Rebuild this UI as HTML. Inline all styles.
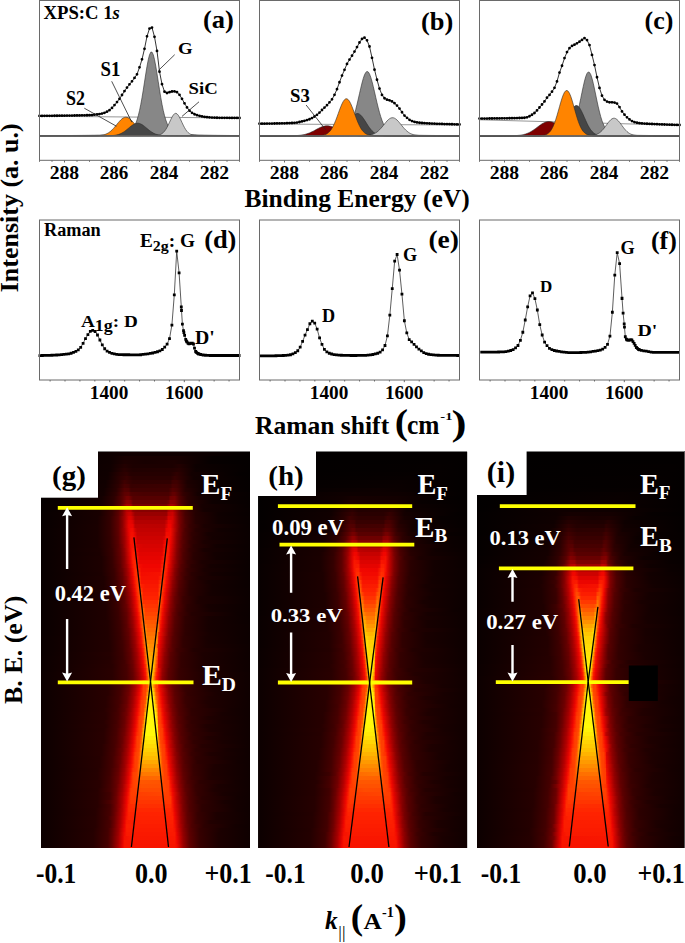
<!DOCTYPE html><html><head><meta charset="utf-8"><style>html,body{margin:0;padding:0;background:#fff;overflow:hidden}svg{display:block}text{font-family:"Liberation Serif",serif}</style></head><body><svg width="685" height="943" viewBox="0 0 685 943"><defs><linearGradient id="r0" gradientUnits="userSpaceOnUse" x1="41" x2="250" y1="0" y2="0"><stop offset="0" stop-color="#030000"/><stop offset="0.35" stop-color="#0e0000"/><stop offset="0.44" stop-color="#110000"/><stop offset="0.69" stop-color="#0f0000"/><stop offset="1" stop-color="#030000"/></linearGradient><linearGradient id="r1" gradientUnits="userSpaceOnUse" x1="41" x2="250" y1="0" y2="0"><stop offset="0" stop-color="#030000"/><stop offset="0.34" stop-color="#0e0000"/><stop offset="0.4" stop-color="#180000"/><stop offset="0.67" stop-color="#160000"/><stop offset="0.82" stop-color="#060000"/><stop offset="1" stop-color="#030000"/></linearGradient><linearGradient id="r2" gradientUnits="userSpaceOnUse" x1="41" x2="250" y1="0" y2="0"><stop offset="0" stop-color="#030000"/><stop offset="0.33" stop-color="#0f0000"/><stop offset="0.4" stop-color="#1d0000"/><stop offset="0.5" stop-color="#180000"/><stop offset="0.64" stop-color="#1c0000"/><stop offset="0.81" stop-color="#070000"/><stop offset="1" stop-color="#040000"/></linearGradient><linearGradient id="r3" gradientUnits="userSpaceOnUse" x1="41" x2="250" y1="0" y2="0"><stop offset="0" stop-color="#030000"/><stop offset="0.33" stop-color="#100000"/><stop offset="0.4" stop-color="#230000"/><stop offset="0.44" stop-color="#1c0000"/><stop offset="0.63" stop-color="#1c0000"/><stop offset="0.66" stop-color="#220000"/><stop offset="0.74" stop-color="#0d0000"/><stop offset="1" stop-color="#040000"/></linearGradient><linearGradient id="r4" gradientUnits="userSpaceOnUse" x1="41" x2="250" y1="0" y2="0"><stop offset="0" stop-color="#030000"/><stop offset="0.33" stop-color="#100000"/><stop offset="0.4" stop-color="#290000"/><stop offset="0.44" stop-color="#200000"/><stop offset="0.63" stop-color="#230000"/><stop offset="0.66" stop-color="#270000"/><stop offset="0.74" stop-color="#0e0000"/><stop offset="1" stop-color="#040000"/></linearGradient><linearGradient id="r5" gradientUnits="userSpaceOnUse" x1="41" x2="250" y1="0" y2="0"><stop offset="0" stop-color="#030000"/><stop offset="0.32" stop-color="#100000"/><stop offset="0.38" stop-color="#280000"/><stop offset="0.41" stop-color="#2f0000"/><stop offset="0.43" stop-color="#250000"/><stop offset="0.62" stop-color="#250000"/><stop offset="0.65" stop-color="#300000"/><stop offset="0.72" stop-color="#130000"/><stop offset="0.95" stop-color="#050000"/><stop offset="1" stop-color="#040000"/></linearGradient><linearGradient id="r6" gradientUnits="userSpaceOnUse" x1="41" x2="250" y1="0" y2="0"><stop offset="0" stop-color="#030000"/><stop offset="0.32" stop-color="#110000"/><stop offset="0.38" stop-color="#2c0000"/><stop offset="0.41" stop-color="#370000"/><stop offset="0.44" stop-color="#2a0000"/><stop offset="0.62" stop-color="#2a0000"/><stop offset="0.64" stop-color="#370000"/><stop offset="0.73" stop-color="#120000"/><stop offset="1" stop-color="#040000"/></linearGradient><linearGradient id="r7" gradientUnits="userSpaceOnUse" x1="41" x2="250" y1="0" y2="0"><stop offset="0" stop-color="#040000"/><stop offset="0.31" stop-color="#110000"/><stop offset="0.37" stop-color="#290000"/><stop offset="0.4" stop-color="#3f0000"/><stop offset="0.44" stop-color="#300000"/><stop offset="0.62" stop-color="#310000"/><stop offset="0.63" stop-color="#3e0000"/><stop offset="0.65" stop-color="#3f0000"/><stop offset="0.7" stop-color="#1c0000"/><stop offset="0.82" stop-color="#090000"/><stop offset="1" stop-color="#050000"/></linearGradient><linearGradient id="r8" gradientUnits="userSpaceOnUse" x1="41" x2="250" y1="0" y2="0"><stop offset="0" stop-color="#040000"/><stop offset="0.31" stop-color="#120000"/><stop offset="0.37" stop-color="#2d0000"/><stop offset="0.4" stop-color="#480000"/><stop offset="0.42" stop-color="#440000"/><stop offset="0.43" stop-color="#370000"/><stop offset="0.62" stop-color="#3c0000"/><stop offset="0.63" stop-color="#480000"/><stop offset="0.65" stop-color="#450000"/><stop offset="0.7" stop-color="#1f0000"/><stop offset="0.8" stop-color="#0b0000"/><stop offset="1" stop-color="#050000"/></linearGradient><linearGradient id="r9" gradientUnits="userSpaceOnUse" x1="41" x2="250" y1="0" y2="0"><stop offset="0" stop-color="#040000"/><stop offset="0.3" stop-color="#120000"/><stop offset="0.36" stop-color="#2a0000"/><stop offset="0.4" stop-color="#530000"/><stop offset="0.42" stop-color="#510000"/><stop offset="0.43" stop-color="#3f0000"/><stop offset="0.61" stop-color="#3f0000"/><stop offset="0.63" stop-color="#540000"/><stop offset="0.65" stop-color="#4c0000"/><stop offset="0.69" stop-color="#270000"/><stop offset="0.78" stop-color="#0e0000"/><stop offset="1" stop-color="#050000"/></linearGradient><linearGradient id="r10" gradientUnits="userSpaceOnUse" x1="41" x2="250" y1="0" y2="0"><stop offset="0" stop-color="#040000"/><stop offset="0.3" stop-color="#130000"/><stop offset="0.36" stop-color="#2f0000"/><stop offset="0.4" stop-color="#5d0000"/><stop offset="0.42" stop-color="#610000"/><stop offset="0.43" stop-color="#4f0000"/><stop offset="0.49" stop-color="#490000"/><stop offset="0.61" stop-color="#490000"/><stop offset="0.63" stop-color="#620000"/><stop offset="0.64" stop-color="#620000"/><stop offset="0.68" stop-color="#330000"/><stop offset="0.75" stop-color="#140000"/><stop offset="1" stop-color="#060000"/></linearGradient><linearGradient id="r11" gradientUnits="userSpaceOnUse" x1="41" x2="250" y1="0" y2="0"><stop offset="0" stop-color="#050000"/><stop offset="0.29" stop-color="#140000"/><stop offset="0.35" stop-color="#2d0000"/><stop offset="0.39" stop-color="#570000"/><stop offset="0.41" stop-color="#750000"/><stop offset="0.42" stop-color="#750000"/><stop offset="0.44" stop-color="#550000"/><stop offset="0.61" stop-color="#550000"/><stop offset="0.62" stop-color="#700000"/><stop offset="0.64" stop-color="#750000"/><stop offset="0.66" stop-color="#500000"/><stop offset="0.7" stop-color="#2a0000"/><stop offset="0.78" stop-color="#110000"/><stop offset="1" stop-color="#060000"/></linearGradient><linearGradient id="r12" gradientUnits="userSpaceOnUse" x1="41" x2="250" y1="0" y2="0"><stop offset="0" stop-color="#050000"/><stop offset="0.28" stop-color="#140000"/><stop offset="0.34" stop-color="#2c0000"/><stop offset="0.38" stop-color="#520000"/><stop offset="0.41" stop-color="#8b0000"/><stop offset="0.42" stop-color="#8b0000"/><stop offset="0.43" stop-color="#7f0000"/><stop offset="0.44" stop-color="#640000"/><stop offset="0.6" stop-color="#640000"/><stop offset="0.61" stop-color="#6d0000"/><stop offset="0.62" stop-color="#890000"/><stop offset="0.64" stop-color="#850000"/><stop offset="0.67" stop-color="#4c0000"/><stop offset="0.72" stop-color="#240000"/><stop offset="0.82" stop-color="#0e0000"/><stop offset="1" stop-color="#070000"/></linearGradient><linearGradient id="r13" gradientUnits="userSpaceOnUse" x1="41" x2="250" y1="0" y2="0"><stop offset="0" stop-color="#060000"/><stop offset="0.28" stop-color="#160000"/><stop offset="0.34" stop-color="#300000"/><stop offset="0.38" stop-color="#5b0000"/><stop offset="0.41" stop-color="#a30000"/><stop offset="0.43" stop-color="#9c0000"/><stop offset="0.44" stop-color="#750000"/><stop offset="0.6" stop-color="#750000"/><stop offset="0.62" stop-color="#a30000"/><stop offset="0.63" stop-color="#a30000"/><stop offset="0.64" stop-color="#950000"/><stop offset="0.66" stop-color="#640000"/><stop offset="0.7" stop-color="#340000"/><stop offset="0.77" stop-color="#170000"/><stop offset="1" stop-color="#070000"/></linearGradient><linearGradient id="r14" gradientUnits="userSpaceOnUse" x1="41" x2="250" y1="0" y2="0"><stop offset="0" stop-color="#060000"/><stop offset="0.28" stop-color="#180000"/><stop offset="0.34" stop-color="#350000"/><stop offset="0.37" stop-color="#540000"/><stop offset="0.39" stop-color="#7a0000"/><stop offset="0.41" stop-color="#b40000"/><stop offset="0.43" stop-color="#b70100"/><stop offset="0.44" stop-color="#910000"/><stop offset="0.46" stop-color="#870000"/><stop offset="0.6" stop-color="#870000"/><stop offset="0.61" stop-color="#aa0000"/><stop offset="0.62" stop-color="#b90100"/><stop offset="0.63" stop-color="#b90100"/><stop offset="0.67" stop-color="#5b0000"/><stop offset="0.71" stop-color="#310000"/><stop offset="0.78" stop-color="#150000"/><stop offset="1" stop-color="#080000"/></linearGradient><linearGradient id="r15" gradientUnits="userSpaceOnUse" x1="41" x2="250" y1="0" y2="0"><stop offset="0" stop-color="#070000"/><stop offset="0.28" stop-color="#190000"/><stop offset="0.34" stop-color="#380000"/><stop offset="0.37" stop-color="#5a0000"/><stop offset="0.39" stop-color="#820000"/><stop offset="0.41" stop-color="#be0100"/><stop offset="0.42" stop-color="#cc0200"/><stop offset="0.43" stop-color="#cc0200"/><stop offset="0.45" stop-color="#980000"/><stop offset="0.6" stop-color="#980000"/><stop offset="0.61" stop-color="#c30200"/><stop offset="0.63" stop-color="#cc0200"/><stop offset="0.66" stop-color="#760000"/><stop offset="0.69" stop-color="#460000"/><stop offset="0.74" stop-color="#240000"/><stop offset="0.85" stop-color="#0f0000"/><stop offset="1" stop-color="#080000"/></linearGradient><linearGradient id="r16" gradientUnits="userSpaceOnUse" x1="41" x2="250" y1="0" y2="0"><stop offset="0" stop-color="#070000"/><stop offset="0.27" stop-color="#180000"/><stop offset="0.33" stop-color="#330000"/><stop offset="0.37" stop-color="#5d0000"/><stop offset="0.4" stop-color="#a50000"/><stop offset="0.42" stop-color="#db0300"/><stop offset="0.43" stop-color="#db0300"/><stop offset="0.44" stop-color="#c80200"/><stop offset="0.45" stop-color="#a70000"/><stop offset="0.59" stop-color="#a70000"/><stop offset="0.6" stop-color="#af0000"/><stop offset="0.61" stop-color="#d80300"/><stop offset="0.63" stop-color="#d50300"/><stop offset="0.66" stop-color="#7b0000"/><stop offset="0.69" stop-color="#490000"/><stop offset="0.74" stop-color="#250000"/><stop offset="0.85" stop-color="#100000"/><stop offset="1" stop-color="#090000"/></linearGradient><linearGradient id="r17" gradientUnits="userSpaceOnUse" x1="41" x2="250" y1="0" y2="0"><stop offset="0" stop-color="#070000"/><stop offset="0.27" stop-color="#190000"/><stop offset="0.33" stop-color="#340000"/><stop offset="0.37" stop-color="#5f0000"/><stop offset="0.39" stop-color="#8a0000"/><stop offset="0.42" stop-color="#e70400"/><stop offset="0.43" stop-color="#e70400"/><stop offset="0.44" stop-color="#dc0300"/><stop offset="0.45" stop-color="#b30000"/><stop offset="0.59" stop-color="#b30000"/><stop offset="0.6" stop-color="#c60200"/><stop offset="0.61" stop-color="#e70400"/><stop offset="0.62" stop-color="#e70400"/><stop offset="0.63" stop-color="#d80300"/><stop offset="0.66" stop-color="#7e0000"/><stop offset="0.69" stop-color="#4b0000"/><stop offset="0.74" stop-color="#260000"/><stop offset="0.85" stop-color="#100000"/><stop offset="1" stop-color="#090000"/></linearGradient><linearGradient id="r18" gradientUnits="userSpaceOnUse" x1="41" x2="250" y1="0" y2="0"><stop offset="0" stop-color="#070000"/><stop offset="0.27" stop-color="#1a0000"/><stop offset="0.33" stop-color="#340000"/><stop offset="0.37" stop-color="#5f0000"/><stop offset="0.39" stop-color="#8a0000"/><stop offset="0.42" stop-color="#eb0500"/><stop offset="0.44" stop-color="#ec0500"/><stop offset="0.45" stop-color="#bd0100"/><stop offset="0.59" stop-color="#bb0100"/><stop offset="0.61" stop-color="#f00500"/><stop offset="0.62" stop-color="#f00500"/><stop offset="0.64" stop-color="#b70100"/><stop offset="0.67" stop-color="#680000"/><stop offset="0.71" stop-color="#380000"/><stop offset="0.78" stop-color="#1b0000"/><stop offset="1" stop-color="#090000"/></linearGradient><linearGradient id="r19" gradientUnits="userSpaceOnUse" x1="41" x2="250" y1="0" y2="0"><stop offset="0" stop-color="#080000"/><stop offset="0.27" stop-color="#1a0000"/><stop offset="0.33" stop-color="#340000"/><stop offset="0.37" stop-color="#5e0000"/><stop offset="0.4" stop-color="#a60000"/><stop offset="0.42" stop-color="#e90400"/><stop offset="0.43" stop-color="#f30a00"/><stop offset="0.44" stop-color="#f20a00"/><stop offset="0.45" stop-color="#d20300"/><stop offset="0.46" stop-color="#c20100"/><stop offset="0.59" stop-color="#c20100"/><stop offset="0.6" stop-color="#eb0500"/><stop offset="0.62" stop-color="#f30a00"/><stop offset="0.66" stop-color="#7d0000"/><stop offset="0.69" stop-color="#4a0000"/><stop offset="0.74" stop-color="#270000"/><stop offset="0.85" stop-color="#110000"/><stop offset="1" stop-color="#0a0000"/></linearGradient><linearGradient id="r20" gradientUnits="userSpaceOnUse" x1="41" x2="250" y1="0" y2="0"><stop offset="0" stop-color="#080000"/><stop offset="0.27" stop-color="#1a0000"/><stop offset="0.33" stop-color="#340000"/><stop offset="0.37" stop-color="#5d0000"/><stop offset="0.4" stop-color="#a30000"/><stop offset="0.42" stop-color="#e50400"/><stop offset="0.43" stop-color="#f50e00"/><stop offset="0.44" stop-color="#f50e00"/><stop offset="0.45" stop-color="#e40400"/><stop offset="0.46" stop-color="#c70200"/><stop offset="0.59" stop-color="#c70200"/><stop offset="0.6" stop-color="#f30b00"/><stop offset="0.62" stop-color="#f30b00"/><stop offset="0.65" stop-color="#940000"/><stop offset="0.68" stop-color="#560000"/><stop offset="0.72" stop-color="#310000"/><stop offset="0.8" stop-color="#160000"/><stop offset="1" stop-color="#0a0000"/></linearGradient><linearGradient id="r21" gradientUnits="userSpaceOnUse" x1="41" x2="250" y1="0" y2="0"><stop offset="0" stop-color="#080000"/><stop offset="0.27" stop-color="#1a0000"/><stop offset="0.33" stop-color="#330000"/><stop offset="0.37" stop-color="#5b0000"/><stop offset="0.4" stop-color="#9f0000"/><stop offset="0.42" stop-color="#e00400"/><stop offset="0.43" stop-color="#f61200"/><stop offset="0.44" stop-color="#f61200"/><stop offset="0.45" stop-color="#f10700"/><stop offset="0.46" stop-color="#cd0200"/><stop offset="0.58" stop-color="#cd0200"/><stop offset="0.59" stop-color="#d90300"/><stop offset="0.6" stop-color="#f61100"/><stop offset="0.61" stop-color="#f61200"/><stop offset="0.62" stop-color="#f10800"/><stop offset="0.65" stop-color="#910000"/><stop offset="0.68" stop-color="#540000"/><stop offset="0.73" stop-color="#2b0000"/><stop offset="0.82" stop-color="#140000"/><stop offset="1" stop-color="#0a0000"/></linearGradient><linearGradient id="r22" gradientUnits="userSpaceOnUse" x1="41" x2="250" y1="0" y2="0"><stop offset="0" stop-color="#080000"/><stop offset="0.27" stop-color="#1a0000"/><stop offset="0.33" stop-color="#330000"/><stop offset="0.37" stop-color="#5a0000"/><stop offset="0.4" stop-color="#9c0000"/><stop offset="0.42" stop-color="#db0300"/><stop offset="0.43" stop-color="#f71300"/><stop offset="0.45" stop-color="#f61000"/><stop offset="0.46" stop-color="#d20300"/><stop offset="0.58" stop-color="#d20300"/><stop offset="0.59" stop-color="#eb0500"/><stop offset="0.6" stop-color="#f81500"/><stop offset="0.61" stop-color="#f81500"/><stop offset="0.62" stop-color="#ef0500"/><stop offset="0.65" stop-color="#8d0000"/><stop offset="0.67" stop-color="#610000"/><stop offset="0.71" stop-color="#360000"/><stop offset="0.78" stop-color="#1b0000"/><stop offset="1" stop-color="#0a0000"/></linearGradient><linearGradient id="r23" gradientUnits="userSpaceOnUse" x1="41" x2="250" y1="0" y2="0"><stop offset="0" stop-color="#080000"/><stop offset="0.27" stop-color="#1a0000"/><stop offset="0.33" stop-color="#320000"/><stop offset="0.37" stop-color="#580000"/><stop offset="0.39" stop-color="#7e0000"/><stop offset="0.42" stop-color="#d70300"/><stop offset="0.43" stop-color="#f50f00"/><stop offset="0.45" stop-color="#f91700"/><stop offset="0.46" stop-color="#de0400"/><stop offset="0.49" stop-color="#d70300"/><stop offset="0.58" stop-color="#d70300"/><stop offset="0.59" stop-color="#f40d00"/><stop offset="0.6" stop-color="#fa1800"/><stop offset="0.61" stop-color="#fa1800"/><stop offset="0.62" stop-color="#e90400"/><stop offset="0.65" stop-color="#8a0000"/><stop offset="0.68" stop-color="#510000"/><stop offset="0.73" stop-color="#2a0000"/><stop offset="0.84" stop-color="#120000"/><stop offset="1" stop-color="#0a0000"/></linearGradient><linearGradient id="r24" gradientUnits="userSpaceOnUse" x1="41" x2="250" y1="0" y2="0"><stop offset="0" stop-color="#080000"/><stop offset="0.28" stop-color="#1c0000"/><stop offset="0.34" stop-color="#380000"/><stop offset="0.38" stop-color="#660000"/><stop offset="0.4" stop-color="#940000"/><stop offset="0.43" stop-color="#f30b00"/><stop offset="0.44" stop-color="#fb1b00"/><stop offset="0.45" stop-color="#fb1c00"/><stop offset="0.46" stop-color="#f00600"/><stop offset="0.47" stop-color="#dc0300"/><stop offset="0.58" stop-color="#dc0300"/><stop offset="0.59" stop-color="#f91600"/><stop offset="0.61" stop-color="#fb1a00"/><stop offset="0.62" stop-color="#e40400"/><stop offset="0.65" stop-color="#870000"/><stop offset="0.67" stop-color="#5d0000"/><stop offset="0.71" stop-color="#340000"/><stop offset="0.78" stop-color="#190000"/><stop offset="1" stop-color="#0a0000"/></linearGradient><linearGradient id="r25" gradientUnits="userSpaceOnUse" x1="41" x2="250" y1="0" y2="0"><stop offset="0" stop-color="#080000"/><stop offset="0.28" stop-color="#1b0000"/><stop offset="0.34" stop-color="#370000"/><stop offset="0.38" stop-color="#640000"/><stop offset="0.4" stop-color="#900000"/><stop offset="0.43" stop-color="#f10700"/><stop offset="0.44" stop-color="#fd1f00"/><stop offset="0.45" stop-color="#fd1f00"/><stop offset="0.46" stop-color="#f61100"/><stop offset="0.47" stop-color="#e10400"/><stop offset="0.58" stop-color="#e30400"/><stop offset="0.59" stop-color="#fc1d00"/><stop offset="0.6" stop-color="#fd1f00"/><stop offset="0.61" stop-color="#f81600"/><stop offset="0.62" stop-color="#df0400"/><stop offset="0.65" stop-color="#830000"/><stop offset="0.68" stop-color="#4e0000"/><stop offset="0.73" stop-color="#290000"/><stop offset="0.83" stop-color="#130000"/><stop offset="1" stop-color="#0a0000"/></linearGradient><linearGradient id="r26" gradientUnits="userSpaceOnUse" x1="41" x2="250" y1="0" y2="0"><stop offset="0" stop-color="#080000"/><stop offset="0.29" stop-color="#1d0000"/><stop offset="0.34" stop-color="#360000"/><stop offset="0.38" stop-color="#610000"/><stop offset="0.4" stop-color="#8c0000"/><stop offset="0.43" stop-color="#ed0500"/><stop offset="0.44" stop-color="#fe2100"/><stop offset="0.46" stop-color="#fb1b00"/><stop offset="0.47" stop-color="#e60400"/><stop offset="0.57" stop-color="#e60400"/><stop offset="0.58" stop-color="#f20a00"/><stop offset="0.59" stop-color="#fe2200"/><stop offset="0.6" stop-color="#fe2200"/><stop offset="0.61" stop-color="#f61100"/><stop offset="0.62" stop-color="#da0300"/><stop offset="0.65" stop-color="#800000"/><stop offset="0.68" stop-color="#4d0000"/><stop offset="0.73" stop-color="#280000"/><stop offset="0.84" stop-color="#120000"/><stop offset="1" stop-color="#0a0000"/></linearGradient><linearGradient id="r27" gradientUnits="userSpaceOnUse" x1="41" x2="250" y1="0" y2="0"><stop offset="0" stop-color="#080000"/><stop offset="0.29" stop-color="#1d0000"/><stop offset="0.34" stop-color="#350000"/><stop offset="0.38" stop-color="#5f0000"/><stop offset="0.4" stop-color="#880000"/><stop offset="0.43" stop-color="#e60400"/><stop offset="0.44" stop-color="#fc1c00"/><stop offset="0.45" stop-color="#ff2600"/><stop offset="0.46" stop-color="#ff2300"/><stop offset="0.47" stop-color="#eb0500"/><stop offset="0.57" stop-color="#eb0500"/><stop offset="0.59" stop-color="#ff2600"/><stop offset="0.6" stop-color="#ff2600"/><stop offset="0.61" stop-color="#f40d00"/><stop offset="0.63" stop-color="#b40000"/><stop offset="0.66" stop-color="#670000"/><stop offset="0.7" stop-color="#390000"/><stop offset="0.77" stop-color="#1c0000"/><stop offset="1" stop-color="#0a0000"/></linearGradient><linearGradient id="r28" gradientUnits="userSpaceOnUse" x1="41" x2="250" y1="0" y2="0"><stop offset="0" stop-color="#080000"/><stop offset="0.29" stop-color="#1d0000"/><stop offset="0.34" stop-color="#340000"/><stop offset="0.38" stop-color="#5b0000"/><stop offset="0.41" stop-color="#9e0000"/><stop offset="0.43" stop-color="#de0400"/><stop offset="0.44" stop-color="#f81500"/><stop offset="0.45" stop-color="#ff2900"/><stop offset="0.46" stop-color="#ff2c00"/><stop offset="0.47" stop-color="#f40d00"/><stop offset="0.49" stop-color="#f00500"/><stop offset="0.57" stop-color="#f00500"/><stop offset="0.58" stop-color="#fe2000"/><stop offset="0.59" stop-color="#ff2b00"/><stop offset="0.6" stop-color="#ff2700"/><stop offset="0.61" stop-color="#f00600"/><stop offset="0.64" stop-color="#900000"/><stop offset="0.67" stop-color="#540000"/><stop offset="0.72" stop-color="#2c0000"/><stop offset="0.81" stop-color="#150000"/><stop offset="1" stop-color="#0a0000"/></linearGradient><linearGradient id="r29" gradientUnits="userSpaceOnUse" x1="41" x2="250" y1="0" y2="0"><stop offset="0" stop-color="#080000"/><stop offset="0.29" stop-color="#1d0000"/><stop offset="0.35" stop-color="#390000"/><stop offset="0.39" stop-color="#690000"/><stop offset="0.41" stop-color="#970000"/><stop offset="0.43" stop-color="#d50300"/><stop offset="0.44" stop-color="#f40e00"/><stop offset="0.45" stop-color="#ff2a00"/><stop offset="0.46" stop-color="#ff3200"/><stop offset="0.48" stop-color="#f20900"/><stop offset="0.57" stop-color="#f20900"/><stop offset="0.58" stop-color="#ff2e00"/><stop offset="0.59" stop-color="#ff2e00"/><stop offset="0.6" stop-color="#fd1e00"/><stop offset="0.61" stop-color="#e80400"/><stop offset="0.64" stop-color="#8a0000"/><stop offset="0.66" stop-color="#600000"/><stop offset="0.7" stop-color="#360000"/><stop offset="0.78" stop-color="#1a0000"/><stop offset="1" stop-color="#0a0000"/></linearGradient><linearGradient id="r30" gradientUnits="userSpaceOnUse" x1="41" x2="250" y1="0" y2="0"><stop offset="0" stop-color="#080000"/><stop offset="0.29" stop-color="#1c0000"/><stop offset="0.35" stop-color="#380000"/><stop offset="0.39" stop-color="#640000"/><stop offset="0.42" stop-color="#af0000"/><stop offset="0.44" stop-color="#f10700"/><stop offset="0.45" stop-color="#ff2a00"/><stop offset="0.46" stop-color="#ff3600"/><stop offset="0.47" stop-color="#ff2700"/><stop offset="0.48" stop-color="#f40c00"/><stop offset="0.57" stop-color="#f61100"/><stop offset="0.58" stop-color="#ff3900"/><stop offset="0.59" stop-color="#ff2f00"/><stop offset="0.6" stop-color="#f91700"/><stop offset="0.61" stop-color="#df0400"/><stop offset="0.64" stop-color="#840000"/><stop offset="0.67" stop-color="#4f0000"/><stop offset="0.72" stop-color="#2a0000"/><stop offset="0.82" stop-color="#140000"/><stop offset="1" stop-color="#0a0000"/></linearGradient><linearGradient id="r31" gradientUnits="userSpaceOnUse" x1="41" x2="250" y1="0" y2="0"><stop offset="0" stop-color="#080000"/><stop offset="0.3" stop-color="#1e0000"/><stop offset="0.35" stop-color="#370000"/><stop offset="0.39" stop-color="#610000"/><stop offset="0.41" stop-color="#8b0000"/><stop offset="0.44" stop-color="#ea0500"/><stop offset="0.45" stop-color="#fe2000"/><stop offset="0.46" stop-color="#ff3700"/><stop offset="0.47" stop-color="#ff3900"/><stop offset="0.48" stop-color="#f61000"/><stop offset="0.56" stop-color="#f61000"/><stop offset="0.57" stop-color="#fc1e00"/><stop offset="0.58" stop-color="#ff3e00"/><stop offset="0.59" stop-color="#ff2e00"/><stop offset="0.6" stop-color="#f50f00"/><stop offset="0.62" stop-color="#b70100"/><stop offset="0.65" stop-color="#6a0000"/><stop offset="0.69" stop-color="#3a0000"/><stop offset="0.76" stop-color="#1d0000"/><stop offset="1" stop-color="#0a0000"/></linearGradient><linearGradient id="r32" gradientUnits="userSpaceOnUse" x1="41" x2="250" y1="0" y2="0"><stop offset="0" stop-color="#080000"/><stop offset="0.3" stop-color="#1e0000"/><stop offset="0.36" stop-color="#3c0000"/><stop offset="0.39" stop-color="#5d0000"/><stop offset="0.41" stop-color="#850000"/><stop offset="0.44" stop-color="#e10400"/><stop offset="0.45" stop-color="#fa1800"/><stop offset="0.46" stop-color="#ff3600"/><stop offset="0.47" stop-color="#ff4500"/><stop offset="0.48" stop-color="#f71400"/><stop offset="0.56" stop-color="#f71400"/><stop offset="0.57" stop-color="#ff3000"/><stop offset="0.58" stop-color="#ff4100"/><stop offset="0.59" stop-color="#ff2d00"/><stop offset="0.6" stop-color="#f20800"/><stop offset="0.63" stop-color="#920000"/><stop offset="0.66" stop-color="#560000"/><stop offset="0.71" stop-color="#2d0000"/><stop offset="0.8" stop-color="#160000"/><stop offset="1" stop-color="#0a0000"/></linearGradient><linearGradient id="r33" gradientUnits="userSpaceOnUse" x1="41" x2="250" y1="0" y2="0"><stop offset="0" stop-color="#080000"/><stop offset="0.3" stop-color="#1e0000"/><stop offset="0.36" stop-color="#3b0000"/><stop offset="0.4" stop-color="#6b0000"/><stop offset="0.43" stop-color="#b80100"/><stop offset="0.44" stop-color="#d90300"/><stop offset="0.45" stop-color="#f61100"/><stop offset="0.46" stop-color="#ff3400"/><stop offset="0.47" stop-color="#ff4b00"/><stop offset="0.48" stop-color="#fe2200"/><stop offset="0.5" stop-color="#f91800"/><stop offset="0.56" stop-color="#f91800"/><stop offset="0.57" stop-color="#ff4300"/><stop offset="0.58" stop-color="#ff4100"/><stop offset="0.59" stop-color="#ff2200"/><stop offset="0.6" stop-color="#ec0500"/><stop offset="0.63" stop-color="#8d0000"/><stop offset="0.66" stop-color="#540000"/><stop offset="0.71" stop-color="#2c0000"/><stop offset="0.82" stop-color="#140000"/><stop offset="1" stop-color="#0a0000"/></linearGradient><linearGradient id="r34" gradientUnits="userSpaceOnUse" x1="41" x2="250" y1="0" y2="0"><stop offset="0" stop-color="#080000"/><stop offset="0.3" stop-color="#1e0000"/><stop offset="0.36" stop-color="#390000"/><stop offset="0.4" stop-color="#670000"/><stop offset="0.43" stop-color="#b20000"/><stop offset="0.45" stop-color="#f20a00"/><stop offset="0.46" stop-color="#ff3000"/><stop offset="0.47" stop-color="#ff4d00"/><stop offset="0.48" stop-color="#ff3a00"/><stop offset="0.49" stop-color="#fb1b00"/><stop offset="0.56" stop-color="#fb1b00"/><stop offset="0.57" stop-color="#ff5000"/><stop offset="0.58" stop-color="#ff3e00"/><stop offset="0.59" stop-color="#fa1a00"/><stop offset="0.6" stop-color="#e30400"/><stop offset="0.63" stop-color="#870000"/><stop offset="0.66" stop-color="#510000"/><stop offset="0.71" stop-color="#2b0000"/><stop offset="0.82" stop-color="#140000"/><stop offset="1" stop-color="#0b0000"/></linearGradient><linearGradient id="r35" gradientUnits="userSpaceOnUse" x1="41" x2="250" y1="0" y2="0"><stop offset="0" stop-color="#080000"/><stop offset="0.3" stop-color="#1d0000"/><stop offset="0.36" stop-color="#380000"/><stop offset="0.4" stop-color="#630000"/><stop offset="0.43" stop-color="#ab0000"/><stop offset="0.45" stop-color="#ed0500"/><stop offset="0.46" stop-color="#ff2600"/><stop offset="0.47" stop-color="#ff4b00"/><stop offset="0.48" stop-color="#ff4e00"/><stop offset="0.49" stop-color="#fd1f00"/><stop offset="0.56" stop-color="#fd1f00"/><stop offset="0.56" stop-color="#ff2800"/><stop offset="0.57" stop-color="#ff5700"/><stop offset="0.59" stop-color="#f71200"/><stop offset="0.6" stop-color="#da0300"/><stop offset="0.63" stop-color="#810000"/><stop offset="0.66" stop-color="#4e0000"/><stop offset="0.71" stop-color="#2b0000"/><stop offset="0.81" stop-color="#150000"/><stop offset="1" stop-color="#0b0000"/></linearGradient><linearGradient id="r36" gradientUnits="userSpaceOnUse" x1="41" x2="250" y1="0" y2="0"><stop offset="0" stop-color="#090000"/><stop offset="0.3" stop-color="#1d0000"/><stop offset="0.36" stop-color="#370000"/><stop offset="0.4" stop-color="#5f0000"/><stop offset="0.43" stop-color="#a40000"/><stop offset="0.45" stop-color="#e40400"/><stop offset="0.46" stop-color="#fb1c00"/><stop offset="0.47" stop-color="#ff4600"/><stop offset="0.48" stop-color="#ff5c00"/><stop offset="0.49" stop-color="#ff2300"/><stop offset="0.56" stop-color="#ff2300"/><stop offset="0.57" stop-color="#ff5900"/><stop offset="0.58" stop-color="#ff3400"/><stop offset="0.59" stop-color="#f30b00"/><stop offset="0.62" stop-color="#960000"/><stop offset="0.64" stop-color="#680000"/><stop offset="0.68" stop-color="#3a0000"/><stop offset="0.76" stop-color="#1c0000"/><stop offset="1" stop-color="#0b0000"/></linearGradient><linearGradient id="r37" gradientUnits="userSpaceOnUse" x1="41" x2="250" y1="0" y2="0"><stop offset="0" stop-color="#090000"/><stop offset="0.31" stop-color="#1f0000"/><stop offset="0.36" stop-color="#360000"/><stop offset="0.4" stop-color="#5c0000"/><stop offset="0.43" stop-color="#9d0000"/><stop offset="0.45" stop-color="#dc0300"/><stop offset="0.46" stop-color="#f71400"/><stop offset="0.48" stop-color="#ff6400"/><stop offset="0.49" stop-color="#ff3000"/><stop offset="0.56" stop-color="#ff2b00"/><stop offset="0.56" stop-color="#ff5800"/><stop offset="0.57" stop-color="#ff5600"/><stop offset="0.58" stop-color="#ff2b00"/><stop offset="0.59" stop-color="#ef0500"/><stop offset="0.62" stop-color="#900000"/><stop offset="0.64" stop-color="#640000"/><stop offset="0.68" stop-color="#390000"/><stop offset="0.75" stop-color="#1e0000"/><stop offset="1" stop-color="#0b0000"/></linearGradient><linearGradient id="r38" gradientUnits="userSpaceOnUse" x1="41" x2="250" y1="0" y2="0"><stop offset="0" stop-color="#090000"/><stop offset="0.31" stop-color="#1f0000"/><stop offset="0.37" stop-color="#3b0000"/><stop offset="0.41" stop-color="#690000"/><stop offset="0.44" stop-color="#b50000"/><stop offset="0.46" stop-color="#f40d00"/><stop offset="0.47" stop-color="#ff3900"/><stop offset="0.48" stop-color="#ff6500"/><stop offset="0.5" stop-color="#ff3400"/><stop offset="0.56" stop-color="#ff3400"/><stop offset="0.56" stop-color="#ff6800"/><stop offset="0.57" stop-color="#ff4f00"/><stop offset="0.58" stop-color="#fc1e00"/><stop offset="0.59" stop-color="#e60400"/><stop offset="0.62" stop-color="#8a0000"/><stop offset="0.65" stop-color="#530000"/><stop offset="0.7" stop-color="#2d0000"/><stop offset="0.8" stop-color="#160000"/><stop offset="1" stop-color="#0b0000"/></linearGradient><linearGradient id="r39" gradientUnits="userSpaceOnUse" x1="41" x2="250" y1="0" y2="0"><stop offset="0" stop-color="#090000"/><stop offset="0.31" stop-color="#1f0000"/><stop offset="0.37" stop-color="#3a0000"/><stop offset="0.41" stop-color="#660000"/><stop offset="0.43" stop-color="#910000"/><stop offset="0.46" stop-color="#f00600"/><stop offset="0.47" stop-color="#ff3100"/><stop offset="0.48" stop-color="#ff6100"/><stop offset="0.49" stop-color="#ff6300"/><stop offset="0.5" stop-color="#ff3c00"/><stop offset="0.56" stop-color="#ff3c00"/><stop offset="0.56" stop-color="#ff7000"/><stop offset="0.58" stop-color="#f81600"/><stop offset="0.59" stop-color="#de0400"/><stop offset="0.62" stop-color="#840000"/><stop offset="0.65" stop-color="#510000"/><stop offset="0.7" stop-color="#2c0000"/><stop offset="0.81" stop-color="#160000"/><stop offset="1" stop-color="#0b0000"/></linearGradient><linearGradient id="r40" gradientUnits="userSpaceOnUse" x1="41" x2="250" y1="0" y2="0"><stop offset="0" stop-color="#090000"/><stop offset="0.31" stop-color="#1f0000"/><stop offset="0.37" stop-color="#390000"/><stop offset="0.41" stop-color="#620000"/><stop offset="0.43" stop-color="#8b0000"/><stop offset="0.46" stop-color="#e80400"/><stop offset="0.47" stop-color="#fd2000"/><stop offset="0.48" stop-color="#ff5900"/><stop offset="0.49" stop-color="#ff7300"/><stop offset="0.5" stop-color="#ff4400"/><stop offset="0.55" stop-color="#ff4400"/><stop offset="0.56" stop-color="#ff5500"/><stop offset="0.56" stop-color="#ff7200"/><stop offset="0.58" stop-color="#f50e00"/><stop offset="0.6" stop-color="#b60100"/><stop offset="0.63" stop-color="#6b0000"/><stop offset="0.66" stop-color="#440000"/><stop offset="0.72" stop-color="#250000"/><stop offset="0.94" stop-color="#0e0000"/><stop offset="1" stop-color="#0b0000"/></linearGradient><linearGradient id="r41" gradientUnits="userSpaceOnUse" x1="41" x2="250" y1="0" y2="0"><stop offset="0" stop-color="#090000"/><stop offset="0.31" stop-color="#1f0000"/><stop offset="0.37" stop-color="#380000"/><stop offset="0.41" stop-color="#5f0000"/><stop offset="0.44" stop-color="#a10000"/><stop offset="0.46" stop-color="#e00400"/><stop offset="0.47" stop-color="#f91700"/><stop offset="0.49" stop-color="#ff7d00"/><stop offset="0.5" stop-color="#ff4d00"/><stop offset="0.55" stop-color="#ff4d00"/><stop offset="0.56" stop-color="#ff6d00"/><stop offset="0.56" stop-color="#ff6d00"/><stop offset="0.57" stop-color="#ff3700"/><stop offset="0.58" stop-color="#f10700"/><stop offset="0.61" stop-color="#930000"/><stop offset="0.64" stop-color="#580000"/><stop offset="0.69" stop-color="#2f0000"/><stop offset="0.8" stop-color="#170000"/><stop offset="1" stop-color="#0b0000"/></linearGradient><linearGradient id="r42" gradientUnits="userSpaceOnUse" x1="41" x2="250" y1="0" y2="0"><stop offset="0" stop-color="#090000"/><stop offset="0.32" stop-color="#210000"/><stop offset="0.38" stop-color="#3d0000"/><stop offset="0.41" stop-color="#5c0000"/><stop offset="0.44" stop-color="#9b0000"/><stop offset="0.46" stop-color="#d80300"/><stop offset="0.47" stop-color="#f51000"/><stop offset="0.49" stop-color="#ff7f00"/><stop offset="0.5" stop-color="#ff5d00"/><stop offset="0.53" stop-color="#ff5600"/><stop offset="0.55" stop-color="#ff5600"/><stop offset="0.56" stop-color="#ff7e00"/><stop offset="0.56" stop-color="#ff6300"/><stop offset="0.57" stop-color="#ff2200"/><stop offset="0.58" stop-color="#ea0500"/><stop offset="0.61" stop-color="#8d0000"/><stop offset="0.64" stop-color="#550000"/><stop offset="0.69" stop-color="#2f0000"/><stop offset="0.8" stop-color="#170000"/><stop offset="1" stop-color="#0b0000"/></linearGradient><linearGradient id="r43" gradientUnits="userSpaceOnUse" x1="41" x2="250" y1="0" y2="0"><stop offset="0" stop-color="#090000"/><stop offset="0.32" stop-color="#210000"/><stop offset="0.38" stop-color="#3c0000"/><stop offset="0.41" stop-color="#590000"/><stop offset="0.44" stop-color="#950000"/><stop offset="0.47" stop-color="#f20900"/><stop offset="0.48" stop-color="#ff3b00"/><stop offset="0.49" stop-color="#ff7900"/><stop offset="0.5" stop-color="#ff7700"/><stop offset="0.51" stop-color="#ff5e00"/><stop offset="0.55" stop-color="#ff5e00"/><stop offset="0.56" stop-color="#ff8900"/><stop offset="0.57" stop-color="#fa1900"/><stop offset="0.58" stop-color="#e20400"/><stop offset="0.61" stop-color="#880000"/><stop offset="0.64" stop-color="#530000"/><stop offset="0.69" stop-color="#2e0000"/><stop offset="0.8" stop-color="#170000"/><stop offset="1" stop-color="#0c0000"/></linearGradient><linearGradient id="r44" gradientUnits="userSpaceOnUse" x1="41" x2="250" y1="0" y2="0"><stop offset="0" stop-color="#090000"/><stop offset="0.32" stop-color="#210000"/><stop offset="0.38" stop-color="#3b0000"/><stop offset="0.42" stop-color="#650000"/><stop offset="0.44" stop-color="#8f0000"/><stop offset="0.47" stop-color="#ec0500"/><stop offset="0.48" stop-color="#ff2600"/><stop offset="0.49" stop-color="#ff6e00"/><stop offset="0.5" stop-color="#ff8a00"/><stop offset="0.51" stop-color="#ff6700"/><stop offset="0.55" stop-color="#ff6700"/><stop offset="0.56" stop-color="#ff8c00"/><stop offset="0.57" stop-color="#f61100"/><stop offset="0.58" stop-color="#da0300"/><stop offset="0.61" stop-color="#830000"/><stop offset="0.64" stop-color="#510000"/><stop offset="0.69" stop-color="#2e0000"/><stop offset="0.8" stop-color="#170000"/><stop offset="1" stop-color="#0c0000"/></linearGradient><linearGradient id="r45" gradientUnits="userSpaceOnUse" x1="41" x2="250" y1="0" y2="0"><stop offset="0" stop-color="#090000"/><stop offset="0.32" stop-color="#210000"/><stop offset="0.38" stop-color="#3a0000"/><stop offset="0.42" stop-color="#620000"/><stop offset="0.45" stop-color="#a50000"/><stop offset="0.47" stop-color="#e40400"/><stop offset="0.48" stop-color="#fb1b00"/><stop offset="0.49" stop-color="#ff6000"/><stop offset="0.5" stop-color="#ff9500"/><stop offset="0.51" stop-color="#ff7000"/><stop offset="0.54" stop-color="#ff7000"/><stop offset="0.56" stop-color="#ff8600"/><stop offset="0.56" stop-color="#ff4000"/><stop offset="0.57" stop-color="#f30a00"/><stop offset="0.61" stop-color="#7e0000"/><stop offset="0.64" stop-color="#4f0000"/><stop offset="0.69" stop-color="#2d0000"/><stop offset="0.81" stop-color="#170000"/><stop offset="1" stop-color="#0c0000"/></linearGradient><linearGradient id="r46" gradientUnits="userSpaceOnUse" x1="41" x2="250" y1="0" y2="0"><stop offset="0" stop-color="#0a0000"/><stop offset="0.32" stop-color="#210000"/><stop offset="0.38" stop-color="#390000"/><stop offset="0.42" stop-color="#5f0000"/><stop offset="0.45" stop-color="#9f0000"/><stop offset="0.47" stop-color="#dc0300"/><stop offset="0.48" stop-color="#f71300"/><stop offset="0.5" stop-color="#ff9900"/><stop offset="0.51" stop-color="#ff7900"/><stop offset="0.54" stop-color="#ff7900"/><stop offset="0.55" stop-color="#ff9500"/><stop offset="0.56" stop-color="#ff7a00"/><stop offset="0.56" stop-color="#ff2c00"/><stop offset="0.57" stop-color="#ee0500"/><stop offset="0.6" stop-color="#910000"/><stop offset="0.63" stop-color="#580000"/><stop offset="0.68" stop-color="#310000"/><stop offset="0.79" stop-color="#190000"/><stop offset="1" stop-color="#0c0000"/></linearGradient><linearGradient id="r47" gradientUnits="userSpaceOnUse" x1="41" x2="250" y1="0" y2="0"><stop offset="0" stop-color="#0a0000"/><stop offset="0.33" stop-color="#230000"/><stop offset="0.39" stop-color="#3f0000"/><stop offset="0.42" stop-color="#5c0000"/><stop offset="0.45" stop-color="#990000"/><stop offset="0.48" stop-color="#f40c00"/><stop offset="0.49" stop-color="#ff4500"/><stop offset="0.5" stop-color="#ff9300"/><stop offset="0.52" stop-color="#ff8300"/><stop offset="0.54" stop-color="#ff8300"/><stop offset="0.55" stop-color="#ffa200"/><stop offset="0.56" stop-color="#ff6900"/><stop offset="0.56" stop-color="#fc1d00"/><stop offset="0.57" stop-color="#e60400"/><stop offset="0.6" stop-color="#8c0000"/><stop offset="0.63" stop-color="#560000"/><stop offset="0.68" stop-color="#300000"/><stop offset="0.8" stop-color="#180000"/><stop offset="1" stop-color="#0c0000"/></linearGradient><linearGradient id="r48" gradientUnits="userSpaceOnUse" x1="41" x2="250" y1="0" y2="0"><stop offset="0" stop-color="#0a0000"/><stop offset="0.33" stop-color="#230000"/><stop offset="0.39" stop-color="#3e0000"/><stop offset="0.42" stop-color="#5a0000"/><stop offset="0.45" stop-color="#930000"/><stop offset="0.48" stop-color="#f00600"/><stop offset="0.49" stop-color="#ff3200"/><stop offset="0.5" stop-color="#ff8600"/><stop offset="0.51" stop-color="#ffa000"/><stop offset="0.52" stop-color="#ff8c00"/><stop offset="0.54" stop-color="#ff8c00"/><stop offset="0.55" stop-color="#ffa700"/><stop offset="0.56" stop-color="#f81500"/><stop offset="0.57" stop-color="#de0400"/><stop offset="0.6" stop-color="#870000"/><stop offset="0.63" stop-color="#540000"/><stop offset="0.68" stop-color="#300000"/><stop offset="0.79" stop-color="#1a0000"/><stop offset="1" stop-color="#0d0000"/></linearGradient><linearGradient id="r49" gradientUnits="userSpaceOnUse" x1="41" x2="250" y1="0" y2="0"><stop offset="0" stop-color="#0a0000"/><stop offset="0.33" stop-color="#230000"/><stop offset="0.39" stop-color="#3d0000"/><stop offset="0.43" stop-color="#650000"/><stop offset="0.46" stop-color="#aa0000"/><stop offset="0.48" stop-color="#e80400"/><stop offset="0.49" stop-color="#fd2000"/><stop offset="0.5" stop-color="#ff7400"/><stop offset="0.51" stop-color="#ffae00"/><stop offset="0.52" stop-color="#ff9500"/><stop offset="0.54" stop-color="#ff9500"/><stop offset="0.55" stop-color="#ffa100"/><stop offset="0.56" stop-color="#ff4b00"/><stop offset="0.56" stop-color="#f40e00"/><stop offset="0.58" stop-color="#b80100"/><stop offset="0.61" stop-color="#6e0000"/><stop offset="0.65" stop-color="#400000"/><stop offset="0.73" stop-color="#220000"/><stop offset="1" stop-color="#0d0000"/></linearGradient><linearGradient id="r50" gradientUnits="userSpaceOnUse" x1="41" x2="250" y1="0" y2="0"><stop offset="0" stop-color="#0a0000"/><stop offset="0.33" stop-color="#250000"/><stop offset="0.39" stop-color="#3c0000"/><stop offset="0.43" stop-color="#620000"/><stop offset="0.46" stop-color="#a30000"/><stop offset="0.48" stop-color="#e00400"/><stop offset="0.49" stop-color="#f91700"/><stop offset="0.51" stop-color="#ffb500"/><stop offset="0.52" stop-color="#ff9f00"/><stop offset="0.53" stop-color="#ff9f00"/><stop offset="0.54" stop-color="#ffab00"/><stop offset="0.55" stop-color="#ff9300"/><stop offset="0.56" stop-color="#ff3800"/><stop offset="0.56" stop-color="#f10700"/><stop offset="0.59" stop-color="#960000"/><stop offset="0.62" stop-color="#5b0000"/><stop offset="0.67" stop-color="#340000"/><stop offset="0.77" stop-color="#1d0000"/><stop offset="1" stop-color="#0d0000"/></linearGradient><linearGradient id="r51" gradientUnits="userSpaceOnUse" x1="41" x2="250" y1="0" y2="0"><stop offset="0" stop-color="#0b0000"/><stop offset="0.33" stop-color="#240000"/><stop offset="0.39" stop-color="#3b0000"/><stop offset="0.43" stop-color="#600000"/><stop offset="0.46" stop-color="#9e0000"/><stop offset="0.48" stop-color="#d90300"/><stop offset="0.49" stop-color="#f51000"/><stop offset="0.5" stop-color="#ff5100"/><stop offset="0.51" stop-color="#ffb100"/><stop offset="0.53" stop-color="#ffaa00"/><stop offset="0.54" stop-color="#ffbc00"/><stop offset="0.55" stop-color="#ff8000"/><stop offset="0.56" stop-color="#ff2300"/><stop offset="0.56" stop-color="#eb0500"/><stop offset="0.59" stop-color="#900000"/><stop offset="0.62" stop-color="#590000"/><stop offset="0.67" stop-color="#330000"/><stop offset="0.78" stop-color="#1c0000"/><stop offset="1" stop-color="#0d0000"/></linearGradient><linearGradient id="r52" gradientUnits="userSpaceOnUse" x1="41" x2="250" y1="0" y2="0"><stop offset="0" stop-color="#0b0000"/><stop offset="0.33" stop-color="#260000"/><stop offset="0.4" stop-color="#410000"/><stop offset="0.44" stop-color="#6d0000"/><stop offset="0.47" stop-color="#b40000"/><stop offset="0.49" stop-color="#f20900"/><stop offset="0.5" stop-color="#ff4000"/><stop offset="0.51" stop-color="#ffa200"/><stop offset="0.52" stop-color="#ffb800"/><stop offset="0.53" stop-color="#ffb400"/><stop offset="0.54" stop-color="#ffc201"/><stop offset="0.56" stop-color="#fa1a00"/><stop offset="0.56" stop-color="#e30400"/><stop offset="0.59" stop-color="#8c0000"/><stop offset="0.62" stop-color="#570000"/><stop offset="0.67" stop-color="#330000"/><stop offset="0.79" stop-color="#1b0000"/><stop offset="1" stop-color="#0e0000"/></linearGradient><linearGradient id="r53" gradientUnits="userSpaceOnUse" x1="41" x2="250" y1="0" y2="0"><stop offset="0" stop-color="#0b0000"/><stop offset="0.34" stop-color="#280000"/><stop offset="0.41" stop-color="#470000"/><stop offset="0.44" stop-color="#6a0000"/><stop offset="0.47" stop-color="#af0000"/><stop offset="0.49" stop-color="#ed0500"/><stop offset="0.5" stop-color="#ff2800"/><stop offset="0.51" stop-color="#ff8d00"/><stop offset="0.52" stop-color="#ffc601"/><stop offset="0.54" stop-color="#ffc000"/><stop offset="0.55" stop-color="#ff5900"/><stop offset="0.56" stop-color="#f61200"/><stop offset="0.56" stop-color="#db0300"/><stop offset="0.59" stop-color="#870000"/><stop offset="0.62" stop-color="#560000"/><stop offset="0.67" stop-color="#330000"/><stop offset="0.78" stop-color="#1d0000"/><stop offset="1" stop-color="#0e0000"/></linearGradient><linearGradient id="r54" gradientUnits="userSpaceOnUse" x1="41" x2="250" y1="0" y2="0"><stop offset="0" stop-color="#0b0000"/><stop offset="0.34" stop-color="#290000"/><stop offset="0.41" stop-color="#460000"/><stop offset="0.44" stop-color="#670000"/><stop offset="0.47" stop-color="#a90000"/><stop offset="0.49" stop-color="#e50400"/><stop offset="0.5" stop-color="#fc1c00"/><stop offset="0.52" stop-color="#ffcd02"/><stop offset="0.53" stop-color="#ffc601"/><stop offset="0.54" stop-color="#ffb200"/><stop offset="0.55" stop-color="#ff4800"/><stop offset="0.56" stop-color="#f30b00"/><stop offset="0.58" stop-color="#9b0000"/><stop offset="0.61" stop-color="#5f0000"/><stop offset="0.66" stop-color="#370000"/><stop offset="0.78" stop-color="#1d0000"/><stop offset="1" stop-color="#0e0000"/></linearGradient><linearGradient id="r55" gradientUnits="userSpaceOnUse" x1="41" x2="250" y1="0" y2="0"><stop offset="0" stop-color="#0c0000"/><stop offset="0.34" stop-color="#290000"/><stop offset="0.41" stop-color="#460000"/><stop offset="0.44" stop-color="#640000"/><stop offset="0.47" stop-color="#a30000"/><stop offset="0.49" stop-color="#de0400"/><stop offset="0.5" stop-color="#f81400"/><stop offset="0.51" stop-color="#ff6100"/><stop offset="0.52" stop-color="#ffcb02"/><stop offset="0.53" stop-color="#ffcf03"/><stop offset="0.54" stop-color="#ff9b00"/><stop offset="0.55" stop-color="#ff2e00"/><stop offset="0.56" stop-color="#f00500"/><stop offset="0.58" stop-color="#960000"/><stop offset="0.61" stop-color="#5d0000"/><stop offset="0.66" stop-color="#370000"/><stop offset="0.78" stop-color="#1f0000"/><stop offset="1" stop-color="#0f0000"/></linearGradient><linearGradient id="r56" gradientUnits="userSpaceOnUse" x1="41" x2="250" y1="0" y2="0"><stop offset="0" stop-color="#0c0000"/><stop offset="0.34" stop-color="#290000"/><stop offset="0.41" stop-color="#450000"/><stop offset="0.44" stop-color="#620000"/><stop offset="0.47" stop-color="#9e0000"/><stop offset="0.49" stop-color="#d70300"/><stop offset="0.5" stop-color="#f40d00"/><stop offset="0.51" stop-color="#ff5000"/><stop offset="0.52" stop-color="#ffc100"/><stop offset="0.53" stop-color="#ffd704"/><stop offset="0.54" stop-color="#ff8200"/><stop offset="0.55" stop-color="#fd1f00"/><stop offset="0.56" stop-color="#e80400"/><stop offset="0.58" stop-color="#910000"/><stop offset="0.61" stop-color="#5c0000"/><stop offset="0.66" stop-color="#370000"/><stop offset="0.78" stop-color="#1f0000"/><stop offset="1" stop-color="#0f0000"/></linearGradient><linearGradient id="r57" gradientUnits="userSpaceOnUse" x1="41" x2="250" y1="0" y2="0"><stop offset="0" stop-color="#0c0000"/><stop offset="0.33" stop-color="#2a0000"/><stop offset="0.39" stop-color="#480000"/><stop offset="0.42" stop-color="#660000"/><stop offset="0.45" stop-color="#a00000"/><stop offset="0.48" stop-color="#f30b00"/><stop offset="0.49" stop-color="#ff2e00"/><stop offset="0.51" stop-color="#ff4d00"/><stop offset="0.52" stop-color="#ffac00"/><stop offset="0.53" stop-color="#ffd604"/><stop offset="0.54" stop-color="#ff6f00"/><stop offset="0.55" stop-color="#ff4200"/><stop offset="0.56" stop-color="#ff3f00"/><stop offset="0.56" stop-color="#fa1900"/><stop offset="0.57" stop-color="#e70400"/><stop offset="0.61" stop-color="#7f0000"/><stop offset="0.64" stop-color="#540000"/><stop offset="0.7" stop-color="#310000"/><stop offset="0.87" stop-color="#180000"/><stop offset="1" stop-color="#0f0000"/></linearGradient><linearGradient id="r58" gradientUnits="userSpaceOnUse" x1="41" x2="250" y1="0" y2="0"><stop offset="0" stop-color="#0c0000"/><stop offset="0.32" stop-color="#290000"/><stop offset="0.39" stop-color="#490000"/><stop offset="0.42" stop-color="#690000"/><stop offset="0.45" stop-color="#a60000"/><stop offset="0.47" stop-color="#de0400"/><stop offset="0.48" stop-color="#f61100"/><stop offset="0.49" stop-color="#ff3d00"/><stop offset="0.5" stop-color="#ff4000"/><stop offset="0.51" stop-color="#ff5b00"/><stop offset="0.52" stop-color="#ffcb02"/><stop offset="0.53" stop-color="#ffe306"/><stop offset="0.54" stop-color="#ff8d00"/><stop offset="0.55" stop-color="#ff4500"/><stop offset="0.56" stop-color="#ff3f00"/><stop offset="0.56" stop-color="#fd2000"/><stop offset="0.57" stop-color="#ef0500"/><stop offset="0.6" stop-color="#990000"/><stop offset="0.63" stop-color="#620000"/><stop offset="0.68" stop-color="#3a0000"/><stop offset="0.79" stop-color="#1f0000"/><stop offset="1" stop-color="#0f0000"/></linearGradient><linearGradient id="r59" gradientUnits="userSpaceOnUse" x1="41" x2="250" y1="0" y2="0"><stop offset="0" stop-color="#0c0000"/><stop offset="0.32" stop-color="#290000"/><stop offset="0.38" stop-color="#440000"/><stop offset="0.42" stop-color="#6c0000"/><stop offset="0.45" stop-color="#ad0000"/><stop offset="0.47" stop-color="#e50400"/><stop offset="0.48" stop-color="#f91800"/><stop offset="0.49" stop-color="#ff3f00"/><stop offset="0.5" stop-color="#ff4200"/><stop offset="0.51" stop-color="#ff7100"/><stop offset="0.52" stop-color="#ffe206"/><stop offset="0.53" stop-color="#ffea07"/><stop offset="0.54" stop-color="#ffb400"/><stop offset="0.55" stop-color="#ff4d00"/><stop offset="0.56" stop-color="#ff2b00"/><stop offset="0.57" stop-color="#f30a00"/><stop offset="0.61" stop-color="#880000"/><stop offset="0.64" stop-color="#590000"/><stop offset="0.69" stop-color="#360000"/><stop offset="0.82" stop-color="#1c0000"/><stop offset="1" stop-color="#0f0000"/></linearGradient><linearGradient id="r60" gradientUnits="userSpaceOnUse" x1="41" x2="250" y1="0" y2="0"><stop offset="0" stop-color="#0c0000"/><stop offset="0.32" stop-color="#290000"/><stop offset="0.38" stop-color="#450000"/><stop offset="0.42" stop-color="#700000"/><stop offset="0.45" stop-color="#b20000"/><stop offset="0.47" stop-color="#ed0500"/><stop offset="0.48" stop-color="#fd1e00"/><stop offset="0.49" stop-color="#ff3f00"/><stop offset="0.5" stop-color="#ff4500"/><stop offset="0.51" stop-color="#ff9100"/><stop offset="0.52" stop-color="#fff109"/><stop offset="0.53" stop-color="#fff209"/><stop offset="0.54" stop-color="#ffd304"/><stop offset="0.55" stop-color="#ff5b00"/><stop offset="0.56" stop-color="#ff4000"/><stop offset="0.56" stop-color="#ff3b00"/><stop offset="0.57" stop-color="#f61000"/><stop offset="0.58" stop-color="#dc0300"/><stop offset="0.61" stop-color="#8d0000"/><stop offset="0.64" stop-color="#5b0000"/><stop offset="0.7" stop-color="#330000"/><stop offset="0.84" stop-color="#1b0000"/><stop offset="1" stop-color="#0f0000"/></linearGradient><linearGradient id="r61" gradientUnits="userSpaceOnUse" x1="41" x2="250" y1="0" y2="0"><stop offset="0" stop-color="#0c0000"/><stop offset="0.31" stop-color="#280000"/><stop offset="0.37" stop-color="#400000"/><stop offset="0.41" stop-color="#640000"/><stop offset="0.44" stop-color="#9e0000"/><stop offset="0.47" stop-color="#f20900"/><stop offset="0.48" stop-color="#ff2800"/><stop offset="0.5" stop-color="#ff4d00"/><stop offset="0.51" stop-color="#ffba00"/><stop offset="0.52" stop-color="#fff90a"/><stop offset="0.53" stop-color="#fff90a"/><stop offset="0.54" stop-color="#ffed08"/><stop offset="0.55" stop-color="#ff7200"/><stop offset="0.56" stop-color="#ff4100"/><stop offset="0.56" stop-color="#ff3f00"/><stop offset="0.57" stop-color="#f91700"/><stop offset="0.58" stop-color="#e40400"/><stop offset="0.61" stop-color="#920000"/><stop offset="0.64" stop-color="#5e0000"/><stop offset="0.69" stop-color="#380000"/><stop offset="0.81" stop-color="#1e0000"/><stop offset="1" stop-color="#0f0000"/></linearGradient><linearGradient id="r62" gradientUnits="userSpaceOnUse" x1="41" x2="250" y1="0" y2="0"><stop offset="0" stop-color="#0c0000"/><stop offset="0.31" stop-color="#280000"/><stop offset="0.38" stop-color="#480000"/><stop offset="0.41" stop-color="#670000"/><stop offset="0.44" stop-color="#a40000"/><stop offset="0.46" stop-color="#db0300"/><stop offset="0.47" stop-color="#f50f00"/><stop offset="0.48" stop-color="#ff3800"/><stop offset="0.49" stop-color="#ff4000"/><stop offset="0.5" stop-color="#ff5b00"/><stop offset="0.51" stop-color="#ffda05"/><stop offset="0.52" stop-color="#fffa0a"/><stop offset="0.54" stop-color="#fffa0a"/><stop offset="0.55" stop-color="#ff9400"/><stop offset="0.56" stop-color="#ff4500"/><stop offset="0.56" stop-color="#ff3f00"/><stop offset="0.57" stop-color="#fc1d00"/><stop offset="0.58" stop-color="#ec0500"/><stop offset="0.61" stop-color="#970000"/><stop offset="0.64" stop-color="#600000"/><stop offset="0.69" stop-color="#390000"/><stop offset="0.79" stop-color="#200000"/><stop offset="1" stop-color="#0f0000"/></linearGradient><linearGradient id="r63" gradientUnits="userSpaceOnUse" x1="41" x2="250" y1="0" y2="0"><stop offset="0" stop-color="#0c0000"/><stop offset="0.31" stop-color="#280000"/><stop offset="0.37" stop-color="#430000"/><stop offset="0.41" stop-color="#6b0000"/><stop offset="0.44" stop-color="#aa0000"/><stop offset="0.46" stop-color="#e20400"/><stop offset="0.47" stop-color="#f81500"/><stop offset="0.48" stop-color="#ff3f00"/><stop offset="0.49" stop-color="#ff4100"/><stop offset="0.5" stop-color="#ff7100"/><stop offset="0.51" stop-color="#fff209"/><stop offset="0.53" stop-color="#fffa0a"/><stop offset="0.54" stop-color="#fffa0a"/><stop offset="0.55" stop-color="#ffbb00"/><stop offset="0.56" stop-color="#ff4c00"/><stop offset="0.56" stop-color="#ff3f00"/><stop offset="0.57" stop-color="#ff2600"/><stop offset="0.58" stop-color="#f10800"/><stop offset="0.62" stop-color="#860000"/><stop offset="0.65" stop-color="#580000"/><stop offset="0.7" stop-color="#360000"/><stop offset="0.81" stop-color="#1e0000"/><stop offset="1" stop-color="#0f0000"/></linearGradient><linearGradient id="r64" gradientUnits="userSpaceOnUse" x1="41" x2="250" y1="0" y2="0"><stop offset="0" stop-color="#0c0000"/><stop offset="0.3" stop-color="#270000"/><stop offset="0.36" stop-color="#3e0000"/><stop offset="0.4" stop-color="#600000"/><stop offset="0.43" stop-color="#960000"/><stop offset="0.46" stop-color="#ea0500"/><stop offset="0.47" stop-color="#fb1c00"/><stop offset="0.48" stop-color="#ff3f00"/><stop offset="0.49" stop-color="#ff4400"/><stop offset="0.5" stop-color="#ff8f00"/><stop offset="0.51" stop-color="#fffa0a"/><stop offset="0.54" stop-color="#fffa0a"/><stop offset="0.55" stop-color="#ffd804"/><stop offset="0.56" stop-color="#ff5900"/><stop offset="0.56" stop-color="#ff3f00"/><stop offset="0.57" stop-color="#ff3500"/><stop offset="0.58" stop-color="#f40e00"/><stop offset="0.6" stop-color="#bd0100"/><stop offset="0.63" stop-color="#770000"/><stop offset="0.66" stop-color="#500000"/><stop offset="0.72" stop-color="#2f0000"/><stop offset="0.91" stop-color="#150000"/><stop offset="1" stop-color="#0f0000"/></linearGradient><linearGradient id="r65" gradientUnits="userSpaceOnUse" x1="41" x2="250" y1="0" y2="0"><stop offset="0" stop-color="#0c0000"/><stop offset="0.31" stop-color="#290000"/><stop offset="0.37" stop-color="#460000"/><stop offset="0.41" stop-color="#720000"/><stop offset="0.44" stop-color="#b60100"/><stop offset="0.46" stop-color="#f10700"/><stop offset="0.47" stop-color="#ff2300"/><stop offset="0.48" stop-color="#ff3f00"/><stop offset="0.49" stop-color="#ff4b00"/><stop offset="0.5" stop-color="#ffb700"/><stop offset="0.51" stop-color="#fffa0a"/><stop offset="0.54" stop-color="#fffa0a"/><stop offset="0.55" stop-color="#fff209"/><stop offset="0.56" stop-color="#ff6d00"/><stop offset="0.56" stop-color="#ff4100"/><stop offset="0.57" stop-color="#ff3f00"/><stop offset="0.58" stop-color="#f81400"/><stop offset="0.59" stop-color="#e10400"/><stop offset="0.63" stop-color="#7b0000"/><stop offset="0.66" stop-color="#520000"/><stop offset="0.72" stop-color="#300000"/><stop offset="0.87" stop-color="#180000"/><stop offset="1" stop-color="#0f0000"/></linearGradient><linearGradient id="r66" gradientUnits="userSpaceOnUse" x1="41" x2="250" y1="0" y2="0"><stop offset="0" stop-color="#0c0000"/><stop offset="0.31" stop-color="#290000"/><stop offset="0.37" stop-color="#470000"/><stop offset="0.4" stop-color="#660000"/><stop offset="0.43" stop-color="#a10000"/><stop offset="0.45" stop-color="#d80300"/><stop offset="0.46" stop-color="#f40d00"/><stop offset="0.47" stop-color="#ff3200"/><stop offset="0.49" stop-color="#ff5600"/><stop offset="0.5" stop-color="#ffd604"/><stop offset="0.51" stop-color="#fffa0a"/><stop offset="0.55" stop-color="#fffa0a"/><stop offset="0.56" stop-color="#ff8b00"/><stop offset="0.56" stop-color="#ff4400"/><stop offset="0.57" stop-color="#ff3f00"/><stop offset="0.58" stop-color="#fb1b00"/><stop offset="0.59" stop-color="#e90400"/><stop offset="0.62" stop-color="#950000"/><stop offset="0.65" stop-color="#5f0000"/><stop offset="0.7" stop-color="#380000"/><stop offset="0.8" stop-color="#1f0000"/><stop offset="1" stop-color="#0f0000"/></linearGradient><linearGradient id="r67" gradientUnits="userSpaceOnUse" x1="41" x2="250" y1="0" y2="0"><stop offset="0" stop-color="#0c0000"/><stop offset="0.3" stop-color="#280000"/><stop offset="0.36" stop-color="#420000"/><stop offset="0.4" stop-color="#690000"/><stop offset="0.43" stop-color="#a80000"/><stop offset="0.45" stop-color="#e00400"/><stop offset="0.46" stop-color="#f71300"/><stop offset="0.47" stop-color="#ff3e00"/><stop offset="0.48" stop-color="#ff4000"/><stop offset="0.49" stop-color="#ff6a00"/><stop offset="0.5" stop-color="#fff109"/><stop offset="0.52" stop-color="#fffa0a"/><stop offset="0.55" stop-color="#fffa0a"/><stop offset="0.56" stop-color="#ffb300"/><stop offset="0.56" stop-color="#ff4900"/><stop offset="0.57" stop-color="#ff3f00"/><stop offset="0.58" stop-color="#fe2200"/><stop offset="0.59" stop-color="#f00600"/><stop offset="0.63" stop-color="#840000"/><stop offset="0.66" stop-color="#560000"/><stop offset="0.72" stop-color="#310000"/><stop offset="0.87" stop-color="#180000"/><stop offset="1" stop-color="#0f0000"/></linearGradient><linearGradient id="r68" gradientUnits="userSpaceOnUse" x1="41" x2="250" y1="0" y2="0"><stop offset="0" stop-color="#0c0000"/><stop offset="0.31" stop-color="#2a0000"/><stop offset="0.37" stop-color="#4b0000"/><stop offset="0.4" stop-color="#6d0000"/><stop offset="0.43" stop-color="#ae0000"/><stop offset="0.45" stop-color="#e70400"/><stop offset="0.46" stop-color="#fa1a00"/><stop offset="0.47" stop-color="#ff3e00"/><stop offset="0.48" stop-color="#ff4300"/><stop offset="0.49" stop-color="#ff8700"/><stop offset="0.5" stop-color="#fffa0a"/><stop offset="0.55" stop-color="#fffa0a"/><stop offset="0.56" stop-color="#ffd404"/><stop offset="0.56" stop-color="#ff5400"/><stop offset="0.58" stop-color="#ff2f00"/><stop offset="0.59" stop-color="#f30c00"/><stop offset="0.62" stop-color="#a00000"/><stop offset="0.65" stop-color="#650000"/><stop offset="0.7" stop-color="#3a0000"/><stop offset="0.79" stop-color="#200000"/><stop offset="1" stop-color="#0f0000"/></linearGradient><linearGradient id="r69" gradientUnits="userSpaceOnUse" x1="41" x2="250" y1="0" y2="0"><stop offset="0" stop-color="#0c0000"/><stop offset="0.3" stop-color="#280000"/><stop offset="0.36" stop-color="#450000"/><stop offset="0.4" stop-color="#700000"/><stop offset="0.43" stop-color="#b40000"/><stop offset="0.45" stop-color="#ef0500"/><stop offset="0.46" stop-color="#fe2000"/><stop offset="0.47" stop-color="#ff3f00"/><stop offset="0.48" stop-color="#ff4800"/><stop offset="0.49" stop-color="#ffa800"/><stop offset="0.5" stop-color="#fffa0a"/><stop offset="0.55" stop-color="#fffa0a"/><stop offset="0.56" stop-color="#ffe907"/><stop offset="0.56" stop-color="#ff6500"/><stop offset="0.57" stop-color="#ff4000"/><stop offset="0.58" stop-color="#ff3e00"/><stop offset="0.59" stop-color="#f61200"/><stop offset="0.6" stop-color="#de0400"/><stop offset="0.63" stop-color="#8e0000"/><stop offset="0.66" stop-color="#5b0000"/><stop offset="0.71" stop-color="#370000"/><stop offset="0.81" stop-color="#1e0000"/><stop offset="1" stop-color="#0f0000"/></linearGradient><linearGradient id="r70" gradientUnits="userSpaceOnUse" x1="41" x2="250" y1="0" y2="0"><stop offset="0" stop-color="#0c0000"/><stop offset="0.3" stop-color="#290000"/><stop offset="0.36" stop-color="#460000"/><stop offset="0.4" stop-color="#740000"/><stop offset="0.43" stop-color="#b90100"/><stop offset="0.45" stop-color="#f30a00"/><stop offset="0.46" stop-color="#ff2c00"/><stop offset="0.48" stop-color="#ff5000"/><stop offset="0.49" stop-color="#ffc401"/><stop offset="0.5" stop-color="#fffa0a"/><stop offset="0.55" stop-color="#fffa0a"/><stop offset="0.56" stop-color="#fff209"/><stop offset="0.56" stop-color="#ff7a00"/><stop offset="0.57" stop-color="#ff4200"/><stop offset="0.58" stop-color="#ff3e00"/><stop offset="0.59" stop-color="#fa1800"/><stop offset="0.6" stop-color="#e60400"/><stop offset="0.64" stop-color="#7d0000"/><stop offset="0.67" stop-color="#530000"/><stop offset="0.73" stop-color="#300000"/><stop offset="0.88" stop-color="#180000"/><stop offset="1" stop-color="#0f0000"/></linearGradient><linearGradient id="r71" gradientUnits="userSpaceOnUse" x1="41" x2="250" y1="0" y2="0"><stop offset="0" stop-color="#0c0000"/><stop offset="0.3" stop-color="#290000"/><stop offset="0.36" stop-color="#480000"/><stop offset="0.39" stop-color="#680000"/><stop offset="0.42" stop-color="#a50000"/><stop offset="0.44" stop-color="#dd0400"/><stop offset="0.45" stop-color="#f61100"/><stop offset="0.46" stop-color="#ff3c00"/><stop offset="0.47" stop-color="#ff3f00"/><stop offset="0.48" stop-color="#ff5c00"/><stop offset="0.49" stop-color="#ffd404"/><stop offset="0.5" stop-color="#fff008"/><stop offset="0.56" stop-color="#fff008"/><stop offset="0.56" stop-color="#ff9400"/><stop offset="0.57" stop-color="#ff4500"/><stop offset="0.58" stop-color="#ff3e00"/><stop offset="0.59" stop-color="#fd1f00"/><stop offset="0.6" stop-color="#ee0500"/><stop offset="0.63" stop-color="#980000"/><stop offset="0.66" stop-color="#600000"/><stop offset="0.71" stop-color="#390000"/><stop offset="0.8" stop-color="#200000"/><stop offset="1" stop-color="#0f0000"/></linearGradient><linearGradient id="r72" gradientUnits="userSpaceOnUse" x1="41" x2="250" y1="0" y2="0"><stop offset="0" stop-color="#0c0000"/><stop offset="0.3" stop-color="#290000"/><stop offset="0.36" stop-color="#4a0000"/><stop offset="0.39" stop-color="#6b0000"/><stop offset="0.42" stop-color="#ab0000"/><stop offset="0.44" stop-color="#e40400"/><stop offset="0.45" stop-color="#f91700"/><stop offset="0.46" stop-color="#ff3e00"/><stop offset="0.47" stop-color="#ff4100"/><stop offset="0.48" stop-color="#ff6e00"/><stop offset="0.49" stop-color="#ffdd05"/><stop offset="0.52" stop-color="#ffe607"/><stop offset="0.56" stop-color="#ffe507"/><stop offset="0.56" stop-color="#ffae00"/><stop offset="0.57" stop-color="#ff4c00"/><stop offset="0.59" stop-color="#ff2a00"/><stop offset="0.6" stop-color="#f20900"/><stop offset="0.64" stop-color="#870000"/><stop offset="0.67" stop-color="#570000"/><stop offset="0.73" stop-color="#310000"/><stop offset="0.87" stop-color="#190000"/><stop offset="1" stop-color="#0f0000"/></linearGradient><linearGradient id="r73" gradientUnits="userSpaceOnUse" x1="41" x2="250" y1="0" y2="0"><stop offset="0" stop-color="#0c0000"/><stop offset="0.29" stop-color="#280000"/><stop offset="0.35" stop-color="#440000"/><stop offset="0.38" stop-color="#600000"/><stop offset="0.41" stop-color="#970000"/><stop offset="0.44" stop-color="#ec0500"/><stop offset="0.45" stop-color="#fc1e00"/><stop offset="0.46" stop-color="#ff3e00"/><stop offset="0.47" stop-color="#ff4300"/><stop offset="0.48" stop-color="#ff8200"/><stop offset="0.49" stop-color="#ffdb05"/><stop offset="0.56" stop-color="#ffdb05"/><stop offset="0.56" stop-color="#ffc100"/><stop offset="0.57" stop-color="#ff5500"/><stop offset="0.58" stop-color="#ff3f00"/><stop offset="0.59" stop-color="#ff3900"/><stop offset="0.6" stop-color="#f50f00"/><stop offset="0.62" stop-color="#be0100"/><stop offset="0.65" stop-color="#770000"/><stop offset="0.69" stop-color="#470000"/><stop offset="0.77" stop-color="#260000"/><stop offset="1" stop-color="#0f0000"/></linearGradient><linearGradient id="r74" gradientUnits="userSpaceOnUse" x1="41" x2="250" y1="0" y2="0"><stop offset="0" stop-color="#0c0000"/><stop offset="0.29" stop-color="#280000"/><stop offset="0.35" stop-color="#450000"/><stop offset="0.39" stop-color="#720000"/><stop offset="0.42" stop-color="#b70100"/><stop offset="0.44" stop-color="#f20800"/><stop offset="0.45" stop-color="#ff2700"/><stop offset="0.46" stop-color="#ff3e00"/><stop offset="0.47" stop-color="#ff4800"/><stop offset="0.48" stop-color="#ff9600"/><stop offset="0.49" stop-color="#ffd103"/><stop offset="0.56" stop-color="#ffd103"/><stop offset="0.56" stop-color="#ffc802"/><stop offset="0.57" stop-color="#ff6200"/><stop offset="0.58" stop-color="#ff4000"/><stop offset="0.59" stop-color="#ff3e00"/><stop offset="0.6" stop-color="#f81600"/><stop offset="0.61" stop-color="#e30400"/><stop offset="0.65" stop-color="#7b0000"/><stop offset="0.68" stop-color="#520000"/><stop offset="0.74" stop-color="#2f0000"/><stop offset="0.89" stop-color="#170000"/><stop offset="1" stop-color="#0f0000"/></linearGradient><linearGradient id="r75" gradientUnits="userSpaceOnUse" x1="41" x2="250" y1="0" y2="0"><stop offset="0" stop-color="#0c0000"/><stop offset="0.29" stop-color="#280000"/><stop offset="0.35" stop-color="#470000"/><stop offset="0.38" stop-color="#660000"/><stop offset="0.41" stop-color="#a30000"/><stop offset="0.43" stop-color="#da0300"/><stop offset="0.44" stop-color="#f50e00"/><stop offset="0.45" stop-color="#ff3600"/><stop offset="0.47" stop-color="#ff4f00"/><stop offset="0.48" stop-color="#ffa600"/><stop offset="0.49" stop-color="#ffc601"/><stop offset="0.56" stop-color="#ffc601"/><stop offset="0.57" stop-color="#ff7200"/><stop offset="0.58" stop-color="#ff4200"/><stop offset="0.59" stop-color="#ff3e00"/><stop offset="0.6" stop-color="#fc1d00"/><stop offset="0.61" stop-color="#eb0500"/><stop offset="0.64" stop-color="#960000"/><stop offset="0.67" stop-color="#5f0000"/><stop offset="0.72" stop-color="#380000"/><stop offset="0.81" stop-color="#1f0000"/><stop offset="1" stop-color="#0f0000"/></linearGradient><linearGradient id="r76" gradientUnits="userSpaceOnUse" x1="41" x2="250" y1="0" y2="0"><stop offset="0" stop-color="#0c0000"/><stop offset="0.28" stop-color="#260000"/><stop offset="0.34" stop-color="#410000"/><stop offset="0.38" stop-color="#690000"/><stop offset="0.41" stop-color="#a90000"/><stop offset="0.43" stop-color="#e10400"/><stop offset="0.44" stop-color="#f81500"/><stop offset="0.45" stop-color="#ff3e00"/><stop offset="0.46" stop-color="#ff3f00"/><stop offset="0.47" stop-color="#ff5800"/><stop offset="0.48" stop-color="#ffad00"/><stop offset="0.49" stop-color="#ffbb00"/><stop offset="0.56" stop-color="#ffbb00"/><stop offset="0.58" stop-color="#ff4500"/><stop offset="0.59" stop-color="#ff3e00"/><stop offset="0.6" stop-color="#ff2400"/><stop offset="0.61" stop-color="#f10700"/><stop offset="0.65" stop-color="#840000"/><stop offset="0.68" stop-color="#560000"/><stop offset="0.74" stop-color="#300000"/><stop offset="0.88" stop-color="#180000"/><stop offset="1" stop-color="#0f0000"/></linearGradient><linearGradient id="r77" gradientUnits="userSpaceOnUse" x1="41" x2="250" y1="0" y2="0"><stop offset="0" stop-color="#0c0000"/><stop offset="0.28" stop-color="#270000"/><stop offset="0.34" stop-color="#430000"/><stop offset="0.38" stop-color="#6d0000"/><stop offset="0.41" stop-color="#af0000"/><stop offset="0.43" stop-color="#e90400"/><stop offset="0.44" stop-color="#fb1b00"/><stop offset="0.45" stop-color="#ff3e00"/><stop offset="0.46" stop-color="#ff4100"/><stop offset="0.47" stop-color="#ff6300"/><stop offset="0.48" stop-color="#ffa800"/><stop offset="0.56" stop-color="#ffaa00"/><stop offset="0.57" stop-color="#ff8b00"/><stop offset="0.58" stop-color="#ff4a00"/><stop offset="0.6" stop-color="#ff3300"/><stop offset="0.61" stop-color="#f40d00"/><stop offset="0.63" stop-color="#bc0100"/><stop offset="0.66" stop-color="#750000"/><stop offset="0.69" stop-color="#4f0000"/><stop offset="0.75" stop-color="#2d0000"/><stop offset="0.94" stop-color="#130000"/><stop offset="1" stop-color="#0f0000"/></linearGradient><linearGradient id="r78" gradientUnits="userSpaceOnUse" x1="41" x2="250" y1="0" y2="0"><stop offset="0" stop-color="#0c0000"/><stop offset="0.28" stop-color="#270000"/><stop offset="0.34" stop-color="#440000"/><stop offset="0.37" stop-color="#610000"/><stop offset="0.4" stop-color="#9a0000"/><stop offset="0.43" stop-color="#f10600"/><stop offset="0.44" stop-color="#ff2200"/><stop offset="0.45" stop-color="#ff3e00"/><stop offset="0.46" stop-color="#ff4300"/><stop offset="0.48" stop-color="#ff9a00"/><stop offset="0.56" stop-color="#ff9a00"/><stop offset="0.57" stop-color="#ff8d00"/><stop offset="0.58" stop-color="#ff5000"/><stop offset="0.59" stop-color="#ff3f00"/><stop offset="0.6" stop-color="#ff3e00"/><stop offset="0.61" stop-color="#f71300"/><stop offset="0.62" stop-color="#e00400"/><stop offset="0.65" stop-color="#8e0000"/><stop offset="0.68" stop-color="#5b0000"/><stop offset="0.73" stop-color="#360000"/><stop offset="0.83" stop-color="#1d0000"/><stop offset="1" stop-color="#0f0000"/></linearGradient><linearGradient id="r79" gradientUnits="userSpaceOnUse" x1="41" x2="250" y1="0" y2="0"><stop offset="0" stop-color="#0c0000"/><stop offset="0.27" stop-color="#250000"/><stop offset="0.33" stop-color="#3f0000"/><stop offset="0.37" stop-color="#640000"/><stop offset="0.4" stop-color="#a00000"/><stop offset="0.43" stop-color="#f30c00"/><stop offset="0.44" stop-color="#ff3000"/><stop offset="0.46" stop-color="#ff4500"/><stop offset="0.47" stop-color="#ff7100"/><stop offset="0.48" stop-color="#ff8900"/><stop offset="0.57" stop-color="#ff8700"/><stop offset="0.58" stop-color="#ff5600"/><stop offset="0.59" stop-color="#ff3f00"/><stop offset="0.6" stop-color="#ff3e00"/><stop offset="0.61" stop-color="#fa1a00"/><stop offset="0.62" stop-color="#e80400"/><stop offset="0.65" stop-color="#930000"/><stop offset="0.68" stop-color="#5d0000"/><stop offset="0.73" stop-color="#370000"/><stop offset="0.82" stop-color="#1e0000"/><stop offset="1" stop-color="#0f0000"/></linearGradient><linearGradient id="r80" gradientUnits="userSpaceOnUse" x1="41" x2="250" y1="0" y2="0"><stop offset="0" stop-color="#0c0000"/><stop offset="0.27" stop-color="#260000"/><stop offset="0.33" stop-color="#400000"/><stop offset="0.37" stop-color="#680000"/><stop offset="0.4" stop-color="#a60000"/><stop offset="0.42" stop-color="#de0400"/><stop offset="0.43" stop-color="#f71200"/><stop offset="0.44" stop-color="#ff3e00"/><stop offset="0.46" stop-color="#ff4800"/><stop offset="0.47" stop-color="#ff6f00"/><stop offset="0.49" stop-color="#ff7900"/><stop offset="0.57" stop-color="#ff7900"/><stop offset="0.59" stop-color="#ff4000"/><stop offset="0.6" stop-color="#ff3e00"/><stop offset="0.61" stop-color="#fe2100"/><stop offset="0.62" stop-color="#f00500"/><stop offset="0.65" stop-color="#990000"/><stop offset="0.68" stop-color="#600000"/><stop offset="0.73" stop-color="#380000"/><stop offset="0.82" stop-color="#1e0000"/><stop offset="1" stop-color="#0f0000"/></linearGradient><linearGradient id="r81" gradientUnits="userSpaceOnUse" x1="41" x2="250" y1="0" y2="0"><stop offset="0" stop-color="#0c0000"/><stop offset="0.27" stop-color="#260000"/><stop offset="0.33" stop-color="#420000"/><stop offset="0.37" stop-color="#6b0000"/><stop offset="0.4" stop-color="#ac0000"/><stop offset="0.42" stop-color="#e60400"/><stop offset="0.43" stop-color="#fa1900"/><stop offset="0.44" stop-color="#ff3e00"/><stop offset="0.46" stop-color="#ff4a00"/><stop offset="0.47" stop-color="#ff6600"/><stop offset="0.57" stop-color="#ff6800"/><stop offset="0.59" stop-color="#ff4200"/><stop offset="0.6" stop-color="#ff3e00"/><stop offset="0.61" stop-color="#ff2e00"/><stop offset="0.62" stop-color="#f30b00"/><stop offset="0.65" stop-color="#9f0000"/><stop offset="0.68" stop-color="#630000"/><stop offset="0.72" stop-color="#3e0000"/><stop offset="0.81" stop-color="#200000"/><stop offset="1" stop-color="#0f0000"/></linearGradient><linearGradient id="r82" gradientUnits="userSpaceOnUse" x1="41" x2="250" y1="0" y2="0"><stop offset="0" stop-color="#0c0000"/><stop offset="0.28" stop-color="#290000"/><stop offset="0.33" stop-color="#430000"/><stop offset="0.37" stop-color="#6f0000"/><stop offset="0.4" stop-color="#b20000"/><stop offset="0.42" stop-color="#ee0500"/><stop offset="0.43" stop-color="#fd2000"/><stop offset="0.44" stop-color="#ff3e00"/><stop offset="0.46" stop-color="#ff4900"/><stop offset="0.47" stop-color="#ff5700"/><stop offset="0.58" stop-color="#ff5300"/><stop offset="0.59" stop-color="#ff4200"/><stop offset="0.61" stop-color="#ff3d00"/><stop offset="0.62" stop-color="#f61100"/><stop offset="0.64" stop-color="#bf0100"/><stop offset="0.67" stop-color="#780000"/><stop offset="0.7" stop-color="#4f0000"/><stop offset="0.76" stop-color="#2d0000"/><stop offset="0.93" stop-color="#140000"/><stop offset="1" stop-color="#0f0000"/></linearGradient><linearGradient id="r83" gradientUnits="userSpaceOnUse" x1="41" x2="250" y1="0" y2="0"><stop offset="0" stop-color="#0c0000"/><stop offset="0.28" stop-color="#290000"/><stop offset="0.33" stop-color="#450000"/><stop offset="0.36" stop-color="#630000"/><stop offset="0.39" stop-color="#9e0000"/><stop offset="0.42" stop-color="#f20a00"/><stop offset="0.43" stop-color="#ff2b00"/><stop offset="0.44" stop-color="#ff3e00"/><stop offset="0.46" stop-color="#ff4900"/><stop offset="0.48" stop-color="#ff5100"/><stop offset="0.58" stop-color="#ff5000"/><stop offset="0.6" stop-color="#ff3e00"/><stop offset="0.61" stop-color="#ff3d00"/><stop offset="0.62" stop-color="#f91700"/><stop offset="0.63" stop-color="#e50400"/><stop offset="0.66" stop-color="#910000"/><stop offset="0.69" stop-color="#5c0000"/><stop offset="0.74" stop-color="#360000"/><stop offset="0.85" stop-color="#1b0000"/><stop offset="1" stop-color="#0f0000"/></linearGradient><linearGradient id="r84" gradientUnits="userSpaceOnUse" x1="41" x2="250" y1="0" y2="0"><stop offset="0" stop-color="#0c0000"/><stop offset="0.27" stop-color="#270000"/><stop offset="0.33" stop-color="#460000"/><stop offset="0.36" stop-color="#660000"/><stop offset="0.39" stop-color="#a30000"/><stop offset="0.41" stop-color="#dc0300"/><stop offset="0.42" stop-color="#f51000"/><stop offset="0.43" stop-color="#ff3a00"/><stop offset="0.48" stop-color="#ff4a00"/><stop offset="0.58" stop-color="#ff4a00"/><stop offset="0.61" stop-color="#ff3d00"/><stop offset="0.62" stop-color="#fd1e00"/><stop offset="0.63" stop-color="#ed0500"/><stop offset="0.66" stop-color="#970000"/><stop offset="0.69" stop-color="#5f0000"/><stop offset="0.74" stop-color="#370000"/><stop offset="0.83" stop-color="#1e0000"/><stop offset="1" stop-color="#0f0000"/></linearGradient><linearGradient id="r85" gradientUnits="userSpaceOnUse" x1="41" x2="250" y1="0" y2="0"><stop offset="0" stop-color="#0c0000"/><stop offset="0.27" stop-color="#280000"/><stop offset="0.33" stop-color="#410000"/><stop offset="0.36" stop-color="#690000"/><stop offset="0.39" stop-color="#aa0000"/><stop offset="0.41" stop-color="#e30400"/><stop offset="0.42" stop-color="#f91600"/><stop offset="0.43" stop-color="#ff3d00"/><stop offset="0.57" stop-color="#ff4400"/><stop offset="0.61" stop-color="#ff3d00"/><stop offset="0.62" stop-color="#ff2800"/><stop offset="0.63" stop-color="#f20900"/><stop offset="0.67" stop-color="#850000"/><stop offset="0.7" stop-color="#560000"/><stop offset="0.75" stop-color="#330000"/><stop offset="0.87" stop-color="#190000"/><stop offset="1" stop-color="#0f0000"/></linearGradient><linearGradient id="r86" gradientUnits="userSpaceOnUse" x1="41" x2="250" y1="0" y2="0"><stop offset="0" stop-color="#0c0000"/><stop offset="0.27" stop-color="#280000"/><stop offset="0.33" stop-color="#420000"/><stop offset="0.36" stop-color="#6d0000"/><stop offset="0.39" stop-color="#b00000"/><stop offset="0.41" stop-color="#ea0500"/><stop offset="0.42" stop-color="#fc1c00"/><stop offset="0.43" stop-color="#ff3b00"/><stop offset="0.61" stop-color="#ff3c00"/><stop offset="0.62" stop-color="#ff3600"/><stop offset="0.63" stop-color="#f40e00"/><stop offset="0.65" stop-color="#bc0100"/><stop offset="0.68" stop-color="#750000"/><stop offset="0.71" stop-color="#4e0000"/><stop offset="0.77" stop-color="#2c0000"/><stop offset="0.94" stop-color="#130000"/><stop offset="1" stop-color="#0f0000"/></linearGradient><linearGradient id="r87" gradientUnits="userSpaceOnUse" x1="41" x2="250" y1="0" y2="0"><stop offset="0" stop-color="#0c0000"/><stop offset="0.27" stop-color="#280000"/><stop offset="0.33" stop-color="#4b0000"/><stop offset="0.36" stop-color="#6f0000"/><stop offset="0.39" stop-color="#b30000"/><stop offset="0.41" stop-color="#ef0500"/><stop offset="0.42" stop-color="#fe2000"/><stop offset="0.43" stop-color="#ff3500"/><stop offset="0.62" stop-color="#ff3500"/><stop offset="0.63" stop-color="#f61200"/><stop offset="0.64" stop-color="#de0400"/><stop offset="0.67" stop-color="#8c0000"/><stop offset="0.7" stop-color="#590000"/><stop offset="0.75" stop-color="#340000"/><stop offset="0.88" stop-color="#180000"/><stop offset="1" stop-color="#0f0000"/></linearGradient><linearGradient id="r88" gradientUnits="userSpaceOnUse" x1="41" x2="250" y1="0" y2="0"><stop offset="0" stop-color="#0c0000"/><stop offset="0.27" stop-color="#280000"/><stop offset="0.33" stop-color="#440000"/><stop offset="0.35" stop-color="#610000"/><stop offset="0.38" stop-color="#9b0000"/><stop offset="0.41" stop-color="#f10800"/><stop offset="0.42" stop-color="#ff2600"/><stop offset="0.45" stop-color="#ff2f00"/><stop offset="0.62" stop-color="#ff2e00"/><stop offset="0.63" stop-color="#f81500"/><stop offset="0.64" stop-color="#e20400"/><stop offset="0.68" stop-color="#7a0000"/><stop offset="0.71" stop-color="#500000"/><stop offset="0.77" stop-color="#2d0000"/><stop offset="0.92" stop-color="#150000"/><stop offset="1" stop-color="#0f0000"/></linearGradient><linearGradient id="r89" gradientUnits="userSpaceOnUse" x1="41" x2="250" y1="0" y2="0"><stop offset="0" stop-color="#0c0000"/><stop offset="0.26" stop-color="#260000"/><stop offset="0.33" stop-color="#450000"/><stop offset="0.36" stop-color="#730000"/><stop offset="0.39" stop-color="#b90100"/><stop offset="0.41" stop-color="#f30b00"/><stop offset="0.42" stop-color="#ff2700"/><stop offset="0.62" stop-color="#ff2700"/><stop offset="0.63" stop-color="#fa1900"/><stop offset="0.64" stop-color="#e60400"/><stop offset="0.68" stop-color="#7c0000"/><stop offset="0.71" stop-color="#510000"/><stop offset="0.77" stop-color="#2d0000"/><stop offset="0.94" stop-color="#130000"/><stop offset="1" stop-color="#0f0000"/></linearGradient><linearGradient id="r90" gradientUnits="userSpaceOnUse" x1="41" x2="250" y1="0" y2="0"><stop offset="0" stop-color="#0c0000"/><stop offset="0.26" stop-color="#260000"/><stop offset="0.33" stop-color="#460000"/><stop offset="0.35" stop-color="#650000"/><stop offset="0.38" stop-color="#a30000"/><stop offset="0.4" stop-color="#db0300"/><stop offset="0.41" stop-color="#f50f00"/><stop offset="0.42" stop-color="#ff2200"/><stop offset="0.62" stop-color="#ff2300"/><stop offset="0.63" stop-color="#fc1d00"/><stop offset="0.64" stop-color="#ec0500"/><stop offset="0.67" stop-color="#960000"/><stop offset="0.7" stop-color="#5e0000"/><stop offset="0.75" stop-color="#360000"/><stop offset="0.84" stop-color="#1d0000"/><stop offset="1" stop-color="#0f0000"/></linearGradient><linearGradient id="r91" gradientUnits="userSpaceOnUse" x1="41" x2="250" y1="0" y2="0"><stop offset="0" stop-color="#0c0000"/><stop offset="0.26" stop-color="#270000"/><stop offset="0.32" stop-color="#400000"/><stop offset="0.35" stop-color="#680000"/><stop offset="0.38" stop-color="#a70000"/><stop offset="0.4" stop-color="#e00400"/><stop offset="0.41" stop-color="#f71400"/><stop offset="0.42" stop-color="#fe2100"/><stop offset="0.63" stop-color="#fe2100"/><stop offset="0.64" stop-color="#f10600"/><stop offset="0.67" stop-color="#9a0000"/><stop offset="0.7" stop-color="#600000"/><stop offset="0.75" stop-color="#370000"/><stop offset="0.84" stop-color="#1d0000"/><stop offset="1" stop-color="#0f0000"/></linearGradient><linearGradient id="r92" gradientUnits="userSpaceOnUse" x1="41" x2="250" y1="0" y2="0"><stop offset="0" stop-color="#0c0000"/><stop offset="0.26" stop-color="#270000"/><stop offset="0.33" stop-color="#480000"/><stop offset="0.35" stop-color="#6a0000"/><stop offset="0.38" stop-color="#ac0000"/><stop offset="0.4" stop-color="#e60400"/><stop offset="0.41" stop-color="#fa1900"/><stop offset="0.48" stop-color="#fd2000"/><stop offset="0.63" stop-color="#fd1f00"/><stop offset="0.64" stop-color="#f30b00"/><stop offset="0.67" stop-color="#9e0000"/><stop offset="0.7" stop-color="#630000"/><stop offset="0.74" stop-color="#3d0000"/><stop offset="0.81" stop-color="#220000"/><stop offset="1" stop-color="#0f0000"/></linearGradient><linearGradient id="r93" gradientUnits="userSpaceOnUse" x1="41" x2="250" y1="0" y2="0"><stop offset="0" stop-color="#0c0000"/><stop offset="0.26" stop-color="#270000"/><stop offset="0.33" stop-color="#490000"/><stop offset="0.35" stop-color="#6d0000"/><stop offset="0.38" stop-color="#b00000"/><stop offset="0.4" stop-color="#ec0500"/><stop offset="0.41" stop-color="#fc1d00"/><stop offset="0.63" stop-color="#fc1d00"/><stop offset="0.64" stop-color="#f50f00"/><stop offset="0.66" stop-color="#bd0100"/><stop offset="0.69" stop-color="#760000"/><stop offset="0.72" stop-color="#4e0000"/><stop offset="0.78" stop-color="#2c0000"/><stop offset="0.93" stop-color="#140000"/><stop offset="1" stop-color="#0f0000"/></linearGradient><linearGradient id="r94" gradientUnits="userSpaceOnUse" x1="41" x2="250" y1="0" y2="0"><stop offset="0" stop-color="#0c0000"/><stop offset="0.25" stop-color="#250000"/><stop offset="0.32" stop-color="#430000"/><stop offset="0.34" stop-color="#600000"/><stop offset="0.37" stop-color="#9a0000"/><stop offset="0.4" stop-color="#f10600"/><stop offset="0.41" stop-color="#fb1b00"/><stop offset="0.63" stop-color="#fb1b00"/><stop offset="0.64" stop-color="#f71400"/><stop offset="0.65" stop-color="#e00400"/><stop offset="0.68" stop-color="#8e0000"/><stop offset="0.71" stop-color="#5a0000"/><stop offset="0.76" stop-color="#340000"/><stop offset="0.86" stop-color="#1b0000"/><stop offset="1" stop-color="#0f0000"/></linearGradient><linearGradient id="r95" gradientUnits="userSpaceOnUse" x1="41" x2="250" y1="0" y2="0"><stop offset="0" stop-color="#0c0000"/><stop offset="0.25" stop-color="#260000"/><stop offset="0.32" stop-color="#440000"/><stop offset="0.34" stop-color="#620000"/><stop offset="0.37" stop-color="#9e0000"/><stop offset="0.4" stop-color="#f30b00"/><stop offset="0.41" stop-color="#fa1900"/><stop offset="0.64" stop-color="#fa1900"/><stop offset="0.65" stop-color="#e60400"/><stop offset="0.68" stop-color="#920000"/><stop offset="0.71" stop-color="#5c0000"/><stop offset="0.76" stop-color="#350000"/><stop offset="0.85" stop-color="#1c0000"/><stop offset="1" stop-color="#0f0000"/></linearGradient><linearGradient id="r96" gradientUnits="userSpaceOnUse" x1="41" x2="250" y1="0" y2="0"><stop offset="0" stop-color="#0c0000"/><stop offset="0.25" stop-color="#260000"/><stop offset="0.32" stop-color="#450000"/><stop offset="0.34" stop-color="#650000"/><stop offset="0.37" stop-color="#a30000"/><stop offset="0.39" stop-color="#db0300"/><stop offset="0.4" stop-color="#f50f00"/><stop offset="0.43" stop-color="#f91800"/><stop offset="0.64" stop-color="#f91700"/><stop offset="0.65" stop-color="#ec0500"/><stop offset="0.68" stop-color="#960000"/><stop offset="0.71" stop-color="#5e0000"/><stop offset="0.76" stop-color="#360000"/><stop offset="0.85" stop-color="#1c0000"/><stop offset="1" stop-color="#0f0000"/></linearGradient><linearGradient id="r97" gradientUnits="userSpaceOnUse" x1="41" x2="250" y1="0" y2="0"><stop offset="0" stop-color="#0c0000"/><stop offset="0.25" stop-color="#260000"/><stop offset="0.32" stop-color="#460000"/><stop offset="0.34" stop-color="#670000"/><stop offset="0.37" stop-color="#a70000"/><stop offset="0.39" stop-color="#e00400"/><stop offset="0.4" stop-color="#f71400"/><stop offset="0.64" stop-color="#f81600"/><stop offset="0.65" stop-color="#f10600"/><stop offset="0.68" stop-color="#9a0000"/><stop offset="0.71" stop-color="#600000"/><stop offset="0.76" stop-color="#360000"/><stop offset="0.85" stop-color="#1c0000"/><stop offset="1" stop-color="#0f0000"/></linearGradient><linearGradient id="r98" gradientUnits="userSpaceOnUse" x1="41" x2="250" y1="0" y2="0"><stop offset="0" stop-color="#0c0000"/><stop offset="0.25" stop-color="#260000"/><stop offset="0.32" stop-color="#480000"/><stop offset="0.34" stop-color="#6a0000"/><stop offset="0.37" stop-color="#ac0000"/><stop offset="0.39" stop-color="#e60400"/><stop offset="0.4" stop-color="#f71400"/><stop offset="0.64" stop-color="#f71400"/><stop offset="0.65" stop-color="#f30b00"/><stop offset="0.68" stop-color="#9e0000"/><stop offset="0.71" stop-color="#620000"/><stop offset="0.76" stop-color="#370000"/><stop offset="0.85" stop-color="#1c0000"/><stop offset="1" stop-color="#0f0000"/></linearGradient><linearGradient id="r99" gradientUnits="userSpaceOnUse" x1="258.2" x2="467.1" y1="0" y2="0"><stop offset="0" stop-color="#020000"/><stop offset="0.95" stop-color="#040000"/><stop offset="1" stop-color="#030000"/></linearGradient><linearGradient id="r100" gradientUnits="userSpaceOnUse" x1="258.2" x2="467.1" y1="0" y2="0"><stop offset="0" stop-color="#020000"/><stop offset="0.95" stop-color="#040000"/><stop offset="1" stop-color="#030000"/></linearGradient><linearGradient id="r101" gradientUnits="userSpaceOnUse" x1="258.2" x2="467.1" y1="0" y2="0"><stop offset="0" stop-color="#020000"/><stop offset="0.9" stop-color="#040000"/><stop offset="1" stop-color="#030000"/></linearGradient><linearGradient id="r102" gradientUnits="userSpaceOnUse" x1="258.2" x2="467.1" y1="0" y2="0"><stop offset="0" stop-color="#020000"/><stop offset="0.87" stop-color="#050000"/><stop offset="1" stop-color="#030000"/></linearGradient><linearGradient id="r103" gradientUnits="userSpaceOnUse" x1="258.2" x2="467.1" y1="0" y2="0"><stop offset="0" stop-color="#020000"/><stop offset="0.87" stop-color="#050000"/><stop offset="1" stop-color="#030000"/></linearGradient><linearGradient id="r104" gradientUnits="userSpaceOnUse" x1="258.2" x2="467.1" y1="0" y2="0"><stop offset="0" stop-color="#020000"/><stop offset="0.8" stop-color="#060000"/><stop offset="1" stop-color="#030000"/></linearGradient><linearGradient id="r105" gradientUnits="userSpaceOnUse" x1="258.2" x2="467.1" y1="0" y2="0"><stop offset="0" stop-color="#020000"/><stop offset="0.72" stop-color="#070000"/><stop offset="1" stop-color="#030000"/></linearGradient><linearGradient id="r106" gradientUnits="userSpaceOnUse" x1="258.2" x2="467.1" y1="0" y2="0"><stop offset="0" stop-color="#020000"/><stop offset="0.68" stop-color="#090000"/><stop offset="1" stop-color="#030000"/></linearGradient><linearGradient id="r107" gradientUnits="userSpaceOnUse" x1="258.2" x2="467.1" y1="0" y2="0"><stop offset="0" stop-color="#020000"/><stop offset="0.67" stop-color="#0a0000"/><stop offset="1" stop-color="#030000"/></linearGradient><linearGradient id="r108" gradientUnits="userSpaceOnUse" x1="258.2" x2="467.1" y1="0" y2="0"><stop offset="0" stop-color="#020000"/><stop offset="0.57" stop-color="#0d0000"/><stop offset="1" stop-color="#030000"/></linearGradient><linearGradient id="r109" gradientUnits="userSpaceOnUse" x1="258.2" x2="467.1" y1="0" y2="0"><stop offset="0" stop-color="#020000"/><stop offset="0.4" stop-color="#0e0000"/><stop offset="0.67" stop-color="#0e0000"/><stop offset="1" stop-color="#030000"/></linearGradient><linearGradient id="r110" gradientUnits="userSpaceOnUse" x1="258.2" x2="467.1" y1="0" y2="0"><stop offset="0" stop-color="#020000"/><stop offset="0.4" stop-color="#100000"/><stop offset="0.45" stop-color="#150000"/><stop offset="0.66" stop-color="#120000"/><stop offset="0.91" stop-color="#050000"/><stop offset="1" stop-color="#030000"/></linearGradient><linearGradient id="r111" gradientUnits="userSpaceOnUse" x1="258.2" x2="467.1" y1="0" y2="0"><stop offset="0" stop-color="#030000"/><stop offset="0.37" stop-color="#0e0000"/><stop offset="0.44" stop-color="#1d0000"/><stop offset="0.56" stop-color="#170000"/><stop offset="0.65" stop-color="#190000"/><stop offset="0.78" stop-color="#080000"/><stop offset="1" stop-color="#040000"/></linearGradient><linearGradient id="r112" gradientUnits="userSpaceOnUse" x1="258.2" x2="467.1" y1="0" y2="0"><stop offset="0" stop-color="#030000"/><stop offset="0.37" stop-color="#100000"/><stop offset="0.44" stop-color="#240000"/><stop offset="0.49" stop-color="#1c0000"/><stop offset="0.61" stop-color="#1d0000"/><stop offset="0.64" stop-color="#230000"/><stop offset="0.72" stop-color="#0d0000"/><stop offset="1" stop-color="#040000"/></linearGradient><linearGradient id="r113" gradientUnits="userSpaceOnUse" x1="258.2" x2="467.1" y1="0" y2="0"><stop offset="0" stop-color="#030000"/><stop offset="0.35" stop-color="#0f0000"/><stop offset="0.45" stop-color="#2c0000"/><stop offset="0.48" stop-color="#220000"/><stop offset="0.61" stop-color="#260000"/><stop offset="0.64" stop-color="#290000"/><stop offset="0.71" stop-color="#100000"/><stop offset="1" stop-color="#040000"/></linearGradient><linearGradient id="r114" gradientUnits="userSpaceOnUse" x1="258.2" x2="467.1" y1="0" y2="0"><stop offset="0" stop-color="#030000"/><stop offset="0.35" stop-color="#110000"/><stop offset="0.42" stop-color="#2a0000"/><stop offset="0.45" stop-color="#350000"/><stop offset="0.48" stop-color="#290000"/><stop offset="0.6" stop-color="#290000"/><stop offset="0.63" stop-color="#350000"/><stop offset="0.7" stop-color="#140000"/><stop offset="0.95" stop-color="#050000"/><stop offset="1" stop-color="#040000"/></linearGradient><linearGradient id="r115" gradientUnits="userSpaceOnUse" x1="258.2" x2="467.1" y1="0" y2="0"><stop offset="0" stop-color="#030000"/><stop offset="0.34" stop-color="#110000"/><stop offset="0.41" stop-color="#280000"/><stop offset="0.44" stop-color="#3e0000"/><stop offset="0.48" stop-color="#300000"/><stop offset="0.6" stop-color="#300000"/><stop offset="0.62" stop-color="#3e0000"/><stop offset="0.64" stop-color="#360000"/><stop offset="0.7" stop-color="#170000"/><stop offset="0.87" stop-color="#070000"/><stop offset="1" stop-color="#050000"/></linearGradient><linearGradient id="r116" gradientUnits="userSpaceOnUse" x1="258.2" x2="467.1" y1="0" y2="0"><stop offset="0" stop-color="#040000"/><stop offset="0.34" stop-color="#120000"/><stop offset="0.41" stop-color="#2d0000"/><stop offset="0.44" stop-color="#480000"/><stop offset="0.46" stop-color="#440000"/><stop offset="0.47" stop-color="#370000"/><stop offset="0.6" stop-color="#370000"/><stop offset="0.61" stop-color="#460000"/><stop offset="0.63" stop-color="#480000"/><stop offset="0.68" stop-color="#200000"/><stop offset="0.78" stop-color="#0c0000"/><stop offset="1" stop-color="#050000"/></linearGradient><linearGradient id="r117" gradientUnits="userSpaceOnUse" x1="258.2" x2="467.1" y1="0" y2="0"><stop offset="0" stop-color="#040000"/><stop offset="0.34" stop-color="#120000"/><stop offset="0.4" stop-color="#2a0000"/><stop offset="0.44" stop-color="#520000"/><stop offset="0.46" stop-color="#510000"/><stop offset="0.47" stop-color="#400000"/><stop offset="0.6" stop-color="#440000"/><stop offset="0.61" stop-color="#530000"/><stop offset="0.63" stop-color="#4f0000"/><stop offset="0.67" stop-color="#290000"/><stop offset="0.75" stop-color="#100000"/><stop offset="1" stop-color="#050000"/></linearGradient><linearGradient id="r118" gradientUnits="userSpaceOnUse" x1="258.2" x2="467.1" y1="0" y2="0"><stop offset="0" stop-color="#040000"/><stop offset="0.34" stop-color="#140000"/><stop offset="0.4" stop-color="#2f0000"/><stop offset="0.45" stop-color="#610000"/><stop offset="0.46" stop-color="#600000"/><stop offset="0.47" stop-color="#4f0000"/><stop offset="0.59" stop-color="#4b0000"/><stop offset="0.61" stop-color="#610000"/><stop offset="0.63" stop-color="#590000"/><stop offset="0.67" stop-color="#2e0000"/><stop offset="0.74" stop-color="#130000"/><stop offset="1" stop-color="#060000"/></linearGradient><linearGradient id="r119" gradientUnits="userSpaceOnUse" x1="258.2" x2="467.1" y1="0" y2="0"><stop offset="0" stop-color="#050000"/><stop offset="0.33" stop-color="#140000"/><stop offset="0.39" stop-color="#2e0000"/><stop offset="0.43" stop-color="#580000"/><stop offset="0.45" stop-color="#750000"/><stop offset="0.46" stop-color="#750000"/><stop offset="0.48" stop-color="#590000"/><stop offset="0.59" stop-color="#590000"/><stop offset="0.61" stop-color="#750000"/><stop offset="0.62" stop-color="#750000"/><stop offset="0.66" stop-color="#3c0000"/><stop offset="0.72" stop-color="#1b0000"/><stop offset="0.89" stop-color="#090000"/><stop offset="1" stop-color="#060000"/></linearGradient><linearGradient id="r120" gradientUnits="userSpaceOnUse" x1="258.2" x2="467.1" y1="0" y2="0"><stop offset="0" stop-color="#050000"/><stop offset="0.32" stop-color="#150000"/><stop offset="0.38" stop-color="#2d0000"/><stop offset="0.42" stop-color="#550000"/><stop offset="0.45" stop-color="#8f0000"/><stop offset="0.46" stop-color="#900000"/><stop offset="0.48" stop-color="#6d0000"/><stop offset="0.59" stop-color="#6d0000"/><stop offset="0.6" stop-color="#880000"/><stop offset="0.62" stop-color="#8f0000"/><stop offset="0.65" stop-color="#520000"/><stop offset="0.69" stop-color="#2c0000"/><stop offset="0.77" stop-color="#130000"/><stop offset="1" stop-color="#070000"/></linearGradient><linearGradient id="r121" gradientUnits="userSpaceOnUse" x1="258.2" x2="467.1" y1="0" y2="0"><stop offset="0" stop-color="#060000"/><stop offset="0.31" stop-color="#160000"/><stop offset="0.37" stop-color="#2d0000"/><stop offset="0.41" stop-color="#530000"/><stop offset="0.44" stop-color="#920000"/><stop offset="0.45" stop-color="#af0000"/><stop offset="0.47" stop-color="#a60000"/><stop offset="0.48" stop-color="#860000"/><stop offset="0.59" stop-color="#860000"/><stop offset="0.6" stop-color="#ab0000"/><stop offset="0.62" stop-color="#ab0000"/><stop offset="0.64" stop-color="#730000"/><stop offset="0.67" stop-color="#440000"/><stop offset="0.72" stop-color="#220000"/><stop offset="0.84" stop-color="#0e0000"/><stop offset="1" stop-color="#080000"/></linearGradient><linearGradient id="r122" gradientUnits="userSpaceOnUse" x1="258.2" x2="467.1" y1="0" y2="0"><stop offset="0" stop-color="#060000"/><stop offset="0.31" stop-color="#180000"/><stop offset="0.37" stop-color="#330000"/><stop offset="0.41" stop-color="#5e0000"/><stop offset="0.44" stop-color="#a60000"/><stop offset="0.45" stop-color="#c60200"/><stop offset="0.47" stop-color="#c60200"/><stop offset="0.48" stop-color="#a10000"/><stop offset="0.58" stop-color="#a10000"/><stop offset="0.59" stop-color="#a90000"/><stop offset="0.6" stop-color="#c90200"/><stop offset="0.61" stop-color="#ca0200"/><stop offset="0.62" stop-color="#bf0100"/><stop offset="0.65" stop-color="#6d0000"/><stop offset="0.68" stop-color="#420000"/><stop offset="0.74" stop-color="#1f0000"/><stop offset="0.93" stop-color="#0b0000"/><stop offset="1" stop-color="#090000"/></linearGradient><linearGradient id="r123" gradientUnits="userSpaceOnUse" x1="258.2" x2="467.1" y1="0" y2="0"><stop offset="0" stop-color="#070000"/><stop offset="0.31" stop-color="#1a0000"/><stop offset="0.37" stop-color="#370000"/><stop offset="0.4" stop-color="#560000"/><stop offset="0.43" stop-color="#950000"/><stop offset="0.45" stop-color="#d40300"/><stop offset="0.46" stop-color="#e10400"/><stop offset="0.47" stop-color="#e00400"/><stop offset="0.48" stop-color="#be0100"/><stop offset="0.51" stop-color="#b70100"/><stop offset="0.58" stop-color="#b70100"/><stop offset="0.6" stop-color="#e10400"/><stop offset="0.61" stop-color="#e10400"/><stop offset="0.62" stop-color="#cd0200"/><stop offset="0.65" stop-color="#770000"/><stop offset="0.68" stop-color="#470000"/><stop offset="0.73" stop-color="#250000"/><stop offset="0.85" stop-color="#100000"/><stop offset="1" stop-color="#090000"/></linearGradient><linearGradient id="r124" gradientUnits="userSpaceOnUse" x1="258.2" x2="467.1" y1="0" y2="0"><stop offset="0" stop-color="#070000"/><stop offset="0.3" stop-color="#1a0000"/><stop offset="0.36" stop-color="#320000"/><stop offset="0.4" stop-color="#5a0000"/><stop offset="0.43" stop-color="#9c0000"/><stop offset="0.45" stop-color="#dc0300"/><stop offset="0.46" stop-color="#f10600"/><stop offset="0.47" stop-color="#f10600"/><stop offset="0.49" stop-color="#c60200"/><stop offset="0.58" stop-color="#c60200"/><stop offset="0.59" stop-color="#e10400"/><stop offset="0.6" stop-color="#f10600"/><stop offset="0.61" stop-color="#f10600"/><stop offset="0.65" stop-color="#7c0000"/><stop offset="0.68" stop-color="#4a0000"/><stop offset="0.73" stop-color="#270000"/><stop offset="0.83" stop-color="#130000"/><stop offset="1" stop-color="#0a0000"/></linearGradient><linearGradient id="r125" gradientUnits="userSpaceOnUse" x1="258.2" x2="467.1" y1="0" y2="0"><stop offset="0" stop-color="#070000"/><stop offset="0.3" stop-color="#1b0000"/><stop offset="0.36" stop-color="#340000"/><stop offset="0.4" stop-color="#5b0000"/><stop offset="0.42" stop-color="#830000"/><stop offset="0.45" stop-color="#df0400"/><stop offset="0.46" stop-color="#f50f00"/><stop offset="0.48" stop-color="#ed0500"/><stop offset="0.49" stop-color="#d10300"/><stop offset="0.58" stop-color="#d10300"/><stop offset="0.59" stop-color="#f20900"/><stop offset="0.61" stop-color="#f50f00"/><stop offset="0.63" stop-color="#b70100"/><stop offset="0.66" stop-color="#690000"/><stop offset="0.7" stop-color="#390000"/><stop offset="0.77" stop-color="#1c0000"/><stop offset="1" stop-color="#0a0000"/></linearGradient><linearGradient id="r126" gradientUnits="userSpaceOnUse" x1="258.2" x2="467.1" y1="0" y2="0"><stop offset="0" stop-color="#070000"/><stop offset="0.3" stop-color="#1b0000"/><stop offset="0.36" stop-color="#340000"/><stop offset="0.4" stop-color="#5c0000"/><stop offset="0.43" stop-color="#a10000"/><stop offset="0.45" stop-color="#e10400"/><stop offset="0.46" stop-color="#f91700"/><stop offset="0.48" stop-color="#f61100"/><stop offset="0.49" stop-color="#dc0300"/><stop offset="0.58" stop-color="#dc0300"/><stop offset="0.59" stop-color="#f81500"/><stop offset="0.61" stop-color="#f61100"/><stop offset="0.62" stop-color="#da0300"/><stop offset="0.65" stop-color="#800000"/><stop offset="0.68" stop-color="#4d0000"/><stop offset="0.73" stop-color="#290000"/><stop offset="0.84" stop-color="#130000"/><stop offset="1" stop-color="#0a0000"/></linearGradient><linearGradient id="r127" gradientUnits="userSpaceOnUse" x1="258.2" x2="467.1" y1="0" y2="0"><stop offset="0" stop-color="#080000"/><stop offset="0.3" stop-color="#1b0000"/><stop offset="0.36" stop-color="#350000"/><stop offset="0.4" stop-color="#5d0000"/><stop offset="0.42" stop-color="#850000"/><stop offset="0.45" stop-color="#e10400"/><stop offset="0.46" stop-color="#f91800"/><stop offset="0.48" stop-color="#fb1c00"/><stop offset="0.49" stop-color="#e50400"/><stop offset="0.57" stop-color="#e50400"/><stop offset="0.58" stop-color="#ec0500"/><stop offset="0.59" stop-color="#fc1e00"/><stop offset="0.6" stop-color="#fc1e00"/><stop offset="0.61" stop-color="#f61100"/><stop offset="0.62" stop-color="#d90300"/><stop offset="0.65" stop-color="#800000"/><stop offset="0.68" stop-color="#4d0000"/><stop offset="0.73" stop-color="#290000"/><stop offset="0.84" stop-color="#130000"/><stop offset="1" stop-color="#0a0000"/></linearGradient><linearGradient id="r128" gradientUnits="userSpaceOnUse" x1="258.2" x2="467.1" y1="0" y2="0"><stop offset="0" stop-color="#080000"/><stop offset="0.3" stop-color="#1b0000"/><stop offset="0.36" stop-color="#340000"/><stop offset="0.4" stop-color="#5c0000"/><stop offset="0.43" stop-color="#9f0000"/><stop offset="0.45" stop-color="#df0400"/><stop offset="0.46" stop-color="#f81600"/><stop offset="0.47" stop-color="#ff2400"/><stop offset="0.48" stop-color="#ff2500"/><stop offset="0.49" stop-color="#f10700"/><stop offset="0.57" stop-color="#ee0500"/><stop offset="0.59" stop-color="#ff2500"/><stop offset="0.6" stop-color="#ff2400"/><stop offset="0.61" stop-color="#f51000"/><stop offset="0.62" stop-color="#d70300"/><stop offset="0.65" stop-color="#7f0000"/><stop offset="0.68" stop-color="#4d0000"/><stop offset="0.73" stop-color="#290000"/><stop offset="0.84" stop-color="#130000"/><stop offset="1" stop-color="#0b0000"/></linearGradient><linearGradient id="r129" gradientUnits="userSpaceOnUse" x1="258.2" x2="467.1" y1="0" y2="0"><stop offset="0" stop-color="#080000"/><stop offset="0.31" stop-color="#1d0000"/><stop offset="0.37" stop-color="#3a0000"/><stop offset="0.41" stop-color="#6a0000"/><stop offset="0.44" stop-color="#b80100"/><stop offset="0.45" stop-color="#d80300"/><stop offset="0.46" stop-color="#f51000"/><stop offset="0.47" stop-color="#ff2900"/><stop offset="0.48" stop-color="#ff3000"/><stop offset="0.49" stop-color="#f81600"/><stop offset="0.5" stop-color="#f20900"/><stop offset="0.57" stop-color="#f20900"/><stop offset="0.59" stop-color="#ff2f00"/><stop offset="0.6" stop-color="#ff2800"/><stop offset="0.61" stop-color="#f20a00"/><stop offset="0.65" stop-color="#7b0000"/><stop offset="0.68" stop-color="#4b0000"/><stop offset="0.73" stop-color="#280000"/><stop offset="0.85" stop-color="#120000"/><stop offset="1" stop-color="#0b0000"/></linearGradient><linearGradient id="r130" gradientUnits="userSpaceOnUse" x1="258.2" x2="467.1" y1="0" y2="0"><stop offset="0" stop-color="#080000"/><stop offset="0.31" stop-color="#1d0000"/><stop offset="0.37" stop-color="#390000"/><stop offset="0.41" stop-color="#660000"/><stop offset="0.44" stop-color="#b20000"/><stop offset="0.46" stop-color="#f20a00"/><stop offset="0.47" stop-color="#ff2b00"/><stop offset="0.48" stop-color="#ff3900"/><stop offset="0.5" stop-color="#f50f00"/><stop offset="0.57" stop-color="#f50f00"/><stop offset="0.58" stop-color="#ff2f00"/><stop offset="0.59" stop-color="#ff3700"/><stop offset="0.6" stop-color="#ff2600"/><stop offset="0.61" stop-color="#ef0500"/><stop offset="0.64" stop-color="#8e0000"/><stop offset="0.67" stop-color="#540000"/><stop offset="0.72" stop-color="#2c0000"/><stop offset="0.83" stop-color="#140000"/><stop offset="1" stop-color="#0b0000"/></linearGradient><linearGradient id="r131" gradientUnits="userSpaceOnUse" x1="258.2" x2="467.1" y1="0" y2="0"><stop offset="0" stop-color="#080000"/><stop offset="0.31" stop-color="#1d0000"/><stop offset="0.37" stop-color="#380000"/><stop offset="0.41" stop-color="#630000"/><stop offset="0.43" stop-color="#8e0000"/><stop offset="0.46" stop-color="#ef0500"/><stop offset="0.47" stop-color="#ff2700"/><stop offset="0.48" stop-color="#ff3f00"/><stop offset="0.49" stop-color="#ff3a00"/><stop offset="0.5" stop-color="#f81400"/><stop offset="0.57" stop-color="#f81400"/><stop offset="0.58" stop-color="#ff4200"/><stop offset="0.59" stop-color="#ff3a00"/><stop offset="0.6" stop-color="#fc1d00"/><stop offset="0.61" stop-color="#e70400"/><stop offset="0.64" stop-color="#890000"/><stop offset="0.67" stop-color="#520000"/><stop offset="0.72" stop-color="#2b0000"/><stop offset="0.83" stop-color="#140000"/><stop offset="1" stop-color="#0b0000"/></linearGradient><linearGradient id="r132" gradientUnits="userSpaceOnUse" x1="258.2" x2="467.1" y1="0" y2="0"><stop offset="0" stop-color="#080000"/><stop offset="0.31" stop-color="#1d0000"/><stop offset="0.37" stop-color="#370000"/><stop offset="0.41" stop-color="#600000"/><stop offset="0.44" stop-color="#a50000"/><stop offset="0.46" stop-color="#e60400"/><stop offset="0.47" stop-color="#fc1e00"/><stop offset="0.48" stop-color="#ff4100"/><stop offset="0.49" stop-color="#ff4d00"/><stop offset="0.5" stop-color="#fa1a00"/><stop offset="0.57" stop-color="#fb1c00"/><stop offset="0.58" stop-color="#ff5000"/><stop offset="0.59" stop-color="#ff3a00"/><stop offset="0.6" stop-color="#f91600"/><stop offset="0.61" stop-color="#df0400"/><stop offset="0.64" stop-color="#840000"/><stop offset="0.67" stop-color="#500000"/><stop offset="0.71" stop-color="#2f0000"/><stop offset="0.8" stop-color="#170000"/><stop offset="1" stop-color="#0b0000"/></linearGradient><linearGradient id="r133" gradientUnits="userSpaceOnUse" x1="258.2" x2="467.1" y1="0" y2="0"><stop offset="0" stop-color="#080000"/><stop offset="0.31" stop-color="#1d0000"/><stop offset="0.37" stop-color="#350000"/><stop offset="0.41" stop-color="#5d0000"/><stop offset="0.44" stop-color="#9f0000"/><stop offset="0.46" stop-color="#df0400"/><stop offset="0.47" stop-color="#f91600"/><stop offset="0.48" stop-color="#ff3f00"/><stop offset="0.49" stop-color="#ff5b00"/><stop offset="0.5" stop-color="#fe2100"/><stop offset="0.56" stop-color="#fd1f00"/><stop offset="0.57" stop-color="#ff3300"/><stop offset="0.58" stop-color="#ff5a00"/><stop offset="0.6" stop-color="#f51000"/><stop offset="0.61" stop-color="#d70300"/><stop offset="0.64" stop-color="#7f0000"/><stop offset="0.67" stop-color="#4d0000"/><stop offset="0.72" stop-color="#2a0000"/><stop offset="0.83" stop-color="#140000"/><stop offset="1" stop-color="#0b0000"/></linearGradient><linearGradient id="r134" gradientUnits="userSpaceOnUse" x1="258.2" x2="467.1" y1="0" y2="0"><stop offset="0" stop-color="#080000"/><stop offset="0.32" stop-color="#1e0000"/><stop offset="0.38" stop-color="#3b0000"/><stop offset="0.42" stop-color="#6a0000"/><stop offset="0.45" stop-color="#b70100"/><stop offset="0.47" stop-color="#f50f00"/><stop offset="0.49" stop-color="#ff6300"/><stop offset="0.5" stop-color="#ff3d00"/><stop offset="0.51" stop-color="#ff2700"/><stop offset="0.56" stop-color="#ff2700"/><stop offset="0.57" stop-color="#ff4e00"/><stop offset="0.58" stop-color="#ff5e00"/><stop offset="0.59" stop-color="#ff3400"/><stop offset="0.6" stop-color="#f20900"/><stop offset="0.64" stop-color="#7b0000"/><stop offset="0.67" stop-color="#4b0000"/><stop offset="0.72" stop-color="#290000"/><stop offset="0.84" stop-color="#140000"/><stop offset="1" stop-color="#0b0000"/></linearGradient><linearGradient id="r135" gradientUnits="userSpaceOnUse" x1="258.2" x2="467.1" y1="0" y2="0"><stop offset="0" stop-color="#080000"/><stop offset="0.32" stop-color="#1e0000"/><stop offset="0.38" stop-color="#3a0000"/><stop offset="0.42" stop-color="#670000"/><stop offset="0.45" stop-color="#b20000"/><stop offset="0.47" stop-color="#f20900"/><stop offset="0.48" stop-color="#ff3600"/><stop offset="0.49" stop-color="#ff6700"/><stop offset="0.5" stop-color="#ff5900"/><stop offset="0.51" stop-color="#ff3200"/><stop offset="0.56" stop-color="#ff3200"/><stop offset="0.57" stop-color="#ff6600"/><stop offset="0.58" stop-color="#ff5d00"/><stop offset="0.59" stop-color="#ff2900"/><stop offset="0.6" stop-color="#ee0500"/><stop offset="0.63" stop-color="#8e0000"/><stop offset="0.66" stop-color="#550000"/><stop offset="0.71" stop-color="#2d0000"/><stop offset="0.82" stop-color="#150000"/><stop offset="1" stop-color="#0b0000"/></linearGradient><linearGradient id="r136" gradientUnits="userSpaceOnUse" x1="258.2" x2="467.1" y1="0" y2="0"><stop offset="0" stop-color="#080000"/><stop offset="0.32" stop-color="#1e0000"/><stop offset="0.38" stop-color="#390000"/><stop offset="0.42" stop-color="#630000"/><stop offset="0.45" stop-color="#ab0000"/><stop offset="0.47" stop-color="#ed0500"/><stop offset="0.48" stop-color="#ff2900"/><stop offset="0.49" stop-color="#ff6400"/><stop offset="0.5" stop-color="#ff7000"/><stop offset="0.51" stop-color="#ff3e00"/><stop offset="0.56" stop-color="#ff3e00"/><stop offset="0.57" stop-color="#ff7800"/><stop offset="0.58" stop-color="#ff5700"/><stop offset="0.59" stop-color="#fc1d00"/><stop offset="0.6" stop-color="#e50400"/><stop offset="0.63" stop-color="#890000"/><stop offset="0.66" stop-color="#530000"/><stop offset="0.7" stop-color="#310000"/><stop offset="0.79" stop-color="#180000"/><stop offset="1" stop-color="#0b0000"/></linearGradient><linearGradient id="r137" gradientUnits="userSpaceOnUse" x1="258.2" x2="467.1" y1="0" y2="0"><stop offset="0" stop-color="#080000"/><stop offset="0.32" stop-color="#1e0000"/><stop offset="0.38" stop-color="#380000"/><stop offset="0.42" stop-color="#600000"/><stop offset="0.45" stop-color="#a50000"/><stop offset="0.47" stop-color="#e50400"/><stop offset="0.48" stop-color="#fc1e00"/><stop offset="0.49" stop-color="#ff5e00"/><stop offset="0.5" stop-color="#ff8500"/><stop offset="0.51" stop-color="#ff4d00"/><stop offset="0.56" stop-color="#ff4d00"/><stop offset="0.57" stop-color="#ff8700"/><stop offset="0.59" stop-color="#f81600"/><stop offset="0.6" stop-color="#de0400"/><stop offset="0.63" stop-color="#840000"/><stop offset="0.66" stop-color="#500000"/><stop offset="0.71" stop-color="#2c0000"/><stop offset="0.82" stop-color="#160000"/><stop offset="1" stop-color="#0b0000"/></linearGradient><linearGradient id="r138" gradientUnits="userSpaceOnUse" x1="258.2" x2="467.1" y1="0" y2="0"><stop offset="0" stop-color="#080000"/><stop offset="0.33" stop-color="#200000"/><stop offset="0.38" stop-color="#370000"/><stop offset="0.42" stop-color="#5d0000"/><stop offset="0.45" stop-color="#9f0000"/><stop offset="0.47" stop-color="#dd0400"/><stop offset="0.48" stop-color="#f81600"/><stop offset="0.5" stop-color="#ff9300"/><stop offset="0.51" stop-color="#ff5b00"/><stop offset="0.56" stop-color="#ff5b00"/><stop offset="0.56" stop-color="#ff6d00"/><stop offset="0.57" stop-color="#ff8e00"/><stop offset="0.58" stop-color="#ff4700"/><stop offset="0.59" stop-color="#f50f00"/><stop offset="0.61" stop-color="#b70100"/><stop offset="0.64" stop-color="#6b0000"/><stop offset="0.67" stop-color="#440000"/><stop offset="0.73" stop-color="#240000"/><stop offset="0.94" stop-color="#0e0000"/><stop offset="1" stop-color="#0c0000"/></linearGradient><linearGradient id="r139" gradientUnits="userSpaceOnUse" x1="258.2" x2="467.1" y1="0" y2="0"><stop offset="0" stop-color="#080000"/><stop offset="0.33" stop-color="#200000"/><stop offset="0.39" stop-color="#3c0000"/><stop offset="0.43" stop-color="#6b0000"/><stop offset="0.46" stop-color="#b70100"/><stop offset="0.48" stop-color="#f50f00"/><stop offset="0.49" stop-color="#ff4a00"/><stop offset="0.5" stop-color="#ff9a00"/><stop offset="0.51" stop-color="#ff7a00"/><stop offset="0.52" stop-color="#ff6a00"/><stop offset="0.56" stop-color="#ff6a00"/><stop offset="0.56" stop-color="#ff8c00"/><stop offset="0.57" stop-color="#ff8d00"/><stop offset="0.58" stop-color="#ff3e00"/><stop offset="0.59" stop-color="#f20800"/><stop offset="0.62" stop-color="#940000"/><stop offset="0.65" stop-color="#580000"/><stop offset="0.7" stop-color="#2f0000"/><stop offset="0.81" stop-color="#170000"/><stop offset="1" stop-color="#0c0000"/></linearGradient><linearGradient id="r140" gradientUnits="userSpaceOnUse" x1="258.2" x2="467.1" y1="0" y2="0"><stop offset="0" stop-color="#090000"/><stop offset="0.33" stop-color="#200000"/><stop offset="0.39" stop-color="#3b0000"/><stop offset="0.43" stop-color="#680000"/><stop offset="0.45" stop-color="#940000"/><stop offset="0.48" stop-color="#f20800"/><stop offset="0.49" stop-color="#ff4000"/><stop offset="0.5" stop-color="#ff9700"/><stop offset="0.51" stop-color="#ff9900"/><stop offset="0.52" stop-color="#ff7800"/><stop offset="0.56" stop-color="#ff7800"/><stop offset="0.56" stop-color="#ffa500"/><stop offset="0.57" stop-color="#ff8400"/><stop offset="0.58" stop-color="#ff2b00"/><stop offset="0.59" stop-color="#ec0500"/><stop offset="0.62" stop-color="#8e0000"/><stop offset="0.65" stop-color="#560000"/><stop offset="0.69" stop-color="#340000"/><stop offset="0.78" stop-color="#1b0000"/><stop offset="1" stop-color="#0c0000"/></linearGradient><linearGradient id="r141" gradientUnits="userSpaceOnUse" x1="258.2" x2="467.1" y1="0" y2="0"><stop offset="0" stop-color="#090000"/><stop offset="0.33" stop-color="#200000"/><stop offset="0.39" stop-color="#3a0000"/><stop offset="0.43" stop-color="#640000"/><stop offset="0.46" stop-color="#ab0000"/><stop offset="0.48" stop-color="#ec0500"/><stop offset="0.49" stop-color="#ff2b00"/><stop offset="0.5" stop-color="#ff8c00"/><stop offset="0.51" stop-color="#ffb300"/><stop offset="0.52" stop-color="#ff8700"/><stop offset="0.56" stop-color="#ff8700"/><stop offset="0.56" stop-color="#ffb900"/><stop offset="0.57" stop-color="#ff7600"/><stop offset="0.58" stop-color="#fc1d00"/><stop offset="0.59" stop-color="#e40400"/><stop offset="0.62" stop-color="#8a0000"/><stop offset="0.65" stop-color="#540000"/><stop offset="0.7" stop-color="#2e0000"/><stop offset="0.81" stop-color="#170000"/><stop offset="1" stop-color="#0c0000"/></linearGradient><linearGradient id="r142" gradientUnits="userSpaceOnUse" x1="258.2" x2="467.1" y1="0" y2="0"><stop offset="0" stop-color="#090000"/><stop offset="0.33" stop-color="#200000"/><stop offset="0.39" stop-color="#390000"/><stop offset="0.43" stop-color="#610000"/><stop offset="0.46" stop-color="#a50000"/><stop offset="0.48" stop-color="#e40400"/><stop offset="0.49" stop-color="#fc1d00"/><stop offset="0.5" stop-color="#ff7b00"/><stop offset="0.51" stop-color="#ffc301"/><stop offset="0.52" stop-color="#ff9600"/><stop offset="0.56" stop-color="#ff9600"/><stop offset="0.56" stop-color="#ffc301"/><stop offset="0.57" stop-color="#ff6500"/><stop offset="0.58" stop-color="#f81500"/><stop offset="0.59" stop-color="#dd0400"/><stop offset="0.62" stop-color="#850000"/><stop offset="0.65" stop-color="#520000"/><stop offset="0.7" stop-color="#2e0000"/><stop offset="0.81" stop-color="#170000"/><stop offset="1" stop-color="#0c0000"/></linearGradient><linearGradient id="r143" gradientUnits="userSpaceOnUse" x1="258.2" x2="467.1" y1="0" y2="0"><stop offset="0" stop-color="#090000"/><stop offset="0.33" stop-color="#200000"/><stop offset="0.39" stop-color="#380000"/><stop offset="0.43" stop-color="#5e0000"/><stop offset="0.46" stop-color="#9f0000"/><stop offset="0.48" stop-color="#dd0400"/><stop offset="0.49" stop-color="#f81500"/><stop offset="0.5" stop-color="#ff6800"/><stop offset="0.51" stop-color="#ffcb02"/><stop offset="0.52" stop-color="#ffa500"/><stop offset="0.55" stop-color="#ffa500"/><stop offset="0.56" stop-color="#ffc301"/><stop offset="0.57" stop-color="#ff5400"/><stop offset="0.58" stop-color="#f50e00"/><stop offset="0.6" stop-color="#b70100"/><stop offset="0.63" stop-color="#6c0000"/><stop offset="0.67" stop-color="#3e0000"/><stop offset="0.74" stop-color="#220000"/><stop offset="1" stop-color="#0c0000"/></linearGradient><linearGradient id="r144" gradientUnits="userSpaceOnUse" x1="258.2" x2="467.1" y1="0" y2="0"><stop offset="0" stop-color="#090000"/><stop offset="0.34" stop-color="#220000"/><stop offset="0.4" stop-color="#3e0000"/><stop offset="0.44" stop-color="#6c0000"/><stop offset="0.47" stop-color="#b70100"/><stop offset="0.49" stop-color="#f50e00"/><stop offset="0.5" stop-color="#ff5700"/><stop offset="0.51" stop-color="#ffca02"/><stop offset="0.53" stop-color="#ffb500"/><stop offset="0.55" stop-color="#ffb500"/><stop offset="0.56" stop-color="#ffc902"/><stop offset="0.56" stop-color="#ffbb00"/><stop offset="0.57" stop-color="#ff4500"/><stop offset="0.58" stop-color="#f10800"/><stop offset="0.61" stop-color="#940000"/><stop offset="0.64" stop-color="#590000"/><stop offset="0.69" stop-color="#310000"/><stop offset="0.8" stop-color="#190000"/><stop offset="1" stop-color="#0d0000"/></linearGradient><linearGradient id="r145" gradientUnits="userSpaceOnUse" x1="258.2" x2="467.1" y1="0" y2="0"><stop offset="0" stop-color="#090000"/><stop offset="0.34" stop-color="#220000"/><stop offset="0.4" stop-color="#3d0000"/><stop offset="0.44" stop-color="#690000"/><stop offset="0.47" stop-color="#b10000"/><stop offset="0.49" stop-color="#f10800"/><stop offset="0.5" stop-color="#ff4500"/><stop offset="0.51" stop-color="#ffc201"/><stop offset="0.52" stop-color="#ffd203"/><stop offset="0.53" stop-color="#ffc201"/><stop offset="0.55" stop-color="#ffc201"/><stop offset="0.56" stop-color="#ffd905"/><stop offset="0.56" stop-color="#ffa700"/><stop offset="0.57" stop-color="#ff2c00"/><stop offset="0.58" stop-color="#ec0500"/><stop offset="0.61" stop-color="#8f0000"/><stop offset="0.64" stop-color="#570000"/><stop offset="0.69" stop-color="#310000"/><stop offset="0.8" stop-color="#190000"/><stop offset="1" stop-color="#0d0000"/></linearGradient><linearGradient id="r146" gradientUnits="userSpaceOnUse" x1="258.2" x2="467.1" y1="0" y2="0"><stop offset="0" stop-color="#090000"/><stop offset="0.34" stop-color="#240000"/><stop offset="0.4" stop-color="#3c0000"/><stop offset="0.44" stop-color="#660000"/><stop offset="0.47" stop-color="#ac0000"/><stop offset="0.49" stop-color="#ec0500"/><stop offset="0.5" stop-color="#ff2c00"/><stop offset="0.51" stop-color="#ffad00"/><stop offset="0.52" stop-color="#ffe206"/><stop offset="0.53" stop-color="#ffcd02"/><stop offset="0.55" stop-color="#ffcd02"/><stop offset="0.56" stop-color="#ffe507"/><stop offset="0.56" stop-color="#ff8e00"/><stop offset="0.57" stop-color="#fc1d00"/><stop offset="0.58" stop-color="#e40400"/><stop offset="0.61" stop-color="#8b0000"/><stop offset="0.64" stop-color="#550000"/><stop offset="0.69" stop-color="#300000"/><stop offset="0.81" stop-color="#180000"/><stop offset="1" stop-color="#0d0000"/></linearGradient><linearGradient id="r147" gradientUnits="userSpaceOnUse" x1="258.2" x2="467.1" y1="0" y2="0"><stop offset="0" stop-color="#090000"/><stop offset="0.34" stop-color="#240000"/><stop offset="0.41" stop-color="#430000"/><stop offset="0.44" stop-color="#630000"/><stop offset="0.47" stop-color="#a60000"/><stop offset="0.49" stop-color="#e40400"/><stop offset="0.5" stop-color="#fc1d00"/><stop offset="0.51" stop-color="#ff8e00"/><stop offset="0.52" stop-color="#ffe707"/><stop offset="0.53" stop-color="#ffd103"/><stop offset="0.55" stop-color="#ffd103"/><stop offset="0.56" stop-color="#ffe406"/><stop offset="0.56" stop-color="#ff7200"/><stop offset="0.57" stop-color="#f81500"/><stop offset="0.58" stop-color="#dd0400"/><stop offset="0.61" stop-color="#860000"/><stop offset="0.64" stop-color="#530000"/><stop offset="0.69" stop-color="#300000"/><stop offset="0.8" stop-color="#1a0000"/><stop offset="1" stop-color="#0d0000"/></linearGradient><linearGradient id="r148" gradientUnits="userSpaceOnUse" x1="258.2" x2="467.1" y1="0" y2="0"><stop offset="0" stop-color="#0a0000"/><stop offset="0.34" stop-color="#230000"/><stop offset="0.4" stop-color="#3b0000"/><stop offset="0.44" stop-color="#600000"/><stop offset="0.47" stop-color="#a00000"/><stop offset="0.49" stop-color="#dd0400"/><stop offset="0.5" stop-color="#f81500"/><stop offset="0.51" stop-color="#ff7200"/><stop offset="0.52" stop-color="#ffe607"/><stop offset="0.53" stop-color="#ffd604"/><stop offset="0.56" stop-color="#ffda05"/><stop offset="0.56" stop-color="#ff5b00"/><stop offset="0.57" stop-color="#f40e00"/><stop offset="0.59" stop-color="#b70100"/><stop offset="0.62" stop-color="#6e0000"/><stop offset="0.66" stop-color="#400000"/><stop offset="0.74" stop-color="#220000"/><stop offset="1" stop-color="#0d0000"/></linearGradient><linearGradient id="r149" gradientUnits="userSpaceOnUse" x1="258.2" x2="467.1" y1="0" y2="0"><stop offset="0" stop-color="#0a0000"/><stop offset="0.34" stop-color="#250000"/><stop offset="0.41" stop-color="#410000"/><stop offset="0.44" stop-color="#5e0000"/><stop offset="0.47" stop-color="#9b0000"/><stop offset="0.49" stop-color="#d60300"/><stop offset="0.5" stop-color="#f40e00"/><stop offset="0.51" stop-color="#ff5b00"/><stop offset="0.52" stop-color="#ffdb05"/><stop offset="0.54" stop-color="#ffda05"/><stop offset="0.55" stop-color="#ffe306"/><stop offset="0.56" stop-color="#ffc802"/><stop offset="0.56" stop-color="#ff4300"/><stop offset="0.57" stop-color="#f10800"/><stop offset="0.6" stop-color="#960000"/><stop offset="0.63" stop-color="#5c0000"/><stop offset="0.68" stop-color="#340000"/><stop offset="0.78" stop-color="#1d0000"/><stop offset="1" stop-color="#0e0000"/></linearGradient><linearGradient id="r150" gradientUnits="userSpaceOnUse" x1="258.2" x2="467.1" y1="0" y2="0"><stop offset="0" stop-color="#0a0000"/><stop offset="0.34" stop-color="#250000"/><stop offset="0.41" stop-color="#400000"/><stop offset="0.45" stop-color="#6b0000"/><stop offset="0.48" stop-color="#b30000"/><stop offset="0.5" stop-color="#f10800"/><stop offset="0.51" stop-color="#ff4200"/><stop offset="0.52" stop-color="#ffc902"/><stop offset="0.53" stop-color="#ffe607"/><stop offset="0.54" stop-color="#ffdf05"/><stop offset="0.55" stop-color="#ffec08"/><stop offset="0.56" stop-color="#ffae00"/><stop offset="0.56" stop-color="#ff2a00"/><stop offset="0.57" stop-color="#ec0500"/><stop offset="0.6" stop-color="#910000"/><stop offset="0.63" stop-color="#5a0000"/><stop offset="0.68" stop-color="#340000"/><stop offset="0.79" stop-color="#1c0000"/><stop offset="1" stop-color="#0e0000"/></linearGradient><linearGradient id="r151" gradientUnits="userSpaceOnUse" x1="258.2" x2="467.1" y1="0" y2="0"><stop offset="0" stop-color="#0a0000"/><stop offset="0.35" stop-color="#270000"/><stop offset="0.42" stop-color="#460000"/><stop offset="0.45" stop-color="#690000"/><stop offset="0.48" stop-color="#ad0000"/><stop offset="0.5" stop-color="#ec0500"/><stop offset="0.51" stop-color="#ff2900"/><stop offset="0.52" stop-color="#ffae00"/><stop offset="0.53" stop-color="#ffee08"/><stop offset="0.54" stop-color="#ffe306"/><stop offset="0.55" stop-color="#fff008"/><stop offset="0.56" stop-color="#ff8d00"/><stop offset="0.56" stop-color="#fc1d00"/><stop offset="0.57" stop-color="#e50400"/><stop offset="0.6" stop-color="#8d0000"/><stop offset="0.63" stop-color="#580000"/><stop offset="0.68" stop-color="#330000"/><stop offset="0.8" stop-color="#1b0000"/><stop offset="1" stop-color="#0e0000"/></linearGradient><linearGradient id="r152" gradientUnits="userSpaceOnUse" x1="258.2" x2="467.1" y1="0" y2="0"><stop offset="0" stop-color="#0a0000"/><stop offset="0.34" stop-color="#260000"/><stop offset="0.41" stop-color="#3f0000"/><stop offset="0.45" stop-color="#660000"/><stop offset="0.48" stop-color="#a80000"/><stop offset="0.5" stop-color="#e50400"/><stop offset="0.51" stop-color="#fc1d00"/><stop offset="0.52" stop-color="#ff8d00"/><stop offset="0.53" stop-color="#fff209"/><stop offset="0.54" stop-color="#ffe807"/><stop offset="0.55" stop-color="#ffec08"/><stop offset="0.56" stop-color="#ff7100"/><stop offset="0.56" stop-color="#f81500"/><stop offset="0.57" stop-color="#de0400"/><stop offset="0.6" stop-color="#890000"/><stop offset="0.63" stop-color="#560000"/><stop offset="0.68" stop-color="#330000"/><stop offset="0.79" stop-color="#1d0000"/><stop offset="1" stop-color="#0f0000"/></linearGradient><linearGradient id="r153" gradientUnits="userSpaceOnUse" x1="258.2" x2="467.1" y1="0" y2="0"><stop offset="0" stop-color="#0b0000"/><stop offset="0.35" stop-color="#280000"/><stop offset="0.42" stop-color="#450000"/><stop offset="0.45" stop-color="#640000"/><stop offset="0.48" stop-color="#a30000"/><stop offset="0.5" stop-color="#de0400"/><stop offset="0.51" stop-color="#f81500"/><stop offset="0.52" stop-color="#ff7100"/><stop offset="0.53" stop-color="#ffed08"/><stop offset="0.54" stop-color="#ffed08"/><stop offset="0.55" stop-color="#ffde05"/><stop offset="0.56" stop-color="#ff5c00"/><stop offset="0.56" stop-color="#f50e00"/><stop offset="0.58" stop-color="#b90100"/><stop offset="0.61" stop-color="#710000"/><stop offset="0.65" stop-color="#430000"/><stop offset="0.72" stop-color="#280000"/><stop offset="1" stop-color="#0f0000"/></linearGradient><linearGradient id="r154" gradientUnits="userSpaceOnUse" x1="258.2" x2="467.1" y1="0" y2="0"><stop offset="0" stop-color="#0b0000"/><stop offset="0.35" stop-color="#290000"/><stop offset="0.42" stop-color="#440000"/><stop offset="0.46" stop-color="#720000"/><stop offset="0.49" stop-color="#b90100"/><stop offset="0.51" stop-color="#f50e00"/><stop offset="0.52" stop-color="#ff5c00"/><stop offset="0.53" stop-color="#ffdf05"/><stop offset="0.54" stop-color="#fff209"/><stop offset="0.55" stop-color="#ffca02"/><stop offset="0.56" stop-color="#ff4000"/><stop offset="0.56" stop-color="#f20800"/><stop offset="0.59" stop-color="#990000"/><stop offset="0.62" stop-color="#5f0000"/><stop offset="0.66" stop-color="#3d0000"/><stop offset="0.75" stop-color="#230000"/><stop offset="1" stop-color="#0f0000"/></linearGradient><linearGradient id="r155" gradientUnits="userSpaceOnUse" x1="258.2" x2="467.1" y1="0" y2="0"><stop offset="0" stop-color="#0b0000"/><stop offset="0.35" stop-color="#290000"/><stop offset="0.42" stop-color="#440000"/><stop offset="0.45" stop-color="#600000"/><stop offset="0.48" stop-color="#990000"/><stop offset="0.51" stop-color="#f20900"/><stop offset="0.52" stop-color="#ff4000"/><stop offset="0.53" stop-color="#ffca02"/><stop offset="0.54" stop-color="#fff90a"/><stop offset="0.55" stop-color="#ffae00"/><stop offset="0.56" stop-color="#ff2900"/><stop offset="0.56" stop-color="#ed0500"/><stop offset="0.59" stop-color="#940000"/><stop offset="0.62" stop-color="#5d0000"/><stop offset="0.67" stop-color="#380000"/><stop offset="0.79" stop-color="#1f0000"/><stop offset="1" stop-color="#100000"/></linearGradient><linearGradient id="r156" gradientUnits="userSpaceOnUse" x1="258.2" x2="467.1" y1="0" y2="0"><stop offset="0" stop-color="#0c0000"/><stop offset="0.34" stop-color="#2a0000"/><stop offset="0.4" stop-color="#470000"/><stop offset="0.44" stop-color="#730000"/><stop offset="0.47" stop-color="#b60100"/><stop offset="0.49" stop-color="#f10700"/><stop offset="0.5" stop-color="#ff2400"/><stop offset="0.51" stop-color="#ff3f00"/><stop offset="0.52" stop-color="#ff4a00"/><stop offset="0.53" stop-color="#ffab00"/><stop offset="0.54" stop-color="#fff309"/><stop offset="0.55" stop-color="#ff8d00"/><stop offset="0.56" stop-color="#ff4500"/><stop offset="0.56" stop-color="#ff3f00"/><stop offset="0.57" stop-color="#fc1d00"/><stop offset="0.58" stop-color="#ec0500"/><stop offset="0.61" stop-color="#980000"/><stop offset="0.64" stop-color="#610000"/><stop offset="0.69" stop-color="#3a0000"/><stop offset="0.8" stop-color="#1f0000"/><stop offset="1" stop-color="#100000"/></linearGradient><linearGradient id="r157" gradientUnits="userSpaceOnUse" x1="258.2" x2="467.1" y1="0" y2="0"><stop offset="0" stop-color="#0c0000"/><stop offset="0.33" stop-color="#280000"/><stop offset="0.4" stop-color="#480000"/><stop offset="0.43" stop-color="#670000"/><stop offset="0.46" stop-color="#a30000"/><stop offset="0.48" stop-color="#d90300"/><stop offset="0.49" stop-color="#f40d00"/><stop offset="0.5" stop-color="#ff3400"/><stop offset="0.52" stop-color="#ff5600"/><stop offset="0.53" stop-color="#ffce03"/><stop offset="0.54" stop-color="#fff90a"/><stop offset="0.55" stop-color="#ffb500"/><stop offset="0.56" stop-color="#ff4c00"/><stop offset="0.56" stop-color="#ff3f00"/><stop offset="0.57" stop-color="#ff2600"/><stop offset="0.58" stop-color="#f20800"/><stop offset="0.62" stop-color="#860000"/><stop offset="0.65" stop-color="#580000"/><stop offset="0.71" stop-color="#320000"/><stop offset="0.88" stop-color="#180000"/><stop offset="1" stop-color="#100000"/></linearGradient><linearGradient id="r158" gradientUnits="userSpaceOnUse" x1="258.2" x2="467.1" y1="0" y2="0"><stop offset="0" stop-color="#0c0000"/><stop offset="0.33" stop-color="#290000"/><stop offset="0.39" stop-color="#430000"/><stop offset="0.43" stop-color="#6a0000"/><stop offset="0.46" stop-color="#a90000"/><stop offset="0.48" stop-color="#e10400"/><stop offset="0.49" stop-color="#f81400"/><stop offset="0.5" stop-color="#ff3f00"/><stop offset="0.51" stop-color="#ff4100"/><stop offset="0.52" stop-color="#ff6a00"/><stop offset="0.53" stop-color="#ffea07"/><stop offset="0.54" stop-color="#fffa0a"/><stop offset="0.55" stop-color="#ffd604"/><stop offset="0.56" stop-color="#ff5900"/><stop offset="0.56" stop-color="#ff4000"/><stop offset="0.57" stop-color="#ff3600"/><stop offset="0.58" stop-color="#f50f00"/><stop offset="0.6" stop-color="#bd0100"/><stop offset="0.63" stop-color="#780000"/><stop offset="0.67" stop-color="#480000"/><stop offset="0.75" stop-color="#280000"/><stop offset="1" stop-color="#100000"/></linearGradient><linearGradient id="r159" gradientUnits="userSpaceOnUse" x1="258.2" x2="467.1" y1="0" y2="0"><stop offset="0" stop-color="#0c0000"/><stop offset="0.33" stop-color="#290000"/><stop offset="0.39" stop-color="#440000"/><stop offset="0.43" stop-color="#6e0000"/><stop offset="0.46" stop-color="#b00000"/><stop offset="0.48" stop-color="#e90400"/><stop offset="0.49" stop-color="#fb1b00"/><stop offset="0.5" stop-color="#ff3f00"/><stop offset="0.51" stop-color="#ff4400"/><stop offset="0.52" stop-color="#ff8900"/><stop offset="0.53" stop-color="#fffa0a"/><stop offset="0.55" stop-color="#fff109"/><stop offset="0.56" stop-color="#ff7000"/><stop offset="0.56" stop-color="#ff4100"/><stop offset="0.57" stop-color="#ff3f00"/><stop offset="0.58" stop-color="#f81500"/><stop offset="0.59" stop-color="#e20400"/><stop offset="0.63" stop-color="#7c0000"/><stop offset="0.66" stop-color="#530000"/><stop offset="0.72" stop-color="#300000"/><stop offset="0.89" stop-color="#180000"/><stop offset="1" stop-color="#100000"/></linearGradient><linearGradient id="r160" gradientUnits="userSpaceOnUse" x1="258.2" x2="467.1" y1="0" y2="0"><stop offset="0" stop-color="#0c0000"/><stop offset="0.33" stop-color="#290000"/><stop offset="0.39" stop-color="#460000"/><stop offset="0.43" stop-color="#720000"/><stop offset="0.46" stop-color="#b50000"/><stop offset="0.48" stop-color="#f10600"/><stop offset="0.49" stop-color="#ff2200"/><stop offset="0.5" stop-color="#ff3f00"/><stop offset="0.51" stop-color="#ff4a00"/><stop offset="0.52" stop-color="#ffb300"/><stop offset="0.53" stop-color="#fffa0a"/><stop offset="0.55" stop-color="#fffa0a"/><stop offset="0.56" stop-color="#ff9100"/><stop offset="0.56" stop-color="#ff4400"/><stop offset="0.57" stop-color="#ff3f00"/><stop offset="0.58" stop-color="#fc1c00"/><stop offset="0.59" stop-color="#ea0500"/><stop offset="0.62" stop-color="#960000"/><stop offset="0.65" stop-color="#600000"/><stop offset="0.7" stop-color="#390000"/><stop offset="0.8" stop-color="#200000"/><stop offset="1" stop-color="#100000"/></linearGradient><linearGradient id="r161" gradientUnits="userSpaceOnUse" x1="258.2" x2="467.1" y1="0" y2="0"><stop offset="0" stop-color="#0c0000"/><stop offset="0.32" stop-color="#280000"/><stop offset="0.39" stop-color="#480000"/><stop offset="0.42" stop-color="#660000"/><stop offset="0.45" stop-color="#a10000"/><stop offset="0.48" stop-color="#f40c00"/><stop offset="0.49" stop-color="#ff3100"/><stop offset="0.51" stop-color="#ff5600"/><stop offset="0.52" stop-color="#ffd704"/><stop offset="0.53" stop-color="#fffa0a"/><stop offset="0.55" stop-color="#fffa0a"/><stop offset="0.56" stop-color="#ffbe00"/><stop offset="0.56" stop-color="#ff4c00"/><stop offset="0.57" stop-color="#ff3f00"/><stop offset="0.58" stop-color="#ff2400"/><stop offset="0.59" stop-color="#f10700"/><stop offset="0.63" stop-color="#850000"/><stop offset="0.66" stop-color="#570000"/><stop offset="0.72" stop-color="#320000"/><stop offset="0.86" stop-color="#1a0000"/><stop offset="1" stop-color="#100000"/></linearGradient><linearGradient id="r162" gradientUnits="userSpaceOnUse" x1="258.2" x2="467.1" y1="0" y2="0"><stop offset="0" stop-color="#0c0000"/><stop offset="0.32" stop-color="#280000"/><stop offset="0.38" stop-color="#420000"/><stop offset="0.42" stop-color="#690000"/><stop offset="0.45" stop-color="#a80000"/><stop offset="0.47" stop-color="#df0400"/><stop offset="0.48" stop-color="#f71300"/><stop offset="0.49" stop-color="#ff3f00"/><stop offset="0.5" stop-color="#ff4000"/><stop offset="0.51" stop-color="#ff6900"/><stop offset="0.52" stop-color="#fff008"/><stop offset="0.54" stop-color="#fffa0a"/><stop offset="0.55" stop-color="#fffa0a"/><stop offset="0.56" stop-color="#ffda05"/><stop offset="0.56" stop-color="#ff5800"/><stop offset="0.57" stop-color="#ff3f00"/><stop offset="0.58" stop-color="#ff3400"/><stop offset="0.59" stop-color="#f40d00"/><stop offset="0.61" stop-color="#bc0100"/><stop offset="0.64" stop-color="#770000"/><stop offset="0.67" stop-color="#500000"/><stop offset="0.73" stop-color="#2f0000"/><stop offset="0.92" stop-color="#150000"/><stop offset="1" stop-color="#100000"/></linearGradient><linearGradient id="r163" gradientUnits="userSpaceOnUse" x1="258.2" x2="467.1" y1="0" y2="0"><stop offset="0" stop-color="#0c0000"/><stop offset="0.32" stop-color="#280000"/><stop offset="0.38" stop-color="#440000"/><stop offset="0.42" stop-color="#6d0000"/><stop offset="0.45" stop-color="#ae0000"/><stop offset="0.47" stop-color="#e80400"/><stop offset="0.48" stop-color="#fa1a00"/><stop offset="0.49" stop-color="#ff3f00"/><stop offset="0.5" stop-color="#ff4300"/><stop offset="0.51" stop-color="#ff8500"/><stop offset="0.52" stop-color="#fffa0a"/><stop offset="0.55" stop-color="#fffa0a"/><stop offset="0.56" stop-color="#fff209"/><stop offset="0.56" stop-color="#ff6d00"/><stop offset="0.57" stop-color="#ff4100"/><stop offset="0.58" stop-color="#ff3f00"/><stop offset="0.59" stop-color="#f71400"/><stop offset="0.6" stop-color="#e10400"/><stop offset="0.63" stop-color="#8f0000"/><stop offset="0.66" stop-color="#5c0000"/><stop offset="0.71" stop-color="#370000"/><stop offset="0.83" stop-color="#1d0000"/><stop offset="1" stop-color="#100000"/></linearGradient><linearGradient id="r164" gradientUnits="userSpaceOnUse" x1="258.2" x2="467.1" y1="0" y2="0"><stop offset="0" stop-color="#0c0000"/><stop offset="0.31" stop-color="#270000"/><stop offset="0.38" stop-color="#450000"/><stop offset="0.42" stop-color="#710000"/><stop offset="0.45" stop-color="#b40000"/><stop offset="0.47" stop-color="#f00500"/><stop offset="0.48" stop-color="#fe2100"/><stop offset="0.49" stop-color="#ff3f00"/><stop offset="0.5" stop-color="#ff4800"/><stop offset="0.51" stop-color="#ffaa00"/><stop offset="0.52" stop-color="#fffa0a"/><stop offset="0.56" stop-color="#fffa0a"/><stop offset="0.56" stop-color="#ff8a00"/><stop offset="0.57" stop-color="#ff4300"/><stop offset="0.58" stop-color="#ff3f00"/><stop offset="0.59" stop-color="#fb1b00"/><stop offset="0.6" stop-color="#e90400"/><stop offset="0.63" stop-color="#950000"/><stop offset="0.66" stop-color="#5f0000"/><stop offset="0.71" stop-color="#380000"/><stop offset="0.81" stop-color="#1f0000"/><stop offset="1" stop-color="#100000"/></linearGradient><linearGradient id="r165" gradientUnits="userSpaceOnUse" x1="258.2" x2="467.1" y1="0" y2="0"><stop offset="0" stop-color="#0c0000"/><stop offset="0.31" stop-color="#270000"/><stop offset="0.38" stop-color="#470000"/><stop offset="0.42" stop-color="#750000"/><stop offset="0.45" stop-color="#ba0100"/><stop offset="0.47" stop-color="#f30b00"/><stop offset="0.48" stop-color="#ff2e00"/><stop offset="0.5" stop-color="#ff5200"/><stop offset="0.51" stop-color="#ffcb02"/><stop offset="0.52" stop-color="#fffa0a"/><stop offset="0.56" stop-color="#fffa0a"/><stop offset="0.56" stop-color="#ffaf00"/><stop offset="0.57" stop-color="#ff4900"/><stop offset="0.58" stop-color="#ff3f00"/><stop offset="0.59" stop-color="#fe2200"/><stop offset="0.6" stop-color="#f00600"/><stop offset="0.64" stop-color="#840000"/><stop offset="0.67" stop-color="#560000"/><stop offset="0.73" stop-color="#310000"/><stop offset="0.88" stop-color="#190000"/><stop offset="1" stop-color="#100000"/></linearGradient><linearGradient id="r166" gradientUnits="userSpaceOnUse" x1="258.2" x2="467.1" y1="0" y2="0"><stop offset="0" stop-color="#0c0000"/><stop offset="0.31" stop-color="#270000"/><stop offset="0.38" stop-color="#480000"/><stop offset="0.41" stop-color="#680000"/><stop offset="0.44" stop-color="#a60000"/><stop offset="0.46" stop-color="#de0400"/><stop offset="0.47" stop-color="#f61200"/><stop offset="0.48" stop-color="#ff3e00"/><stop offset="0.49" stop-color="#ff4000"/><stop offset="0.5" stop-color="#ff6300"/><stop offset="0.51" stop-color="#ffe406"/><stop offset="0.52" stop-color="#fffa0a"/><stop offset="0.56" stop-color="#fffa0a"/><stop offset="0.56" stop-color="#ffce03"/><stop offset="0.57" stop-color="#ff5400"/><stop offset="0.59" stop-color="#ff3100"/><stop offset="0.6" stop-color="#f40c00"/><stop offset="0.63" stop-color="#a10000"/><stop offset="0.66" stop-color="#650000"/><stop offset="0.7" stop-color="#400000"/><stop offset="0.79" stop-color="#220000"/><stop offset="1" stop-color="#100000"/></linearGradient><linearGradient id="r167" gradientUnits="userSpaceOnUse" x1="258.2" x2="467.1" y1="0" y2="0"><stop offset="0" stop-color="#0c0000"/><stop offset="0.3" stop-color="#260000"/><stop offset="0.36" stop-color="#3d0000"/><stop offset="0.4" stop-color="#5e0000"/><stop offset="0.43" stop-color="#930000"/><stop offset="0.46" stop-color="#e60400"/><stop offset="0.47" stop-color="#fa1800"/><stop offset="0.48" stop-color="#ff3e00"/><stop offset="0.49" stop-color="#ff4200"/><stop offset="0.5" stop-color="#ff7b00"/><stop offset="0.51" stop-color="#fff509"/><stop offset="0.56" stop-color="#fffa0a"/><stop offset="0.56" stop-color="#ffe507"/><stop offset="0.57" stop-color="#ff6600"/><stop offset="0.58" stop-color="#ff4000"/><stop offset="0.59" stop-color="#ff3e00"/><stop offset="0.6" stop-color="#f71300"/><stop offset="0.61" stop-color="#df0400"/><stop offset="0.64" stop-color="#8e0000"/><stop offset="0.67" stop-color="#5b0000"/><stop offset="0.73" stop-color="#330000"/><stop offset="0.85" stop-color="#1b0000"/><stop offset="1" stop-color="#100000"/></linearGradient><linearGradient id="r168" gradientUnits="userSpaceOnUse" x1="258.2" x2="467.1" y1="0" y2="0"><stop offset="0" stop-color="#0c0000"/><stop offset="0.31" stop-color="#280000"/><stop offset="0.37" stop-color="#440000"/><stop offset="0.41" stop-color="#700000"/><stop offset="0.44" stop-color="#b30000"/><stop offset="0.46" stop-color="#ee0500"/><stop offset="0.47" stop-color="#fd1f00"/><stop offset="0.48" stop-color="#ff3f00"/><stop offset="0.49" stop-color="#ff4600"/><stop offset="0.51" stop-color="#fff409"/><stop offset="0.56" stop-color="#ffef08"/><stop offset="0.57" stop-color="#ff7d00"/><stop offset="0.58" stop-color="#ff4200"/><stop offset="0.59" stop-color="#ff3e00"/><stop offset="0.6" stop-color="#fa1900"/><stop offset="0.61" stop-color="#e70400"/><stop offset="0.65" stop-color="#7e0000"/><stop offset="0.68" stop-color="#530000"/><stop offset="0.74" stop-color="#300000"/><stop offset="0.89" stop-color="#180000"/><stop offset="1" stop-color="#100000"/></linearGradient><linearGradient id="r169" gradientUnits="userSpaceOnUse" x1="258.2" x2="467.1" y1="0" y2="0"><stop offset="0" stop-color="#0c0000"/><stop offset="0.3" stop-color="#260000"/><stop offset="0.37" stop-color="#460000"/><stop offset="0.41" stop-color="#740000"/><stop offset="0.44" stop-color="#b90100"/><stop offset="0.46" stop-color="#f20a00"/><stop offset="0.47" stop-color="#ff2b00"/><stop offset="0.49" stop-color="#ff4d00"/><stop offset="0.5" stop-color="#ffb500"/><stop offset="0.51" stop-color="#ffea07"/><stop offset="0.56" stop-color="#ffea07"/><stop offset="0.58" stop-color="#ff4600"/><stop offset="0.59" stop-color="#ff3e00"/><stop offset="0.6" stop-color="#fe2100"/><stop offset="0.61" stop-color="#f00500"/><stop offset="0.64" stop-color="#990000"/><stop offset="0.67" stop-color="#610000"/><stop offset="0.72" stop-color="#390000"/><stop offset="0.81" stop-color="#200000"/><stop offset="1" stop-color="#100000"/></linearGradient><linearGradient id="r170" gradientUnits="userSpaceOnUse" x1="258.2" x2="467.1" y1="0" y2="0"><stop offset="0" stop-color="#0c0000"/><stop offset="0.3" stop-color="#270000"/><stop offset="0.36" stop-color="#410000"/><stop offset="0.4" stop-color="#670000"/><stop offset="0.43" stop-color="#a50000"/><stop offset="0.45" stop-color="#dc0300"/><stop offset="0.46" stop-color="#f61000"/><stop offset="0.47" stop-color="#ff3b00"/><stop offset="0.48" stop-color="#ff3f00"/><stop offset="0.49" stop-color="#ff5800"/><stop offset="0.5" stop-color="#ffc701"/><stop offset="0.51" stop-color="#ffe006"/><stop offset="0.56" stop-color="#ffe006"/><stop offset="0.57" stop-color="#ffb100"/><stop offset="0.58" stop-color="#ff4d00"/><stop offset="0.6" stop-color="#ff2e00"/><stop offset="0.61" stop-color="#f30b00"/><stop offset="0.64" stop-color="#9f0000"/><stop offset="0.67" stop-color="#640000"/><stop offset="0.71" stop-color="#400000"/><stop offset="0.79" stop-color="#240000"/><stop offset="1" stop-color="#100000"/></linearGradient><linearGradient id="r171" gradientUnits="userSpaceOnUse" x1="258.2" x2="467.1" y1="0" y2="0"><stop offset="0" stop-color="#0c0000"/><stop offset="0.3" stop-color="#270000"/><stop offset="0.36" stop-color="#420000"/><stop offset="0.4" stop-color="#6b0000"/><stop offset="0.43" stop-color="#ab0000"/><stop offset="0.45" stop-color="#e40400"/><stop offset="0.46" stop-color="#f91700"/><stop offset="0.47" stop-color="#ff3e00"/><stop offset="0.48" stop-color="#ff4000"/><stop offset="0.49" stop-color="#ff6700"/><stop offset="0.5" stop-color="#ffce03"/><stop offset="0.54" stop-color="#ffd604"/><stop offset="0.56" stop-color="#ffd504"/><stop offset="0.57" stop-color="#ffc201"/><stop offset="0.58" stop-color="#ff5800"/><stop offset="0.59" stop-color="#ff3f00"/><stop offset="0.6" stop-color="#ff3e00"/><stop offset="0.61" stop-color="#f61100"/><stop offset="0.63" stop-color="#c00100"/><stop offset="0.66" stop-color="#790000"/><stop offset="0.69" stop-color="#500000"/><stop offset="0.75" stop-color="#2e0000"/><stop offset="0.92" stop-color="#160000"/><stop offset="1" stop-color="#100000"/></linearGradient><linearGradient id="r172" gradientUnits="userSpaceOnUse" x1="258.2" x2="467.1" y1="0" y2="0"><stop offset="0" stop-color="#0c0000"/><stop offset="0.3" stop-color="#270000"/><stop offset="0.36" stop-color="#440000"/><stop offset="0.4" stop-color="#6f0000"/><stop offset="0.43" stop-color="#b20000"/><stop offset="0.45" stop-color="#ed0500"/><stop offset="0.46" stop-color="#fd1e00"/><stop offset="0.47" stop-color="#ff3e00"/><stop offset="0.48" stop-color="#ff4300"/><stop offset="0.49" stop-color="#ff7900"/><stop offset="0.5" stop-color="#ffcb02"/><stop offset="0.57" stop-color="#ffc601"/><stop offset="0.58" stop-color="#ff6700"/><stop offset="0.59" stop-color="#ff4100"/><stop offset="0.6" stop-color="#ff3e00"/><stop offset="0.61" stop-color="#fa1800"/><stop offset="0.62" stop-color="#e60400"/><stop offset="0.65" stop-color="#920000"/><stop offset="0.68" stop-color="#5d0000"/><stop offset="0.73" stop-color="#370000"/><stop offset="0.83" stop-color="#1e0000"/><stop offset="1" stop-color="#100000"/></linearGradient><linearGradient id="r173" gradientUnits="userSpaceOnUse" x1="258.2" x2="467.1" y1="0" y2="0"><stop offset="0" stop-color="#0c0000"/><stop offset="0.29" stop-color="#260000"/><stop offset="0.35" stop-color="#3f0000"/><stop offset="0.39" stop-color="#630000"/><stop offset="0.42" stop-color="#9d0000"/><stop offset="0.45" stop-color="#f20900"/><stop offset="0.46" stop-color="#ff2800"/><stop offset="0.47" stop-color="#ff3e00"/><stop offset="0.48" stop-color="#ff4700"/><stop offset="0.49" stop-color="#ff8a00"/><stop offset="0.5" stop-color="#ffc100"/><stop offset="0.57" stop-color="#ffc100"/><stop offset="0.58" stop-color="#ff7700"/><stop offset="0.59" stop-color="#ff4300"/><stop offset="0.6" stop-color="#ff3e00"/><stop offset="0.61" stop-color="#fd1f00"/><stop offset="0.62" stop-color="#ee0500"/><stop offset="0.65" stop-color="#980000"/><stop offset="0.68" stop-color="#600000"/><stop offset="0.73" stop-color="#380000"/><stop offset="0.82" stop-color="#1f0000"/><stop offset="1" stop-color="#100000"/></linearGradient><linearGradient id="r174" gradientUnits="userSpaceOnUse" x1="258.2" x2="467.1" y1="0" y2="0"><stop offset="0" stop-color="#0c0000"/><stop offset="0.29" stop-color="#260000"/><stop offset="0.35" stop-color="#400000"/><stop offset="0.39" stop-color="#660000"/><stop offset="0.42" stop-color="#a30000"/><stop offset="0.44" stop-color="#db0300"/><stop offset="0.45" stop-color="#f50f00"/><stop offset="0.46" stop-color="#ff3800"/><stop offset="0.48" stop-color="#ff4d00"/><stop offset="0.49" stop-color="#ff9800"/><stop offset="0.5" stop-color="#ffb400"/><stop offset="0.57" stop-color="#ffb400"/><stop offset="0.58" stop-color="#ff8600"/><stop offset="0.59" stop-color="#ff4700"/><stop offset="0.61" stop-color="#ff2b00"/><stop offset="0.62" stop-color="#f20a00"/><stop offset="0.66" stop-color="#870000"/><stop offset="0.69" stop-color="#570000"/><stop offset="0.74" stop-color="#340000"/><stop offset="0.87" stop-color="#1a0000"/><stop offset="1" stop-color="#100000"/></linearGradient><linearGradient id="r175" gradientUnits="userSpaceOnUse" x1="258.2" x2="467.1" y1="0" y2="0"><stop offset="0" stop-color="#0c0000"/><stop offset="0.29" stop-color="#260000"/><stop offset="0.35" stop-color="#410000"/><stop offset="0.39" stop-color="#6a0000"/><stop offset="0.42" stop-color="#aa0000"/><stop offset="0.44" stop-color="#e30400"/><stop offset="0.45" stop-color="#f81600"/><stop offset="0.46" stop-color="#ff3e00"/><stop offset="0.47" stop-color="#ff3f00"/><stop offset="0.48" stop-color="#ff5600"/><stop offset="0.49" stop-color="#ff9d00"/><stop offset="0.51" stop-color="#ffa700"/><stop offset="0.57" stop-color="#ffa700"/><stop offset="0.58" stop-color="#ff9100"/><stop offset="0.59" stop-color="#ff4d00"/><stop offset="0.61" stop-color="#ff3b00"/><stop offset="0.62" stop-color="#f61000"/><stop offset="0.63" stop-color="#dc0300"/><stop offset="0.66" stop-color="#8c0000"/><stop offset="0.69" stop-color="#5a0000"/><stop offset="0.74" stop-color="#350000"/><stop offset="0.86" stop-color="#1b0000"/><stop offset="1" stop-color="#100000"/></linearGradient><linearGradient id="r176" gradientUnits="userSpaceOnUse" x1="258.2" x2="467.1" y1="0" y2="0"><stop offset="0" stop-color="#0c0000"/><stop offset="0.28" stop-color="#250000"/><stop offset="0.35" stop-color="#430000"/><stop offset="0.39" stop-color="#6e0000"/><stop offset="0.42" stop-color="#b00000"/><stop offset="0.44" stop-color="#eb0500"/><stop offset="0.45" stop-color="#fc1d00"/><stop offset="0.46" stop-color="#ff3e00"/><stop offset="0.47" stop-color="#ff4100"/><stop offset="0.48" stop-color="#ff6000"/><stop offset="0.49" stop-color="#ff9900"/><stop offset="0.57" stop-color="#ff9a00"/><stop offset="0.58" stop-color="#ff9300"/><stop offset="0.59" stop-color="#ff5500"/><stop offset="0.6" stop-color="#ff3f00"/><stop offset="0.61" stop-color="#ff3e00"/><stop offset="0.62" stop-color="#f91700"/><stop offset="0.63" stop-color="#e40400"/><stop offset="0.67" stop-color="#7c0000"/><stop offset="0.7" stop-color="#520000"/><stop offset="0.76" stop-color="#2e0000"/><stop offset="0.93" stop-color="#150000"/><stop offset="1" stop-color="#100000"/></linearGradient><linearGradient id="r177" gradientUnits="userSpaceOnUse" x1="258.2" x2="467.1" y1="0" y2="0"><stop offset="0" stop-color="#0c0000"/><stop offset="0.28" stop-color="#250000"/><stop offset="0.35" stop-color="#440000"/><stop offset="0.39" stop-color="#720000"/><stop offset="0.42" stop-color="#b60100"/><stop offset="0.44" stop-color="#f10800"/><stop offset="0.45" stop-color="#ff2500"/><stop offset="0.46" stop-color="#ff3e00"/><stop offset="0.47" stop-color="#ff4300"/><stop offset="0.49" stop-color="#ff8c00"/><stop offset="0.58" stop-color="#ff8c00"/><stop offset="0.59" stop-color="#ff5d00"/><stop offset="0.6" stop-color="#ff4000"/><stop offset="0.61" stop-color="#ff3e00"/><stop offset="0.62" stop-color="#fc1e00"/><stop offset="0.63" stop-color="#ec0500"/><stop offset="0.67" stop-color="#800000"/><stop offset="0.7" stop-color="#540000"/><stop offset="0.76" stop-color="#2f0000"/><stop offset="0.91" stop-color="#160000"/><stop offset="1" stop-color="#100000"/></linearGradient><linearGradient id="r178" gradientUnits="userSpaceOnUse" x1="258.2" x2="467.1" y1="0" y2="0"><stop offset="0" stop-color="#0c0000"/><stop offset="0.28" stop-color="#250000"/><stop offset="0.35" stop-color="#460000"/><stop offset="0.38" stop-color="#650000"/><stop offset="0.41" stop-color="#a20000"/><stop offset="0.43" stop-color="#d90300"/><stop offset="0.44" stop-color="#f40e00"/><stop offset="0.45" stop-color="#ff3500"/><stop offset="0.47" stop-color="#ff4600"/><stop offset="0.48" stop-color="#ff6e00"/><stop offset="0.49" stop-color="#ff7f00"/><stop offset="0.58" stop-color="#ff7f00"/><stop offset="0.6" stop-color="#ff4200"/><stop offset="0.61" stop-color="#ff3e00"/><stop offset="0.62" stop-color="#ff2800"/><stop offset="0.63" stop-color="#f20800"/><stop offset="0.67" stop-color="#850000"/><stop offset="0.7" stop-color="#560000"/><stop offset="0.76" stop-color="#300000"/><stop offset="0.9" stop-color="#170000"/><stop offset="1" stop-color="#100000"/></linearGradient><linearGradient id="r179" gradientUnits="userSpaceOnUse" x1="258.2" x2="467.1" y1="0" y2="0"><stop offset="0" stop-color="#0c0000"/><stop offset="0.27" stop-color="#240000"/><stop offset="0.34" stop-color="#3b0000"/><stop offset="0.37" stop-color="#5b0000"/><stop offset="0.4" stop-color="#8f0000"/><stop offset="0.43" stop-color="#e10400"/><stop offset="0.44" stop-color="#f81400"/><stop offset="0.45" stop-color="#ff3d00"/><stop offset="0.47" stop-color="#ff4900"/><stop offset="0.48" stop-color="#ff6c00"/><stop offset="0.55" stop-color="#ff7300"/><stop offset="0.58" stop-color="#ff7200"/><stop offset="0.59" stop-color="#ff6500"/><stop offset="0.6" stop-color="#ff4500"/><stop offset="0.62" stop-color="#ff3800"/><stop offset="0.63" stop-color="#f50f00"/><stop offset="0.65" stop-color="#bd0100"/><stop offset="0.68" stop-color="#760000"/><stop offset="0.72" stop-color="#460000"/><stop offset="0.79" stop-color="#250000"/><stop offset="1" stop-color="#100000"/></linearGradient><linearGradient id="r180" gradientUnits="userSpaceOnUse" x1="258.2" x2="467.1" y1="0" y2="0"><stop offset="0" stop-color="#0c0000"/><stop offset="0.27" stop-color="#240000"/><stop offset="0.34" stop-color="#420000"/><stop offset="0.38" stop-color="#6c0000"/><stop offset="0.41" stop-color="#af0000"/><stop offset="0.43" stop-color="#e90400"/><stop offset="0.44" stop-color="#fb1b00"/><stop offset="0.45" stop-color="#ff3d00"/><stop offset="0.47" stop-color="#ff4b00"/><stop offset="0.48" stop-color="#ff6400"/><stop offset="0.59" stop-color="#ff6100"/><stop offset="0.6" stop-color="#ff4700"/><stop offset="0.62" stop-color="#ff3d00"/><stop offset="0.63" stop-color="#f81500"/><stop offset="0.64" stop-color="#e20400"/><stop offset="0.67" stop-color="#900000"/><stop offset="0.7" stop-color="#5b0000"/><stop offset="0.76" stop-color="#310000"/><stop offset="0.9" stop-color="#170000"/><stop offset="1" stop-color="#100000"/></linearGradient><linearGradient id="r181" gradientUnits="userSpaceOnUse" x1="258.2" x2="467.1" y1="0" y2="0"><stop offset="0" stop-color="#0c0000"/><stop offset="0.28" stop-color="#260000"/><stop offset="0.34" stop-color="#440000"/><stop offset="0.38" stop-color="#700000"/><stop offset="0.41" stop-color="#b50000"/><stop offset="0.43" stop-color="#f10600"/><stop offset="0.44" stop-color="#ff2300"/><stop offset="0.45" stop-color="#ff3d00"/><stop offset="0.47" stop-color="#ff4b00"/><stop offset="0.48" stop-color="#ff5700"/><stop offset="0.59" stop-color="#ff5700"/><stop offset="0.61" stop-color="#ff3e00"/><stop offset="0.62" stop-color="#ff3d00"/><stop offset="0.63" stop-color="#fc1c00"/><stop offset="0.64" stop-color="#eb0500"/><stop offset="0.67" stop-color="#950000"/><stop offset="0.7" stop-color="#5e0000"/><stop offset="0.75" stop-color="#370000"/><stop offset="0.84" stop-color="#1e0000"/><stop offset="1" stop-color="#100000"/></linearGradient><linearGradient id="r182" gradientUnits="userSpaceOnUse" x1="258.2" x2="467.1" y1="0" y2="0"><stop offset="0" stop-color="#0c0000"/><stop offset="0.27" stop-color="#250000"/><stop offset="0.34" stop-color="#450000"/><stop offset="0.38" stop-color="#740000"/><stop offset="0.41" stop-color="#bb0100"/><stop offset="0.43" stop-color="#f40d00"/><stop offset="0.44" stop-color="#ff3200"/><stop offset="0.48" stop-color="#ff5100"/><stop offset="0.59" stop-color="#ff5100"/><stop offset="0.62" stop-color="#ff3d00"/><stop offset="0.63" stop-color="#ff2500"/><stop offset="0.64" stop-color="#f10700"/><stop offset="0.68" stop-color="#840000"/><stop offset="0.71" stop-color="#550000"/><stop offset="0.77" stop-color="#2f0000"/><stop offset="0.91" stop-color="#170000"/><stop offset="1" stop-color="#100000"/></linearGradient><linearGradient id="r183" gradientUnits="userSpaceOnUse" x1="258.2" x2="467.1" y1="0" y2="0"><stop offset="0" stop-color="#0c0000"/><stop offset="0.27" stop-color="#250000"/><stop offset="0.34" stop-color="#400000"/><stop offset="0.37" stop-color="#680000"/><stop offset="0.4" stop-color="#a70000"/><stop offset="0.42" stop-color="#df0400"/><stop offset="0.43" stop-color="#f71300"/><stop offset="0.44" stop-color="#ff3d00"/><stop offset="0.51" stop-color="#ff4b00"/><stop offset="0.6" stop-color="#ff4700"/><stop offset="0.63" stop-color="#ff3500"/><stop offset="0.64" stop-color="#f40e00"/><stop offset="0.66" stop-color="#bc0100"/><stop offset="0.69" stop-color="#750000"/><stop offset="0.73" stop-color="#450000"/><stop offset="0.8" stop-color="#250000"/><stop offset="1" stop-color="#100000"/></linearGradient><linearGradient id="r184" gradientUnits="userSpaceOnUse" x1="258.2" x2="467.1" y1="0" y2="0"><stop offset="0" stop-color="#0c0000"/><stop offset="0.27" stop-color="#250000"/><stop offset="0.34" stop-color="#410000"/><stop offset="0.37" stop-color="#6b0000"/><stop offset="0.4" stop-color="#ad0000"/><stop offset="0.42" stop-color="#e80400"/><stop offset="0.43" stop-color="#fa1a00"/><stop offset="0.44" stop-color="#ff3d00"/><stop offset="0.58" stop-color="#ff4400"/><stop offset="0.63" stop-color="#ff3d00"/><stop offset="0.64" stop-color="#f81400"/><stop offset="0.65" stop-color="#e10400"/><stop offset="0.69" stop-color="#790000"/><stop offset="0.72" stop-color="#500000"/><stop offset="0.78" stop-color="#2d0000"/><stop offset="0.94" stop-color="#140000"/><stop offset="1" stop-color="#100000"/></linearGradient><linearGradient id="r185" gradientUnits="userSpaceOnUse" x1="258.2" x2="467.1" y1="0" y2="0"><stop offset="0" stop-color="#0c0000"/><stop offset="0.27" stop-color="#260000"/><stop offset="0.34" stop-color="#430000"/><stop offset="0.37" stop-color="#6f0000"/><stop offset="0.4" stop-color="#b30000"/><stop offset="0.42" stop-color="#ef0500"/><stop offset="0.43" stop-color="#fe2000"/><stop offset="0.44" stop-color="#ff3b00"/><stop offset="0.63" stop-color="#ff3b00"/><stop offset="0.64" stop-color="#fb1a00"/><stop offset="0.65" stop-color="#e80400"/><stop offset="0.68" stop-color="#930000"/><stop offset="0.71" stop-color="#5d0000"/><stop offset="0.76" stop-color="#360000"/><stop offset="0.85" stop-color="#1d0000"/><stop offset="1" stop-color="#100000"/></linearGradient><linearGradient id="r186" gradientUnits="userSpaceOnUse" x1="258.2" x2="467.1" y1="0" y2="0"><stop offset="0" stop-color="#0c0000"/><stop offset="0.27" stop-color="#260000"/><stop offset="0.34" stop-color="#440000"/><stop offset="0.36" stop-color="#610000"/><stop offset="0.39" stop-color="#9c0000"/><stop offset="0.42" stop-color="#f20800"/><stop offset="0.43" stop-color="#ff2700"/><stop offset="0.44" stop-color="#ff3500"/><stop offset="0.63" stop-color="#ff3500"/><stop offset="0.64" stop-color="#fd1f00"/><stop offset="0.65" stop-color="#ed0500"/><stop offset="0.68" stop-color="#970000"/><stop offset="0.71" stop-color="#5f0000"/><stop offset="0.76" stop-color="#360000"/><stop offset="0.85" stop-color="#1d0000"/><stop offset="1" stop-color="#100000"/></linearGradient><linearGradient id="r187" gradientUnits="userSpaceOnUse" x1="258.2" x2="467.1" y1="0" y2="0"><stop offset="0" stop-color="#0c0000"/><stop offset="0.27" stop-color="#260000"/><stop offset="0.34" stop-color="#450000"/><stop offset="0.36" stop-color="#630000"/><stop offset="0.39" stop-color="#9f0000"/><stop offset="0.42" stop-color="#f30c00"/><stop offset="0.43" stop-color="#ff2e00"/><stop offset="0.63" stop-color="#ff2e00"/><stop offset="0.64" stop-color="#ff2300"/><stop offset="0.65" stop-color="#f10700"/><stop offset="0.69" stop-color="#830000"/><stop offset="0.72" stop-color="#550000"/><stop offset="0.78" stop-color="#2e0000"/><stop offset="0.92" stop-color="#160000"/><stop offset="1" stop-color="#100000"/></linearGradient><linearGradient id="r188" gradientUnits="userSpaceOnUse" x1="258.2" x2="467.1" y1="0" y2="0"><stop offset="0" stop-color="#0c0000"/><stop offset="0.27" stop-color="#260000"/><stop offset="0.34" stop-color="#460000"/><stop offset="0.36" stop-color="#650000"/><stop offset="0.39" stop-color="#a30000"/><stop offset="0.41" stop-color="#db0300"/><stop offset="0.42" stop-color="#f51000"/><stop offset="0.43" stop-color="#ff2700"/><stop offset="0.64" stop-color="#ff2700"/><stop offset="0.65" stop-color="#f30a00"/><stop offset="0.69" stop-color="#860000"/><stop offset="0.72" stop-color="#560000"/><stop offset="0.77" stop-color="#330000"/><stop offset="0.89" stop-color="#190000"/><stop offset="1" stop-color="#100000"/></linearGradient><linearGradient id="r189" gradientUnits="userSpaceOnUse" x1="258.2" x2="467.1" y1="0" y2="0"><stop offset="0" stop-color="#0c0000"/><stop offset="0.26" stop-color="#240000"/><stop offset="0.33" stop-color="#400000"/><stop offset="0.36" stop-color="#680000"/><stop offset="0.39" stop-color="#a70000"/><stop offset="0.41" stop-color="#e00400"/><stop offset="0.42" stop-color="#f71400"/><stop offset="0.43" stop-color="#ff2200"/><stop offset="0.64" stop-color="#ff2200"/><stop offset="0.65" stop-color="#f50e00"/><stop offset="0.67" stop-color="#bc0100"/><stop offset="0.7" stop-color="#750000"/><stop offset="0.74" stop-color="#450000"/><stop offset="0.8" stop-color="#260000"/><stop offset="1" stop-color="#100000"/></linearGradient><linearGradient id="r190" gradientUnits="userSpaceOnUse" x1="258.2" x2="467.1" y1="0" y2="0"><stop offset="0" stop-color="#0c0000"/><stop offset="0.26" stop-color="#250000"/><stop offset="0.33" stop-color="#410000"/><stop offset="0.36" stop-color="#6a0000"/><stop offset="0.39" stop-color="#ac0000"/><stop offset="0.41" stop-color="#e70400"/><stop offset="0.42" stop-color="#fa1900"/><stop offset="0.44" stop-color="#fe2100"/><stop offset="0.64" stop-color="#fe2100"/><stop offset="0.65" stop-color="#f71300"/><stop offset="0.66" stop-color="#e00400"/><stop offset="0.7" stop-color="#780000"/><stop offset="0.73" stop-color="#4f0000"/><stop offset="0.79" stop-color="#2c0000"/><stop offset="0.94" stop-color="#140000"/><stop offset="1" stop-color="#100000"/></linearGradient><linearGradient id="r191" gradientUnits="userSpaceOnUse" x1="258.2" x2="467.1" y1="0" y2="0"><stop offset="0" stop-color="#0c0000"/><stop offset="0.26" stop-color="#250000"/><stop offset="0.33" stop-color="#420000"/><stop offset="0.36" stop-color="#6d0000"/><stop offset="0.39" stop-color="#b10000"/><stop offset="0.41" stop-color="#ed0500"/><stop offset="0.42" stop-color="#fd1f00"/><stop offset="0.64" stop-color="#fd1f00"/><stop offset="0.65" stop-color="#fa1900"/><stop offset="0.66" stop-color="#e60400"/><stop offset="0.69" stop-color="#910000"/><stop offset="0.72" stop-color="#5c0000"/><stop offset="0.77" stop-color="#350000"/><stop offset="0.86" stop-color="#1c0000"/><stop offset="1" stop-color="#100000"/></linearGradient><linearGradient id="r192" gradientUnits="userSpaceOnUse" x1="258.2" x2="467.1" y1="0" y2="0"><stop offset="0" stop-color="#0c0000"/><stop offset="0.26" stop-color="#250000"/><stop offset="0.33" stop-color="#430000"/><stop offset="0.36" stop-color="#700000"/><stop offset="0.39" stop-color="#b60100"/><stop offset="0.41" stop-color="#f10700"/><stop offset="0.42" stop-color="#fc1d00"/><stop offset="0.65" stop-color="#fc1d00"/><stop offset="0.66" stop-color="#ec0500"/><stop offset="0.69" stop-color="#960000"/><stop offset="0.72" stop-color="#5e0000"/><stop offset="0.77" stop-color="#360000"/><stop offset="0.86" stop-color="#1c0000"/><stop offset="1" stop-color="#100000"/></linearGradient><linearGradient id="r193" gradientUnits="userSpaceOnUse" x1="258.2" x2="467.1" y1="0" y2="0"><stop offset="0" stop-color="#0c0000"/><stop offset="0.25" stop-color="#230000"/><stop offset="0.33" stop-color="#440000"/><stop offset="0.36" stop-color="#730000"/><stop offset="0.39" stop-color="#ba0100"/><stop offset="0.41" stop-color="#f40c00"/><stop offset="0.42" stop-color="#fb1b00"/><stop offset="0.65" stop-color="#fb1b00"/><stop offset="0.66" stop-color="#f10700"/><stop offset="0.7" stop-color="#830000"/><stop offset="0.73" stop-color="#540000"/><stop offset="0.79" stop-color="#2e0000"/><stop offset="0.93" stop-color="#150000"/><stop offset="1" stop-color="#100000"/></linearGradient><linearGradient id="r194" gradientUnits="userSpaceOnUse" x1="258.2" x2="467.1" y1="0" y2="0"><stop offset="0" stop-color="#0c0000"/><stop offset="0.25" stop-color="#240000"/><stop offset="0.32" stop-color="#3e0000"/><stop offset="0.35" stop-color="#660000"/><stop offset="0.38" stop-color="#a40000"/><stop offset="0.4" stop-color="#dd0400"/><stop offset="0.41" stop-color="#f61100"/><stop offset="0.44" stop-color="#fa1a00"/><stop offset="0.65" stop-color="#fa1900"/><stop offset="0.66" stop-color="#f30c00"/><stop offset="0.69" stop-color="#9f0000"/><stop offset="0.72" stop-color="#630000"/><stop offset="0.76" stop-color="#3d0000"/><stop offset="0.84" stop-color="#1f0000"/><stop offset="1" stop-color="#100000"/></linearGradient><linearGradient id="r195" gradientUnits="userSpaceOnUse" x1="258.2" x2="467.1" y1="0" y2="0"><stop offset="0" stop-color="#0c0000"/><stop offset="0.25" stop-color="#240000"/><stop offset="0.32" stop-color="#3f0000"/><stop offset="0.35" stop-color="#680000"/><stop offset="0.38" stop-color="#a90000"/><stop offset="0.4" stop-color="#e30400"/><stop offset="0.41" stop-color="#f91600"/><stop offset="0.65" stop-color="#f91700"/><stop offset="0.66" stop-color="#f61000"/><stop offset="0.67" stop-color="#dc0300"/><stop offset="0.7" stop-color="#8b0000"/><stop offset="0.73" stop-color="#580000"/><stop offset="0.78" stop-color="#330000"/><stop offset="0.88" stop-color="#1a0000"/><stop offset="1" stop-color="#100000"/></linearGradient><linearGradient id="r196" gradientUnits="userSpaceOnUse" x1="258.2" x2="467.1" y1="0" y2="0"><stop offset="0" stop-color="#0c0000"/><stop offset="0.25" stop-color="#240000"/><stop offset="0.32" stop-color="#410000"/><stop offset="0.35" stop-color="#6b0000"/><stop offset="0.38" stop-color="#ae0000"/><stop offset="0.4" stop-color="#e90400"/><stop offset="0.41" stop-color="#f81500"/><stop offset="0.66" stop-color="#f81500"/><stop offset="0.67" stop-color="#e20400"/><stop offset="0.7" stop-color="#8e0000"/><stop offset="0.73" stop-color="#5a0000"/><stop offset="0.78" stop-color="#340000"/><stop offset="0.89" stop-color="#190000"/><stop offset="1" stop-color="#100000"/></linearGradient><linearGradient id="r197" gradientUnits="userSpaceOnUse" x1="258.2" x2="467.1" y1="0" y2="0"><stop offset="0" stop-color="#0c0000"/><stop offset="0.25" stop-color="#240000"/><stop offset="0.32" stop-color="#420000"/><stop offset="0.35" stop-color="#6e0000"/><stop offset="0.38" stop-color="#b20000"/><stop offset="0.4" stop-color="#ef0500"/><stop offset="0.41" stop-color="#f71400"/><stop offset="0.66" stop-color="#f71400"/><stop offset="0.67" stop-color="#e80400"/><stop offset="0.7" stop-color="#930000"/><stop offset="0.73" stop-color="#5c0000"/><stop offset="0.78" stop-color="#350000"/><stop offset="0.87" stop-color="#1c0000"/><stop offset="1" stop-color="#100000"/></linearGradient><linearGradient id="r198" gradientUnits="userSpaceOnUse" x1="477" x2="685" y1="0" y2="0"><stop offset="0" stop-color="#020000"/><stop offset="1" stop-color="#030000"/></linearGradient><linearGradient id="r199" gradientUnits="userSpaceOnUse" x1="477" x2="685" y1="0" y2="0"><stop offset="0" stop-color="#020000"/><stop offset="1" stop-color="#030000"/></linearGradient><linearGradient id="r200" gradientUnits="userSpaceOnUse" x1="477" x2="685" y1="0" y2="0"><stop offset="0" stop-color="#020000"/><stop offset="1" stop-color="#030000"/></linearGradient><linearGradient id="r201" gradientUnits="userSpaceOnUse" x1="477" x2="685" y1="0" y2="0"><stop offset="0" stop-color="#020000"/><stop offset="0.94" stop-color="#040000"/><stop offset="1" stop-color="#030000"/></linearGradient><linearGradient id="r202" gradientUnits="userSpaceOnUse" x1="477" x2="685" y1="0" y2="0"><stop offset="0" stop-color="#020000"/><stop offset="0.94" stop-color="#040000"/><stop offset="1" stop-color="#030000"/></linearGradient><linearGradient id="r203" gradientUnits="userSpaceOnUse" x1="477" x2="685" y1="0" y2="0"><stop offset="0" stop-color="#020000"/><stop offset="0.92" stop-color="#040000"/><stop offset="1" stop-color="#030000"/></linearGradient><linearGradient id="r204" gradientUnits="userSpaceOnUse" x1="477" x2="685" y1="0" y2="0"><stop offset="0" stop-color="#020000"/><stop offset="0.88" stop-color="#050000"/><stop offset="1" stop-color="#030000"/></linearGradient><linearGradient id="r205" gradientUnits="userSpaceOnUse" x1="477" x2="685" y1="0" y2="0"><stop offset="0" stop-color="#020000"/><stop offset="0.88" stop-color="#050000"/><stop offset="1" stop-color="#030000"/></linearGradient><linearGradient id="r206" gradientUnits="userSpaceOnUse" x1="477" x2="685" y1="0" y2="0"><stop offset="0" stop-color="#020000"/><stop offset="0.88" stop-color="#050000"/><stop offset="1" stop-color="#030000"/></linearGradient><linearGradient id="r207" gradientUnits="userSpaceOnUse" x1="477" x2="685" y1="0" y2="0"><stop offset="0" stop-color="#020000"/><stop offset="0.81" stop-color="#060000"/><stop offset="1" stop-color="#030000"/></linearGradient><linearGradient id="r208" gradientUnits="userSpaceOnUse" x1="477" x2="685" y1="0" y2="0"><stop offset="0" stop-color="#020000"/><stop offset="0.7" stop-color="#080000"/><stop offset="1" stop-color="#030000"/></linearGradient><linearGradient id="r209" gradientUnits="userSpaceOnUse" x1="477" x2="685" y1="0" y2="0"><stop offset="0" stop-color="#020000"/><stop offset="0.68" stop-color="#090000"/><stop offset="1" stop-color="#030000"/></linearGradient><linearGradient id="r210" gradientUnits="userSpaceOnUse" x1="477" x2="685" y1="0" y2="0"><stop offset="0" stop-color="#020000"/><stop offset="0.65" stop-color="#0c0000"/><stop offset="1" stop-color="#030000"/></linearGradient><linearGradient id="r211" gradientUnits="userSpaceOnUse" x1="477" x2="685" y1="0" y2="0"><stop offset="0" stop-color="#020000"/><stop offset="0.58" stop-color="#0d0000"/><stop offset="1" stop-color="#030000"/></linearGradient><linearGradient id="r212" gradientUnits="userSpaceOnUse" x1="477" x2="685" y1="0" y2="0"><stop offset="0" stop-color="#020000"/><stop offset="0.4" stop-color="#0f0000"/><stop offset="0.66" stop-color="#0f0000"/><stop offset="1" stop-color="#030000"/></linearGradient><linearGradient id="r213" gradientUnits="userSpaceOnUse" x1="477" x2="685" y1="0" y2="0"><stop offset="0" stop-color="#030000"/><stop offset="0.38" stop-color="#0e0000"/><stop offset="0.45" stop-color="#150000"/><stop offset="0.65" stop-color="#140000"/><stop offset="0.84" stop-color="#060000"/><stop offset="1" stop-color="#030000"/></linearGradient><linearGradient id="r214" gradientUnits="userSpaceOnUse" x1="477" x2="685" y1="0" y2="0"><stop offset="0" stop-color="#030000"/><stop offset="0.38" stop-color="#0f0000"/><stop offset="0.44" stop-color="#1e0000"/><stop offset="0.56" stop-color="#180000"/><stop offset="0.64" stop-color="#1b0000"/><stop offset="0.76" stop-color="#090000"/><stop offset="1" stop-color="#040000"/></linearGradient><linearGradient id="r215" gradientUnits="userSpaceOnUse" x1="477" x2="685" y1="0" y2="0"><stop offset="0" stop-color="#030000"/><stop offset="0.37" stop-color="#0f0000"/><stop offset="0.44" stop-color="#250000"/><stop offset="0.51" stop-color="#1e0000"/><stop offset="0.61" stop-color="#1e0000"/><stop offset="0.63" stop-color="#250000"/><stop offset="0.71" stop-color="#0e0000"/><stop offset="1" stop-color="#040000"/></linearGradient><linearGradient id="r216" gradientUnits="userSpaceOnUse" x1="477" x2="685" y1="0" y2="0"><stop offset="0" stop-color="#030000"/><stop offset="0.37" stop-color="#110000"/><stop offset="0.44" stop-color="#2e0000"/><stop offset="0.48" stop-color="#240000"/><stop offset="0.61" stop-color="#240000"/><stop offset="0.62" stop-color="#2e0000"/><stop offset="0.71" stop-color="#100000"/><stop offset="1" stop-color="#040000"/></linearGradient><linearGradient id="r217" gradientUnits="userSpaceOnUse" x1="477" x2="685" y1="0" y2="0"><stop offset="0" stop-color="#030000"/><stop offset="0.35" stop-color="#100000"/><stop offset="0.41" stop-color="#260000"/><stop offset="0.44" stop-color="#370000"/><stop offset="0.48" stop-color="#2b0000"/><stop offset="0.61" stop-color="#2e0000"/><stop offset="0.62" stop-color="#370000"/><stop offset="0.7" stop-color="#130000"/><stop offset="0.97" stop-color="#050000"/><stop offset="1" stop-color="#040000"/></linearGradient><linearGradient id="r218" gradientUnits="userSpaceOnUse" x1="477" x2="685" y1="0" y2="0"><stop offset="0" stop-color="#030000"/><stop offset="0.35" stop-color="#110000"/><stop offset="0.41" stop-color="#2a0000"/><stop offset="0.44" stop-color="#400000"/><stop offset="0.48" stop-color="#320000"/><stop offset="0.6" stop-color="#320000"/><stop offset="0.62" stop-color="#400000"/><stop offset="0.68" stop-color="#1b0000"/><stop offset="0.8" stop-color="#0a0000"/><stop offset="1" stop-color="#050000"/></linearGradient><linearGradient id="r219" gradientUnits="userSpaceOnUse" x1="477" x2="685" y1="0" y2="0"><stop offset="0" stop-color="#040000"/><stop offset="0.34" stop-color="#110000"/><stop offset="0.4" stop-color="#270000"/><stop offset="0.44" stop-color="#480000"/><stop offset="0.48" stop-color="#390000"/><stop offset="0.6" stop-color="#390000"/><stop offset="0.62" stop-color="#480000"/><stop offset="0.67" stop-color="#210000"/><stop offset="0.77" stop-color="#0c0000"/><stop offset="1" stop-color="#050000"/></linearGradient><linearGradient id="r220" gradientUnits="userSpaceOnUse" x1="477" x2="685" y1="0" y2="0"><stop offset="0" stop-color="#040000"/><stop offset="0.34" stop-color="#120000"/><stop offset="0.4" stop-color="#2a0000"/><stop offset="0.44" stop-color="#500000"/><stop offset="0.46" stop-color="#4c0000"/><stop offset="0.47" stop-color="#400000"/><stop offset="0.6" stop-color="#400000"/><stop offset="0.61" stop-color="#4e0000"/><stop offset="0.62" stop-color="#500000"/><stop offset="0.67" stop-color="#230000"/><stop offset="0.76" stop-color="#0e0000"/><stop offset="1" stop-color="#050000"/></linearGradient><linearGradient id="r221" gradientUnits="userSpaceOnUse" x1="477" x2="685" y1="0" y2="0"><stop offset="0" stop-color="#040000"/><stop offset="0.34" stop-color="#130000"/><stop offset="0.4" stop-color="#2c0000"/><stop offset="0.44" stop-color="#560000"/><stop offset="0.46" stop-color="#570000"/><stop offset="0.47" stop-color="#460000"/><stop offset="0.6" stop-color="#470000"/><stop offset="0.61" stop-color="#570000"/><stop offset="0.62" stop-color="#540000"/><stop offset="0.66" stop-color="#2b0000"/><stop offset="0.74" stop-color="#110000"/><stop offset="1" stop-color="#050000"/></linearGradient><linearGradient id="r222" gradientUnits="userSpaceOnUse" x1="477" x2="685" y1="0" y2="0"><stop offset="0" stop-color="#040000"/><stop offset="0.34" stop-color="#140000"/><stop offset="0.4" stop-color="#2f0000"/><stop offset="0.45" stop-color="#620000"/><stop offset="0.46" stop-color="#610000"/><stop offset="0.47" stop-color="#520000"/><stop offset="0.59" stop-color="#4e0000"/><stop offset="0.61" stop-color="#620000"/><stop offset="0.62" stop-color="#590000"/><stop offset="0.66" stop-color="#2e0000"/><stop offset="0.73" stop-color="#140000"/><stop offset="1" stop-color="#060000"/></linearGradient><linearGradient id="r223" gradientUnits="userSpaceOnUse" x1="477" x2="685" y1="0" y2="0"><stop offset="0" stop-color="#040000"/><stop offset="0.34" stop-color="#150000"/><stop offset="0.4" stop-color="#320000"/><stop offset="0.43" stop-color="#520000"/><stop offset="0.45" stop-color="#6f0000"/><stop offset="0.46" stop-color="#6f0000"/><stop offset="0.48" stop-color="#580000"/><stop offset="0.59" stop-color="#580000"/><stop offset="0.61" stop-color="#6f0000"/><stop offset="0.62" stop-color="#6f0000"/><stop offset="0.65" stop-color="#3a0000"/><stop offset="0.71" stop-color="#1a0000"/><stop offset="0.87" stop-color="#0a0000"/><stop offset="1" stop-color="#060000"/></linearGradient><linearGradient id="r224" gradientUnits="userSpaceOnUse" x1="477" x2="685" y1="0" y2="0"><stop offset="0" stop-color="#050000"/><stop offset="0.33" stop-color="#150000"/><stop offset="0.39" stop-color="#300000"/><stop offset="0.43" stop-color="#5b0000"/><stop offset="0.45" stop-color="#830000"/><stop offset="0.47" stop-color="#7a0000"/><stop offset="0.48" stop-color="#680000"/><stop offset="0.59" stop-color="#680000"/><stop offset="0.6" stop-color="#7c0000"/><stop offset="0.62" stop-color="#830000"/><stop offset="0.64" stop-color="#4c0000"/><stop offset="0.69" stop-color="#240000"/><stop offset="0.8" stop-color="#0e0000"/><stop offset="1" stop-color="#060000"/></linearGradient><linearGradient id="r225" gradientUnits="userSpaceOnUse" x1="477" x2="685" y1="0" y2="0"><stop offset="0" stop-color="#050000"/><stop offset="0.32" stop-color="#160000"/><stop offset="0.38" stop-color="#2f0000"/><stop offset="0.42" stop-color="#570000"/><stop offset="0.45" stop-color="#9c0000"/><stop offset="0.47" stop-color="#990000"/><stop offset="0.48" stop-color="#7e0000"/><stop offset="0.59" stop-color="#7e0000"/><stop offset="0.6" stop-color="#9b0000"/><stop offset="0.62" stop-color="#990000"/><stop offset="0.63" stop-color="#670000"/><stop offset="0.67" stop-color="#350000"/><stop offset="0.73" stop-color="#1a0000"/><stop offset="0.93" stop-color="#090000"/><stop offset="1" stop-color="#070000"/></linearGradient><linearGradient id="r226" gradientUnits="userSpaceOnUse" x1="477" x2="685" y1="0" y2="0"><stop offset="0" stop-color="#060000"/><stop offset="0.31" stop-color="#170000"/><stop offset="0.38" stop-color="#2f0000"/><stop offset="0.41" stop-color="#550000"/><stop offset="0.43" stop-color="#7b0000"/><stop offset="0.45" stop-color="#b40000"/><stop offset="0.47" stop-color="#bc0100"/><stop offset="0.48" stop-color="#9b0000"/><stop offset="0.59" stop-color="#9f0000"/><stop offset="0.6" stop-color="#bd0100"/><stop offset="0.61" stop-color="#bd0100"/><stop offset="0.62" stop-color="#b20000"/><stop offset="0.63" stop-color="#780000"/><stop offset="0.66" stop-color="#470000"/><stop offset="0.71" stop-color="#240000"/><stop offset="0.83" stop-color="#0f0000"/><stop offset="1" stop-color="#080000"/></linearGradient><linearGradient id="r227" gradientUnits="userSpaceOnUse" x1="477" x2="685" y1="0" y2="0"><stop offset="0" stop-color="#070000"/><stop offset="0.31" stop-color="#190000"/><stop offset="0.38" stop-color="#340000"/><stop offset="0.41" stop-color="#5f0000"/><stop offset="0.43" stop-color="#8b0000"/><stop offset="0.45" stop-color="#c80200"/><stop offset="0.46" stop-color="#da0300"/><stop offset="0.47" stop-color="#da0300"/><stop offset="0.48" stop-color="#c10100"/><stop offset="0.5" stop-color="#b80100"/><stop offset="0.58" stop-color="#b80100"/><stop offset="0.6" stop-color="#da0300"/><stop offset="0.61" stop-color="#da0300"/><stop offset="0.62" stop-color="#a60000"/><stop offset="0.64" stop-color="#710000"/><stop offset="0.67" stop-color="#440000"/><stop offset="0.73" stop-color="#200000"/><stop offset="0.93" stop-color="#0b0000"/><stop offset="1" stop-color="#090000"/></linearGradient><linearGradient id="r228" gradientUnits="userSpaceOnUse" x1="477" x2="685" y1="0" y2="0"><stop offset="0" stop-color="#070000"/><stop offset="0.31" stop-color="#1b0000"/><stop offset="0.38" stop-color="#380000"/><stop offset="0.41" stop-color="#680000"/><stop offset="0.44" stop-color="#b60100"/><stop offset="0.46" stop-color="#f10700"/><stop offset="0.47" stop-color="#f10700"/><stop offset="0.49" stop-color="#cd0200"/><stop offset="0.58" stop-color="#cd0200"/><stop offset="0.59" stop-color="#e60400"/><stop offset="0.6" stop-color="#f10700"/><stop offset="0.61" stop-color="#f10700"/><stop offset="0.64" stop-color="#7b0000"/><stop offset="0.67" stop-color="#4a0000"/><stop offset="0.72" stop-color="#270000"/><stop offset="0.83" stop-color="#120000"/><stop offset="1" stop-color="#090000"/></linearGradient><linearGradient id="r229" gradientUnits="userSpaceOnUse" x1="477" x2="685" y1="0" y2="0"><stop offset="0" stop-color="#070000"/><stop offset="0.3" stop-color="#1b0000"/><stop offset="0.37" stop-color="#340000"/><stop offset="0.4" stop-color="#5b0000"/><stop offset="0.42" stop-color="#820000"/><stop offset="0.45" stop-color="#de0400"/><stop offset="0.46" stop-color="#f71400"/><stop offset="0.48" stop-color="#f40d00"/><stop offset="0.49" stop-color="#de0400"/><stop offset="0.58" stop-color="#de0400"/><stop offset="0.59" stop-color="#f51000"/><stop offset="0.61" stop-color="#f61200"/><stop offset="0.62" stop-color="#da0300"/><stop offset="0.64" stop-color="#800000"/><stop offset="0.67" stop-color="#4d0000"/><stop offset="0.72" stop-color="#290000"/><stop offset="0.83" stop-color="#130000"/><stop offset="1" stop-color="#0a0000"/></linearGradient><linearGradient id="r230" gradientUnits="userSpaceOnUse" x1="477" x2="685" y1="0" y2="0"><stop offset="0" stop-color="#080000"/><stop offset="0.31" stop-color="#1d0000"/><stop offset="0.38" stop-color="#3c0000"/><stop offset="0.4" stop-color="#5c0000"/><stop offset="0.42" stop-color="#840000"/><stop offset="0.45" stop-color="#e00400"/><stop offset="0.46" stop-color="#f91700"/><stop offset="0.48" stop-color="#fb1b00"/><stop offset="0.49" stop-color="#eb0500"/><stop offset="0.58" stop-color="#eb0500"/><stop offset="0.59" stop-color="#fc1c00"/><stop offset="0.6" stop-color="#fc1d00"/><stop offset="0.61" stop-color="#f71300"/><stop offset="0.62" stop-color="#dc0300"/><stop offset="0.64" stop-color="#820000"/><stop offset="0.67" stop-color="#4e0000"/><stop offset="0.72" stop-color="#290000"/><stop offset="0.84" stop-color="#130000"/><stop offset="1" stop-color="#0a0000"/></linearGradient><linearGradient id="r231" gradientUnits="userSpaceOnUse" x1="477" x2="685" y1="0" y2="0"><stop offset="0" stop-color="#080000"/><stop offset="0.3" stop-color="#1c0000"/><stop offset="0.37" stop-color="#340000"/><stop offset="0.4" stop-color="#5b0000"/><stop offset="0.43" stop-color="#9d0000"/><stop offset="0.45" stop-color="#dc0300"/><stop offset="0.46" stop-color="#f71300"/><stop offset="0.47" stop-color="#ff2600"/><stop offset="0.48" stop-color="#ff2d00"/><stop offset="0.49" stop-color="#f30c00"/><stop offset="0.58" stop-color="#f61100"/><stop offset="0.59" stop-color="#ff2d00"/><stop offset="0.6" stop-color="#ff2500"/><stop offset="0.61" stop-color="#f61000"/><stop offset="0.62" stop-color="#d80300"/><stop offset="0.64" stop-color="#7f0000"/><stop offset="0.67" stop-color="#4d0000"/><stop offset="0.72" stop-color="#290000"/><stop offset="0.85" stop-color="#130000"/><stop offset="1" stop-color="#0b0000"/></linearGradient><linearGradient id="r232" gradientUnits="userSpaceOnUse" x1="477" x2="685" y1="0" y2="0"><stop offset="0" stop-color="#080000"/><stop offset="0.31" stop-color="#1e0000"/><stop offset="0.38" stop-color="#3a0000"/><stop offset="0.41" stop-color="#690000"/><stop offset="0.44" stop-color="#b60100"/><stop offset="0.46" stop-color="#f50e00"/><stop offset="0.47" stop-color="#ff2d00"/><stop offset="0.48" stop-color="#ff4000"/><stop offset="0.49" stop-color="#fd1e00"/><stop offset="0.51" stop-color="#f81500"/><stop offset="0.57" stop-color="#f81500"/><stop offset="0.58" stop-color="#ff2300"/><stop offset="0.59" stop-color="#ff3f00"/><stop offset="0.6" stop-color="#ff2b00"/><stop offset="0.61" stop-color="#f30b00"/><stop offset="0.63" stop-color="#950000"/><stop offset="0.65" stop-color="#670000"/><stop offset="0.69" stop-color="#3a0000"/><stop offset="0.76" stop-color="#1e0000"/><stop offset="1" stop-color="#0b0000"/></linearGradient><linearGradient id="r233" gradientUnits="userSpaceOnUse" x1="477" x2="685" y1="0" y2="0"><stop offset="0" stop-color="#080000"/><stop offset="0.31" stop-color="#1e0000"/><stop offset="0.38" stop-color="#390000"/><stop offset="0.41" stop-color="#660000"/><stop offset="0.44" stop-color="#b10000"/><stop offset="0.46" stop-color="#f20800"/><stop offset="0.47" stop-color="#ff2f00"/><stop offset="0.48" stop-color="#ff4d00"/><stop offset="0.49" stop-color="#ff3c00"/><stop offset="0.5" stop-color="#fc1d00"/><stop offset="0.57" stop-color="#fc1d00"/><stop offset="0.58" stop-color="#ff4300"/><stop offset="0.59" stop-color="#ff4a00"/><stop offset="0.6" stop-color="#ff2d00"/><stop offset="0.61" stop-color="#f00500"/><stop offset="0.63" stop-color="#900000"/><stop offset="0.66" stop-color="#550000"/><stop offset="0.71" stop-color="#2d0000"/><stop offset="0.83" stop-color="#150000"/><stop offset="1" stop-color="#0b0000"/></linearGradient><linearGradient id="r234" gradientUnits="userSpaceOnUse" x1="477" x2="685" y1="0" y2="0"><stop offset="0" stop-color="#080000"/><stop offset="0.31" stop-color="#1e0000"/><stop offset="0.38" stop-color="#380000"/><stop offset="0.41" stop-color="#630000"/><stop offset="0.43" stop-color="#8d0000"/><stop offset="0.46" stop-color="#ec0500"/><stop offset="0.47" stop-color="#ff2500"/><stop offset="0.48" stop-color="#ff5300"/><stop offset="0.49" stop-color="#ff5a00"/><stop offset="0.5" stop-color="#ff2800"/><stop offset="0.57" stop-color="#ff2800"/><stop offset="0.58" stop-color="#ff5e00"/><stop offset="0.59" stop-color="#ff4e00"/><stop offset="0.6" stop-color="#fd2000"/><stop offset="0.61" stop-color="#e80400"/><stop offset="0.63" stop-color="#8b0000"/><stop offset="0.66" stop-color="#530000"/><stop offset="0.71" stop-color="#2c0000"/><stop offset="0.82" stop-color="#160000"/><stop offset="1" stop-color="#0b0000"/></linearGradient><linearGradient id="r235" gradientUnits="userSpaceOnUse" x1="477" x2="685" y1="0" y2="0"><stop offset="0" stop-color="#080000"/><stop offset="0.31" stop-color="#1e0000"/><stop offset="0.38" stop-color="#370000"/><stop offset="0.41" stop-color="#5f0000"/><stop offset="0.44" stop-color="#a40000"/><stop offset="0.46" stop-color="#e40400"/><stop offset="0.47" stop-color="#fb1c00"/><stop offset="0.48" stop-color="#ff5100"/><stop offset="0.49" stop-color="#ff7200"/><stop offset="0.5" stop-color="#ff3800"/><stop offset="0.57" stop-color="#ff3800"/><stop offset="0.58" stop-color="#ff7300"/><stop offset="0.59" stop-color="#ff4c00"/><stop offset="0.6" stop-color="#fa1800"/><stop offset="0.61" stop-color="#e00400"/><stop offset="0.63" stop-color="#860000"/><stop offset="0.66" stop-color="#510000"/><stop offset="0.7" stop-color="#310000"/><stop offset="0.79" stop-color="#190000"/><stop offset="1" stop-color="#0b0000"/></linearGradient><linearGradient id="r236" gradientUnits="userSpaceOnUse" x1="477" x2="685" y1="0" y2="0"><stop offset="0" stop-color="#080000"/><stop offset="0.32" stop-color="#1f0000"/><stop offset="0.38" stop-color="#3d0000"/><stop offset="0.42" stop-color="#6d0000"/><stop offset="0.45" stop-color="#bb0100"/><stop offset="0.46" stop-color="#dc0300"/><stop offset="0.47" stop-color="#f71400"/><stop offset="0.49" stop-color="#ff8200"/><stop offset="0.5" stop-color="#ff4c00"/><stop offset="0.56" stop-color="#ff4900"/><stop offset="0.57" stop-color="#ff5700"/><stop offset="0.58" stop-color="#ff8000"/><stop offset="0.6" stop-color="#f61100"/><stop offset="0.61" stop-color="#d80300"/><stop offset="0.63" stop-color="#810000"/><stop offset="0.66" stop-color="#4f0000"/><stop offset="0.71" stop-color="#2b0000"/><stop offset="0.83" stop-color="#150000"/><stop offset="1" stop-color="#0b0000"/></linearGradient><linearGradient id="r237" gradientUnits="userSpaceOnUse" x1="477" x2="685" y1="0" y2="0"><stop offset="0" stop-color="#090000"/><stop offset="0.32" stop-color="#1f0000"/><stop offset="0.38" stop-color="#3c0000"/><stop offset="0.41" stop-color="#5a0000"/><stop offset="0.44" stop-color="#970000"/><stop offset="0.46" stop-color="#d40300"/><stop offset="0.47" stop-color="#f40d00"/><stop offset="0.48" stop-color="#ff4300"/><stop offset="0.49" stop-color="#ff8b00"/><stop offset="0.51" stop-color="#ff5b00"/><stop offset="0.56" stop-color="#ff5b00"/><stop offset="0.57" stop-color="#ff7b00"/><stop offset="0.58" stop-color="#ff8600"/><stop offset="0.59" stop-color="#ff3e00"/><stop offset="0.6" stop-color="#f20a00"/><stop offset="0.63" stop-color="#7c0000"/><stop offset="0.66" stop-color="#4c0000"/><stop offset="0.71" stop-color="#2b0000"/><stop offset="0.83" stop-color="#150000"/><stop offset="1" stop-color="#0b0000"/></linearGradient><linearGradient id="r238" gradientUnits="userSpaceOnUse" x1="477" x2="685" y1="0" y2="0"><stop offset="0" stop-color="#090000"/><stop offset="0.32" stop-color="#1f0000"/><stop offset="0.38" stop-color="#3a0000"/><stop offset="0.42" stop-color="#660000"/><stop offset="0.44" stop-color="#910000"/><stop offset="0.47" stop-color="#f10600"/><stop offset="0.48" stop-color="#ff3800"/><stop offset="0.49" stop-color="#ff8a00"/><stop offset="0.5" stop-color="#ff9500"/><stop offset="0.51" stop-color="#ff6d00"/><stop offset="0.56" stop-color="#ff6d00"/><stop offset="0.57" stop-color="#ff9b00"/><stop offset="0.58" stop-color="#ff8100"/><stop offset="0.59" stop-color="#ff2d00"/><stop offset="0.6" stop-color="#ed0500"/><stop offset="0.62" stop-color="#8f0000"/><stop offset="0.65" stop-color="#560000"/><stop offset="0.7" stop-color="#2e0000"/><stop offset="0.82" stop-color="#160000"/><stop offset="1" stop-color="#0b0000"/></linearGradient><linearGradient id="r239" gradientUnits="userSpaceOnUse" x1="477" x2="685" y1="0" y2="0"><stop offset="0" stop-color="#090000"/><stop offset="0.32" stop-color="#1f0000"/><stop offset="0.38" stop-color="#390000"/><stop offset="0.42" stop-color="#620000"/><stop offset="0.45" stop-color="#a80000"/><stop offset="0.47" stop-color="#e90400"/><stop offset="0.48" stop-color="#ff2200"/><stop offset="0.49" stop-color="#ff8000"/><stop offset="0.5" stop-color="#ffb100"/><stop offset="0.51" stop-color="#ff7f00"/><stop offset="0.56" stop-color="#ff7f00"/><stop offset="0.57" stop-color="#ffb400"/><stop offset="0.58" stop-color="#ff7500"/><stop offset="0.59" stop-color="#fc1e00"/><stop offset="0.6" stop-color="#e50400"/><stop offset="0.62" stop-color="#890000"/><stop offset="0.65" stop-color="#530000"/><stop offset="0.7" stop-color="#2e0000"/><stop offset="0.81" stop-color="#170000"/><stop offset="1" stop-color="#0c0000"/></linearGradient><linearGradient id="r240" gradientUnits="userSpaceOnUse" x1="477" x2="685" y1="0" y2="0"><stop offset="0" stop-color="#090000"/><stop offset="0.33" stop-color="#210000"/><stop offset="0.39" stop-color="#3f0000"/><stop offset="0.42" stop-color="#5f0000"/><stop offset="0.45" stop-color="#a20000"/><stop offset="0.47" stop-color="#e00400"/><stop offset="0.48" stop-color="#fa1900"/><stop offset="0.5" stop-color="#ffc301"/><stop offset="0.51" stop-color="#ff9200"/><stop offset="0.56" stop-color="#ff9200"/><stop offset="0.57" stop-color="#ffc201"/><stop offset="0.58" stop-color="#ff6500"/><stop offset="0.59" stop-color="#f81500"/><stop offset="0.6" stop-color="#dd0400"/><stop offset="0.62" stop-color="#840000"/><stop offset="0.65" stop-color="#510000"/><stop offset="0.7" stop-color="#2d0000"/><stop offset="0.82" stop-color="#170000"/><stop offset="1" stop-color="#0c0000"/></linearGradient><linearGradient id="r241" gradientUnits="userSpaceOnUse" x1="477" x2="685" y1="0" y2="0"><stop offset="0" stop-color="#090000"/><stop offset="0.33" stop-color="#210000"/><stop offset="0.39" stop-color="#3e0000"/><stop offset="0.42" stop-color="#5c0000"/><stop offset="0.45" stop-color="#9b0000"/><stop offset="0.47" stop-color="#d80300"/><stop offset="0.48" stop-color="#f61100"/><stop offset="0.49" stop-color="#ff5d00"/><stop offset="0.5" stop-color="#ffca02"/><stop offset="0.51" stop-color="#ffa900"/><stop offset="0.55" stop-color="#ffa500"/><stop offset="0.57" stop-color="#ffc501"/><stop offset="0.58" stop-color="#ff5400"/><stop offset="0.59" stop-color="#f40e00"/><stop offset="0.61" stop-color="#b60100"/><stop offset="0.63" stop-color="#6b0000"/><stop offset="0.67" stop-color="#3d0000"/><stop offset="0.75" stop-color="#1f0000"/><stop offset="1" stop-color="#0c0000"/></linearGradient><linearGradient id="r242" gradientUnits="userSpaceOnUse" x1="477" x2="685" y1="0" y2="0"><stop offset="0" stop-color="#090000"/><stop offset="0.33" stop-color="#210000"/><stop offset="0.39" stop-color="#3d0000"/><stop offset="0.43" stop-color="#690000"/><stop offset="0.46" stop-color="#b30000"/><stop offset="0.48" stop-color="#f20a00"/><stop offset="0.49" stop-color="#ff4d00"/><stop offset="0.5" stop-color="#ffc601"/><stop offset="0.51" stop-color="#ffca02"/><stop offset="0.52" stop-color="#ffb800"/><stop offset="0.55" stop-color="#ffb800"/><stop offset="0.56" stop-color="#ffcf03"/><stop offset="0.57" stop-color="#ffbd00"/><stop offset="0.58" stop-color="#ff4100"/><stop offset="0.59" stop-color="#f10700"/><stop offset="0.62" stop-color="#930000"/><stop offset="0.64" stop-color="#580000"/><stop offset="0.69" stop-color="#300000"/><stop offset="0.81" stop-color="#180000"/><stop offset="1" stop-color="#0c0000"/></linearGradient><linearGradient id="r243" gradientUnits="userSpaceOnUse" x1="477" x2="685" y1="0" y2="0"><stop offset="0" stop-color="#090000"/><stop offset="0.33" stop-color="#210000"/><stop offset="0.39" stop-color="#3c0000"/><stop offset="0.43" stop-color="#660000"/><stop offset="0.45" stop-color="#900000"/><stop offset="0.48" stop-color="#ee0500"/><stop offset="0.49" stop-color="#ff3300"/><stop offset="0.5" stop-color="#ffb700"/><stop offset="0.51" stop-color="#ffdf06"/><stop offset="0.52" stop-color="#ffc701"/><stop offset="0.55" stop-color="#ffc701"/><stop offset="0.56" stop-color="#ffe206"/><stop offset="0.57" stop-color="#ffa700"/><stop offset="0.58" stop-color="#ff2700"/><stop offset="0.59" stop-color="#ea0500"/><stop offset="0.62" stop-color="#8e0000"/><stop offset="0.64" stop-color="#560000"/><stop offset="0.69" stop-color="#300000"/><stop offset="0.81" stop-color="#180000"/><stop offset="1" stop-color="#0c0000"/></linearGradient><linearGradient id="r244" gradientUnits="userSpaceOnUse" x1="477" x2="685" y1="0" y2="0"><stop offset="0" stop-color="#090000"/><stop offset="0.34" stop-color="#230000"/><stop offset="0.4" stop-color="#420000"/><stop offset="0.43" stop-color="#630000"/><stop offset="0.46" stop-color="#a60000"/><stop offset="0.48" stop-color="#e50400"/><stop offset="0.49" stop-color="#fd1f00"/><stop offset="0.5" stop-color="#ff9a00"/><stop offset="0.51" stop-color="#ffed08"/><stop offset="0.52" stop-color="#ffd103"/><stop offset="0.55" stop-color="#ffd103"/><stop offset="0.56" stop-color="#ffed08"/><stop offset="0.57" stop-color="#ff8a00"/><stop offset="0.58" stop-color="#fb1b00"/><stop offset="0.59" stop-color="#e10400"/><stop offset="0.62" stop-color="#880000"/><stop offset="0.64" stop-color="#540000"/><stop offset="0.69" stop-color="#2f0000"/><stop offset="0.81" stop-color="#190000"/><stop offset="1" stop-color="#0c0000"/></linearGradient><linearGradient id="r245" gradientUnits="userSpaceOnUse" x1="477" x2="685" y1="0" y2="0"><stop offset="0" stop-color="#0a0000"/><stop offset="0.34" stop-color="#230000"/><stop offset="0.39" stop-color="#3a0000"/><stop offset="0.43" stop-color="#600000"/><stop offset="0.46" stop-color="#a00000"/><stop offset="0.48" stop-color="#dd0400"/><stop offset="0.49" stop-color="#f81600"/><stop offset="0.5" stop-color="#ff7900"/><stop offset="0.51" stop-color="#ffed08"/><stop offset="0.52" stop-color="#ffd604"/><stop offset="0.55" stop-color="#ffd604"/><stop offset="0.56" stop-color="#ffe807"/><stop offset="0.57" stop-color="#ff6b00"/><stop offset="0.58" stop-color="#f61200"/><stop offset="0.59" stop-color="#da0300"/><stop offset="0.62" stop-color="#840000"/><stop offset="0.64" stop-color="#520000"/><stop offset="0.69" stop-color="#2f0000"/><stop offset="0.81" stop-color="#190000"/><stop offset="1" stop-color="#0d0000"/></linearGradient><linearGradient id="r246" gradientUnits="userSpaceOnUse" x1="477" x2="685" y1="0" y2="0"><stop offset="0" stop-color="#0a0000"/><stop offset="0.34" stop-color="#230000"/><stop offset="0.4" stop-color="#3f0000"/><stop offset="0.44" stop-color="#6d0000"/><stop offset="0.47" stop-color="#b70100"/><stop offset="0.49" stop-color="#f40e00"/><stop offset="0.5" stop-color="#ff5e00"/><stop offset="0.51" stop-color="#ffe206"/><stop offset="0.54" stop-color="#ffdb05"/><stop offset="0.55" stop-color="#ffe206"/><stop offset="0.56" stop-color="#ffd904"/><stop offset="0.57" stop-color="#ff5400"/><stop offset="0.58" stop-color="#f30b00"/><stop offset="0.61" stop-color="#980000"/><stop offset="0.63" stop-color="#5c0000"/><stop offset="0.68" stop-color="#330000"/><stop offset="0.78" stop-color="#1c0000"/><stop offset="1" stop-color="#0d0000"/></linearGradient><linearGradient id="r247" gradientUnits="userSpaceOnUse" x1="477" x2="685" y1="0" y2="0"><stop offset="0" stop-color="#0a0000"/><stop offset="0.34" stop-color="#240000"/><stop offset="0.4" stop-color="#3e0000"/><stop offset="0.44" stop-color="#6a0000"/><stop offset="0.47" stop-color="#b10000"/><stop offset="0.49" stop-color="#f10700"/><stop offset="0.5" stop-color="#ff4300"/><stop offset="0.51" stop-color="#ffcd03"/><stop offset="0.52" stop-color="#ffeb08"/><stop offset="0.53" stop-color="#ffdf06"/><stop offset="0.54" stop-color="#ffdf06"/><stop offset="0.55" stop-color="#ffef08"/><stop offset="0.56" stop-color="#ffc201"/><stop offset="0.57" stop-color="#ff3500"/><stop offset="0.58" stop-color="#ef0500"/><stop offset="0.61" stop-color="#920000"/><stop offset="0.63" stop-color="#590000"/><stop offset="0.68" stop-color="#330000"/><stop offset="0.78" stop-color="#1c0000"/><stop offset="1" stop-color="#0d0000"/></linearGradient><linearGradient id="r248" gradientUnits="userSpaceOnUse" x1="477" x2="685" y1="0" y2="0"><stop offset="0" stop-color="#0a0000"/><stop offset="0.34" stop-color="#240000"/><stop offset="0.4" stop-color="#3e0000"/><stop offset="0.44" stop-color="#670000"/><stop offset="0.47" stop-color="#ab0000"/><stop offset="0.49" stop-color="#ea0500"/><stop offset="0.5" stop-color="#ff2700"/><stop offset="0.51" stop-color="#ffb000"/><stop offset="0.52" stop-color="#fff509"/><stop offset="0.53" stop-color="#ffe406"/><stop offset="0.54" stop-color="#ffe406"/><stop offset="0.55" stop-color="#fff609"/><stop offset="0.56" stop-color="#ff9f00"/><stop offset="0.57" stop-color="#fd2000"/><stop offset="0.58" stop-color="#e70400"/><stop offset="0.61" stop-color="#8d0000"/><stop offset="0.63" stop-color="#570000"/><stop offset="0.68" stop-color="#320000"/><stop offset="0.8" stop-color="#1b0000"/><stop offset="1" stop-color="#0d0000"/></linearGradient><linearGradient id="r249" gradientUnits="userSpaceOnUse" x1="477" x2="685" y1="0" y2="0"><stop offset="0" stop-color="#0a0000"/><stop offset="0.35" stop-color="#260000"/><stop offset="0.4" stop-color="#3d0000"/><stop offset="0.44" stop-color="#640000"/><stop offset="0.47" stop-color="#a50000"/><stop offset="0.49" stop-color="#e20400"/><stop offset="0.5" stop-color="#fb1b00"/><stop offset="0.52" stop-color="#fff80a"/><stop offset="0.53" stop-color="#ffe907"/><stop offset="0.54" stop-color="#ffe907"/><stop offset="0.55" stop-color="#fff509"/><stop offset="0.56" stop-color="#ff7d00"/><stop offset="0.57" stop-color="#f91700"/><stop offset="0.58" stop-color="#df0400"/><stop offset="0.61" stop-color="#890000"/><stop offset="0.63" stop-color="#550000"/><stop offset="0.68" stop-color="#320000"/><stop offset="0.81" stop-color="#1a0000"/><stop offset="1" stop-color="#0e0000"/></linearGradient><linearGradient id="r250" gradientUnits="userSpaceOnUse" x1="477" x2="685" y1="0" y2="0"><stop offset="0" stop-color="#0a0000"/><stop offset="0.35" stop-color="#260000"/><stop offset="0.41" stop-color="#430000"/><stop offset="0.44" stop-color="#610000"/><stop offset="0.47" stop-color="#a00000"/><stop offset="0.49" stop-color="#db0300"/><stop offset="0.5" stop-color="#f71200"/><stop offset="0.51" stop-color="#ff6d00"/><stop offset="0.52" stop-color="#fff008"/><stop offset="0.55" stop-color="#ffe907"/><stop offset="0.56" stop-color="#ff6100"/><stop offset="0.57" stop-color="#f50f00"/><stop offset="0.59" stop-color="#b90100"/><stop offset="0.62" stop-color="#700000"/><stop offset="0.65" stop-color="#420000"/><stop offset="0.73" stop-color="#240000"/><stop offset="1" stop-color="#0e0000"/></linearGradient><linearGradient id="r251" gradientUnits="userSpaceOnUse" x1="477" x2="685" y1="0" y2="0"><stop offset="0" stop-color="#0b0000"/><stop offset="0.35" stop-color="#270000"/><stop offset="0.41" stop-color="#420000"/><stop offset="0.44" stop-color="#5f0000"/><stop offset="0.47" stop-color="#9a0000"/><stop offset="0.5" stop-color="#f30b00"/><stop offset="0.51" stop-color="#ff5400"/><stop offset="0.52" stop-color="#ffde05"/><stop offset="0.53" stop-color="#fff309"/><stop offset="0.54" stop-color="#fff609"/><stop offset="0.55" stop-color="#ffd303"/><stop offset="0.56" stop-color="#ff4500"/><stop offset="0.57" stop-color="#f20800"/><stop offset="0.61" stop-color="#800000"/><stop offset="0.63" stop-color="#520000"/><stop offset="0.69" stop-color="#2e0000"/><stop offset="0.86" stop-color="#180000"/><stop offset="1" stop-color="#0e0000"/></linearGradient><linearGradient id="r252" gradientUnits="userSpaceOnUse" x1="477" x2="685" y1="0" y2="0"><stop offset="0" stop-color="#0b0000"/><stop offset="0.35" stop-color="#270000"/><stop offset="0.41" stop-color="#410000"/><stop offset="0.45" stop-color="#6c0000"/><stop offset="0.48" stop-color="#b10000"/><stop offset="0.5" stop-color="#f00500"/><stop offset="0.51" stop-color="#ff3500"/><stop offset="0.52" stop-color="#ffc501"/><stop offset="0.53" stop-color="#fffa0a"/><stop offset="0.54" stop-color="#fffa0a"/><stop offset="0.55" stop-color="#ffb700"/><stop offset="0.56" stop-color="#ff2a00"/><stop offset="0.57" stop-color="#ed0500"/><stop offset="0.6" stop-color="#930000"/><stop offset="0.62" stop-color="#5c0000"/><stop offset="0.67" stop-color="#360000"/><stop offset="0.79" stop-color="#1e0000"/><stop offset="1" stop-color="#0f0000"/></linearGradient><linearGradient id="r253" gradientUnits="userSpaceOnUse" x1="477" x2="685" y1="0" y2="0"><stop offset="0" stop-color="#0b0000"/><stop offset="0.35" stop-color="#280000"/><stop offset="0.41" stop-color="#410000"/><stop offset="0.45" stop-color="#690000"/><stop offset="0.48" stop-color="#ac0000"/><stop offset="0.5" stop-color="#e80400"/><stop offset="0.51" stop-color="#fe2000"/><stop offset="0.52" stop-color="#ffa200"/><stop offset="0.53" stop-color="#fffa0a"/><stop offset="0.54" stop-color="#fffa0a"/><stop offset="0.55" stop-color="#ff9100"/><stop offset="0.56" stop-color="#fc1c00"/><stop offset="0.57" stop-color="#e50400"/><stop offset="0.6" stop-color="#8e0000"/><stop offset="0.62" stop-color="#5a0000"/><stop offset="0.67" stop-color="#360000"/><stop offset="0.79" stop-color="#1e0000"/><stop offset="1" stop-color="#0f0000"/></linearGradient><linearGradient id="r254" gradientUnits="userSpaceOnUse" x1="477" x2="685" y1="0" y2="0"><stop offset="0" stop-color="#0c0000"/><stop offset="0.36" stop-color="#2a0000"/><stop offset="0.42" stop-color="#470000"/><stop offset="0.45" stop-color="#670000"/><stop offset="0.48" stop-color="#a60000"/><stop offset="0.5" stop-color="#e10400"/><stop offset="0.51" stop-color="#f91800"/><stop offset="0.52" stop-color="#ff7f00"/><stop offset="0.53" stop-color="#fffa0a"/><stop offset="0.54" stop-color="#fff90a"/><stop offset="0.55" stop-color="#ff7200"/><stop offset="0.56" stop-color="#f81400"/><stop offset="0.57" stop-color="#de0400"/><stop offset="0.6" stop-color="#8a0000"/><stop offset="0.62" stop-color="#580000"/><stop offset="0.67" stop-color="#360000"/><stop offset="0.8" stop-color="#1e0000"/><stop offset="1" stop-color="#0f0000"/></linearGradient><linearGradient id="r255" gradientUnits="userSpaceOnUse" x1="477" x2="685" y1="0" y2="0"><stop offset="0" stop-color="#0c0000"/><stop offset="0.33" stop-color="#290000"/><stop offset="0.39" stop-color="#430000"/><stop offset="0.43" stop-color="#6a0000"/><stop offset="0.46" stop-color="#a80000"/><stop offset="0.48" stop-color="#e00400"/><stop offset="0.49" stop-color="#f71300"/><stop offset="0.5" stop-color="#ff3f00"/><stop offset="0.51" stop-color="#ff4100"/><stop offset="0.52" stop-color="#ff6700"/><stop offset="0.53" stop-color="#ffe607"/><stop offset="0.54" stop-color="#ffdc05"/><stop offset="0.55" stop-color="#ff5e00"/><stop offset="0.56" stop-color="#ff4000"/><stop offset="0.57" stop-color="#ff3b00"/><stop offset="0.58" stop-color="#f61000"/><stop offset="0.6" stop-color="#bf0100"/><stop offset="0.62" stop-color="#790000"/><stop offset="0.65" stop-color="#510000"/><stop offset="0.72" stop-color="#2d0000"/><stop offset="1" stop-color="#100000"/></linearGradient><linearGradient id="r256" gradientUnits="userSpaceOnUse" x1="477" x2="685" y1="0" y2="0"><stop offset="0" stop-color="#0c0000"/><stop offset="0.33" stop-color="#290000"/><stop offset="0.39" stop-color="#440000"/><stop offset="0.43" stop-color="#6e0000"/><stop offset="0.46" stop-color="#ae0000"/><stop offset="0.48" stop-color="#e80400"/><stop offset="0.49" stop-color="#fa1a00"/><stop offset="0.5" stop-color="#ff3f00"/><stop offset="0.51" stop-color="#ff4300"/><stop offset="0.52" stop-color="#ff8100"/><stop offset="0.53" stop-color="#fff90a"/><stop offset="0.54" stop-color="#fff309"/><stop offset="0.55" stop-color="#ff7500"/><stop offset="0.56" stop-color="#ff4200"/><stop offset="0.57" stop-color="#ff3f00"/><stop offset="0.58" stop-color="#f91700"/><stop offset="0.59" stop-color="#e40400"/><stop offset="0.62" stop-color="#920000"/><stop offset="0.64" stop-color="#5e0000"/><stop offset="0.7" stop-color="#340000"/><stop offset="0.85" stop-color="#1b0000"/><stop offset="1" stop-color="#100000"/></linearGradient><linearGradient id="r257" gradientUnits="userSpaceOnUse" x1="477" x2="685" y1="0" y2="0"><stop offset="0" stop-color="#0c0000"/><stop offset="0.32" stop-color="#280000"/><stop offset="0.39" stop-color="#460000"/><stop offset="0.43" stop-color="#710000"/><stop offset="0.46" stop-color="#b40000"/><stop offset="0.48" stop-color="#f00500"/><stop offset="0.49" stop-color="#fe2000"/><stop offset="0.5" stop-color="#ff3f00"/><stop offset="0.51" stop-color="#ff4800"/><stop offset="0.53" stop-color="#fffa0a"/><stop offset="0.54" stop-color="#fffa0a"/><stop offset="0.55" stop-color="#ff9500"/><stop offset="0.56" stop-color="#ff4500"/><stop offset="0.57" stop-color="#ff3f00"/><stop offset="0.58" stop-color="#fc1d00"/><stop offset="0.59" stop-color="#ec0500"/><stop offset="0.62" stop-color="#970000"/><stop offset="0.64" stop-color="#610000"/><stop offset="0.69" stop-color="#3a0000"/><stop offset="0.79" stop-color="#210000"/><stop offset="1" stop-color="#100000"/></linearGradient><linearGradient id="r258" gradientUnits="userSpaceOnUse" x1="477" x2="685" y1="0" y2="0"><stop offset="0" stop-color="#0c0000"/><stop offset="0.32" stop-color="#280000"/><stop offset="0.38" stop-color="#410000"/><stop offset="0.42" stop-color="#650000"/><stop offset="0.45" stop-color="#9f0000"/><stop offset="0.48" stop-color="#f30a00"/><stop offset="0.49" stop-color="#ff2c00"/><stop offset="0.51" stop-color="#ff5100"/><stop offset="0.52" stop-color="#ffca02"/><stop offset="0.53" stop-color="#fffa0a"/><stop offset="0.54" stop-color="#fffa0a"/><stop offset="0.55" stop-color="#ffbe00"/><stop offset="0.56" stop-color="#ff4c00"/><stop offset="0.57" stop-color="#ff3f00"/><stop offset="0.58" stop-color="#ff2600"/><stop offset="0.59" stop-color="#f10800"/><stop offset="0.62" stop-color="#860000"/><stop offset="0.65" stop-color="#580000"/><stop offset="0.71" stop-color="#320000"/><stop offset="0.87" stop-color="#1a0000"/><stop offset="1" stop-color="#100000"/></linearGradient><linearGradient id="r259" gradientUnits="userSpaceOnUse" x1="477" x2="685" y1="0" y2="0"><stop offset="0" stop-color="#0c0000"/><stop offset="0.32" stop-color="#280000"/><stop offset="0.38" stop-color="#420000"/><stop offset="0.42" stop-color="#680000"/><stop offset="0.45" stop-color="#a50000"/><stop offset="0.47" stop-color="#dd0400"/><stop offset="0.48" stop-color="#f61000"/><stop offset="0.49" stop-color="#ff3c00"/><stop offset="0.5" stop-color="#ff4000"/><stop offset="0.51" stop-color="#ff6100"/><stop offset="0.52" stop-color="#ffe707"/><stop offset="0.53" stop-color="#fffa0a"/><stop offset="0.54" stop-color="#fffa0a"/><stop offset="0.55" stop-color="#ffdb05"/><stop offset="0.56" stop-color="#ff5900"/><stop offset="0.57" stop-color="#ff4000"/><stop offset="0.58" stop-color="#ff3500"/><stop offset="0.59" stop-color="#f40e00"/><stop offset="0.61" stop-color="#bd0100"/><stop offset="0.63" stop-color="#770000"/><stop offset="0.66" stop-color="#500000"/><stop offset="0.73" stop-color="#2d0000"/><stop offset="0.93" stop-color="#140000"/><stop offset="1" stop-color="#100000"/></linearGradient><linearGradient id="r260" gradientUnits="userSpaceOnUse" x1="477" x2="685" y1="0" y2="0"><stop offset="0" stop-color="#0c0000"/><stop offset="0.31" stop-color="#270000"/><stop offset="0.38" stop-color="#430000"/><stop offset="0.42" stop-color="#6c0000"/><stop offset="0.45" stop-color="#ac0000"/><stop offset="0.47" stop-color="#e40400"/><stop offset="0.48" stop-color="#f91700"/><stop offset="0.49" stop-color="#ff3f00"/><stop offset="0.5" stop-color="#ff4200"/><stop offset="0.51" stop-color="#ff7a00"/><stop offset="0.52" stop-color="#fffa0a"/><stop offset="0.55" stop-color="#fff609"/><stop offset="0.56" stop-color="#ff6e00"/><stop offset="0.57" stop-color="#ff4100"/><stop offset="0.58" stop-color="#ff3f00"/><stop offset="0.59" stop-color="#f71400"/><stop offset="0.6" stop-color="#e10400"/><stop offset="0.63" stop-color="#7b0000"/><stop offset="0.66" stop-color="#520000"/><stop offset="0.72" stop-color="#300000"/><stop offset="0.89" stop-color="#170000"/><stop offset="1" stop-color="#100000"/></linearGradient><linearGradient id="r261" gradientUnits="userSpaceOnUse" x1="477" x2="685" y1="0" y2="0"><stop offset="0" stop-color="#0c0000"/><stop offset="0.31" stop-color="#270000"/><stop offset="0.38" stop-color="#450000"/><stop offset="0.42" stop-color="#6f0000"/><stop offset="0.45" stop-color="#b10000"/><stop offset="0.47" stop-color="#ec0500"/><stop offset="0.48" stop-color="#fc1d00"/><stop offset="0.49" stop-color="#ff3f00"/><stop offset="0.5" stop-color="#ff4500"/><stop offset="0.51" stop-color="#ff9a00"/><stop offset="0.52" stop-color="#fffa0a"/><stop offset="0.55" stop-color="#fffa0a"/><stop offset="0.56" stop-color="#ff8a00"/><stop offset="0.57" stop-color="#ff4300"/><stop offset="0.58" stop-color="#ff3f00"/><stop offset="0.59" stop-color="#fb1a00"/><stop offset="0.6" stop-color="#e80400"/><stop offset="0.63" stop-color="#7f0000"/><stop offset="0.66" stop-color="#540000"/><stop offset="0.72" stop-color="#310000"/><stop offset="0.88" stop-color="#190000"/><stop offset="1" stop-color="#100000"/></linearGradient><linearGradient id="r262" gradientUnits="userSpaceOnUse" x1="477" x2="685" y1="0" y2="0"><stop offset="0" stop-color="#0c0000"/><stop offset="0.32" stop-color="#290000"/><stop offset="0.38" stop-color="#460000"/><stop offset="0.41" stop-color="#630000"/><stop offset="0.44" stop-color="#9d0000"/><stop offset="0.47" stop-color="#f10800"/><stop offset="0.48" stop-color="#ff2600"/><stop offset="0.49" stop-color="#ff3f00"/><stop offset="0.5" stop-color="#ff4c00"/><stop offset="0.51" stop-color="#ffbf00"/><stop offset="0.52" stop-color="#fffa0a"/><stop offset="0.55" stop-color="#fffa0a"/><stop offset="0.56" stop-color="#ffae00"/><stop offset="0.57" stop-color="#ff4900"/><stop offset="0.58" stop-color="#ff3f00"/><stop offset="0.59" stop-color="#fe2100"/><stop offset="0.6" stop-color="#f00500"/><stop offset="0.62" stop-color="#9a0000"/><stop offset="0.65" stop-color="#620000"/><stop offset="0.7" stop-color="#3a0000"/><stop offset="0.8" stop-color="#210000"/><stop offset="1" stop-color="#100000"/></linearGradient><linearGradient id="r263" gradientUnits="userSpaceOnUse" x1="477" x2="685" y1="0" y2="0"><stop offset="0" stop-color="#0c0000"/><stop offset="0.31" stop-color="#270000"/><stop offset="0.38" stop-color="#410000"/><stop offset="0.41" stop-color="#670000"/><stop offset="0.44" stop-color="#a30000"/><stop offset="0.46" stop-color="#d90300"/><stop offset="0.47" stop-color="#f40e00"/><stop offset="0.48" stop-color="#ff3500"/><stop offset="0.49" stop-color="#ff3f00"/><stop offset="0.5" stop-color="#ff5900"/><stop offset="0.51" stop-color="#ffd804"/><stop offset="0.52" stop-color="#fffa0a"/><stop offset="0.55" stop-color="#fffa0a"/><stop offset="0.56" stop-color="#ffcd02"/><stop offset="0.57" stop-color="#ff5200"/><stop offset="0.59" stop-color="#ff2e00"/><stop offset="0.6" stop-color="#f30b00"/><stop offset="0.62" stop-color="#a00000"/><stop offset="0.65" stop-color="#650000"/><stop offset="0.69" stop-color="#400000"/><stop offset="0.79" stop-color="#220000"/><stop offset="1" stop-color="#100000"/></linearGradient><linearGradient id="r264" gradientUnits="userSpaceOnUse" x1="477" x2="685" y1="0" y2="0"><stop offset="0" stop-color="#0c0000"/><stop offset="0.31" stop-color="#280000"/><stop offset="0.38" stop-color="#420000"/><stop offset="0.41" stop-color="#6a0000"/><stop offset="0.44" stop-color="#a90000"/><stop offset="0.46" stop-color="#e10400"/><stop offset="0.47" stop-color="#f71400"/><stop offset="0.48" stop-color="#ff3f00"/><stop offset="0.49" stop-color="#ff4100"/><stop offset="0.5" stop-color="#ff6b00"/><stop offset="0.51" stop-color="#ffee08"/><stop offset="0.52" stop-color="#fffa0a"/><stop offset="0.55" stop-color="#fffa0a"/><stop offset="0.56" stop-color="#ffe406"/><stop offset="0.57" stop-color="#ff6200"/><stop offset="0.58" stop-color="#ff4000"/><stop offset="0.59" stop-color="#ff3d00"/><stop offset="0.6" stop-color="#f61100"/><stop offset="0.62" stop-color="#c00100"/><stop offset="0.64" stop-color="#790000"/><stop offset="0.67" stop-color="#510000"/><stop offset="0.73" stop-color="#2f0000"/><stop offset="0.9" stop-color="#170000"/><stop offset="1" stop-color="#100000"/></linearGradient><linearGradient id="r265" gradientUnits="userSpaceOnUse" x1="477" x2="685" y1="0" y2="0"><stop offset="0" stop-color="#0c0000"/><stop offset="0.31" stop-color="#280000"/><stop offset="0.38" stop-color="#440000"/><stop offset="0.41" stop-color="#6d0000"/><stop offset="0.44" stop-color="#af0000"/><stop offset="0.46" stop-color="#e80400"/><stop offset="0.47" stop-color="#fb1a00"/><stop offset="0.48" stop-color="#ff3f00"/><stop offset="0.49" stop-color="#ff4300"/><stop offset="0.5" stop-color="#ff8600"/><stop offset="0.51" stop-color="#fffa0a"/><stop offset="0.56" stop-color="#fff509"/><stop offset="0.57" stop-color="#ff7900"/><stop offset="0.58" stop-color="#ff4200"/><stop offset="0.59" stop-color="#ff3f00"/><stop offset="0.6" stop-color="#f91800"/><stop offset="0.61" stop-color="#e50400"/><stop offset="0.64" stop-color="#7d0000"/><stop offset="0.67" stop-color="#530000"/><stop offset="0.73" stop-color="#300000"/><stop offset="0.89" stop-color="#170000"/><stop offset="1" stop-color="#100000"/></linearGradient><linearGradient id="r266" gradientUnits="userSpaceOnUse" x1="477" x2="685" y1="0" y2="0"><stop offset="0" stop-color="#0c0000"/><stop offset="0.31" stop-color="#280000"/><stop offset="0.38" stop-color="#450000"/><stop offset="0.41" stop-color="#710000"/><stop offset="0.44" stop-color="#b40000"/><stop offset="0.46" stop-color="#f00500"/><stop offset="0.47" stop-color="#fe2100"/><stop offset="0.48" stop-color="#ff3f00"/><stop offset="0.49" stop-color="#ff4800"/><stop offset="0.5" stop-color="#ffa700"/><stop offset="0.51" stop-color="#fffa0a"/><stop offset="0.56" stop-color="#fffa0a"/><stop offset="0.57" stop-color="#ff9700"/><stop offset="0.58" stop-color="#ff4500"/><stop offset="0.59" stop-color="#ff3f00"/><stop offset="0.6" stop-color="#fd1e00"/><stop offset="0.61" stop-color="#ed0500"/><stop offset="0.63" stop-color="#980000"/><stop offset="0.66" stop-color="#600000"/><stop offset="0.71" stop-color="#390000"/><stop offset="0.81" stop-color="#200000"/><stop offset="1" stop-color="#100000"/></linearGradient><linearGradient id="r267" gradientUnits="userSpaceOnUse" x1="477" x2="685" y1="0" y2="0"><stop offset="0" stop-color="#0c0000"/><stop offset="0.3" stop-color="#270000"/><stop offset="0.38" stop-color="#470000"/><stop offset="0.4" stop-color="#650000"/><stop offset="0.43" stop-color="#a00000"/><stop offset="0.46" stop-color="#f30b00"/><stop offset="0.47" stop-color="#ff2e00"/><stop offset="0.49" stop-color="#ff5000"/><stop offset="0.5" stop-color="#ffc301"/><stop offset="0.51" stop-color="#fff409"/><stop offset="0.56" stop-color="#fff409"/><stop offset="0.57" stop-color="#ffb500"/><stop offset="0.58" stop-color="#ff4c00"/><stop offset="0.59" stop-color="#ff3f00"/><stop offset="0.6" stop-color="#ff2700"/><stop offset="0.61" stop-color="#f20800"/><stop offset="0.64" stop-color="#860000"/><stop offset="0.67" stop-color="#570000"/><stop offset="0.73" stop-color="#310000"/><stop offset="0.89" stop-color="#170000"/><stop offset="1" stop-color="#100000"/></linearGradient><linearGradient id="r268" gradientUnits="userSpaceOnUse" x1="477" x2="685" y1="0" y2="0"><stop offset="0" stop-color="#0c0000"/><stop offset="0.3" stop-color="#270000"/><stop offset="0.37" stop-color="#410000"/><stop offset="0.4" stop-color="#680000"/><stop offset="0.43" stop-color="#a60000"/><stop offset="0.45" stop-color="#dd0400"/><stop offset="0.46" stop-color="#f61100"/><stop offset="0.47" stop-color="#ff3d00"/><stop offset="0.48" stop-color="#ff4000"/><stop offset="0.49" stop-color="#ff5c00"/><stop offset="0.5" stop-color="#ffd103"/><stop offset="0.51" stop-color="#ffea07"/><stop offset="0.56" stop-color="#ffea07"/><stop offset="0.57" stop-color="#ffc802"/><stop offset="0.58" stop-color="#ff5600"/><stop offset="0.59" stop-color="#ff3f00"/><stop offset="0.6" stop-color="#ff3600"/><stop offset="0.61" stop-color="#f50e00"/><stop offset="0.62" stop-color="#bd0100"/><stop offset="0.65" stop-color="#770000"/><stop offset="0.69" stop-color="#470000"/><stop offset="0.77" stop-color="#270000"/><stop offset="1" stop-color="#100000"/></linearGradient><linearGradient id="r269" gradientUnits="userSpaceOnUse" x1="477" x2="685" y1="0" y2="0"><stop offset="0" stop-color="#0c0000"/><stop offset="0.3" stop-color="#270000"/><stop offset="0.37" stop-color="#430000"/><stop offset="0.4" stop-color="#6b0000"/><stop offset="0.43" stop-color="#ac0000"/><stop offset="0.45" stop-color="#e50400"/><stop offset="0.46" stop-color="#f91800"/><stop offset="0.47" stop-color="#ff3e00"/><stop offset="0.48" stop-color="#ff4100"/><stop offset="0.49" stop-color="#ff6d00"/><stop offset="0.5" stop-color="#ffd804"/><stop offset="0.52" stop-color="#ffe006"/><stop offset="0.56" stop-color="#ffe006"/><stop offset="0.57" stop-color="#ffd203"/><stop offset="0.58" stop-color="#ff6400"/><stop offset="0.59" stop-color="#ff4000"/><stop offset="0.6" stop-color="#ff3e00"/><stop offset="0.61" stop-color="#f81500"/><stop offset="0.62" stop-color="#e20400"/><stop offset="0.64" stop-color="#900000"/><stop offset="0.67" stop-color="#5c0000"/><stop offset="0.72" stop-color="#370000"/><stop offset="0.83" stop-color="#1e0000"/><stop offset="1" stop-color="#100000"/></linearGradient><linearGradient id="r270" gradientUnits="userSpaceOnUse" x1="477" x2="685" y1="0" y2="0"><stop offset="0" stop-color="#0c0000"/><stop offset="0.29" stop-color="#260000"/><stop offset="0.37" stop-color="#440000"/><stop offset="0.4" stop-color="#6f0000"/><stop offset="0.43" stop-color="#b20000"/><stop offset="0.45" stop-color="#ed0500"/><stop offset="0.46" stop-color="#fd1e00"/><stop offset="0.47" stop-color="#ff3e00"/><stop offset="0.48" stop-color="#ff4300"/><stop offset="0.49" stop-color="#ff8000"/><stop offset="0.5" stop-color="#ffd504"/><stop offset="0.57" stop-color="#ffd304"/><stop offset="0.58" stop-color="#ff7500"/><stop offset="0.59" stop-color="#ff4200"/><stop offset="0.6" stop-color="#ff3e00"/><stop offset="0.61" stop-color="#fb1b00"/><stop offset="0.62" stop-color="#e90400"/><stop offset="0.64" stop-color="#950000"/><stop offset="0.67" stop-color="#5f0000"/><stop offset="0.72" stop-color="#380000"/><stop offset="0.83" stop-color="#1e0000"/><stop offset="1" stop-color="#100000"/></linearGradient><linearGradient id="r271" gradientUnits="userSpaceOnUse" x1="477" x2="685" y1="0" y2="0"><stop offset="0" stop-color="#0c0000"/><stop offset="0.29" stop-color="#260000"/><stop offset="0.37" stop-color="#450000"/><stop offset="0.4" stop-color="#730000"/><stop offset="0.43" stop-color="#b70100"/><stop offset="0.45" stop-color="#f20800"/><stop offset="0.46" stop-color="#ff2700"/><stop offset="0.47" stop-color="#ff3e00"/><stop offset="0.48" stop-color="#ff4800"/><stop offset="0.49" stop-color="#ff9200"/><stop offset="0.5" stop-color="#ffcb02"/><stop offset="0.57" stop-color="#ffcb02"/><stop offset="0.59" stop-color="#ff4500"/><stop offset="0.6" stop-color="#ff3e00"/><stop offset="0.61" stop-color="#fe2200"/><stop offset="0.62" stop-color="#f00600"/><stop offset="0.65" stop-color="#840000"/><stop offset="0.68" stop-color="#560000"/><stop offset="0.74" stop-color="#300000"/><stop offset="0.89" stop-color="#180000"/><stop offset="1" stop-color="#100000"/></linearGradient><linearGradient id="r272" gradientUnits="userSpaceOnUse" x1="477" x2="685" y1="0" y2="0"><stop offset="0" stop-color="#0c0000"/><stop offset="0.29" stop-color="#260000"/><stop offset="0.36" stop-color="#400000"/><stop offset="0.39" stop-color="#660000"/><stop offset="0.42" stop-color="#a30000"/><stop offset="0.44" stop-color="#da0300"/><stop offset="0.45" stop-color="#f50e00"/><stop offset="0.46" stop-color="#ff3600"/><stop offset="0.48" stop-color="#ff4e00"/><stop offset="0.49" stop-color="#ffa000"/><stop offset="0.5" stop-color="#ffc100"/><stop offset="0.57" stop-color="#ffc100"/><stop offset="0.58" stop-color="#ff9600"/><stop offset="0.59" stop-color="#ff4a00"/><stop offset="0.61" stop-color="#ff3000"/><stop offset="0.62" stop-color="#f30c00"/><stop offset="0.64" stop-color="#a00000"/><stop offset="0.67" stop-color="#650000"/><stop offset="0.71" stop-color="#3f0000"/><stop offset="0.81" stop-color="#210000"/><stop offset="1" stop-color="#100000"/></linearGradient><linearGradient id="r273" gradientUnits="userSpaceOnUse" x1="477" x2="685" y1="0" y2="0"><stop offset="0" stop-color="#0c0000"/><stop offset="0.29" stop-color="#270000"/><stop offset="0.36" stop-color="#410000"/><stop offset="0.39" stop-color="#690000"/><stop offset="0.42" stop-color="#a90000"/><stop offset="0.44" stop-color="#e10400"/><stop offset="0.45" stop-color="#f81500"/><stop offset="0.46" stop-color="#ff3e00"/><stop offset="0.47" stop-color="#ff3f00"/><stop offset="0.48" stop-color="#ff5700"/><stop offset="0.49" stop-color="#ffa700"/><stop offset="0.5" stop-color="#ffb400"/><stop offset="0.57" stop-color="#ffb400"/><stop offset="0.58" stop-color="#ffa000"/><stop offset="0.59" stop-color="#ff5200"/><stop offset="0.6" stop-color="#ff3f00"/><stop offset="0.61" stop-color="#ff3e00"/><stop offset="0.62" stop-color="#f61200"/><stop offset="0.62" stop-color="#de0400"/><stop offset="0.65" stop-color="#8d0000"/><stop offset="0.68" stop-color="#5b0000"/><stop offset="0.73" stop-color="#360000"/><stop offset="0.84" stop-color="#1d0000"/><stop offset="1" stop-color="#100000"/></linearGradient><linearGradient id="r274" gradientUnits="userSpaceOnUse" x1="477" x2="685" y1="0" y2="0"><stop offset="0" stop-color="#0c0000"/><stop offset="0.29" stop-color="#270000"/><stop offset="0.36" stop-color="#430000"/><stop offset="0.39" stop-color="#6d0000"/><stop offset="0.42" stop-color="#af0000"/><stop offset="0.44" stop-color="#e90400"/><stop offset="0.45" stop-color="#fb1b00"/><stop offset="0.46" stop-color="#ff3e00"/><stop offset="0.47" stop-color="#ff4100"/><stop offset="0.48" stop-color="#ff6100"/><stop offset="0.49" stop-color="#ffa500"/><stop offset="0.57" stop-color="#ffa700"/><stop offset="0.58" stop-color="#ffa100"/><stop offset="0.59" stop-color="#ff5b00"/><stop offset="0.6" stop-color="#ff4000"/><stop offset="0.61" stop-color="#ff3e00"/><stop offset="0.62" stop-color="#fa1800"/><stop offset="0.62" stop-color="#e60400"/><stop offset="0.65" stop-color="#920000"/><stop offset="0.68" stop-color="#5d0000"/><stop offset="0.73" stop-color="#370000"/><stop offset="0.85" stop-color="#1c0000"/><stop offset="1" stop-color="#100000"/></linearGradient><linearGradient id="r275" gradientUnits="userSpaceOnUse" x1="477" x2="685" y1="0" y2="0"><stop offset="0" stop-color="#0c0000"/><stop offset="0.29" stop-color="#270000"/><stop offset="0.36" stop-color="#440000"/><stop offset="0.39" stop-color="#710000"/><stop offset="0.42" stop-color="#b40000"/><stop offset="0.44" stop-color="#f00600"/><stop offset="0.45" stop-color="#fe2200"/><stop offset="0.46" stop-color="#ff3e00"/><stop offset="0.47" stop-color="#ff4200"/><stop offset="0.49" stop-color="#ff9a00"/><stop offset="0.58" stop-color="#ff9a00"/><stop offset="0.59" stop-color="#ff6500"/><stop offset="0.6" stop-color="#ff4100"/><stop offset="0.61" stop-color="#ff3e00"/><stop offset="0.62" stop-color="#fd1f00"/><stop offset="0.62" stop-color="#ee0500"/><stop offset="0.65" stop-color="#980000"/><stop offset="0.68" stop-color="#600000"/><stop offset="0.73" stop-color="#380000"/><stop offset="0.83" stop-color="#1f0000"/><stop offset="1" stop-color="#100000"/></linearGradient><linearGradient id="r276" gradientUnits="userSpaceOnUse" x1="477" x2="685" y1="0" y2="0"><stop offset="0" stop-color="#0c0000"/><stop offset="0.29" stop-color="#280000"/><stop offset="0.36" stop-color="#460000"/><stop offset="0.39" stop-color="#740000"/><stop offset="0.42" stop-color="#ba0100"/><stop offset="0.44" stop-color="#f30c00"/><stop offset="0.45" stop-color="#ff3000"/><stop offset="0.47" stop-color="#ff4500"/><stop offset="0.48" stop-color="#ff7200"/><stop offset="0.49" stop-color="#ff8d00"/><stop offset="0.58" stop-color="#ff8d00"/><stop offset="0.6" stop-color="#ff4400"/><stop offset="0.61" stop-color="#ff3e00"/><stop offset="0.62" stop-color="#ff2900"/><stop offset="0.62" stop-color="#f20900"/><stop offset="0.66" stop-color="#860000"/><stop offset="0.69" stop-color="#570000"/><stop offset="0.74" stop-color="#340000"/><stop offset="0.87" stop-color="#1a0000"/><stop offset="1" stop-color="#100000"/></linearGradient><linearGradient id="r277" gradientUnits="userSpaceOnUse" x1="477" x2="685" y1="0" y2="0"><stop offset="0" stop-color="#0c0000"/><stop offset="0.29" stop-color="#280000"/><stop offset="0.36" stop-color="#470000"/><stop offset="0.38" stop-color="#680000"/><stop offset="0.41" stop-color="#a60000"/><stop offset="0.43" stop-color="#de0400"/><stop offset="0.44" stop-color="#f61200"/><stop offset="0.45" stop-color="#ff3e00"/><stop offset="0.46" stop-color="#ff3e00"/><stop offset="0.47" stop-color="#ff4900"/><stop offset="0.48" stop-color="#ff7400"/><stop offset="0.5" stop-color="#ff8000"/><stop offset="0.58" stop-color="#ff7f00"/><stop offset="0.59" stop-color="#ff7000"/><stop offset="0.6" stop-color="#ff4700"/><stop offset="0.62" stop-color="#ff3800"/><stop offset="0.62" stop-color="#f50f00"/><stop offset="0.64" stop-color="#bd0100"/><stop offset="0.67" stop-color="#770000"/><stop offset="0.7" stop-color="#4f0000"/><stop offset="0.76" stop-color="#2d0000"/><stop offset="0.93" stop-color="#150000"/><stop offset="1" stop-color="#100000"/></linearGradient><linearGradient id="r278" gradientUnits="userSpaceOnUse" x1="477" x2="685" y1="0" y2="0"><stop offset="0" stop-color="#0c0000"/><stop offset="0.29" stop-color="#280000"/><stop offset="0.36" stop-color="#490000"/><stop offset="0.38" stop-color="#6b0000"/><stop offset="0.41" stop-color="#ac0000"/><stop offset="0.43" stop-color="#e60400"/><stop offset="0.44" stop-color="#fa1800"/><stop offset="0.45" stop-color="#ff3e00"/><stop offset="0.46" stop-color="#ff3f00"/><stop offset="0.47" stop-color="#ff4c00"/><stop offset="0.48" stop-color="#ff6f00"/><stop offset="0.58" stop-color="#ff7200"/><stop offset="0.59" stop-color="#ff6d00"/><stop offset="0.6" stop-color="#ff4a00"/><stop offset="0.61" stop-color="#ff3e00"/><stop offset="0.62" stop-color="#ff3e00"/><stop offset="0.62" stop-color="#f81500"/><stop offset="0.63" stop-color="#e20400"/><stop offset="0.66" stop-color="#900000"/><stop offset="0.69" stop-color="#5c0000"/><stop offset="0.74" stop-color="#360000"/><stop offset="0.85" stop-color="#1d0000"/><stop offset="1" stop-color="#100000"/></linearGradient><linearGradient id="r279" gradientUnits="userSpaceOnUse" x1="477" x2="685" y1="0" y2="0"><stop offset="0" stop-color="#0c0000"/><stop offset="0.28" stop-color="#270000"/><stop offset="0.35" stop-color="#430000"/><stop offset="0.38" stop-color="#6f0000"/><stop offset="0.41" stop-color="#b20000"/><stop offset="0.43" stop-color="#ed0500"/><stop offset="0.44" stop-color="#fd1f00"/><stop offset="0.45" stop-color="#ff3e00"/><stop offset="0.46" stop-color="#ff3f00"/><stop offset="0.48" stop-color="#ff6500"/><stop offset="0.59" stop-color="#ff6400"/><stop offset="0.6" stop-color="#ff4c00"/><stop offset="0.61" stop-color="#ff3f00"/><stop offset="0.62" stop-color="#ff3e00"/><stop offset="0.62" stop-color="#fb1c00"/><stop offset="0.63" stop-color="#ea0500"/><stop offset="0.66" stop-color="#950000"/><stop offset="0.69" stop-color="#5e0000"/><stop offset="0.74" stop-color="#370000"/><stop offset="0.84" stop-color="#1e0000"/><stop offset="1" stop-color="#100000"/></linearGradient><linearGradient id="r280" gradientUnits="userSpaceOnUse" x1="477" x2="685" y1="0" y2="0"><stop offset="0" stop-color="#0c0000"/><stop offset="0.28" stop-color="#270000"/><stop offset="0.35" stop-color="#450000"/><stop offset="0.38" stop-color="#620000"/><stop offset="0.4" stop-color="#9d0000"/><stop offset="0.43" stop-color="#f20900"/><stop offset="0.44" stop-color="#ff2900"/><stop offset="0.45" stop-color="#ff3e00"/><stop offset="0.46" stop-color="#ff4000"/><stop offset="0.48" stop-color="#ff5700"/><stop offset="0.59" stop-color="#ff5700"/><stop offset="0.61" stop-color="#ff3f00"/><stop offset="0.62" stop-color="#ff3e00"/><stop offset="0.62" stop-color="#ff2300"/><stop offset="0.63" stop-color="#f10600"/><stop offset="0.66" stop-color="#9a0000"/><stop offset="0.69" stop-color="#610000"/><stop offset="0.74" stop-color="#380000"/><stop offset="0.84" stop-color="#1e0000"/><stop offset="1" stop-color="#100000"/></linearGradient><linearGradient id="r281" gradientUnits="userSpaceOnUse" x1="477" x2="685" y1="0" y2="0"><stop offset="0" stop-color="#0c0000"/><stop offset="0.28" stop-color="#270000"/><stop offset="0.35" stop-color="#460000"/><stop offset="0.38" stop-color="#760000"/><stop offset="0.41" stop-color="#bd0100"/><stop offset="0.43" stop-color="#f50f00"/><stop offset="0.44" stop-color="#ff3800"/><stop offset="0.46" stop-color="#ff4000"/><stop offset="0.48" stop-color="#ff5100"/><stop offset="0.59" stop-color="#ff5100"/><stop offset="0.62" stop-color="#ff3100"/><stop offset="0.63" stop-color="#f40c00"/><stop offset="0.66" stop-color="#a00000"/><stop offset="0.69" stop-color="#640000"/><stop offset="0.73" stop-color="#3f0000"/><stop offset="0.82" stop-color="#210000"/><stop offset="1" stop-color="#100000"/></linearGradient><linearGradient id="r282" gradientUnits="userSpaceOnUse" x1="477" x2="685" y1="0" y2="0"><stop offset="0" stop-color="#0c0000"/><stop offset="0.27" stop-color="#250000"/><stop offset="0.34" stop-color="#410000"/><stop offset="0.38" stop-color="#690000"/><stop offset="0.4" stop-color="#a90000"/><stop offset="0.42" stop-color="#e20400"/><stop offset="0.43" stop-color="#f81500"/><stop offset="0.44" stop-color="#ff3d00"/><stop offset="0.5" stop-color="#ff4b00"/><stop offset="0.6" stop-color="#ff4800"/><stop offset="0.62" stop-color="#ff3d00"/><stop offset="0.63" stop-color="#f71200"/><stop offset="0.64" stop-color="#df0400"/><stop offset="0.67" stop-color="#8d0000"/><stop offset="0.7" stop-color="#5a0000"/><stop offset="0.75" stop-color="#350000"/><stop offset="0.86" stop-color="#1c0000"/><stop offset="1" stop-color="#100000"/></linearGradient><linearGradient id="r283" gradientUnits="userSpaceOnUse" x1="477" x2="685" y1="0" y2="0"><stop offset="0" stop-color="#0c0000"/><stop offset="0.27" stop-color="#260000"/><stop offset="0.34" stop-color="#420000"/><stop offset="0.38" stop-color="#6c0000"/><stop offset="0.4" stop-color="#af0000"/><stop offset="0.42" stop-color="#ea0500"/><stop offset="0.43" stop-color="#fb1c00"/><stop offset="0.44" stop-color="#ff3d00"/><stop offset="0.59" stop-color="#ff4300"/><stop offset="0.62" stop-color="#ff3d00"/><stop offset="0.63" stop-color="#fa1900"/><stop offset="0.64" stop-color="#e60400"/><stop offset="0.67" stop-color="#920000"/><stop offset="0.7" stop-color="#5c0000"/><stop offset="0.75" stop-color="#360000"/><stop offset="0.85" stop-color="#1d0000"/><stop offset="1" stop-color="#100000"/></linearGradient><linearGradient id="r284" gradientUnits="userSpaceOnUse" x1="477" x2="685" y1="0" y2="0"><stop offset="0" stop-color="#0c0000"/><stop offset="0.27" stop-color="#260000"/><stop offset="0.34" stop-color="#430000"/><stop offset="0.38" stop-color="#700000"/><stop offset="0.4" stop-color="#b40000"/><stop offset="0.42" stop-color="#f00600"/><stop offset="0.43" stop-color="#fe2200"/><stop offset="0.44" stop-color="#ff3c00"/><stop offset="0.62" stop-color="#ff3c00"/><stop offset="0.63" stop-color="#fd1f00"/><stop offset="0.64" stop-color="#ed0500"/><stop offset="0.68" stop-color="#810000"/><stop offset="0.71" stop-color="#540000"/><stop offset="0.77" stop-color="#2e0000"/><stop offset="0.92" stop-color="#160000"/><stop offset="1" stop-color="#100000"/></linearGradient><linearGradient id="r285" gradientUnits="userSpaceOnUse" x1="477" x2="685" y1="0" y2="0"><stop offset="0" stop-color="#0c0000"/><stop offset="0.27" stop-color="#260000"/><stop offset="0.34" stop-color="#440000"/><stop offset="0.38" stop-color="#720000"/><stop offset="0.4" stop-color="#b70100"/><stop offset="0.42" stop-color="#f20900"/><stop offset="0.43" stop-color="#ff2900"/><stop offset="0.44" stop-color="#ff3500"/><stop offset="0.62" stop-color="#ff3500"/><stop offset="0.63" stop-color="#ff2300"/><stop offset="0.64" stop-color="#f10600"/><stop offset="0.67" stop-color="#9a0000"/><stop offset="0.7" stop-color="#610000"/><stop offset="0.74" stop-color="#3d0000"/><stop offset="0.82" stop-color="#220000"/><stop offset="1" stop-color="#100000"/></linearGradient><linearGradient id="r286" gradientUnits="userSpaceOnUse" x1="477" x2="685" y1="0" y2="0"><stop offset="0" stop-color="#0c0000"/><stop offset="0.27" stop-color="#260000"/><stop offset="0.34" stop-color="#450000"/><stop offset="0.37" stop-color="#640000"/><stop offset="0.39" stop-color="#a00000"/><stop offset="0.42" stop-color="#f40c00"/><stop offset="0.43" stop-color="#ff2e00"/><stop offset="0.63" stop-color="#ff2b00"/><stop offset="0.64" stop-color="#f20a00"/><stop offset="0.68" stop-color="#860000"/><stop offset="0.71" stop-color="#560000"/><stop offset="0.76" stop-color="#330000"/><stop offset="0.88" stop-color="#190000"/><stop offset="1" stop-color="#100000"/></linearGradient><linearGradient id="r287" gradientUnits="userSpaceOnUse" x1="477" x2="685" y1="0" y2="0"><stop offset="0" stop-color="#0c0000"/><stop offset="0.26" stop-color="#240000"/><stop offset="0.33" stop-color="#3f0000"/><stop offset="0.37" stop-color="#660000"/><stop offset="0.39" stop-color="#a30000"/><stop offset="0.41" stop-color="#db0300"/><stop offset="0.42" stop-color="#f51000"/><stop offset="0.43" stop-color="#ff2700"/><stop offset="0.63" stop-color="#ff2700"/><stop offset="0.64" stop-color="#f40d00"/><stop offset="0.66" stop-color="#bb0100"/><stop offset="0.69" stop-color="#740000"/><stop offset="0.72" stop-color="#4d0000"/><stop offset="0.78" stop-color="#2c0000"/><stop offset="0.95" stop-color="#130000"/><stop offset="1" stop-color="#100000"/></linearGradient><linearGradient id="r288" gradientUnits="userSpaceOnUse" x1="477" x2="685" y1="0" y2="0"><stop offset="0" stop-color="#0c0000"/><stop offset="0.26" stop-color="#250000"/><stop offset="0.33" stop-color="#400000"/><stop offset="0.37" stop-color="#680000"/><stop offset="0.39" stop-color="#a70000"/><stop offset="0.41" stop-color="#e00400"/><stop offset="0.42" stop-color="#f71400"/><stop offset="0.43" stop-color="#ff2300"/><stop offset="0.63" stop-color="#ff2200"/><stop offset="0.64" stop-color="#f61100"/><stop offset="0.66" stop-color="#bf0100"/><stop offset="0.69" stop-color="#770000"/><stop offset="0.72" stop-color="#4f0000"/><stop offset="0.78" stop-color="#2c0000"/><stop offset="0.95" stop-color="#130000"/><stop offset="1" stop-color="#100000"/></linearGradient><linearGradient id="r289" gradientUnits="userSpaceOnUse" x1="477" x2="685" y1="0" y2="0"><stop offset="0" stop-color="#0c0000"/><stop offset="0.26" stop-color="#250000"/><stop offset="0.33" stop-color="#410000"/><stop offset="0.37" stop-color="#6a0000"/><stop offset="0.39" stop-color="#ac0000"/><stop offset="0.41" stop-color="#e60400"/><stop offset="0.42" stop-color="#fa1900"/><stop offset="0.44" stop-color="#fe2100"/><stop offset="0.63" stop-color="#fe2100"/><stop offset="0.64" stop-color="#f81600"/><stop offset="0.65" stop-color="#e20400"/><stop offset="0.69" stop-color="#7a0000"/><stop offset="0.72" stop-color="#500000"/><stop offset="0.78" stop-color="#2d0000"/><stop offset="0.93" stop-color="#150000"/><stop offset="1" stop-color="#100000"/></linearGradient><linearGradient id="r290" gradientUnits="userSpaceOnUse" x1="477" x2="685" y1="0" y2="0"><stop offset="0" stop-color="#0c0000"/><stop offset="0.26" stop-color="#250000"/><stop offset="0.33" stop-color="#420000"/><stop offset="0.37" stop-color="#6d0000"/><stop offset="0.39" stop-color="#b00000"/><stop offset="0.41" stop-color="#ec0500"/><stop offset="0.42" stop-color="#fc1d00"/><stop offset="0.63" stop-color="#fd1f00"/><stop offset="0.64" stop-color="#fb1a00"/><stop offset="0.65" stop-color="#e80400"/><stop offset="0.68" stop-color="#930000"/><stop offset="0.71" stop-color="#5d0000"/><stop offset="0.76" stop-color="#360000"/><stop offset="0.86" stop-color="#1d0000"/><stop offset="1" stop-color="#100000"/></linearGradient><linearGradient id="r291" gradientUnits="userSpaceOnUse" x1="477" x2="685" y1="0" y2="0"><stop offset="0" stop-color="#0c0000"/><stop offset="0.26" stop-color="#250000"/><stop offset="0.33" stop-color="#430000"/><stop offset="0.36" stop-color="#600000"/><stop offset="0.38" stop-color="#9a0000"/><stop offset="0.41" stop-color="#f10600"/><stop offset="0.42" stop-color="#fc1d00"/><stop offset="0.64" stop-color="#fc1d00"/><stop offset="0.65" stop-color="#ee0500"/><stop offset="0.68" stop-color="#970000"/><stop offset="0.71" stop-color="#5f0000"/><stop offset="0.76" stop-color="#360000"/><stop offset="0.87" stop-color="#1b0000"/><stop offset="1" stop-color="#100000"/></linearGradient><linearGradient id="r292" gradientUnits="userSpaceOnUse" x1="477" x2="685" y1="0" y2="0"><stop offset="0" stop-color="#0c0000"/><stop offset="0.25" stop-color="#230000"/><stop offset="0.33" stop-color="#440000"/><stop offset="0.37" stop-color="#720000"/><stop offset="0.39" stop-color="#b90100"/><stop offset="0.41" stop-color="#f30a00"/><stop offset="0.42" stop-color="#fb1b00"/><stop offset="0.64" stop-color="#fb1b00"/><stop offset="0.65" stop-color="#f10800"/><stop offset="0.69" stop-color="#840000"/><stop offset="0.72" stop-color="#550000"/><stop offset="0.78" stop-color="#2e0000"/><stop offset="0.92" stop-color="#160000"/><stop offset="1" stop-color="#100000"/></linearGradient><linearGradient id="r293" gradientUnits="userSpaceOnUse" x1="477" x2="685" y1="0" y2="0"><stop offset="0" stop-color="#0c0000"/><stop offset="0.25" stop-color="#240000"/><stop offset="0.32" stop-color="#3e0000"/><stop offset="0.36" stop-color="#650000"/><stop offset="0.38" stop-color="#a20000"/><stop offset="0.4" stop-color="#da0300"/><stop offset="0.41" stop-color="#f50f00"/><stop offset="0.43" stop-color="#fa1a00"/><stop offset="0.64" stop-color="#fa1900"/><stop offset="0.65" stop-color="#f40c00"/><stop offset="0.68" stop-color="#9f0000"/><stop offset="0.71" stop-color="#630000"/><stop offset="0.75" stop-color="#3d0000"/><stop offset="0.83" stop-color="#220000"/><stop offset="1" stop-color="#100000"/></linearGradient><linearGradient id="r294" gradientUnits="userSpaceOnUse" x1="477" x2="685" y1="0" y2="0"><stop offset="0" stop-color="#0c0000"/><stop offset="0.26" stop-color="#260000"/><stop offset="0.33" stop-color="#460000"/><stop offset="0.37" stop-color="#780000"/><stop offset="0.4" stop-color="#e00400"/><stop offset="0.41" stop-color="#f71300"/><stop offset="0.64" stop-color="#f91700"/><stop offset="0.65" stop-color="#f61100"/><stop offset="0.66" stop-color="#dc0300"/><stop offset="0.7" stop-color="#760000"/><stop offset="0.73" stop-color="#4e0000"/><stop offset="0.79" stop-color="#2c0000"/><stop offset="0.94" stop-color="#140000"/><stop offset="1" stop-color="#100000"/></linearGradient><linearGradient id="r295" gradientUnits="userSpaceOnUse" x1="477" x2="685" y1="0" y2="0"><stop offset="0" stop-color="#0c0000"/><stop offset="0.26" stop-color="#270000"/><stop offset="0.32" stop-color="#400000"/><stop offset="0.36" stop-color="#6a0000"/><stop offset="0.38" stop-color="#ab0000"/><stop offset="0.4" stop-color="#e50400"/><stop offset="0.41" stop-color="#f81500"/><stop offset="0.65" stop-color="#f81500"/><stop offset="0.66" stop-color="#e20400"/><stop offset="0.69" stop-color="#8f0000"/><stop offset="0.72" stop-color="#5a0000"/><stop offset="0.77" stop-color="#340000"/><stop offset="0.88" stop-color="#1b0000"/><stop offset="1" stop-color="#100000"/></linearGradient><linearGradient id="r296" gradientUnits="userSpaceOnUse" x1="477" x2="685" y1="0" y2="0"><stop offset="0" stop-color="#0c0000"/><stop offset="0.26" stop-color="#270000"/><stop offset="0.32" stop-color="#410000"/><stop offset="0.36" stop-color="#6c0000"/><stop offset="0.38" stop-color="#b00000"/><stop offset="0.4" stop-color="#eb0500"/><stop offset="0.41" stop-color="#f71400"/><stop offset="0.65" stop-color="#f71400"/><stop offset="0.66" stop-color="#e70400"/><stop offset="0.69" stop-color="#920000"/><stop offset="0.72" stop-color="#5c0000"/><stop offset="0.77" stop-color="#350000"/><stop offset="0.87" stop-color="#1c0000"/><stop offset="1" stop-color="#100000"/></linearGradient></defs><rect width="685" height="943" fill="#fff"/><line x1="39.5" y1="116.2" x2="239.5" y2="118" stroke="#8a8a8a" stroke-width="0.9"/>
<path d="M39.5,135.8 L39.5,135.65 40.75,135.64 42,135.64 43.25,135.64 44.5,135.63 45.75,135.63 47,135.62 48.25,135.62 49.5,135.62 50.75,135.61 52,135.61 53.25,135.6 54.5,135.6 55.75,135.59 57,135.59 58.25,135.58 59.5,135.57 60.75,135.57 62,135.56 63.25,135.55 64.5,135.55 65.75,135.54 67,135.53 68.25,135.52 69.5,135.52 70.75,135.51 72,135.5 73.25,135.49 74.5,135.48 75.75,135.47 77,135.46 78.25,135.44 79.5,135.43 80.75,135.42 82,135.41 83.25,135.39 84.5,135.38 85.75,135.36 87,135.34 88.25,135.33 89.5,135.31 90.75,135.29 92,135.26 93.25,135.24 94.5,135.22 95.75,135.19 97,135.16 98.25,135.14 99.5,135.1 100.75,135.07 102,135.03 103.25,134.99 104.5,134.95 105.75,134.91 107,134.86 108.25,134.8 109.5,134.75 110.75,134.68 112,134.62 113.25,134.54 114.5,134.46 115.75,134.37 117,134.27 118.25,134.16 119.5,134.03 120.75,133.89 122,133.73 123.25,133.53 124.5,133.3 125.75,133.02 127,132.66 128.25,132.19 129.5,131.57 130.75,130.73 132,129.59 133.25,128.07 134.5,126.04 135.75,123.4 137,120.01 138.25,115.78 139.5,110.64 140.75,104.59 142,97.68 143.25,90.08 144.5,82.05 145.75,73.97 147,66.34 148.25,59.74 149.5,54.83 150.75,52.16 152,52.11 153.25,54.67 154.5,59.51 155.75,66.05 157,73.66 158.25,81.73 159.5,89.76 160.75,97.39 162,104.33 163.25,110.42 164.5,115.59 165.75,119.86 167,123.27 168.25,125.95 169.5,128 170.75,129.54 172,130.69 173.25,131.54 174.5,132.17 175.75,132.64 177,133.01 178.25,133.29 179.5,133.53 180.75,133.72 182,133.88 183.25,134.03 184.5,134.15 185.75,134.26 187,134.36 188.25,134.45 189.5,134.54 190.75,134.61 192,134.68 193.25,134.74 194.5,134.8 195.75,134.86 197,134.91 198.25,134.95 199.5,134.99 200.75,135.03 202,135.07 203.25,135.1 204.5,135.13 205.75,135.16 207,135.19 208.25,135.22 209.5,135.24 210.75,135.26 212,135.29 213.25,135.31 214.5,135.32 215.75,135.34 217,135.36 218.25,135.38 219.5,135.39 220.75,135.41 222,135.42 223.25,135.43 224.5,135.44 225.75,135.46 227,135.47 228.25,135.48 229.5,135.49 230.75,135.5 232,135.51 233.25,135.52 234.5,135.52 235.75,135.53 237,135.54 238.25,135.55 239.5,135.55 L239.5,135.8 Z" fill="#878787" stroke="#2a2a2a" stroke-width="0.6"/>
<path d="M39.5,135.8 L39.5,135.79 40.75,135.79 42,135.79 43.25,135.79 44.5,135.79 45.75,135.79 47,135.79 48.25,135.79 49.5,135.79 50.75,135.79 52,135.79 53.25,135.79 54.5,135.79 55.75,135.79 57,135.79 58.25,135.79 59.5,135.79 60.75,135.79 62,135.79 63.25,135.79 64.5,135.79 65.75,135.79 67,135.79 68.25,135.79 69.5,135.79 70.75,135.79 72,135.79 73.25,135.79 74.5,135.79 75.75,135.79 77,135.79 78.25,135.79 79.5,135.79 80.75,135.79 82,135.79 83.25,135.79 84.5,135.79 85.75,135.79 87,135.79 88.25,135.78 89.5,135.78 90.75,135.78 92,135.78 93.25,135.78 94.5,135.78 95.75,135.78 97,135.78 98.25,135.78 99.5,135.78 100.75,135.78 102,135.78 103.25,135.78 104.5,135.78 105.75,135.78 107,135.78 108.25,135.77 109.5,135.77 110.75,135.77 112,135.77 113.25,135.77 114.5,135.77 115.75,135.77 117,135.77 118.25,135.76 119.5,135.76 120.75,135.76 122,135.76 123.25,135.76 124.5,135.76 125.75,135.75 127,135.75 128.25,135.75 129.5,135.75 130.75,135.74 132,135.74 133.25,135.74 134.5,135.73 135.75,135.73 137,135.72 138.25,135.72 139.5,135.71 140.75,135.71 142,135.7 143.25,135.69 144.5,135.68 145.75,135.68 147,135.66 148.25,135.65 149.5,135.64 150.75,135.62 152,135.6 153.25,135.56 154.5,135.51 155.75,135.43 157,135.3 158.25,135.1 159.5,134.79 160.75,134.31 162,133.6 163.25,132.61 164.5,131.26 165.75,129.53 167,127.41 168.25,124.97 169.5,122.3 170.75,119.61 172,117.11 173.25,115.07 174.5,113.74 175.75,113.3 177,113.82 178.25,115.21 179.5,117.3 180.75,119.82 182,122.52 183.25,125.17 184.5,127.6 185.75,129.68 187,131.38 188.25,132.7 189.5,133.67 190.75,134.35 192,134.82 193.25,135.12 194.5,135.32 195.75,135.44 197,135.52 198.25,135.56 199.5,135.6 200.75,135.62 202,135.64 203.25,135.65 204.5,135.67 205.75,135.68 207,135.69 208.25,135.69 209.5,135.7 210.75,135.71 212,135.71 213.25,135.72 214.5,135.72 215.75,135.73 217,135.73 218.25,135.74 219.5,135.74 220.75,135.74 222,135.75 223.25,135.75 224.5,135.75 225.75,135.75 227,135.76 228.25,135.76 229.5,135.76 230.75,135.76 232,135.76 233.25,135.76 234.5,135.77 235.75,135.77 237,135.77 238.25,135.77 239.5,135.77 L239.5,135.8 Z" fill="#c8c8c8" stroke="#2a2a2a" stroke-width="0.6"/>
<path d="M39.5,135.8 L39.5,135.8 40.75,135.8 42,135.8 43.25,135.8 44.5,135.8 45.75,135.8 47,135.8 48.25,135.8 49.5,135.8 50.75,135.8 52,135.8 53.25,135.8 54.5,135.8 55.75,135.8 57,135.8 58.25,135.8 59.5,135.8 60.75,135.8 62,135.8 63.25,135.8 64.5,135.8 65.75,135.8 67,135.8 68.25,135.8 69.5,135.8 70.75,135.8 72,135.8 73.25,135.8 74.5,135.8 75.75,135.8 77,135.8 78.25,135.8 79.5,135.8 80.75,135.8 82,135.8 83.25,135.8 84.5,135.8 85.75,135.8 87,135.8 88.25,135.8 89.5,135.79 90.75,135.79 92,135.78 93.25,135.77 94.5,135.75 95.75,135.72 97,135.68 98.25,135.61 99.5,135.52 100.75,135.38 102,135.2 103.25,134.94 104.5,134.61 105.75,134.17 107,133.62 108.25,132.93 109.5,132.09 110.75,131.11 112,129.96 113.25,128.68 114.5,127.27 115.75,125.77 117,124.23 118.25,122.71 119.5,121.25 120.75,119.94 122,118.82 123.25,117.97 124.5,117.42 125.75,117.2 127,117.33 128.25,117.81 129.5,118.59 130.75,119.65 132,120.92 133.25,122.35 134.5,123.86 135.75,125.41 137,126.92 138.25,128.35 139.5,129.67 140.75,130.84 142,131.87 143.25,132.74 144.5,133.46 145.75,134.05 147,134.51 148.25,134.87 149.5,135.14 150.75,135.34 152,135.49 153.25,135.59 154.5,135.66 155.75,135.71 157,135.74 158.25,135.77 159.5,135.78 160.75,135.79 162,135.79 163.25,135.8 164.5,135.8 165.75,135.8 167,135.8 168.25,135.8 169.5,135.8 170.75,135.8 172,135.8 173.25,135.8 174.5,135.8 175.75,135.8 177,135.8 178.25,135.8 179.5,135.8 180.75,135.8 182,135.8 183.25,135.8 184.5,135.8 185.75,135.8 187,135.8 188.25,135.8 189.5,135.8 190.75,135.8 192,135.8 193.25,135.8 194.5,135.8 195.75,135.8 197,135.8 198.25,135.8 199.5,135.8 200.75,135.8 202,135.8 203.25,135.8 204.5,135.8 205.75,135.8 207,135.8 208.25,135.8 209.5,135.8 210.75,135.8 212,135.8 213.25,135.8 214.5,135.8 215.75,135.8 217,135.8 218.25,135.8 219.5,135.8 220.75,135.8 222,135.8 223.25,135.8 224.5,135.8 225.75,135.8 227,135.8 228.25,135.8 229.5,135.8 230.75,135.8 232,135.8 233.25,135.8 234.5,135.8 235.75,135.8 237,135.8 238.25,135.8 239.5,135.8 L239.5,135.8 Z" fill="#ff8400" stroke="#2a2a2a" stroke-width="0.6"/>
<path d="M39.5,135.8 L39.5,135.8 40.75,135.8 42,135.8 43.25,135.8 44.5,135.8 45.75,135.8 47,135.8 48.25,135.8 49.5,135.8 50.75,135.8 52,135.8 53.25,135.8 54.5,135.8 55.75,135.8 57,135.8 58.25,135.8 59.5,135.8 60.75,135.8 62,135.8 63.25,135.8 64.5,135.8 65.75,135.8 67,135.8 68.25,135.8 69.5,135.8 70.75,135.8 72,135.8 73.25,135.8 74.5,135.8 75.75,135.8 77,135.8 78.25,135.8 79.5,135.8 80.75,135.8 82,135.8 83.25,135.8 84.5,135.8 85.75,135.8 87,135.8 88.25,135.8 89.5,135.8 90.75,135.8 92,135.8 93.25,135.8 94.5,135.8 95.75,135.8 97,135.8 98.25,135.8 99.5,135.8 100.75,135.8 102,135.79 103.25,135.79 104.5,135.78 105.75,135.78 107,135.76 108.25,135.74 109.5,135.7 110.75,135.65 112,135.57 113.25,135.47 114.5,135.32 115.75,135.13 117,134.87 118.25,134.54 119.5,134.11 120.75,133.6 122,132.97 123.25,132.24 124.5,131.41 125.75,130.48 127,129.48 128.25,128.43 129.5,127.38 130.75,126.35 132,125.41 133.25,124.58 134.5,123.92 135.75,123.46 137,123.23 138.25,123.23 139.5,123.48 140.75,123.94 142,124.61 143.25,125.44 144.5,126.39 145.75,127.42 147,128.48 148.25,129.52 149.5,130.52 150.75,131.44 152,132.27 153.25,133 154.5,133.62 155.75,134.13 157,134.55 158.25,134.88 159.5,135.14 160.75,135.33 162,135.47 163.25,135.58 164.5,135.65 165.75,135.7 167,135.74 168.25,135.76 169.5,135.78 170.75,135.79 172,135.79 173.25,135.79 174.5,135.8 175.75,135.8 177,135.8 178.25,135.8 179.5,135.8 180.75,135.8 182,135.8 183.25,135.8 184.5,135.8 185.75,135.8 187,135.8 188.25,135.8 189.5,135.8 190.75,135.8 192,135.8 193.25,135.8 194.5,135.8 195.75,135.8 197,135.8 198.25,135.8 199.5,135.8 200.75,135.8 202,135.8 203.25,135.8 204.5,135.8 205.75,135.8 207,135.8 208.25,135.8 209.5,135.8 210.75,135.8 212,135.8 213.25,135.8 214.5,135.8 215.75,135.8 217,135.8 218.25,135.8 219.5,135.8 220.75,135.8 222,135.8 223.25,135.8 224.5,135.8 225.75,135.8 227,135.8 228.25,135.8 229.5,135.8 230.75,135.8 232,135.8 233.25,135.8 234.5,135.8 235.75,135.8 237,135.8 238.25,135.8 239.5,135.8 L239.5,135.8 Z" fill="#464646" stroke="#2a2a2a" stroke-width="0.6"/>
<line x1="39.5" y1="135.8" x2="239.5" y2="135.8" stroke="#707070" stroke-width="1"/>
<polyline points="39.5,115.9 42,115.88 44.5,115.85 47,115.83 49.5,115.81 52,115.78 54.5,115.76 57,115.73 59.5,115.71 62,115.68 64.5,115.64 67,115.61 69.5,115.58 72,115.54 74.5,115.5 77,115.45 79.5,115.41 82,115.36 84.5,115.31 87,115.25 89.5,115.18 92,115.07 94.5,114.72 97,114.39 99.5,114.07 102,113.58 104.5,112.78 107,111.69 109.5,110.16 112,107.91 114.5,105.11 117,102.08 119.5,98.78 122,94.98 124.5,91.1 127,87.56 129.5,84.33 132,81.31 134.5,77.95 137,74.3 139.5,67.37 142,59.35 144.5,48.78 147,36.35 149.5,28.53 152,27.62 154.5,36.8 157,50.94 159.5,71.66 162,84.2 164.5,91.64 167,92.98 169.5,92.21 172,91.52 174.5,91.38 177,92.19 179.5,94.8 182,98.83 184.5,103.28 187,107.43 189.5,110.63 192,112.79 194.5,114.27 197,115.18 199.5,115.85 202,116.46 204.5,116.94 207,117.2 209.5,117.42 212,117.58 214.5,117.69 217,117.74 219.5,117.78 222,117.82 224.5,117.85 227,117.87 229.5,117.9 232,117.92 234.5,117.95 237,117.97 239.5,118" fill="none" stroke="#000" stroke-width="0.8"/>
<path d="M38.1,115.9a1.4,1.4 0 1,0 2.8,0a1.4,1.4 0 1,0 -2.8,0zM40.6,115.88a1.4,1.4 0 1,0 2.8,0a1.4,1.4 0 1,0 -2.8,0zM43.1,115.85a1.4,1.4 0 1,0 2.8,0a1.4,1.4 0 1,0 -2.8,0zM45.6,115.83a1.4,1.4 0 1,0 2.8,0a1.4,1.4 0 1,0 -2.8,0zM48.1,115.81a1.4,1.4 0 1,0 2.8,0a1.4,1.4 0 1,0 -2.8,0zM50.6,115.78a1.4,1.4 0 1,0 2.8,0a1.4,1.4 0 1,0 -2.8,0zM53.1,115.76a1.4,1.4 0 1,0 2.8,0a1.4,1.4 0 1,0 -2.8,0zM55.6,115.73a1.4,1.4 0 1,0 2.8,0a1.4,1.4 0 1,0 -2.8,0zM58.1,115.71a1.4,1.4 0 1,0 2.8,0a1.4,1.4 0 1,0 -2.8,0zM60.6,115.68a1.4,1.4 0 1,0 2.8,0a1.4,1.4 0 1,0 -2.8,0zM63.1,115.64a1.4,1.4 0 1,0 2.8,0a1.4,1.4 0 1,0 -2.8,0zM65.6,115.61a1.4,1.4 0 1,0 2.8,0a1.4,1.4 0 1,0 -2.8,0zM68.1,115.58a1.4,1.4 0 1,0 2.8,0a1.4,1.4 0 1,0 -2.8,0zM70.6,115.54a1.4,1.4 0 1,0 2.8,0a1.4,1.4 0 1,0 -2.8,0zM73.1,115.5a1.4,1.4 0 1,0 2.8,0a1.4,1.4 0 1,0 -2.8,0zM75.6,115.45a1.4,1.4 0 1,0 2.8,0a1.4,1.4 0 1,0 -2.8,0zM78.1,115.41a1.4,1.4 0 1,0 2.8,0a1.4,1.4 0 1,0 -2.8,0zM80.6,115.36a1.4,1.4 0 1,0 2.8,0a1.4,1.4 0 1,0 -2.8,0zM83.1,115.31a1.4,1.4 0 1,0 2.8,0a1.4,1.4 0 1,0 -2.8,0zM85.6,115.25a1.4,1.4 0 1,0 2.8,0a1.4,1.4 0 1,0 -2.8,0zM88.1,115.18a1.4,1.4 0 1,0 2.8,0a1.4,1.4 0 1,0 -2.8,0zM90.6,115.07a1.4,1.4 0 1,0 2.8,0a1.4,1.4 0 1,0 -2.8,0zM93.1,114.72a1.4,1.4 0 1,0 2.8,0a1.4,1.4 0 1,0 -2.8,0zM95.6,114.39a1.4,1.4 0 1,0 2.8,0a1.4,1.4 0 1,0 -2.8,0zM98.1,114.07a1.4,1.4 0 1,0 2.8,0a1.4,1.4 0 1,0 -2.8,0zM100.6,113.58a1.4,1.4 0 1,0 2.8,0a1.4,1.4 0 1,0 -2.8,0zM103.1,112.78a1.4,1.4 0 1,0 2.8,0a1.4,1.4 0 1,0 -2.8,0zM105.6,111.69a1.4,1.4 0 1,0 2.8,0a1.4,1.4 0 1,0 -2.8,0zM108.1,110.16a1.4,1.4 0 1,0 2.8,0a1.4,1.4 0 1,0 -2.8,0zM110.6,107.91a1.4,1.4 0 1,0 2.8,0a1.4,1.4 0 1,0 -2.8,0zM113.1,105.11a1.4,1.4 0 1,0 2.8,0a1.4,1.4 0 1,0 -2.8,0zM115.6,102.08a1.4,1.4 0 1,0 2.8,0a1.4,1.4 0 1,0 -2.8,0zM118.1,98.78a1.4,1.4 0 1,0 2.8,0a1.4,1.4 0 1,0 -2.8,0zM120.6,94.98a1.4,1.4 0 1,0 2.8,0a1.4,1.4 0 1,0 -2.8,0zM123.1,91.1a1.4,1.4 0 1,0 2.8,0a1.4,1.4 0 1,0 -2.8,0zM125.6,87.56a1.4,1.4 0 1,0 2.8,0a1.4,1.4 0 1,0 -2.8,0zM128.1,84.33a1.4,1.4 0 1,0 2.8,0a1.4,1.4 0 1,0 -2.8,0zM130.6,81.31a1.4,1.4 0 1,0 2.8,0a1.4,1.4 0 1,0 -2.8,0zM133.1,77.95a1.4,1.4 0 1,0 2.8,0a1.4,1.4 0 1,0 -2.8,0zM135.6,74.3a1.4,1.4 0 1,0 2.8,0a1.4,1.4 0 1,0 -2.8,0zM138.1,67.37a1.4,1.4 0 1,0 2.8,0a1.4,1.4 0 1,0 -2.8,0zM140.6,59.35a1.4,1.4 0 1,0 2.8,0a1.4,1.4 0 1,0 -2.8,0zM143.1,48.78a1.4,1.4 0 1,0 2.8,0a1.4,1.4 0 1,0 -2.8,0zM145.6,36.35a1.4,1.4 0 1,0 2.8,0a1.4,1.4 0 1,0 -2.8,0zM148.1,28.53a1.4,1.4 0 1,0 2.8,0a1.4,1.4 0 1,0 -2.8,0zM150.6,27.62a1.4,1.4 0 1,0 2.8,0a1.4,1.4 0 1,0 -2.8,0zM153.1,36.8a1.4,1.4 0 1,0 2.8,0a1.4,1.4 0 1,0 -2.8,0zM155.6,50.94a1.4,1.4 0 1,0 2.8,0a1.4,1.4 0 1,0 -2.8,0zM158.1,71.66a1.4,1.4 0 1,0 2.8,0a1.4,1.4 0 1,0 -2.8,0zM160.6,84.2a1.4,1.4 0 1,0 2.8,0a1.4,1.4 0 1,0 -2.8,0zM163.1,91.64a1.4,1.4 0 1,0 2.8,0a1.4,1.4 0 1,0 -2.8,0zM165.6,92.98a1.4,1.4 0 1,0 2.8,0a1.4,1.4 0 1,0 -2.8,0zM168.1,92.21a1.4,1.4 0 1,0 2.8,0a1.4,1.4 0 1,0 -2.8,0zM170.6,91.52a1.4,1.4 0 1,0 2.8,0a1.4,1.4 0 1,0 -2.8,0zM173.1,91.38a1.4,1.4 0 1,0 2.8,0a1.4,1.4 0 1,0 -2.8,0zM175.6,92.19a1.4,1.4 0 1,0 2.8,0a1.4,1.4 0 1,0 -2.8,0zM178.1,94.8a1.4,1.4 0 1,0 2.8,0a1.4,1.4 0 1,0 -2.8,0zM180.6,98.83a1.4,1.4 0 1,0 2.8,0a1.4,1.4 0 1,0 -2.8,0zM183.1,103.28a1.4,1.4 0 1,0 2.8,0a1.4,1.4 0 1,0 -2.8,0zM185.6,107.43a1.4,1.4 0 1,0 2.8,0a1.4,1.4 0 1,0 -2.8,0zM188.1,110.63a1.4,1.4 0 1,0 2.8,0a1.4,1.4 0 1,0 -2.8,0zM190.6,112.79a1.4,1.4 0 1,0 2.8,0a1.4,1.4 0 1,0 -2.8,0zM193.1,114.27a1.4,1.4 0 1,0 2.8,0a1.4,1.4 0 1,0 -2.8,0zM195.6,115.18a1.4,1.4 0 1,0 2.8,0a1.4,1.4 0 1,0 -2.8,0zM198.1,115.85a1.4,1.4 0 1,0 2.8,0a1.4,1.4 0 1,0 -2.8,0zM200.6,116.46a1.4,1.4 0 1,0 2.8,0a1.4,1.4 0 1,0 -2.8,0zM203.1,116.94a1.4,1.4 0 1,0 2.8,0a1.4,1.4 0 1,0 -2.8,0zM205.6,117.2a1.4,1.4 0 1,0 2.8,0a1.4,1.4 0 1,0 -2.8,0zM208.1,117.42a1.4,1.4 0 1,0 2.8,0a1.4,1.4 0 1,0 -2.8,0zM210.6,117.58a1.4,1.4 0 1,0 2.8,0a1.4,1.4 0 1,0 -2.8,0zM213.1,117.69a1.4,1.4 0 1,0 2.8,0a1.4,1.4 0 1,0 -2.8,0zM215.6,117.74a1.4,1.4 0 1,0 2.8,0a1.4,1.4 0 1,0 -2.8,0zM218.1,117.78a1.4,1.4 0 1,0 2.8,0a1.4,1.4 0 1,0 -2.8,0zM220.6,117.82a1.4,1.4 0 1,0 2.8,0a1.4,1.4 0 1,0 -2.8,0zM223.1,117.85a1.4,1.4 0 1,0 2.8,0a1.4,1.4 0 1,0 -2.8,0zM225.6,117.87a1.4,1.4 0 1,0 2.8,0a1.4,1.4 0 1,0 -2.8,0zM228.1,117.9a1.4,1.4 0 1,0 2.8,0a1.4,1.4 0 1,0 -2.8,0zM230.6,117.92a1.4,1.4 0 1,0 2.8,0a1.4,1.4 0 1,0 -2.8,0zM233.1,117.95a1.4,1.4 0 1,0 2.8,0a1.4,1.4 0 1,0 -2.8,0zM235.6,117.97a1.4,1.4 0 1,0 2.8,0a1.4,1.4 0 1,0 -2.8,0zM238.1,118a1.4,1.4 0 1,0 2.8,0a1.4,1.4 0 1,0 -2.8,0z" fill="#000"/>
<rect x="39.5" y="0.5" width="200" height="159.8" fill="none" stroke="#6a6a6a" stroke-width="1"/>
<path d="M39.5,160.3v1.5M52,160.3v1.5M64.5,160.3v2.2M77,160.3v1.5M89.5,160.3v1.5M102,160.3v1.5M114.5,160.3v2.2M127,160.3v1.5M139.5,160.3v1.5M152,160.3v1.5M164.5,160.3v2.2M177,160.3v1.5M189.5,160.3v1.5M202,160.3v1.5M214.5,160.3v2.2M227,160.3v1.5M239.5,160.3v1.5" stroke="#6a6a6a" stroke-width="1"/>
<line x1="259.5" y1="124" x2="459.5" y2="125" stroke="#8a8a8a" stroke-width="0.9"/>
<path d="M259.5,135.8 L259.5,135.68 260.75,135.68 262,135.67 263.25,135.67 264.5,135.67 265.75,135.66 267,135.66 268.25,135.66 269.5,135.65 270.75,135.65 272,135.65 273.25,135.64 274.5,135.64 275.75,135.63 277,135.63 278.25,135.62 279.5,135.62 280.75,135.61 282,135.61 283.25,135.6 284.5,135.6 285.75,135.59 287,135.58 288.25,135.58 289.5,135.57 290.75,135.56 292,135.55 293.25,135.55 294.5,135.54 295.75,135.53 297,135.52 298.25,135.51 299.5,135.5 300.75,135.49 302,135.47 303.25,135.46 304.5,135.45 305.75,135.43 307,135.42 308.25,135.4 309.5,135.39 310.75,135.37 312,135.35 313.25,135.33 314.5,135.31 315.75,135.28 317,135.26 318.25,135.23 319.5,135.2 320.75,135.17 322,135.14 323.25,135.1 324.5,135.06 325.75,135.02 327,134.97 328.25,134.92 329.5,134.87 330.75,134.8 332,134.73 333.25,134.65 334.5,134.56 335.75,134.45 337,134.31 338.25,134.14 339.5,133.92 340.75,133.63 342,133.26 343.25,132.75 344.5,132.09 345.75,131.2 347,130.04 348.25,128.55 349.5,126.65 350.75,124.28 352,121.39 353.25,117.95 354.5,113.95 355.75,109.42 357,104.43 358.25,99.1 359.5,93.6 360.75,88.15 362,83 363.25,78.46 364.5,74.84 365.75,72.42 367,71.42 368.25,71.94 369.5,73.92 370.75,77.19 372,81.47 373.25,86.45 374.5,91.84 375.75,97.35 377,102.76 378.25,107.87 379.5,112.56 380.75,116.73 382,120.35 383.25,123.41 384.5,125.94 385.75,127.98 387,129.6 388.25,130.86 389.5,131.83 390.75,132.56 392,133.11 393.25,133.53 394.5,133.84 395.75,134.08 397,134.26 398.25,134.41 399.5,134.52 400.75,134.62 402,134.71 403.25,134.78 404.5,134.85 405.75,134.91 407,134.96 408.25,135.01 409.5,135.05 410.75,135.09 412,135.13 413.25,135.16 414.5,135.19 415.75,135.22 417,135.25 418.25,135.28 419.5,135.3 420.75,135.32 422,135.34 423.25,135.36 424.5,135.38 425.75,135.4 427,135.41 428.25,135.43 429.5,135.44 430.75,135.46 432,135.47 433.25,135.48 434.5,135.49 435.75,135.5 437,135.52 438.25,135.52 439.5,135.53 440.75,135.54 442,135.55 443.25,135.56 444.5,135.57 445.75,135.57 447,135.58 448.25,135.59 449.5,135.59 450.75,135.6 452,135.61 453.25,135.61 454.5,135.62 455.75,135.62 457,135.63 458.25,135.63 459.5,135.64 L459.5,135.8 Z" fill="#878787" stroke="#2a2a2a" stroke-width="0.6"/>
<path d="M259.5,135.8 L259.5,135.8 260.75,135.8 262,135.8 263.25,135.8 264.5,135.8 265.75,135.8 267,135.8 268.25,135.8 269.5,135.8 270.75,135.8 272,135.8 273.25,135.8 274.5,135.8 275.75,135.8 277,135.8 278.25,135.8 279.5,135.8 280.75,135.8 282,135.8 283.25,135.8 284.5,135.8 285.75,135.8 287,135.8 288.25,135.8 289.5,135.8 290.75,135.8 292,135.8 293.25,135.8 294.5,135.8 295.75,135.8 297,135.8 298.25,135.8 299.5,135.8 300.75,135.8 302,135.8 303.25,135.8 304.5,135.8 305.75,135.8 307,135.8 308.25,135.8 309.5,135.8 310.75,135.8 312,135.8 313.25,135.8 314.5,135.8 315.75,135.8 317,135.8 318.25,135.8 319.5,135.8 320.75,135.8 322,135.8 323.25,135.79 324.5,135.79 325.75,135.78 327,135.76 328.25,135.74 329.5,135.7 330.75,135.64 332,135.55 333.25,135.41 334.5,135.21 335.75,134.93 337,134.55 338.25,134.04 339.5,133.38 340.75,132.54 342,131.49 343.25,130.23 344.5,128.76 345.75,127.1 347,125.26 348.25,123.32 349.5,121.33 350.75,119.39 352,117.58 353.25,116.01 354.5,114.76 355.75,113.92 357,113.52 358.25,113.61 359.5,114.17 360.75,115.17 362,116.54 363.25,118.21 364.5,120.08 365.75,122.05 367,124.03 368.25,125.94 369.5,127.72 370.75,129.32 372,130.71 373.25,131.89 374.5,132.86 375.75,133.64 377,134.24 378.25,134.7 379.5,135.04 380.75,135.29 382,135.46 383.25,135.58 384.5,135.66 385.75,135.72 387,135.75 388.25,135.77 389.5,135.78 390.75,135.79 392,135.79 393.25,135.8 394.5,135.8 395.75,135.8 397,135.8 398.25,135.8 399.5,135.8 400.75,135.8 402,135.8 403.25,135.8 404.5,135.8 405.75,135.8 407,135.8 408.25,135.8 409.5,135.8 410.75,135.8 412,135.8 413.25,135.8 414.5,135.8 415.75,135.8 417,135.8 418.25,135.8 419.5,135.8 420.75,135.8 422,135.8 423.25,135.8 424.5,135.8 425.75,135.8 427,135.8 428.25,135.8 429.5,135.8 430.75,135.8 432,135.8 433.25,135.8 434.5,135.8 435.75,135.8 437,135.8 438.25,135.8 439.5,135.8 440.75,135.8 442,135.8 443.25,135.8 444.5,135.8 445.75,135.8 447,135.8 448.25,135.8 449.5,135.8 450.75,135.8 452,135.8 453.25,135.8 454.5,135.8 455.75,135.8 457,135.8 458.25,135.8 459.5,135.8 L459.5,135.8 Z" fill="#464646" stroke="#2a2a2a" stroke-width="0.6"/>
<path d="M259.5,135.8 L259.5,135.79 260.75,135.79 262,135.79 263.25,135.79 264.5,135.79 265.75,135.79 267,135.79 268.25,135.79 269.5,135.79 270.75,135.79 272,135.79 273.25,135.79 274.5,135.79 275.75,135.79 277,135.79 278.25,135.79 279.5,135.79 280.75,135.79 282,135.79 283.25,135.79 284.5,135.79 285.75,135.79 287,135.79 288.25,135.79 289.5,135.79 290.75,135.79 292,135.79 293.25,135.79 294.5,135.79 295.75,135.79 297,135.79 298.25,135.79 299.5,135.79 300.75,135.79 302,135.79 303.25,135.79 304.5,135.79 305.75,135.79 307,135.79 308.25,135.79 309.5,135.79 310.75,135.79 312,135.79 313.25,135.79 314.5,135.78 315.75,135.78 317,135.78 318.25,135.78 319.5,135.78 320.75,135.78 322,135.78 323.25,135.78 324.5,135.78 325.75,135.78 327,135.78 328.25,135.78 329.5,135.78 330.75,135.78 332,135.77 333.25,135.77 334.5,135.77 335.75,135.77 337,135.77 338.25,135.77 339.5,135.77 340.75,135.77 342,135.76 343.25,135.76 344.5,135.76 345.75,135.76 347,135.76 348.25,135.75 349.5,135.75 350.75,135.75 352,135.75 353.25,135.74 354.5,135.74 355.75,135.73 357,135.73 358.25,135.72 359.5,135.71 360.75,135.69 362,135.67 363.25,135.64 364.5,135.6 365.75,135.53 367,135.44 368.25,135.31 369.5,135.13 370.75,134.88 372,134.54 373.25,134.11 374.5,133.55 375.75,132.85 377,132 378.25,130.99 379.5,129.81 380.75,128.49 382,127.05 383.25,125.52 384.5,123.96 385.75,122.44 387,121.01 388.25,119.76 389.5,118.76 390.75,118.07 392,117.73 393.25,117.77 394.5,118.18 395.75,118.94 397,120 398.25,121.29 399.5,122.74 400.75,124.28 402,125.83 403.25,127.35 404.5,128.77 405.75,130.06 407,131.2 408.25,132.18 409.5,133 410.75,133.67 412,134.2 413.25,134.62 414.5,134.93 415.75,135.17 417,135.34 418.25,135.46 419.5,135.55 420.75,135.61 422,135.65 423.25,135.68 424.5,135.7 425.75,135.71 427,135.72 428.25,135.73 429.5,135.73 430.75,135.74 432,135.74 433.25,135.75 434.5,135.75 435.75,135.75 437,135.75 438.25,135.76 439.5,135.76 440.75,135.76 442,135.76 443.25,135.76 444.5,135.77 445.75,135.77 447,135.77 448.25,135.77 449.5,135.77 450.75,135.77 452,135.77 453.25,135.77 454.5,135.78 455.75,135.78 457,135.78 458.25,135.78 459.5,135.78 L459.5,135.8 Z" fill="#c8c8c8" stroke="#2a2a2a" stroke-width="0.6"/>
<path d="M259.5,135.8 L259.5,135.8 260.75,135.8 262,135.8 263.25,135.8 264.5,135.8 265.75,135.8 267,135.8 268.25,135.8 269.5,135.8 270.75,135.8 272,135.8 273.25,135.8 274.5,135.8 275.75,135.8 277,135.8 278.25,135.8 279.5,135.8 280.75,135.8 282,135.8 283.25,135.8 284.5,135.79 285.75,135.79 287,135.78 288.25,135.78 289.5,135.77 290.75,135.75 292,135.73 293.25,135.7 294.5,135.66 295.75,135.6 297,135.53 298.25,135.44 299.5,135.32 300.75,135.17 302,134.99 303.25,134.77 304.5,134.5 305.75,134.17 307,133.8 308.25,133.37 309.5,132.88 310.75,132.34 312,131.76 313.25,131.13 314.5,130.47 315.75,129.79 317,129.11 318.25,128.45 319.5,127.83 320.75,127.25 322,126.76 323.25,126.35 324.5,126.05 325.75,125.86 327,125.8 328.25,125.86 329.5,126.05 330.75,126.35 332,126.76 333.25,127.25 334.5,127.83 335.75,128.45 337,129.11 338.25,129.79 339.5,130.47 340.75,131.13 342,131.76 343.25,132.34 344.5,132.88 345.75,133.37 347,133.8 348.25,134.17 349.5,134.5 350.75,134.77 352,134.99 353.25,135.18 354.5,135.32 355.75,135.44 357,135.53 358.25,135.6 359.5,135.66 360.75,135.7 362,135.73 363.25,135.75 364.5,135.77 365.75,135.78 367,135.78 368.25,135.79 369.5,135.79 370.75,135.8 372,135.8 373.25,135.8 374.5,135.8 375.75,135.8 377,135.8 378.25,135.8 379.5,135.8 380.75,135.8 382,135.8 383.25,135.8 384.5,135.8 385.75,135.8 387,135.8 388.25,135.8 389.5,135.8 390.75,135.8 392,135.8 393.25,135.8 394.5,135.8 395.75,135.8 397,135.8 398.25,135.8 399.5,135.8 400.75,135.8 402,135.8 403.25,135.8 404.5,135.8 405.75,135.8 407,135.8 408.25,135.8 409.5,135.8 410.75,135.8 412,135.8 413.25,135.8 414.5,135.8 415.75,135.8 417,135.8 418.25,135.8 419.5,135.8 420.75,135.8 422,135.8 423.25,135.8 424.5,135.8 425.75,135.8 427,135.8 428.25,135.8 429.5,135.8 430.75,135.8 432,135.8 433.25,135.8 434.5,135.8 435.75,135.8 437,135.8 438.25,135.8 439.5,135.8 440.75,135.8 442,135.8 443.25,135.8 444.5,135.8 445.75,135.8 447,135.8 448.25,135.8 449.5,135.8 450.75,135.8 452,135.8 453.25,135.8 454.5,135.8 455.75,135.8 457,135.8 458.25,135.8 459.5,135.8 L459.5,135.8 Z" fill="#7f0000" stroke="#2a2a2a" stroke-width="0.6"/>
<path d="M259.5,135.8 L259.5,135.8 260.75,135.8 262,135.8 263.25,135.8 264.5,135.8 265.75,135.8 267,135.8 268.25,135.8 269.5,135.8 270.75,135.8 272,135.8 273.25,135.8 274.5,135.8 275.75,135.8 277,135.8 278.25,135.8 279.5,135.8 280.75,135.8 282,135.8 283.25,135.8 284.5,135.8 285.75,135.8 287,135.8 288.25,135.8 289.5,135.8 290.75,135.8 292,135.8 293.25,135.8 294.5,135.8 295.75,135.8 297,135.8 298.25,135.8 299.5,135.8 300.75,135.8 302,135.8 303.25,135.8 304.5,135.8 305.75,135.8 307,135.8 308.25,135.8 309.5,135.8 310.75,135.8 312,135.8 313.25,135.79 314.5,135.79 315.75,135.77 317,135.75 318.25,135.72 319.5,135.66 320.75,135.56 322,135.42 323.25,135.19 324.5,134.87 325.75,134.4 327,133.74 328.25,132.84 329.5,131.66 330.75,130.15 332,128.25 333.25,125.97 334.5,123.3 335.75,120.27 337,116.98 338.25,113.52 339.5,110.06 340.75,106.77 342,103.83 343.25,101.42 344.5,99.71 345.75,98.82 347,98.8 348.25,99.66 349.5,101.34 350.75,103.72 352,106.64 353.25,109.93 354.5,113.39 355.75,116.84 357,120.15 358.25,123.18 359.5,125.87 360.75,128.17 362,130.08 363.25,131.61 364.5,132.8 365.75,133.71 367,134.37 368.25,134.85 369.5,135.18 370.75,135.41 372,135.56 373.25,135.65 374.5,135.71 375.75,135.75 377,135.77 378.25,135.78 379.5,135.79 380.75,135.8 382,135.8 383.25,135.8 384.5,135.8 385.75,135.8 387,135.8 388.25,135.8 389.5,135.8 390.75,135.8 392,135.8 393.25,135.8 394.5,135.8 395.75,135.8 397,135.8 398.25,135.8 399.5,135.8 400.75,135.8 402,135.8 403.25,135.8 404.5,135.8 405.75,135.8 407,135.8 408.25,135.8 409.5,135.8 410.75,135.8 412,135.8 413.25,135.8 414.5,135.8 415.75,135.8 417,135.8 418.25,135.8 419.5,135.8 420.75,135.8 422,135.8 423.25,135.8 424.5,135.8 425.75,135.8 427,135.8 428.25,135.8 429.5,135.8 430.75,135.8 432,135.8 433.25,135.8 434.5,135.8 435.75,135.8 437,135.8 438.25,135.8 439.5,135.8 440.75,135.8 442,135.8 443.25,135.8 444.5,135.8 445.75,135.8 447,135.8 448.25,135.8 449.5,135.8 450.75,135.8 452,135.8 453.25,135.8 454.5,135.8 455.75,135.8 457,135.8 458.25,135.8 459.5,135.8 L459.5,135.8 Z" fill="#ff8400" stroke="#2a2a2a" stroke-width="0.6"/>
<line x1="259.5" y1="135.8" x2="459.5" y2="135.8" stroke="#707070" stroke-width="1"/>
<polyline points="259.5,123.7 262,123.67 264.5,123.63 267,123.6 269.5,123.57 272,123.54 274.5,123.5 277,123.46 279.5,123.41 282,123.35 284.5,123.29 287,123.21 289.5,123.12 292,123 294.5,122.86 297,122.6 299.5,122.01 302,121.45 304.5,120.82 307,120.1 309.5,119.25 312,118.05 314.5,116.47 317,114.8 319.5,112.6 322,110 324.5,107.58 327,105.21 329.5,102.34 332,99.33 334.5,94.82 337,89.15 339.5,82.23 342,75.55 344.5,69.8 347,63.9 349.5,59.57 352,55.7 354.5,51.57 357,47.08 359.5,42.5 362,38.92 364.5,37.6 367,40.28 369.5,46.5 372,57.8 374.5,69.64 377,79.72 379.5,88.6 382,94.9 384.5,98.24 387,99.69 389.5,100.35 392,101.43 394.5,103.15 397,105.58 399.5,108.6 402,112.22 404.5,115.59 407,117.83 409.5,119.84 412,121.09 414.5,121.89 417,122.38 419.5,122.75 422,122.98 424.5,123.18 427,123.34 429.5,123.48 432,123.59 434.5,123.69 437,123.79 439.5,123.87 442,123.96 444.5,124.04 447,124.11 449.5,124.19 452,124.26 454.5,124.34 457,124.42 459.5,124.5" fill="none" stroke="#000" stroke-width="0.8"/>
<path d="M258.1,123.7a1.4,1.4 0 1,0 2.8,0a1.4,1.4 0 1,0 -2.8,0zM260.6,123.67a1.4,1.4 0 1,0 2.8,0a1.4,1.4 0 1,0 -2.8,0zM263.1,123.63a1.4,1.4 0 1,0 2.8,0a1.4,1.4 0 1,0 -2.8,0zM265.6,123.6a1.4,1.4 0 1,0 2.8,0a1.4,1.4 0 1,0 -2.8,0zM268.1,123.57a1.4,1.4 0 1,0 2.8,0a1.4,1.4 0 1,0 -2.8,0zM270.6,123.54a1.4,1.4 0 1,0 2.8,0a1.4,1.4 0 1,0 -2.8,0zM273.1,123.5a1.4,1.4 0 1,0 2.8,0a1.4,1.4 0 1,0 -2.8,0zM275.6,123.46a1.4,1.4 0 1,0 2.8,0a1.4,1.4 0 1,0 -2.8,0zM278.1,123.41a1.4,1.4 0 1,0 2.8,0a1.4,1.4 0 1,0 -2.8,0zM280.6,123.35a1.4,1.4 0 1,0 2.8,0a1.4,1.4 0 1,0 -2.8,0zM283.1,123.29a1.4,1.4 0 1,0 2.8,0a1.4,1.4 0 1,0 -2.8,0zM285.6,123.21a1.4,1.4 0 1,0 2.8,0a1.4,1.4 0 1,0 -2.8,0zM288.1,123.12a1.4,1.4 0 1,0 2.8,0a1.4,1.4 0 1,0 -2.8,0zM290.6,123a1.4,1.4 0 1,0 2.8,0a1.4,1.4 0 1,0 -2.8,0zM293.1,122.86a1.4,1.4 0 1,0 2.8,0a1.4,1.4 0 1,0 -2.8,0zM295.6,122.6a1.4,1.4 0 1,0 2.8,0a1.4,1.4 0 1,0 -2.8,0zM298.1,122.01a1.4,1.4 0 1,0 2.8,0a1.4,1.4 0 1,0 -2.8,0zM300.6,121.45a1.4,1.4 0 1,0 2.8,0a1.4,1.4 0 1,0 -2.8,0zM303.1,120.82a1.4,1.4 0 1,0 2.8,0a1.4,1.4 0 1,0 -2.8,0zM305.6,120.1a1.4,1.4 0 1,0 2.8,0a1.4,1.4 0 1,0 -2.8,0zM308.1,119.25a1.4,1.4 0 1,0 2.8,0a1.4,1.4 0 1,0 -2.8,0zM310.6,118.05a1.4,1.4 0 1,0 2.8,0a1.4,1.4 0 1,0 -2.8,0zM313.1,116.47a1.4,1.4 0 1,0 2.8,0a1.4,1.4 0 1,0 -2.8,0zM315.6,114.8a1.4,1.4 0 1,0 2.8,0a1.4,1.4 0 1,0 -2.8,0zM318.1,112.6a1.4,1.4 0 1,0 2.8,0a1.4,1.4 0 1,0 -2.8,0zM320.6,110a1.4,1.4 0 1,0 2.8,0a1.4,1.4 0 1,0 -2.8,0zM323.1,107.58a1.4,1.4 0 1,0 2.8,0a1.4,1.4 0 1,0 -2.8,0zM325.6,105.21a1.4,1.4 0 1,0 2.8,0a1.4,1.4 0 1,0 -2.8,0zM328.1,102.34a1.4,1.4 0 1,0 2.8,0a1.4,1.4 0 1,0 -2.8,0zM330.6,99.33a1.4,1.4 0 1,0 2.8,0a1.4,1.4 0 1,0 -2.8,0zM333.1,94.82a1.4,1.4 0 1,0 2.8,0a1.4,1.4 0 1,0 -2.8,0zM335.6,89.15a1.4,1.4 0 1,0 2.8,0a1.4,1.4 0 1,0 -2.8,0zM338.1,82.23a1.4,1.4 0 1,0 2.8,0a1.4,1.4 0 1,0 -2.8,0zM340.6,75.55a1.4,1.4 0 1,0 2.8,0a1.4,1.4 0 1,0 -2.8,0zM343.1,69.8a1.4,1.4 0 1,0 2.8,0a1.4,1.4 0 1,0 -2.8,0zM345.6,63.9a1.4,1.4 0 1,0 2.8,0a1.4,1.4 0 1,0 -2.8,0zM348.1,59.57a1.4,1.4 0 1,0 2.8,0a1.4,1.4 0 1,0 -2.8,0zM350.6,55.7a1.4,1.4 0 1,0 2.8,0a1.4,1.4 0 1,0 -2.8,0zM353.1,51.57a1.4,1.4 0 1,0 2.8,0a1.4,1.4 0 1,0 -2.8,0zM355.6,47.08a1.4,1.4 0 1,0 2.8,0a1.4,1.4 0 1,0 -2.8,0zM358.1,42.5a1.4,1.4 0 1,0 2.8,0a1.4,1.4 0 1,0 -2.8,0zM360.6,38.92a1.4,1.4 0 1,0 2.8,0a1.4,1.4 0 1,0 -2.8,0zM363.1,37.6a1.4,1.4 0 1,0 2.8,0a1.4,1.4 0 1,0 -2.8,0zM365.6,40.28a1.4,1.4 0 1,0 2.8,0a1.4,1.4 0 1,0 -2.8,0zM368.1,46.5a1.4,1.4 0 1,0 2.8,0a1.4,1.4 0 1,0 -2.8,0zM370.6,57.8a1.4,1.4 0 1,0 2.8,0a1.4,1.4 0 1,0 -2.8,0zM373.1,69.64a1.4,1.4 0 1,0 2.8,0a1.4,1.4 0 1,0 -2.8,0zM375.6,79.72a1.4,1.4 0 1,0 2.8,0a1.4,1.4 0 1,0 -2.8,0zM378.1,88.6a1.4,1.4 0 1,0 2.8,0a1.4,1.4 0 1,0 -2.8,0zM380.6,94.9a1.4,1.4 0 1,0 2.8,0a1.4,1.4 0 1,0 -2.8,0zM383.1,98.24a1.4,1.4 0 1,0 2.8,0a1.4,1.4 0 1,0 -2.8,0zM385.6,99.69a1.4,1.4 0 1,0 2.8,0a1.4,1.4 0 1,0 -2.8,0zM388.1,100.35a1.4,1.4 0 1,0 2.8,0a1.4,1.4 0 1,0 -2.8,0zM390.6,101.43a1.4,1.4 0 1,0 2.8,0a1.4,1.4 0 1,0 -2.8,0zM393.1,103.15a1.4,1.4 0 1,0 2.8,0a1.4,1.4 0 1,0 -2.8,0zM395.6,105.58a1.4,1.4 0 1,0 2.8,0a1.4,1.4 0 1,0 -2.8,0zM398.1,108.6a1.4,1.4 0 1,0 2.8,0a1.4,1.4 0 1,0 -2.8,0zM400.6,112.22a1.4,1.4 0 1,0 2.8,0a1.4,1.4 0 1,0 -2.8,0zM403.1,115.59a1.4,1.4 0 1,0 2.8,0a1.4,1.4 0 1,0 -2.8,0zM405.6,117.83a1.4,1.4 0 1,0 2.8,0a1.4,1.4 0 1,0 -2.8,0zM408.1,119.84a1.4,1.4 0 1,0 2.8,0a1.4,1.4 0 1,0 -2.8,0zM410.6,121.09a1.4,1.4 0 1,0 2.8,0a1.4,1.4 0 1,0 -2.8,0zM413.1,121.89a1.4,1.4 0 1,0 2.8,0a1.4,1.4 0 1,0 -2.8,0zM415.6,122.38a1.4,1.4 0 1,0 2.8,0a1.4,1.4 0 1,0 -2.8,0zM418.1,122.75a1.4,1.4 0 1,0 2.8,0a1.4,1.4 0 1,0 -2.8,0zM420.6,122.98a1.4,1.4 0 1,0 2.8,0a1.4,1.4 0 1,0 -2.8,0zM423.1,123.18a1.4,1.4 0 1,0 2.8,0a1.4,1.4 0 1,0 -2.8,0zM425.6,123.34a1.4,1.4 0 1,0 2.8,0a1.4,1.4 0 1,0 -2.8,0zM428.1,123.48a1.4,1.4 0 1,0 2.8,0a1.4,1.4 0 1,0 -2.8,0zM430.6,123.59a1.4,1.4 0 1,0 2.8,0a1.4,1.4 0 1,0 -2.8,0zM433.1,123.69a1.4,1.4 0 1,0 2.8,0a1.4,1.4 0 1,0 -2.8,0zM435.6,123.79a1.4,1.4 0 1,0 2.8,0a1.4,1.4 0 1,0 -2.8,0zM438.1,123.87a1.4,1.4 0 1,0 2.8,0a1.4,1.4 0 1,0 -2.8,0zM440.6,123.96a1.4,1.4 0 1,0 2.8,0a1.4,1.4 0 1,0 -2.8,0zM443.1,124.04a1.4,1.4 0 1,0 2.8,0a1.4,1.4 0 1,0 -2.8,0zM445.6,124.11a1.4,1.4 0 1,0 2.8,0a1.4,1.4 0 1,0 -2.8,0zM448.1,124.19a1.4,1.4 0 1,0 2.8,0a1.4,1.4 0 1,0 -2.8,0zM450.6,124.26a1.4,1.4 0 1,0 2.8,0a1.4,1.4 0 1,0 -2.8,0zM453.1,124.34a1.4,1.4 0 1,0 2.8,0a1.4,1.4 0 1,0 -2.8,0zM455.6,124.42a1.4,1.4 0 1,0 2.8,0a1.4,1.4 0 1,0 -2.8,0zM458.1,124.5a1.4,1.4 0 1,0 2.8,0a1.4,1.4 0 1,0 -2.8,0z" fill="#000"/>
<rect x="259.5" y="0.5" width="200" height="159.8" fill="none" stroke="#6a6a6a" stroke-width="1"/>
<path d="M259.5,160.3v1.5M272,160.3v1.5M284.5,160.3v2.2M297,160.3v1.5M309.5,160.3v1.5M322,160.3v1.5M334.5,160.3v2.2M347,160.3v1.5M359.5,160.3v1.5M372,160.3v1.5M384.5,160.3v2.2M397,160.3v1.5M409.5,160.3v1.5M422,160.3v1.5M434.5,160.3v2.2M447,160.3v1.5M459.5,160.3v1.5" stroke="#6a6a6a" stroke-width="1"/>
<line x1="479.5" y1="119.8" x2="679.5" y2="125.3" stroke="#8a8a8a" stroke-width="0.9"/>
<path d="M479.5,135.8 L479.5,135.7 480.75,135.7 482,135.7 483.25,135.7 484.5,135.7 485.75,135.69 487,135.69 488.25,135.69 489.5,135.69 490.75,135.68 492,135.68 493.25,135.68 494.5,135.67 495.75,135.67 497,135.67 498.25,135.66 499.5,135.66 500.75,135.65 502,135.65 503.25,135.65 504.5,135.64 505.75,135.64 507,135.63 508.25,135.63 509.5,135.62 510.75,135.61 512,135.61 513.25,135.6 514.5,135.6 515.75,135.59 517,135.58 518.25,135.57 519.5,135.57 520.75,135.56 522,135.55 523.25,135.54 524.5,135.53 525.75,135.52 527,135.51 528.25,135.49 529.5,135.48 530.75,135.47 532,135.45 533.25,135.44 534.5,135.42 535.75,135.4 537,135.38 538.25,135.36 539.5,135.34 540.75,135.32 542,135.29 543.25,135.27 544.5,135.24 545.75,135.21 547,135.17 548.25,135.13 549.5,135.09 550.75,135.05 552,135 553.25,134.94 554.5,134.88 555.75,134.81 557,134.74 558.25,134.64 559.5,134.54 560.75,134.41 562,134.24 563.25,134.02 564.5,133.73 565.75,133.34 567,132.8 568.25,132.06 569.5,131.05 570.75,129.69 572,127.89 573.25,125.57 574.5,122.64 575.75,119.04 577,114.76 578.25,109.82 579.5,104.31 580.75,98.4 582,92.33 583.25,86.4 584.5,80.99 585.75,76.53 587,73.41 588.25,71.97 589.5,72.38 590.75,74.59 592,78.35 593.25,83.28 594.5,88.97 595.75,95 597,101.04 598.25,106.8 599.5,112.07 600.75,116.73 602,120.71 603.25,124.01 604.5,126.66 605.75,128.74 607,130.34 608.25,131.53 609.5,132.41 610.75,133.06 612,133.53 613.25,133.87 614.5,134.13 615.75,134.32 617,134.47 618.25,134.59 619.5,134.69 620.75,134.77 622,134.84 623.25,134.91 624.5,134.97 625.75,135.02 627,135.07 628.25,135.11 629.5,135.15 630.75,135.19 632,135.22 633.25,135.25 634.5,135.28 635.75,135.31 637,135.33 638.25,135.35 639.5,135.37 640.75,135.39 642,135.41 643.25,135.43 644.5,135.44 645.75,135.46 647,135.47 648.25,135.49 649.5,135.5 650.75,135.51 652,135.52 653.25,135.53 654.5,135.54 655.75,135.55 657,135.56 658.25,135.57 659.5,135.58 660.75,135.58 662,135.59 663.25,135.6 664.5,135.61 665.75,135.61 667,135.62 668.25,135.62 669.5,135.63 670.75,135.63 672,135.64 673.25,135.64 674.5,135.65 675.75,135.65 677,135.66 678.25,135.66 679.5,135.66 L679.5,135.8 Z" fill="#878787" stroke="#2a2a2a" stroke-width="0.6"/>
<path d="M479.5,135.8 L479.5,135.8 480.75,135.8 482,135.8 483.25,135.8 484.5,135.8 485.75,135.8 487,135.8 488.25,135.8 489.5,135.8 490.75,135.8 492,135.8 493.25,135.8 494.5,135.8 495.75,135.8 497,135.8 498.25,135.8 499.5,135.8 500.75,135.8 502,135.8 503.25,135.8 504.5,135.8 505.75,135.8 507,135.8 508.25,135.8 509.5,135.8 510.75,135.8 512,135.8 513.25,135.8 514.5,135.8 515.75,135.8 517,135.8 518.25,135.8 519.5,135.8 520.75,135.8 522,135.8 523.25,135.8 524.5,135.8 525.75,135.8 527,135.8 528.25,135.8 529.5,135.8 530.75,135.8 532,135.8 533.25,135.8 534.5,135.8 535.75,135.8 537,135.8 538.25,135.8 539.5,135.8 540.75,135.8 542,135.8 543.25,135.79 544.5,135.79 545.75,135.78 547,135.77 548.25,135.74 549.5,135.7 550.75,135.63 552,135.52 553.25,135.36 554.5,135.11 555.75,134.75 557,134.24 558.25,133.54 559.5,132.61 560.75,131.41 562,129.89 563.25,128.05 564.5,125.88 565.75,123.41 567,120.71 568.25,117.86 569.5,114.99 570.75,112.24 572,109.79 573.25,107.78 574.5,106.35 575.75,105.6 577,105.59 578.25,106.31 579.5,107.71 580.75,109.7 582,112.14 583.25,114.87 584.5,117.74 585.75,120.59 587,123.31 588.25,125.79 589.5,127.97 590.75,129.83 592,131.35 593.25,132.57 594.5,133.51 595.75,134.22 597,134.73 598.25,135.1 599.5,135.35 600.75,135.52 602,135.63 603.25,135.7 604.5,135.74 605.75,135.77 607,135.78 608.25,135.79 609.5,135.79 610.75,135.8 612,135.8 613.25,135.8 614.5,135.8 615.75,135.8 617,135.8 618.25,135.8 619.5,135.8 620.75,135.8 622,135.8 623.25,135.8 624.5,135.8 625.75,135.8 627,135.8 628.25,135.8 629.5,135.8 630.75,135.8 632,135.8 633.25,135.8 634.5,135.8 635.75,135.8 637,135.8 638.25,135.8 639.5,135.8 640.75,135.8 642,135.8 643.25,135.8 644.5,135.8 645.75,135.8 647,135.8 648.25,135.8 649.5,135.8 650.75,135.8 652,135.8 653.25,135.8 654.5,135.8 655.75,135.8 657,135.8 658.25,135.8 659.5,135.8 660.75,135.8 662,135.8 663.25,135.8 664.5,135.8 665.75,135.8 667,135.8 668.25,135.8 669.5,135.8 670.75,135.8 672,135.8 673.25,135.8 674.5,135.8 675.75,135.8 677,135.8 678.25,135.8 679.5,135.8 L679.5,135.8 Z" fill="#464646" stroke="#2a2a2a" stroke-width="0.6"/>
<path d="M479.5,135.8 L479.5,135.8 480.75,135.8 482,135.8 483.25,135.8 484.5,135.8 485.75,135.8 487,135.8 488.25,135.8 489.5,135.8 490.75,135.8 492,135.8 493.25,135.8 494.5,135.8 495.75,135.79 497,135.79 498.25,135.79 499.5,135.79 500.75,135.79 502,135.79 503.25,135.79 504.5,135.79 505.75,135.79 507,135.79 508.25,135.79 509.5,135.79 510.75,135.79 512,135.79 513.25,135.79 514.5,135.79 515.75,135.79 517,135.79 518.25,135.79 519.5,135.79 520.75,135.79 522,135.79 523.25,135.79 524.5,135.79 525.75,135.79 527,135.79 528.25,135.79 529.5,135.79 530.75,135.79 532,135.79 533.25,135.79 534.5,135.79 535.75,135.79 537,135.79 538.25,135.79 539.5,135.79 540.75,135.79 542,135.79 543.25,135.79 544.5,135.79 545.75,135.78 547,135.78 548.25,135.78 549.5,135.78 550.75,135.78 552,135.78 553.25,135.78 554.5,135.78 555.75,135.78 557,135.78 558.25,135.78 559.5,135.78 560.75,135.78 562,135.77 563.25,135.77 564.5,135.77 565.75,135.77 567,135.77 568.25,135.77 569.5,135.77 570.75,135.76 572,135.76 573.25,135.76 574.5,135.76 575.75,135.75 577,135.75 578.25,135.75 579.5,135.74 580.75,135.74 582,135.73 583.25,135.73 584.5,135.72 585.75,135.7 587,135.68 588.25,135.65 589.5,135.6 590.75,135.52 592,135.41 593.25,135.24 594.5,135 595.75,134.66 597,134.2 598.25,133.58 599.5,132.79 600.75,131.8 602,130.61 603.25,129.22 604.5,127.66 605.75,125.98 607,124.26 608.25,122.58 609.5,121.04 610.75,119.75 612,118.8 613.25,118.29 614.5,118.24 615.75,118.66 617,119.53 618.25,120.75 619.5,122.25 620.75,123.92 622,125.64 623.25,127.33 624.5,128.92 625.75,130.34 627,131.58 628.25,132.61 629.5,133.44 630.75,134.09 632,134.58 633.25,134.94 634.5,135.2 635.75,135.38 637,135.5 638.25,135.58 639.5,135.64 640.75,135.67 642,135.7 643.25,135.71 644.5,135.72 645.75,135.73 647,135.74 648.25,135.74 649.5,135.75 650.75,135.75 652,135.75 653.25,135.76 654.5,135.76 655.75,135.76 657,135.76 658.25,135.77 659.5,135.77 660.75,135.77 662,135.77 663.25,135.77 664.5,135.77 665.75,135.77 667,135.78 668.25,135.78 669.5,135.78 670.75,135.78 672,135.78 673.25,135.78 674.5,135.78 675.75,135.78 677,135.78 678.25,135.78 679.5,135.78 L679.5,135.8 Z" fill="#c8c8c8" stroke="#2a2a2a" stroke-width="0.6"/>
<path d="M479.5,135.8 L479.5,135.8 480.75,135.8 482,135.8 483.25,135.8 484.5,135.8 485.75,135.8 487,135.8 488.25,135.8 489.5,135.8 490.75,135.8 492,135.8 493.25,135.8 494.5,135.8 495.75,135.8 497,135.8 498.25,135.8 499.5,135.8 500.75,135.8 502,135.8 503.25,135.79 504.5,135.79 505.75,135.79 507,135.78 508.25,135.77 509.5,135.76 510.75,135.74 512,135.72 513.25,135.69 514.5,135.64 515.75,135.58 517,135.5 518.25,135.4 519.5,135.27 520.75,135.1 522,134.89 523.25,134.63 524.5,134.31 525.75,133.94 527,133.49 528.25,132.98 529.5,132.38 530.75,131.71 532,130.97 533.25,130.17 534.5,129.3 535.75,128.39 537,127.45 538.25,126.51 539.5,125.58 540.75,124.69 542,123.87 543.25,123.13 544.5,122.52 545.75,122.03 547,121.69 548.25,121.52 549.5,121.52 550.75,121.68 552,122.01 553.25,122.49 554.5,123.11 555.75,123.84 557,124.66 558.25,125.54 559.5,126.47 560.75,127.42 562,128.35 563.25,129.27 564.5,130.13 565.75,130.94 567,131.69 568.25,132.36 569.5,132.95 570.75,133.47 572,133.92 573.25,134.3 574.5,134.62 575.75,134.88 577,135.09 578.25,135.26 579.5,135.39 580.75,135.5 582,135.58 583.25,135.64 584.5,135.68 585.75,135.72 587,135.74 588.25,135.76 589.5,135.77 590.75,135.78 592,135.79 593.25,135.79 594.5,135.79 595.75,135.8 597,135.8 598.25,135.8 599.5,135.8 600.75,135.8 602,135.8 603.25,135.8 604.5,135.8 605.75,135.8 607,135.8 608.25,135.8 609.5,135.8 610.75,135.8 612,135.8 613.25,135.8 614.5,135.8 615.75,135.8 617,135.8 618.25,135.8 619.5,135.8 620.75,135.8 622,135.8 623.25,135.8 624.5,135.8 625.75,135.8 627,135.8 628.25,135.8 629.5,135.8 630.75,135.8 632,135.8 633.25,135.8 634.5,135.8 635.75,135.8 637,135.8 638.25,135.8 639.5,135.8 640.75,135.8 642,135.8 643.25,135.8 644.5,135.8 645.75,135.8 647,135.8 648.25,135.8 649.5,135.8 650.75,135.8 652,135.8 653.25,135.8 654.5,135.8 655.75,135.8 657,135.8 658.25,135.8 659.5,135.8 660.75,135.8 662,135.8 663.25,135.8 664.5,135.8 665.75,135.8 667,135.8 668.25,135.8 669.5,135.8 670.75,135.8 672,135.8 673.25,135.8 674.5,135.8 675.75,135.8 677,135.8 678.25,135.8 679.5,135.8 L679.5,135.8 Z" fill="#7f0000" stroke="#2a2a2a" stroke-width="0.6"/>
<path d="M479.5,135.8 L479.5,135.8 480.75,135.8 482,135.8 483.25,135.8 484.5,135.8 485.75,135.8 487,135.8 488.25,135.8 489.5,135.8 490.75,135.8 492,135.8 493.25,135.8 494.5,135.8 495.75,135.8 497,135.8 498.25,135.8 499.5,135.8 500.75,135.8 502,135.8 503.25,135.8 504.5,135.8 505.75,135.8 507,135.8 508.25,135.8 509.5,135.8 510.75,135.8 512,135.8 513.25,135.8 514.5,135.8 515.75,135.8 517,135.8 518.25,135.8 519.5,135.8 520.75,135.8 522,135.8 523.25,135.8 524.5,135.8 525.75,135.8 527,135.8 528.25,135.8 529.5,135.8 530.75,135.8 532,135.8 533.25,135.8 534.5,135.79 535.75,135.79 537,135.78 538.25,135.76 539.5,135.72 540.75,135.66 542,135.55 543.25,135.39 544.5,135.13 545.75,134.74 547,134.16 548.25,133.33 549.5,132.19 550.75,130.65 552,128.66 553.25,126.15 554.5,123.1 555.75,119.53 557,115.51 558.25,111.16 559.5,106.67 560.75,102.27 562,98.22 563.25,94.8 564.5,92.24 565.75,90.75 567,90.43 568.25,91.32 569.5,93.35 570.75,96.35 572,100.1 573.25,104.35 574.5,108.83 575.75,113.27 577,117.49 578.25,121.3 579.5,124.63 580.75,127.42 582,129.68 583.25,131.44 584.5,132.78 585.75,133.77 587,134.46 588.25,134.95 589.5,135.27 590.75,135.48 592,135.61 593.25,135.69 594.5,135.74 595.75,135.77 597,135.78 598.25,135.79 599.5,135.8 600.75,135.8 602,135.8 603.25,135.8 604.5,135.8 605.75,135.8 607,135.8 608.25,135.8 609.5,135.8 610.75,135.8 612,135.8 613.25,135.8 614.5,135.8 615.75,135.8 617,135.8 618.25,135.8 619.5,135.8 620.75,135.8 622,135.8 623.25,135.8 624.5,135.8 625.75,135.8 627,135.8 628.25,135.8 629.5,135.8 630.75,135.8 632,135.8 633.25,135.8 634.5,135.8 635.75,135.8 637,135.8 638.25,135.8 639.5,135.8 640.75,135.8 642,135.8 643.25,135.8 644.5,135.8 645.75,135.8 647,135.8 648.25,135.8 649.5,135.8 650.75,135.8 652,135.8 653.25,135.8 654.5,135.8 655.75,135.8 657,135.8 658.25,135.8 659.5,135.8 660.75,135.8 662,135.8 663.25,135.8 664.5,135.8 665.75,135.8 667,135.8 668.25,135.8 669.5,135.8 670.75,135.8 672,135.8 673.25,135.8 674.5,135.8 675.75,135.8 677,135.8 678.25,135.8 679.5,135.8 L679.5,135.8 Z" fill="#ff8400" stroke="#2a2a2a" stroke-width="0.6"/>
<line x1="479.5" y1="135.8" x2="679.5" y2="135.8" stroke="#707070" stroke-width="1"/>
<polyline points="479.5,118.6 482,118.58 484.5,118.55 487,118.53 489.5,118.51 492,118.49 494.5,118.46 497,118.44 499.5,118.41 502,118.37 504.5,118.34 507,118.29 509.5,118.25 512,118.2 514.5,118.14 517,118.08 519.5,118.01 522,117.93 524.5,117.77 527,117.31 529.5,116.23 532,114.73 534.5,112.98 537,110.4 539.5,107.52 542,104.52 544.5,101.43 547,97.7 549.5,94.9 552,91.7 554.5,87.8 557,81.4 559.5,72.59 562,65.77 564.5,58.1 567,52.1 569.5,48.2 572,45.9 574.5,44.65 577,43.36 579.5,41.71 582,39.94 584.5,38.04 587,40.12 589.5,45.08 592,54.9 594.5,65.06 597,77.24 599.5,87.94 602,95.7 604.5,99.8 607,101.6 609.5,102.3 612,102.3 614.5,102.55 617,103.56 619.5,107.1 622,111.4 624.5,114.68 627,117.31 629.5,119.43 632,121.05 634.5,122.16 637,122.75 639.5,123.15 642,123.39 644.5,123.58 647,123.74 649.5,123.88 652,123.99 654.5,124.1 657,124.21 659.5,124.3 662,124.4 664.5,124.48 667,124.57 669.5,124.65 672,124.74 674.5,124.82 677,124.91 679.5,125" fill="none" stroke="#000" stroke-width="0.8"/>
<path d="M478.1,118.6a1.4,1.4 0 1,0 2.8,0a1.4,1.4 0 1,0 -2.8,0zM480.6,118.58a1.4,1.4 0 1,0 2.8,0a1.4,1.4 0 1,0 -2.8,0zM483.1,118.55a1.4,1.4 0 1,0 2.8,0a1.4,1.4 0 1,0 -2.8,0zM485.6,118.53a1.4,1.4 0 1,0 2.8,0a1.4,1.4 0 1,0 -2.8,0zM488.1,118.51a1.4,1.4 0 1,0 2.8,0a1.4,1.4 0 1,0 -2.8,0zM490.6,118.49a1.4,1.4 0 1,0 2.8,0a1.4,1.4 0 1,0 -2.8,0zM493.1,118.46a1.4,1.4 0 1,0 2.8,0a1.4,1.4 0 1,0 -2.8,0zM495.6,118.44a1.4,1.4 0 1,0 2.8,0a1.4,1.4 0 1,0 -2.8,0zM498.1,118.41a1.4,1.4 0 1,0 2.8,0a1.4,1.4 0 1,0 -2.8,0zM500.6,118.37a1.4,1.4 0 1,0 2.8,0a1.4,1.4 0 1,0 -2.8,0zM503.1,118.34a1.4,1.4 0 1,0 2.8,0a1.4,1.4 0 1,0 -2.8,0zM505.6,118.29a1.4,1.4 0 1,0 2.8,0a1.4,1.4 0 1,0 -2.8,0zM508.1,118.25a1.4,1.4 0 1,0 2.8,0a1.4,1.4 0 1,0 -2.8,0zM510.6,118.2a1.4,1.4 0 1,0 2.8,0a1.4,1.4 0 1,0 -2.8,0zM513.1,118.14a1.4,1.4 0 1,0 2.8,0a1.4,1.4 0 1,0 -2.8,0zM515.6,118.08a1.4,1.4 0 1,0 2.8,0a1.4,1.4 0 1,0 -2.8,0zM518.1,118.01a1.4,1.4 0 1,0 2.8,0a1.4,1.4 0 1,0 -2.8,0zM520.6,117.93a1.4,1.4 0 1,0 2.8,0a1.4,1.4 0 1,0 -2.8,0zM523.1,117.77a1.4,1.4 0 1,0 2.8,0a1.4,1.4 0 1,0 -2.8,0zM525.6,117.31a1.4,1.4 0 1,0 2.8,0a1.4,1.4 0 1,0 -2.8,0zM528.1,116.23a1.4,1.4 0 1,0 2.8,0a1.4,1.4 0 1,0 -2.8,0zM530.6,114.73a1.4,1.4 0 1,0 2.8,0a1.4,1.4 0 1,0 -2.8,0zM533.1,112.98a1.4,1.4 0 1,0 2.8,0a1.4,1.4 0 1,0 -2.8,0zM535.6,110.4a1.4,1.4 0 1,0 2.8,0a1.4,1.4 0 1,0 -2.8,0zM538.1,107.52a1.4,1.4 0 1,0 2.8,0a1.4,1.4 0 1,0 -2.8,0zM540.6,104.52a1.4,1.4 0 1,0 2.8,0a1.4,1.4 0 1,0 -2.8,0zM543.1,101.43a1.4,1.4 0 1,0 2.8,0a1.4,1.4 0 1,0 -2.8,0zM545.6,97.7a1.4,1.4 0 1,0 2.8,0a1.4,1.4 0 1,0 -2.8,0zM548.1,94.9a1.4,1.4 0 1,0 2.8,0a1.4,1.4 0 1,0 -2.8,0zM550.6,91.7a1.4,1.4 0 1,0 2.8,0a1.4,1.4 0 1,0 -2.8,0zM553.1,87.8a1.4,1.4 0 1,0 2.8,0a1.4,1.4 0 1,0 -2.8,0zM555.6,81.4a1.4,1.4 0 1,0 2.8,0a1.4,1.4 0 1,0 -2.8,0zM558.1,72.59a1.4,1.4 0 1,0 2.8,0a1.4,1.4 0 1,0 -2.8,0zM560.6,65.77a1.4,1.4 0 1,0 2.8,0a1.4,1.4 0 1,0 -2.8,0zM563.1,58.1a1.4,1.4 0 1,0 2.8,0a1.4,1.4 0 1,0 -2.8,0zM565.6,52.1a1.4,1.4 0 1,0 2.8,0a1.4,1.4 0 1,0 -2.8,0zM568.1,48.2a1.4,1.4 0 1,0 2.8,0a1.4,1.4 0 1,0 -2.8,0zM570.6,45.9a1.4,1.4 0 1,0 2.8,0a1.4,1.4 0 1,0 -2.8,0zM573.1,44.65a1.4,1.4 0 1,0 2.8,0a1.4,1.4 0 1,0 -2.8,0zM575.6,43.36a1.4,1.4 0 1,0 2.8,0a1.4,1.4 0 1,0 -2.8,0zM578.1,41.71a1.4,1.4 0 1,0 2.8,0a1.4,1.4 0 1,0 -2.8,0zM580.6,39.94a1.4,1.4 0 1,0 2.8,0a1.4,1.4 0 1,0 -2.8,0zM583.1,38.04a1.4,1.4 0 1,0 2.8,0a1.4,1.4 0 1,0 -2.8,0zM585.6,40.12a1.4,1.4 0 1,0 2.8,0a1.4,1.4 0 1,0 -2.8,0zM588.1,45.08a1.4,1.4 0 1,0 2.8,0a1.4,1.4 0 1,0 -2.8,0zM590.6,54.9a1.4,1.4 0 1,0 2.8,0a1.4,1.4 0 1,0 -2.8,0zM593.1,65.06a1.4,1.4 0 1,0 2.8,0a1.4,1.4 0 1,0 -2.8,0zM595.6,77.24a1.4,1.4 0 1,0 2.8,0a1.4,1.4 0 1,0 -2.8,0zM598.1,87.94a1.4,1.4 0 1,0 2.8,0a1.4,1.4 0 1,0 -2.8,0zM600.6,95.7a1.4,1.4 0 1,0 2.8,0a1.4,1.4 0 1,0 -2.8,0zM603.1,99.8a1.4,1.4 0 1,0 2.8,0a1.4,1.4 0 1,0 -2.8,0zM605.6,101.6a1.4,1.4 0 1,0 2.8,0a1.4,1.4 0 1,0 -2.8,0zM608.1,102.3a1.4,1.4 0 1,0 2.8,0a1.4,1.4 0 1,0 -2.8,0zM610.6,102.3a1.4,1.4 0 1,0 2.8,0a1.4,1.4 0 1,0 -2.8,0zM613.1,102.55a1.4,1.4 0 1,0 2.8,0a1.4,1.4 0 1,0 -2.8,0zM615.6,103.56a1.4,1.4 0 1,0 2.8,0a1.4,1.4 0 1,0 -2.8,0zM618.1,107.1a1.4,1.4 0 1,0 2.8,0a1.4,1.4 0 1,0 -2.8,0zM620.6,111.4a1.4,1.4 0 1,0 2.8,0a1.4,1.4 0 1,0 -2.8,0zM623.1,114.68a1.4,1.4 0 1,0 2.8,0a1.4,1.4 0 1,0 -2.8,0zM625.6,117.31a1.4,1.4 0 1,0 2.8,0a1.4,1.4 0 1,0 -2.8,0zM628.1,119.43a1.4,1.4 0 1,0 2.8,0a1.4,1.4 0 1,0 -2.8,0zM630.6,121.05a1.4,1.4 0 1,0 2.8,0a1.4,1.4 0 1,0 -2.8,0zM633.1,122.16a1.4,1.4 0 1,0 2.8,0a1.4,1.4 0 1,0 -2.8,0zM635.6,122.75a1.4,1.4 0 1,0 2.8,0a1.4,1.4 0 1,0 -2.8,0zM638.1,123.15a1.4,1.4 0 1,0 2.8,0a1.4,1.4 0 1,0 -2.8,0zM640.6,123.39a1.4,1.4 0 1,0 2.8,0a1.4,1.4 0 1,0 -2.8,0zM643.1,123.58a1.4,1.4 0 1,0 2.8,0a1.4,1.4 0 1,0 -2.8,0zM645.6,123.74a1.4,1.4 0 1,0 2.8,0a1.4,1.4 0 1,0 -2.8,0zM648.1,123.88a1.4,1.4 0 1,0 2.8,0a1.4,1.4 0 1,0 -2.8,0zM650.6,123.99a1.4,1.4 0 1,0 2.8,0a1.4,1.4 0 1,0 -2.8,0zM653.1,124.1a1.4,1.4 0 1,0 2.8,0a1.4,1.4 0 1,0 -2.8,0zM655.6,124.21a1.4,1.4 0 1,0 2.8,0a1.4,1.4 0 1,0 -2.8,0zM658.1,124.3a1.4,1.4 0 1,0 2.8,0a1.4,1.4 0 1,0 -2.8,0zM660.6,124.4a1.4,1.4 0 1,0 2.8,0a1.4,1.4 0 1,0 -2.8,0zM663.1,124.48a1.4,1.4 0 1,0 2.8,0a1.4,1.4 0 1,0 -2.8,0zM665.6,124.57a1.4,1.4 0 1,0 2.8,0a1.4,1.4 0 1,0 -2.8,0zM668.1,124.65a1.4,1.4 0 1,0 2.8,0a1.4,1.4 0 1,0 -2.8,0zM670.6,124.74a1.4,1.4 0 1,0 2.8,0a1.4,1.4 0 1,0 -2.8,0zM673.1,124.82a1.4,1.4 0 1,0 2.8,0a1.4,1.4 0 1,0 -2.8,0zM675.6,124.91a1.4,1.4 0 1,0 2.8,0a1.4,1.4 0 1,0 -2.8,0zM678.1,125a1.4,1.4 0 1,0 2.8,0a1.4,1.4 0 1,0 -2.8,0z" fill="#000"/>
<rect x="479.5" y="0.5" width="200" height="159.8" fill="none" stroke="#6a6a6a" stroke-width="1"/>
<path d="M479.5,160.3v1.5M492,160.3v1.5M504.5,160.3v2.2M517,160.3v1.5M529.5,160.3v1.5M542,160.3v1.5M554.5,160.3v2.2M567,160.3v1.5M579.5,160.3v1.5M592,160.3v1.5M604.5,160.3v2.2M617,160.3v1.5M629.5,160.3v1.5M642,160.3v1.5M654.5,160.3v2.2M667,160.3v1.5M679.5,160.3v1.5" stroke="#6a6a6a" stroke-width="1"/>
<polyline points="39.9,355.59 42.3,355.52 44.7,355.45 47.1,355.38 49.5,355.31 51.9,355.23 54.3,355.13 56.7,355.01 59.1,354.85 61.5,354.66 63.9,354.43 66.3,354.15 68.7,353.82 71.1,353.23 73.5,352.39 75.9,351.37 78.3,349.92 80.7,347.34 83.1,343.28 85.5,338.56 87.9,334.61 90.3,331.29 92.7,330.4 95.1,331.51 97.5,334.99 99.9,340.02 102.3,344.96 104.7,348.77 107.1,351.03 109.5,352.4 111.9,353.28 114.3,353.84 116.7,354.31 119.1,354.62 121.5,354.71 123.9,354.73 126.3,354.75 128.7,354.77 131.1,354.78 133.5,354.79 135.9,354.8 138.3,354.8 140.7,354.73 143.1,354.46 145.5,354.11 147.9,353.78 150.3,353.42 152.7,352.99 155.1,352.45 157.5,351.75 159.9,350.85 162.3,349.48 164.7,347.19 167.1,344.16 169.5,338.69 171.9,325.06 174.3,294.82 176.7,251.2 179.1,272.83 181.3,307.02 181.5,310.5 182.4,324.1 183.5,330.7 183.9,332.57 184.6,335.4 185.7,339.4 186.3,340.82 186.8,341.77 187.9,342.99 188.7,343.59 189,343.73 190.1,343.63 191.1,343.19 191.2,343.16 192.3,343.23 193.4,343.93 193.5,344.14 194.5,348.2 195.6,351.32 195.9,351.8 196.7,352.63 197.8,353.48 198.3,353.76 198.9,354 200.7,354.52 203.1,355.02 205.5,355.25 207.9,355.39 210.3,355.48 212.7,355.5 215.1,355.5 217.5,355.5 219.9,355.5 222.3,355.5 224.7,355.5 227.1,355.5 229.5,355.5 231.9,355.5 234.3,355.5 236.7,355.5 239.1,355.5" fill="none" stroke="#333" stroke-width="0.8"/>
<path d="M38.5,354.19h2.8v2.8h-2.8zM40.9,354.12h2.8v2.8h-2.8zM43.3,354.05h2.8v2.8h-2.8zM45.7,353.98h2.8v2.8h-2.8zM48.1,353.91h2.8v2.8h-2.8zM50.5,353.83h2.8v2.8h-2.8zM52.9,353.73h2.8v2.8h-2.8zM55.3,353.61h2.8v2.8h-2.8zM57.7,353.45h2.8v2.8h-2.8zM60.1,353.26h2.8v2.8h-2.8zM62.5,353.03h2.8v2.8h-2.8zM64.9,352.75h2.8v2.8h-2.8zM67.3,352.42h2.8v2.8h-2.8zM69.7,351.83h2.8v2.8h-2.8zM72.1,350.99h2.8v2.8h-2.8zM74.5,349.97h2.8v2.8h-2.8zM76.9,348.52h2.8v2.8h-2.8zM79.3,345.94h2.8v2.8h-2.8zM81.7,341.88h2.8v2.8h-2.8zM84.1,337.16h2.8v2.8h-2.8zM86.5,333.21h2.8v2.8h-2.8zM88.9,329.89h2.8v2.8h-2.8zM91.3,329h2.8v2.8h-2.8zM93.7,330.11h2.8v2.8h-2.8zM96.1,333.59h2.8v2.8h-2.8zM98.5,338.62h2.8v2.8h-2.8zM100.9,343.56h2.8v2.8h-2.8zM103.3,347.37h2.8v2.8h-2.8zM105.7,349.63h2.8v2.8h-2.8zM108.1,351h2.8v2.8h-2.8zM110.5,351.88h2.8v2.8h-2.8zM112.9,352.44h2.8v2.8h-2.8zM115.3,352.91h2.8v2.8h-2.8zM117.7,353.22h2.8v2.8h-2.8zM120.1,353.31h2.8v2.8h-2.8zM122.5,353.33h2.8v2.8h-2.8zM124.9,353.35h2.8v2.8h-2.8zM127.3,353.37h2.8v2.8h-2.8zM129.7,353.38h2.8v2.8h-2.8zM132.1,353.39h2.8v2.8h-2.8zM134.5,353.4h2.8v2.8h-2.8zM136.9,353.4h2.8v2.8h-2.8zM139.3,353.33h2.8v2.8h-2.8zM141.7,353.06h2.8v2.8h-2.8zM144.1,352.71h2.8v2.8h-2.8zM146.5,352.38h2.8v2.8h-2.8zM148.9,352.02h2.8v2.8h-2.8zM151.3,351.59h2.8v2.8h-2.8zM153.7,351.05h2.8v2.8h-2.8zM156.1,350.35h2.8v2.8h-2.8zM158.5,349.45h2.8v2.8h-2.8zM160.9,348.08h2.8v2.8h-2.8zM163.3,345.79h2.8v2.8h-2.8zM165.7,342.76h2.8v2.8h-2.8zM168.1,337.29h2.8v2.8h-2.8zM170.5,323.66h2.8v2.8h-2.8zM172.9,293.42h2.8v2.8h-2.8zM175.3,249.8h2.8v2.8h-2.8zM177.7,271.43h2.8v2.8h-2.8zM179.9,305.62h2.8v2.8h-2.8zM180.1,309.1h2.8v2.8h-2.8zM181,322.7h2.8v2.8h-2.8zM182.1,329.3h2.8v2.8h-2.8zM182.5,331.17h2.8v2.8h-2.8zM183.2,334h2.8v2.8h-2.8zM184.3,338h2.8v2.8h-2.8zM184.9,339.42h2.8v2.8h-2.8zM185.4,340.37h2.8v2.8h-2.8zM186.5,341.59h2.8v2.8h-2.8zM187.3,342.19h2.8v2.8h-2.8zM187.6,342.33h2.8v2.8h-2.8zM188.7,342.23h2.8v2.8h-2.8zM189.7,341.79h2.8v2.8h-2.8zM189.8,341.76h2.8v2.8h-2.8zM190.9,341.83h2.8v2.8h-2.8zM192,342.53h2.8v2.8h-2.8zM192.1,342.74h2.8v2.8h-2.8zM193.1,346.8h2.8v2.8h-2.8zM194.2,349.92h2.8v2.8h-2.8zM194.5,350.4h2.8v2.8h-2.8zM195.3,351.23h2.8v2.8h-2.8zM196.4,352.08h2.8v2.8h-2.8zM196.9,352.36h2.8v2.8h-2.8zM197.5,352.6h2.8v2.8h-2.8zM199.3,353.12h2.8v2.8h-2.8zM201.7,353.62h2.8v2.8h-2.8zM204.1,353.85h2.8v2.8h-2.8zM206.5,353.99h2.8v2.8h-2.8zM208.9,354.08h2.8v2.8h-2.8zM211.3,354.1h2.8v2.8h-2.8zM213.7,354.1h2.8v2.8h-2.8zM216.1,354.1h2.8v2.8h-2.8zM218.5,354.1h2.8v2.8h-2.8zM220.9,354.1h2.8v2.8h-2.8zM223.3,354.1h2.8v2.8h-2.8zM225.7,354.1h2.8v2.8h-2.8zM228.1,354.1h2.8v2.8h-2.8zM230.5,354.1h2.8v2.8h-2.8zM232.9,354.1h2.8v2.8h-2.8zM235.3,354.1h2.8v2.8h-2.8zM237.7,354.1h2.8v2.8h-2.8z" fill="#000"/>
<rect x="39.5" y="220.0" width="200" height="160" fill="none" stroke="#6a6a6a" stroke-width="1"/>
<path d="M50.1,380v1.5M65.01,380v1.5M79.93,380v1.5M94.84,380v1.5M109.75,380v2.2M124.66,380v1.5M139.57,380v1.5M154.49,380v1.5M169.4,380v1.5M184.31,380v2.2M199.22,380v1.5M214.13,380v1.5M229.05,380v1.5" stroke="#6a6a6a" stroke-width="1"/>
<polyline points="261.42,355.89 263.84,355.87 266.27,355.86 268.69,355.85 271.11,355.83 273.53,355.8 275.96,355.76 278.38,355.7 280.8,355.62 283.23,355.51 285.65,355.37 288.07,355.21 290.49,354.73 292.92,353.78 295.34,352.59 297.76,350.73 300.19,347.19 302.61,341.39 305.03,335.2 307.45,329.6 309.88,323.73 312.3,321.2 314.72,323.14 317.15,329.13 319.57,337.94 321.99,344.44 324.41,349.38 326.84,351.82 329.26,353.26 331.68,354 334.11,354.55 336.53,354.96 338.95,355.19 341.37,355.27 343.8,355.34 346.22,355.4 348.64,355.44 351.07,355.48 353.49,355.5 355.91,355.5 358.33,355.47 360.76,355.42 363.18,355.36 365.6,355.28 368.03,355.1 370.45,354.85 372.87,354.48 375.29,353.97 377.72,353.26 380.14,352.12 382.56,349.96 384.99,345.48 387.41,335.91 389.83,315.13 392.25,288.57 394.68,261.08 397.1,254.5 399.52,270.12 401.95,294.12 404.37,320.74 406.79,332.88 409.21,339.68 411.64,341.87 414.06,344.37 416.48,346.8 418.91,349.11 421.33,350.88 423.75,352.58 426.17,353.57 428.6,354.26 431.02,354.62 433.44,354.89 435.87,355.1 438.29,355.25 440.71,355.31 443.13,355.35 445.56,355.38 447.98,355.4 450.4,355.42 452.83,355.44 455.25,355.46 457.67,355.48" fill="none" stroke="#333" stroke-width="0.8"/>
<path d="M260.02,354.49h2.8v2.8h-2.8zM262.44,354.47h2.8v2.8h-2.8zM264.87,354.46h2.8v2.8h-2.8zM267.29,354.45h2.8v2.8h-2.8zM269.71,354.43h2.8v2.8h-2.8zM272.13,354.4h2.8v2.8h-2.8zM274.56,354.36h2.8v2.8h-2.8zM276.98,354.3h2.8v2.8h-2.8zM279.4,354.22h2.8v2.8h-2.8zM281.83,354.11h2.8v2.8h-2.8zM284.25,353.97h2.8v2.8h-2.8zM286.67,353.81h2.8v2.8h-2.8zM289.09,353.33h2.8v2.8h-2.8zM291.52,352.38h2.8v2.8h-2.8zM293.94,351.19h2.8v2.8h-2.8zM296.36,349.33h2.8v2.8h-2.8zM298.79,345.79h2.8v2.8h-2.8zM301.21,339.99h2.8v2.8h-2.8zM303.63,333.8h2.8v2.8h-2.8zM306.05,328.2h2.8v2.8h-2.8zM308.48,322.33h2.8v2.8h-2.8zM310.9,319.8h2.8v2.8h-2.8zM313.32,321.74h2.8v2.8h-2.8zM315.75,327.73h2.8v2.8h-2.8zM318.17,336.54h2.8v2.8h-2.8zM320.59,343.04h2.8v2.8h-2.8zM323.01,347.98h2.8v2.8h-2.8zM325.44,350.42h2.8v2.8h-2.8zM327.86,351.86h2.8v2.8h-2.8zM330.28,352.6h2.8v2.8h-2.8zM332.71,353.15h2.8v2.8h-2.8zM335.13,353.56h2.8v2.8h-2.8zM337.55,353.79h2.8v2.8h-2.8zM339.97,353.87h2.8v2.8h-2.8zM342.4,353.94h2.8v2.8h-2.8zM344.82,354h2.8v2.8h-2.8zM347.24,354.04h2.8v2.8h-2.8zM349.67,354.08h2.8v2.8h-2.8zM352.09,354.1h2.8v2.8h-2.8zM354.51,354.1h2.8v2.8h-2.8zM356.93,354.07h2.8v2.8h-2.8zM359.36,354.02h2.8v2.8h-2.8zM361.78,353.96h2.8v2.8h-2.8zM364.2,353.88h2.8v2.8h-2.8zM366.63,353.7h2.8v2.8h-2.8zM369.05,353.45h2.8v2.8h-2.8zM371.47,353.08h2.8v2.8h-2.8zM373.89,352.57h2.8v2.8h-2.8zM376.32,351.86h2.8v2.8h-2.8zM378.74,350.72h2.8v2.8h-2.8zM381.16,348.56h2.8v2.8h-2.8zM383.59,344.08h2.8v2.8h-2.8zM386.01,334.51h2.8v2.8h-2.8zM388.43,313.73h2.8v2.8h-2.8zM390.85,287.17h2.8v2.8h-2.8zM393.28,259.68h2.8v2.8h-2.8zM395.7,253.1h2.8v2.8h-2.8zM398.12,268.72h2.8v2.8h-2.8zM400.55,292.72h2.8v2.8h-2.8zM402.97,319.34h2.8v2.8h-2.8zM405.39,331.48h2.8v2.8h-2.8zM407.81,338.28h2.8v2.8h-2.8zM410.24,340.47h2.8v2.8h-2.8zM412.66,342.97h2.8v2.8h-2.8zM415.08,345.4h2.8v2.8h-2.8zM417.51,347.71h2.8v2.8h-2.8zM419.93,349.48h2.8v2.8h-2.8zM422.35,351.18h2.8v2.8h-2.8zM424.77,352.17h2.8v2.8h-2.8zM427.2,352.86h2.8v2.8h-2.8zM429.62,353.22h2.8v2.8h-2.8zM432.04,353.49h2.8v2.8h-2.8zM434.47,353.7h2.8v2.8h-2.8zM436.89,353.85h2.8v2.8h-2.8zM439.31,353.91h2.8v2.8h-2.8zM441.73,353.95h2.8v2.8h-2.8zM444.16,353.98h2.8v2.8h-2.8zM446.58,354h2.8v2.8h-2.8zM449,354.02h2.8v2.8h-2.8zM451.43,354.04h2.8v2.8h-2.8zM453.85,354.06h2.8v2.8h-2.8zM456.27,354.08h2.8v2.8h-2.8z" fill="#000"/>
<rect x="259.5" y="220.0" width="200" height="160" fill="none" stroke="#6a6a6a" stroke-width="1"/>
<path d="M270.1,380v1.5M285.01,380v1.5M299.93,380v1.5M314.84,380v1.5M329.75,380v2.2M344.66,380v1.5M359.57,380v1.5M374.49,380v1.5M389.4,380v1.5M404.31,380v2.2M419.22,380v1.5M434.13,380v1.5M449.05,380v1.5" stroke="#6a6a6a" stroke-width="1"/>
<polyline points="481.68,352.18 484.1,352.16 486.52,352.14 488.94,352.13 491.36,352.11 493.78,352.08 496.2,352.06 498.62,352.02 501.04,351.97 503.46,351.79 505.88,351.53 508.3,351.14 510.72,350.52 513.14,349.63 515.56,347.92 517.98,345.48 520.4,340.28 522.82,332.26 525.24,320.02 527.66,306.8 530.08,295.84 532.5,292.8 534.92,298.66 537.34,310.02 539.76,324.72 542.18,335.01 544.6,342.15 547.02,345.64 549.44,348.3 551.86,349.69 554.28,350.52 556.7,351.01 559.12,351.47 561.54,351.88 563.96,352.21 566.38,352.45 568.8,352.58 571.22,352.6 573.64,352.59 576.06,352.56 578.48,352.53 580.9,352.49 583.32,352.44 585.74,352.37 588.16,352.15 590.58,351.81 593,351.41 595.42,351.04 597.84,350.69 600.26,350.12 602.68,349.16 605.1,347.39 607.52,344.3 609.94,336.11 612.36,312.24 614.78,275.15 617.2,252.6 619.62,263.68 622,298.1 622.04,298.52 623.1,313.14 624.2,323.8 624.46,327.08 625.3,336.77 626.4,339.2 626.88,339.74 627.5,340.18 628.6,340.24 629.3,340.08 629.7,339.97 630.8,339.73 631.72,339.9 631.9,340.06 633,341.55 634.1,343.28 634.14,343.35 635.2,345.47 636.3,347.3 636.56,347.58 637.4,348.42 638.5,349.3 638.98,349.58 639.6,349.83 641.4,350.32 643.82,350.78 646.24,351.18 648.66,351.63 651.08,352.05 653.5,352.34 655.92,352.4 658.34,352.4 660.76,352.4 663.18,352.4 665.6,352.4 668.02,352.4 670.44,352.4 672.86,352.4 675.28,352.4 677.7,352.4" fill="none" stroke="#333" stroke-width="0.8"/>
<path d="M480.28,350.78h2.8v2.8h-2.8zM482.7,350.76h2.8v2.8h-2.8zM485.12,350.74h2.8v2.8h-2.8zM487.54,350.73h2.8v2.8h-2.8zM489.96,350.71h2.8v2.8h-2.8zM492.38,350.68h2.8v2.8h-2.8zM494.8,350.66h2.8v2.8h-2.8zM497.22,350.62h2.8v2.8h-2.8zM499.64,350.57h2.8v2.8h-2.8zM502.06,350.39h2.8v2.8h-2.8zM504.48,350.13h2.8v2.8h-2.8zM506.9,349.74h2.8v2.8h-2.8zM509.32,349.12h2.8v2.8h-2.8zM511.74,348.23h2.8v2.8h-2.8zM514.16,346.52h2.8v2.8h-2.8zM516.58,344.08h2.8v2.8h-2.8zM519,338.88h2.8v2.8h-2.8zM521.42,330.86h2.8v2.8h-2.8zM523.84,318.62h2.8v2.8h-2.8zM526.26,305.4h2.8v2.8h-2.8zM528.68,294.44h2.8v2.8h-2.8zM531.1,291.4h2.8v2.8h-2.8zM533.52,297.26h2.8v2.8h-2.8zM535.94,308.62h2.8v2.8h-2.8zM538.36,323.32h2.8v2.8h-2.8zM540.78,333.61h2.8v2.8h-2.8zM543.2,340.75h2.8v2.8h-2.8zM545.62,344.24h2.8v2.8h-2.8zM548.04,346.9h2.8v2.8h-2.8zM550.46,348.29h2.8v2.8h-2.8zM552.88,349.12h2.8v2.8h-2.8zM555.3,349.61h2.8v2.8h-2.8zM557.72,350.07h2.8v2.8h-2.8zM560.14,350.48h2.8v2.8h-2.8zM562.56,350.81h2.8v2.8h-2.8zM564.98,351.05h2.8v2.8h-2.8zM567.4,351.18h2.8v2.8h-2.8zM569.82,351.2h2.8v2.8h-2.8zM572.24,351.19h2.8v2.8h-2.8zM574.66,351.16h2.8v2.8h-2.8zM577.08,351.13h2.8v2.8h-2.8zM579.5,351.09h2.8v2.8h-2.8zM581.92,351.04h2.8v2.8h-2.8zM584.34,350.97h2.8v2.8h-2.8zM586.76,350.75h2.8v2.8h-2.8zM589.18,350.41h2.8v2.8h-2.8zM591.6,350.01h2.8v2.8h-2.8zM594.02,349.64h2.8v2.8h-2.8zM596.44,349.29h2.8v2.8h-2.8zM598.86,348.72h2.8v2.8h-2.8zM601.28,347.76h2.8v2.8h-2.8zM603.7,345.99h2.8v2.8h-2.8zM606.12,342.9h2.8v2.8h-2.8zM608.54,334.71h2.8v2.8h-2.8zM610.96,310.84h2.8v2.8h-2.8zM613.38,273.75h2.8v2.8h-2.8zM615.8,251.2h2.8v2.8h-2.8zM618.22,262.28h2.8v2.8h-2.8zM620.6,296.7h2.8v2.8h-2.8zM620.64,297.12h2.8v2.8h-2.8zM621.7,311.74h2.8v2.8h-2.8zM622.8,322.4h2.8v2.8h-2.8zM623.06,325.68h2.8v2.8h-2.8zM623.9,335.37h2.8v2.8h-2.8zM625,337.8h2.8v2.8h-2.8zM625.48,338.34h2.8v2.8h-2.8zM626.1,338.78h2.8v2.8h-2.8zM627.2,338.84h2.8v2.8h-2.8zM627.9,338.68h2.8v2.8h-2.8zM628.3,338.57h2.8v2.8h-2.8zM629.4,338.33h2.8v2.8h-2.8zM630.32,338.5h2.8v2.8h-2.8zM630.5,338.66h2.8v2.8h-2.8zM631.6,340.15h2.8v2.8h-2.8zM632.7,341.88h2.8v2.8h-2.8zM632.74,341.95h2.8v2.8h-2.8zM633.8,344.07h2.8v2.8h-2.8zM634.9,345.9h2.8v2.8h-2.8zM635.16,346.18h2.8v2.8h-2.8zM636,347.02h2.8v2.8h-2.8zM637.1,347.9h2.8v2.8h-2.8zM637.58,348.18h2.8v2.8h-2.8zM638.2,348.43h2.8v2.8h-2.8zM640,348.92h2.8v2.8h-2.8zM642.42,349.38h2.8v2.8h-2.8zM644.84,349.78h2.8v2.8h-2.8zM647.26,350.23h2.8v2.8h-2.8zM649.68,350.65h2.8v2.8h-2.8zM652.1,350.94h2.8v2.8h-2.8zM654.52,351h2.8v2.8h-2.8zM656.94,351h2.8v2.8h-2.8zM659.36,351h2.8v2.8h-2.8zM661.78,351h2.8v2.8h-2.8zM664.2,351h2.8v2.8h-2.8zM666.62,351h2.8v2.8h-2.8zM669.04,351h2.8v2.8h-2.8zM671.46,351h2.8v2.8h-2.8zM673.88,351h2.8v2.8h-2.8zM676.3,351h2.8v2.8h-2.8z" fill="#000"/>
<rect x="479.5" y="220.0" width="200" height="160" fill="none" stroke="#6a6a6a" stroke-width="1"/>
<path d="M490.1,380v1.5M505.01,380v1.5M519.93,380v1.5M534.84,380v1.5M549.75,380v2.2M564.66,380v1.5M579.57,380v1.5M594.49,380v1.5M609.4,380v1.5M624.31,380v2.2M639.22,380v1.5M654.13,380v1.5M669.05,380v1.5" stroke="#6a6a6a" stroke-width="1"/>
<rect x="41" y="451.5" width="209" height="396.5" fill="#000"/>
<rect x="41" y="452" width="209" height="4" fill="url(#r0)"/>
<rect x="41" y="456" width="209" height="4" fill="url(#r1)"/>
<rect x="41" y="460" width="209" height="4" fill="url(#r2)"/>
<rect x="41" y="464" width="209" height="4" fill="url(#r3)"/>
<rect x="41" y="468" width="209" height="4" fill="url(#r4)"/>
<rect x="41" y="472" width="209" height="4" fill="url(#r5)"/>
<rect x="41" y="476" width="209" height="4" fill="url(#r6)"/>
<rect x="41" y="480" width="209" height="4" fill="url(#r7)"/>
<rect x="41" y="484" width="209" height="4" fill="url(#r8)"/>
<rect x="41" y="488" width="209" height="4" fill="url(#r9)"/>
<rect x="41" y="492" width="209" height="4" fill="url(#r10)"/>
<rect x="41" y="496" width="209" height="4" fill="url(#r11)"/>
<rect x="41" y="500" width="209" height="4" fill="url(#r12)"/>
<rect x="41" y="504" width="209" height="4" fill="url(#r13)"/>
<rect x="41" y="508" width="209" height="4" fill="url(#r14)"/>
<rect x="41" y="512" width="209" height="4" fill="url(#r15)"/>
<rect x="41" y="516" width="209" height="4" fill="url(#r16)"/>
<rect x="41" y="520" width="209" height="4" fill="url(#r17)"/>
<rect x="41" y="524" width="209" height="4" fill="url(#r18)"/>
<rect x="41" y="528" width="209" height="4" fill="url(#r19)"/>
<rect x="41" y="532" width="209" height="4" fill="url(#r20)"/>
<rect x="41" y="536" width="209" height="4" fill="url(#r21)"/>
<rect x="41" y="540" width="209" height="4" fill="url(#r22)"/>
<rect x="41" y="544" width="209" height="4" fill="url(#r23)"/>
<rect x="41" y="548" width="209" height="4" fill="url(#r24)"/>
<rect x="41" y="552" width="209" height="4" fill="url(#r25)"/>
<rect x="41" y="556" width="209" height="4" fill="url(#r26)"/>
<rect x="41" y="560" width="209" height="4" fill="url(#r27)"/>
<rect x="41" y="564" width="209" height="4" fill="url(#r28)"/>
<rect x="41" y="568" width="209" height="4" fill="url(#r29)"/>
<rect x="41" y="572" width="209" height="4" fill="url(#r30)"/>
<rect x="41" y="576" width="209" height="4" fill="url(#r31)"/>
<rect x="41" y="580" width="209" height="4" fill="url(#r32)"/>
<rect x="41" y="584" width="209" height="4" fill="url(#r33)"/>
<rect x="41" y="588" width="209" height="4" fill="url(#r34)"/>
<rect x="41" y="592" width="209" height="4" fill="url(#r35)"/>
<rect x="41" y="596" width="209" height="4" fill="url(#r36)"/>
<rect x="41" y="600" width="209" height="4" fill="url(#r37)"/>
<rect x="41" y="604" width="209" height="4" fill="url(#r38)"/>
<rect x="41" y="608" width="209" height="4" fill="url(#r39)"/>
<rect x="41" y="612" width="209" height="4" fill="url(#r40)"/>
<rect x="41" y="616" width="209" height="4" fill="url(#r41)"/>
<rect x="41" y="620" width="209" height="4" fill="url(#r42)"/>
<rect x="41" y="624" width="209" height="4" fill="url(#r43)"/>
<rect x="41" y="628" width="209" height="4" fill="url(#r44)"/>
<rect x="41" y="632" width="209" height="4" fill="url(#r45)"/>
<rect x="41" y="636" width="209" height="4" fill="url(#r46)"/>
<rect x="41" y="640" width="209" height="4" fill="url(#r47)"/>
<rect x="41" y="644" width="209" height="4" fill="url(#r48)"/>
<rect x="41" y="648" width="209" height="4" fill="url(#r49)"/>
<rect x="41" y="652" width="209" height="4" fill="url(#r50)"/>
<rect x="41" y="656" width="209" height="4" fill="url(#r51)"/>
<rect x="41" y="660" width="209" height="4" fill="url(#r52)"/>
<rect x="41" y="664" width="209" height="4" fill="url(#r53)"/>
<rect x="41" y="668" width="209" height="4" fill="url(#r54)"/>
<rect x="41" y="672" width="209" height="4" fill="url(#r55)"/>
<rect x="41" y="676" width="209" height="4" fill="url(#r56)"/>
<rect x="41" y="680" width="209" height="4" fill="url(#r57)"/>
<rect x="41" y="684" width="209" height="4" fill="url(#r58)"/>
<rect x="41" y="688" width="209" height="4" fill="url(#r59)"/>
<rect x="41" y="692" width="209" height="4" fill="url(#r60)"/>
<rect x="41" y="696" width="209" height="4" fill="url(#r61)"/>
<rect x="41" y="700" width="209" height="4" fill="url(#r62)"/>
<rect x="41" y="704" width="209" height="4" fill="url(#r63)"/>
<rect x="41" y="708" width="209" height="4" fill="url(#r64)"/>
<rect x="41" y="712" width="209" height="4" fill="url(#r65)"/>
<rect x="41" y="716" width="209" height="4" fill="url(#r66)"/>
<rect x="41" y="720" width="209" height="4" fill="url(#r67)"/>
<rect x="41" y="724" width="209" height="4" fill="url(#r68)"/>
<rect x="41" y="728" width="209" height="4" fill="url(#r69)"/>
<rect x="41" y="732" width="209" height="4" fill="url(#r70)"/>
<rect x="41" y="736" width="209" height="4" fill="url(#r71)"/>
<rect x="41" y="740" width="209" height="4" fill="url(#r72)"/>
<rect x="41" y="744" width="209" height="4" fill="url(#r73)"/>
<rect x="41" y="748" width="209" height="4" fill="url(#r74)"/>
<rect x="41" y="752" width="209" height="4" fill="url(#r75)"/>
<rect x="41" y="756" width="209" height="4" fill="url(#r76)"/>
<rect x="41" y="760" width="209" height="4" fill="url(#r77)"/>
<rect x="41" y="764" width="209" height="4" fill="url(#r78)"/>
<rect x="41" y="768" width="209" height="4" fill="url(#r79)"/>
<rect x="41" y="772" width="209" height="4" fill="url(#r80)"/>
<rect x="41" y="776" width="209" height="4" fill="url(#r81)"/>
<rect x="41" y="780" width="209" height="4" fill="url(#r82)"/>
<rect x="41" y="784" width="209" height="4" fill="url(#r83)"/>
<rect x="41" y="788" width="209" height="4" fill="url(#r84)"/>
<rect x="41" y="792" width="209" height="4" fill="url(#r85)"/>
<rect x="41" y="796" width="209" height="4" fill="url(#r86)"/>
<rect x="41" y="800" width="209" height="4" fill="url(#r87)"/>
<rect x="41" y="804" width="209" height="4" fill="url(#r88)"/>
<rect x="41" y="808" width="209" height="4" fill="url(#r89)"/>
<rect x="41" y="812" width="209" height="4" fill="url(#r90)"/>
<rect x="41" y="816" width="209" height="4" fill="url(#r91)"/>
<rect x="41" y="820" width="209" height="4" fill="url(#r92)"/>
<rect x="41" y="824" width="209" height="4" fill="url(#r93)"/>
<rect x="41" y="828" width="209" height="4" fill="url(#r94)"/>
<rect x="41" y="832" width="209" height="4" fill="url(#r95)"/>
<rect x="41" y="836" width="209" height="4" fill="url(#r96)"/>
<rect x="41" y="840" width="209" height="4" fill="url(#r97)"/>
<rect x="41" y="844" width="209" height="4" fill="url(#r98)"/>
<rect x="40" y="450.5" width="58" height="47.2" fill="#fff"/>
<rect x="258.2" y="451.5" width="208.9" height="396.5" fill="#000"/>
<rect x="258.2" y="452" width="208.9" height="4" fill="url(#r99)"/>
<rect x="258.2" y="456" width="208.9" height="4" fill="url(#r100)"/>
<rect x="258.2" y="460" width="208.9" height="4" fill="url(#r101)"/>
<rect x="258.2" y="464" width="208.9" height="4" fill="url(#r102)"/>
<rect x="258.2" y="468" width="208.9" height="4" fill="url(#r103)"/>
<rect x="258.2" y="472" width="208.9" height="4" fill="url(#r104)"/>
<rect x="258.2" y="476" width="208.9" height="4" fill="url(#r105)"/>
<rect x="258.2" y="480" width="208.9" height="4" fill="url(#r106)"/>
<rect x="258.2" y="484" width="208.9" height="4" fill="url(#r107)"/>
<rect x="258.2" y="488" width="208.9" height="4" fill="url(#r108)"/>
<rect x="258.2" y="492" width="208.9" height="4" fill="url(#r109)"/>
<rect x="258.2" y="496" width="208.9" height="4" fill="url(#r110)"/>
<rect x="258.2" y="500" width="208.9" height="4" fill="url(#r111)"/>
<rect x="258.2" y="504" width="208.9" height="4" fill="url(#r112)"/>
<rect x="258.2" y="508" width="208.9" height="4" fill="url(#r113)"/>
<rect x="258.2" y="512" width="208.9" height="4" fill="url(#r114)"/>
<rect x="258.2" y="516" width="208.9" height="4" fill="url(#r115)"/>
<rect x="258.2" y="520" width="208.9" height="4" fill="url(#r116)"/>
<rect x="258.2" y="524" width="208.9" height="4" fill="url(#r117)"/>
<rect x="258.2" y="528" width="208.9" height="4" fill="url(#r118)"/>
<rect x="258.2" y="532" width="208.9" height="4" fill="url(#r119)"/>
<rect x="258.2" y="536" width="208.9" height="4" fill="url(#r120)"/>
<rect x="258.2" y="540" width="208.9" height="4" fill="url(#r121)"/>
<rect x="258.2" y="544" width="208.9" height="4" fill="url(#r122)"/>
<rect x="258.2" y="548" width="208.9" height="4" fill="url(#r123)"/>
<rect x="258.2" y="552" width="208.9" height="4" fill="url(#r124)"/>
<rect x="258.2" y="556" width="208.9" height="4" fill="url(#r125)"/>
<rect x="258.2" y="560" width="208.9" height="4" fill="url(#r126)"/>
<rect x="258.2" y="564" width="208.9" height="4" fill="url(#r127)"/>
<rect x="258.2" y="568" width="208.9" height="4" fill="url(#r128)"/>
<rect x="258.2" y="572" width="208.9" height="4" fill="url(#r129)"/>
<rect x="258.2" y="576" width="208.9" height="4" fill="url(#r130)"/>
<rect x="258.2" y="580" width="208.9" height="4" fill="url(#r131)"/>
<rect x="258.2" y="584" width="208.9" height="4" fill="url(#r132)"/>
<rect x="258.2" y="588" width="208.9" height="4" fill="url(#r133)"/>
<rect x="258.2" y="592" width="208.9" height="4" fill="url(#r134)"/>
<rect x="258.2" y="596" width="208.9" height="4" fill="url(#r135)"/>
<rect x="258.2" y="600" width="208.9" height="4" fill="url(#r136)"/>
<rect x="258.2" y="604" width="208.9" height="4" fill="url(#r137)"/>
<rect x="258.2" y="608" width="208.9" height="4" fill="url(#r138)"/>
<rect x="258.2" y="612" width="208.9" height="4" fill="url(#r139)"/>
<rect x="258.2" y="616" width="208.9" height="4" fill="url(#r140)"/>
<rect x="258.2" y="620" width="208.9" height="4" fill="url(#r141)"/>
<rect x="258.2" y="624" width="208.9" height="4" fill="url(#r142)"/>
<rect x="258.2" y="628" width="208.9" height="4" fill="url(#r143)"/>
<rect x="258.2" y="632" width="208.9" height="4" fill="url(#r144)"/>
<rect x="258.2" y="636" width="208.9" height="4" fill="url(#r145)"/>
<rect x="258.2" y="640" width="208.9" height="4" fill="url(#r146)"/>
<rect x="258.2" y="644" width="208.9" height="4" fill="url(#r147)"/>
<rect x="258.2" y="648" width="208.9" height="4" fill="url(#r148)"/>
<rect x="258.2" y="652" width="208.9" height="4" fill="url(#r149)"/>
<rect x="258.2" y="656" width="208.9" height="4" fill="url(#r150)"/>
<rect x="258.2" y="660" width="208.9" height="4" fill="url(#r151)"/>
<rect x="258.2" y="664" width="208.9" height="4" fill="url(#r152)"/>
<rect x="258.2" y="668" width="208.9" height="4" fill="url(#r153)"/>
<rect x="258.2" y="672" width="208.9" height="4" fill="url(#r154)"/>
<rect x="258.2" y="676" width="208.9" height="4" fill="url(#r155)"/>
<rect x="258.2" y="680" width="208.9" height="4" fill="url(#r156)"/>
<rect x="258.2" y="684" width="208.9" height="4" fill="url(#r157)"/>
<rect x="258.2" y="688" width="208.9" height="4" fill="url(#r158)"/>
<rect x="258.2" y="692" width="208.9" height="4" fill="url(#r159)"/>
<rect x="258.2" y="696" width="208.9" height="4" fill="url(#r160)"/>
<rect x="258.2" y="700" width="208.9" height="4" fill="url(#r161)"/>
<rect x="258.2" y="704" width="208.9" height="4" fill="url(#r162)"/>
<rect x="258.2" y="708" width="208.9" height="4" fill="url(#r163)"/>
<rect x="258.2" y="712" width="208.9" height="4" fill="url(#r164)"/>
<rect x="258.2" y="716" width="208.9" height="4" fill="url(#r165)"/>
<rect x="258.2" y="720" width="208.9" height="4" fill="url(#r166)"/>
<rect x="258.2" y="724" width="208.9" height="4" fill="url(#r167)"/>
<rect x="258.2" y="728" width="208.9" height="4" fill="url(#r168)"/>
<rect x="258.2" y="732" width="208.9" height="4" fill="url(#r169)"/>
<rect x="258.2" y="736" width="208.9" height="4" fill="url(#r170)"/>
<rect x="258.2" y="740" width="208.9" height="4" fill="url(#r171)"/>
<rect x="258.2" y="744" width="208.9" height="4" fill="url(#r172)"/>
<rect x="258.2" y="748" width="208.9" height="4" fill="url(#r173)"/>
<rect x="258.2" y="752" width="208.9" height="4" fill="url(#r174)"/>
<rect x="258.2" y="756" width="208.9" height="4" fill="url(#r175)"/>
<rect x="258.2" y="760" width="208.9" height="4" fill="url(#r176)"/>
<rect x="258.2" y="764" width="208.9" height="4" fill="url(#r177)"/>
<rect x="258.2" y="768" width="208.9" height="4" fill="url(#r178)"/>
<rect x="258.2" y="772" width="208.9" height="4" fill="url(#r179)"/>
<rect x="258.2" y="776" width="208.9" height="4" fill="url(#r180)"/>
<rect x="258.2" y="780" width="208.9" height="4" fill="url(#r181)"/>
<rect x="258.2" y="784" width="208.9" height="4" fill="url(#r182)"/>
<rect x="258.2" y="788" width="208.9" height="4" fill="url(#r183)"/>
<rect x="258.2" y="792" width="208.9" height="4" fill="url(#r184)"/>
<rect x="258.2" y="796" width="208.9" height="4" fill="url(#r185)"/>
<rect x="258.2" y="800" width="208.9" height="4" fill="url(#r186)"/>
<rect x="258.2" y="804" width="208.9" height="4" fill="url(#r187)"/>
<rect x="258.2" y="808" width="208.9" height="4" fill="url(#r188)"/>
<rect x="258.2" y="812" width="208.9" height="4" fill="url(#r189)"/>
<rect x="258.2" y="816" width="208.9" height="4" fill="url(#r190)"/>
<rect x="258.2" y="820" width="208.9" height="4" fill="url(#r191)"/>
<rect x="258.2" y="824" width="208.9" height="4" fill="url(#r192)"/>
<rect x="258.2" y="828" width="208.9" height="4" fill="url(#r193)"/>
<rect x="258.2" y="832" width="208.9" height="4" fill="url(#r194)"/>
<rect x="258.2" y="836" width="208.9" height="4" fill="url(#r195)"/>
<rect x="258.2" y="840" width="208.9" height="4" fill="url(#r196)"/>
<rect x="258.2" y="844" width="208.9" height="4" fill="url(#r197)"/>
<rect x="257.2" y="450.5" width="58.8" height="45.5" fill="#fff"/>
<rect x="477" y="451.5" width="208" height="396.5" fill="#000"/>
<rect x="477" y="452" width="208" height="4" fill="url(#r198)"/>
<rect x="477" y="456" width="208" height="4" fill="url(#r199)"/>
<rect x="477" y="460" width="208" height="4" fill="url(#r200)"/>
<rect x="477" y="464" width="208" height="4" fill="url(#r201)"/>
<rect x="477" y="468" width="208" height="4" fill="url(#r202)"/>
<rect x="477" y="472" width="208" height="4" fill="url(#r203)"/>
<rect x="477" y="476" width="208" height="4" fill="url(#r204)"/>
<rect x="477" y="480" width="208" height="4" fill="url(#r205)"/>
<rect x="477" y="484" width="208" height="4" fill="url(#r206)"/>
<rect x="477" y="488" width="208" height="4" fill="url(#r207)"/>
<rect x="477" y="492" width="208" height="4" fill="url(#r208)"/>
<rect x="477" y="496" width="208" height="4" fill="url(#r209)"/>
<rect x="477" y="500" width="208" height="4" fill="url(#r210)"/>
<rect x="477" y="504" width="208" height="4" fill="url(#r211)"/>
<rect x="477" y="508" width="208" height="4" fill="url(#r212)"/>
<rect x="477" y="512" width="208" height="4" fill="url(#r213)"/>
<rect x="477" y="516" width="208" height="4" fill="url(#r214)"/>
<rect x="477" y="520" width="208" height="4" fill="url(#r215)"/>
<rect x="477" y="524" width="208" height="4" fill="url(#r216)"/>
<rect x="477" y="528" width="208" height="4" fill="url(#r217)"/>
<rect x="477" y="532" width="208" height="4" fill="url(#r218)"/>
<rect x="477" y="536" width="208" height="4" fill="url(#r219)"/>
<rect x="477" y="540" width="208" height="4" fill="url(#r220)"/>
<rect x="477" y="544" width="208" height="4" fill="url(#r221)"/>
<rect x="477" y="548" width="208" height="4" fill="url(#r222)"/>
<rect x="477" y="552" width="208" height="4" fill="url(#r223)"/>
<rect x="477" y="556" width="208" height="4" fill="url(#r224)"/>
<rect x="477" y="560" width="208" height="4" fill="url(#r225)"/>
<rect x="477" y="564" width="208" height="4" fill="url(#r226)"/>
<rect x="477" y="568" width="208" height="4" fill="url(#r227)"/>
<rect x="477" y="572" width="208" height="4" fill="url(#r228)"/>
<rect x="477" y="576" width="208" height="4" fill="url(#r229)"/>
<rect x="477" y="580" width="208" height="4" fill="url(#r230)"/>
<rect x="477" y="584" width="208" height="4" fill="url(#r231)"/>
<rect x="477" y="588" width="208" height="4" fill="url(#r232)"/>
<rect x="477" y="592" width="208" height="4" fill="url(#r233)"/>
<rect x="477" y="596" width="208" height="4" fill="url(#r234)"/>
<rect x="477" y="600" width="208" height="4" fill="url(#r235)"/>
<rect x="477" y="604" width="208" height="4" fill="url(#r236)"/>
<rect x="477" y="608" width="208" height="4" fill="url(#r237)"/>
<rect x="477" y="612" width="208" height="4" fill="url(#r238)"/>
<rect x="477" y="616" width="208" height="4" fill="url(#r239)"/>
<rect x="477" y="620" width="208" height="4" fill="url(#r240)"/>
<rect x="477" y="624" width="208" height="4" fill="url(#r241)"/>
<rect x="477" y="628" width="208" height="4" fill="url(#r242)"/>
<rect x="477" y="632" width="208" height="4" fill="url(#r243)"/>
<rect x="477" y="636" width="208" height="4" fill="url(#r244)"/>
<rect x="477" y="640" width="208" height="4" fill="url(#r245)"/>
<rect x="477" y="644" width="208" height="4" fill="url(#r246)"/>
<rect x="477" y="648" width="208" height="4" fill="url(#r247)"/>
<rect x="477" y="652" width="208" height="4" fill="url(#r248)"/>
<rect x="477" y="656" width="208" height="4" fill="url(#r249)"/>
<rect x="477" y="660" width="208" height="4" fill="url(#r250)"/>
<rect x="477" y="664" width="208" height="4" fill="url(#r251)"/>
<rect x="477" y="668" width="208" height="4" fill="url(#r252)"/>
<rect x="477" y="672" width="208" height="4" fill="url(#r253)"/>
<rect x="477" y="676" width="208" height="4" fill="url(#r254)"/>
<rect x="477" y="680" width="208" height="4" fill="url(#r255)"/>
<rect x="477" y="684" width="208" height="4" fill="url(#r256)"/>
<rect x="477" y="688" width="208" height="4" fill="url(#r257)"/>
<rect x="477" y="692" width="208" height="4" fill="url(#r258)"/>
<rect x="477" y="696" width="208" height="4" fill="url(#r259)"/>
<rect x="477" y="700" width="208" height="4" fill="url(#r260)"/>
<rect x="477" y="704" width="208" height="4" fill="url(#r261)"/>
<rect x="477" y="708" width="208" height="4" fill="url(#r262)"/>
<rect x="477" y="712" width="208" height="4" fill="url(#r263)"/>
<rect x="477" y="716" width="208" height="4" fill="url(#r264)"/>
<rect x="477" y="720" width="208" height="4" fill="url(#r265)"/>
<rect x="477" y="724" width="208" height="4" fill="url(#r266)"/>
<rect x="477" y="728" width="208" height="4" fill="url(#r267)"/>
<rect x="477" y="732" width="208" height="4" fill="url(#r268)"/>
<rect x="477" y="736" width="208" height="4" fill="url(#r269)"/>
<rect x="477" y="740" width="208" height="4" fill="url(#r270)"/>
<rect x="477" y="744" width="208" height="4" fill="url(#r271)"/>
<rect x="477" y="748" width="208" height="4" fill="url(#r272)"/>
<rect x="477" y="752" width="208" height="4" fill="url(#r273)"/>
<rect x="477" y="756" width="208" height="4" fill="url(#r274)"/>
<rect x="477" y="760" width="208" height="4" fill="url(#r275)"/>
<rect x="477" y="764" width="208" height="4" fill="url(#r276)"/>
<rect x="477" y="768" width="208" height="4" fill="url(#r277)"/>
<rect x="477" y="772" width="208" height="4" fill="url(#r278)"/>
<rect x="477" y="776" width="208" height="4" fill="url(#r279)"/>
<rect x="477" y="780" width="208" height="4" fill="url(#r280)"/>
<rect x="477" y="784" width="208" height="4" fill="url(#r281)"/>
<rect x="477" y="788" width="208" height="4" fill="url(#r282)"/>
<rect x="477" y="792" width="208" height="4" fill="url(#r283)"/>
<rect x="477" y="796" width="208" height="4" fill="url(#r284)"/>
<rect x="477" y="800" width="208" height="4" fill="url(#r285)"/>
<rect x="477" y="804" width="208" height="4" fill="url(#r286)"/>
<rect x="477" y="808" width="208" height="4" fill="url(#r287)"/>
<rect x="477" y="812" width="208" height="4" fill="url(#r288)"/>
<rect x="477" y="816" width="208" height="4" fill="url(#r289)"/>
<rect x="477" y="820" width="208" height="4" fill="url(#r290)"/>
<rect x="477" y="824" width="208" height="4" fill="url(#r291)"/>
<rect x="477" y="828" width="208" height="4" fill="url(#r292)"/>
<rect x="477" y="832" width="208" height="4" fill="url(#r293)"/>
<rect x="477" y="836" width="208" height="4" fill="url(#r294)"/>
<rect x="477" y="840" width="208" height="4" fill="url(#r295)"/>
<rect x="477" y="844" width="208" height="4" fill="url(#r296)"/>
<rect x="476" y="450.5" width="50.6" height="44.5" fill="#fff"/>
<line x1="57.8" y1="507.8" x2="192.8" y2="507.8" stroke="#ffff00" stroke-width="3.8"/>
<line x1="57.8" y1="682.3" x2="193.5" y2="682.3" stroke="#ffff00" stroke-width="3.8"/>
<line x1="133.9" y1="537.4" x2="150.5" y2="681.5" stroke="#000" stroke-width="1.3"/>
<line x1="167.3" y1="538.3" x2="150.5" y2="681.5" stroke="#000" stroke-width="1.3"/>
<line x1="150.5" y1="681.5" x2="131.4" y2="847" stroke="#000" stroke-width="1.3"/>
<line x1="150.5" y1="681.5" x2="168.5" y2="847" stroke="#000" stroke-width="1.3"/>
<path d="M67.1,507.3 L62.1,516.3 L65.9,515.3 L65.9,569 L68.3,569 L68.3,515.3 L72.1,516.3 Z" fill="#fff"/>
<path d="M67.1,681.5 L62.1,672.5 L65.9,673.5 L65.9,619 L68.3,619 L68.3,673.5 L72.1,672.5 Z" fill="#fff"/>
<line x1="277.9" y1="506.2" x2="412.2" y2="506.2" stroke="#ffff00" stroke-width="3.8"/>
<line x1="279.5" y1="544.6" x2="414.3" y2="544.6" stroke="#ffff00" stroke-width="3.8"/>
<line x1="277.9" y1="682.5" x2="412.2" y2="682.5" stroke="#ffff00" stroke-width="3.8"/>
<line x1="357.6" y1="576.4" x2="369.6" y2="683" stroke="#000" stroke-width="1.3"/>
<line x1="383.1" y1="577.4" x2="369.6" y2="683" stroke="#000" stroke-width="1.3"/>
<line x1="369.6" y1="683" x2="349" y2="847" stroke="#000" stroke-width="1.3"/>
<line x1="369.6" y1="683" x2="388.9" y2="847" stroke="#000" stroke-width="1.3"/>
<path d="M291.1,545.5 L286.1,554.5 L289.9,553.5 L289.9,592.7 L292.3,592.7 L292.3,553.5 L296.1,554.5 Z" fill="#fff"/>
<path d="M291.1,682 L286.1,673 L289.9,674 L289.9,632.5 L292.3,632.5 L292.3,674 L296.1,673 Z" fill="#fff"/>
<rect x="684" y="451.5" width="1" height="396.5" fill="#555"/>
<line x1="499.8" y1="506.1" x2="635.5" y2="506.1" stroke="#ffff00" stroke-width="3.8"/>
<line x1="498.9" y1="568.3" x2="633.4" y2="568.3" stroke="#ffff00" stroke-width="3.8"/>
<line x1="495.8" y1="682.2" x2="628.8" y2="682.2" stroke="#ffff00" stroke-width="3.8"/>
<rect x="628.8" y="665.5" width="29" height="35.5" fill="#000"/>
<line x1="578.7" y1="599.3" x2="588.2" y2="681.5" stroke="#000" stroke-width="1.3"/>
<line x1="597.9" y1="606.9" x2="588.2" y2="681.5" stroke="#000" stroke-width="1.3"/>
<line x1="588.2" y1="681.5" x2="569.3" y2="846.5" stroke="#000" stroke-width="1.3"/>
<line x1="588.2" y1="681.5" x2="608.2" y2="846.5" stroke="#000" stroke-width="1.3"/>
<path d="M512.5,569 L507.5,578 L511.3,577 L511.3,601.8 L513.7,601.8 L513.7,577 L517.5,578 Z" fill="#fff"/>
<path d="M512.5,681.5 L507.5,672.5 L511.3,673.5 L511.3,644.9 L513.7,644.9 L513.7,673.5 L517.5,672.5 Z" fill="#fff"/>
<line x1="174.7" y1="54.7" x2="158.6" y2="70.3" stroke="#222" stroke-width="0.8"/>
<line x1="111.7" y1="81.3" x2="131.8" y2="122.2" stroke="#222" stroke-width="0.8"/>
<line x1="84.3" y1="108.2" x2="116.4" y2="126.2" stroke="#222" stroke-width="0.8"/>
<line x1="199" y1="101.8" x2="182" y2="116.4" stroke="#222" stroke-width="0.8"/>
<line x1="306.1" y1="105" x2="325.5" y2="129.5" stroke="#222" stroke-width="0.8"/>
<text transform="translate(43.5,18.7) scale(0.9489,1.0000)" font-size="19.71" fill="#000" font-weight="bold" font-style="normal">XPS:C 1<tspan font-style="italic">s</tspan></text>
<text transform="translate(202.94,28.12) scale(1.0196,1.0000)" font-size="26.00" fill="#000" font-weight="bold" font-style="normal">(a)</text>
<text transform="translate(420.95,30.05) scale(1.0492,1.0000)" font-size="25.16" fill="#000" font-weight="bold" font-style="normal">(b)</text>
<text transform="translate(644.61,29.44) scale(1.0286,1.0000)" font-size="25.19" fill="#000" font-weight="bold" font-style="normal">(c)</text>
<text transform="translate(177.92,53.93) scale(1.1292,1.0000)" font-size="16.75" fill="#000" font-weight="bold" font-style="normal">G</text>
<text transform="translate(100.43,76.38) scale(0.9414,1.0000)" font-size="19.97" fill="#000" font-weight="bold" font-style="normal">S1</text>
<text transform="translate(65.98,105.23) scale(0.9031,1.0000)" font-size="19.92" fill="#000" font-weight="bold" font-style="normal">S2</text>
<text transform="translate(188.59,94.09) scale(1.0674,1.0000)" font-size="17.55" fill="#000" font-weight="bold" font-style="normal">SiC</text>
<text transform="translate(289.97,102.4) scale(1.0462,1.0000)" font-size="17.91" fill="#000" font-weight="bold" font-style="normal">S3</text>
<text transform="translate(49.64,179.01) scale(1.0771,1.0000)" font-size="18.27" fill="#000" font-weight="bold" font-style="normal">288</text>
<text transform="translate(99.67,179.01) scale(1.0463,1.0000)" font-size="18.27" fill="#000" font-weight="bold" font-style="normal">286</text>
<text transform="translate(149.66,179.01) scale(1.0463,1.0000)" font-size="18.27" fill="#000" font-weight="bold" font-style="normal">284</text>
<text transform="translate(199.64,179.01) scale(1.0771,1.0000)" font-size="18.27" fill="#000" font-weight="bold" font-style="normal">282</text>
<text transform="translate(89.85,398.56) scale(1.0411,1.0000)" font-size="18.52" fill="#000" font-weight="bold" font-style="normal">1400</text>
<text transform="translate(164.92,398.56) scale(1.0418,1.0000)" font-size="18.52" fill="#000" font-weight="bold" font-style="normal">1600</text>
<text transform="translate(269.64,179.01) scale(1.0771,1.0000)" font-size="18.27" fill="#000" font-weight="bold" font-style="normal">288</text>
<text transform="translate(319.67,179.01) scale(1.0463,1.0000)" font-size="18.27" fill="#000" font-weight="bold" font-style="normal">286</text>
<text transform="translate(369.66,179.01) scale(1.0463,1.0000)" font-size="18.27" fill="#000" font-weight="bold" font-style="normal">284</text>
<text transform="translate(419.64,179.01) scale(1.0771,1.0000)" font-size="18.27" fill="#000" font-weight="bold" font-style="normal">282</text>
<text transform="translate(309.85,398.56) scale(1.0411,1.0000)" font-size="18.52" fill="#000" font-weight="bold" font-style="normal">1400</text>
<text transform="translate(384.92,398.56) scale(1.0418,1.0000)" font-size="18.52" fill="#000" font-weight="bold" font-style="normal">1600</text>
<text transform="translate(489.64,179.01) scale(1.0771,1.0000)" font-size="18.27" fill="#000" font-weight="bold" font-style="normal">288</text>
<text transform="translate(539.67,179.01) scale(1.0463,1.0000)" font-size="18.27" fill="#000" font-weight="bold" font-style="normal">286</text>
<text transform="translate(589.66,179.01) scale(1.0463,1.0000)" font-size="18.27" fill="#000" font-weight="bold" font-style="normal">284</text>
<text transform="translate(639.64,179.01) scale(1.0771,1.0000)" font-size="18.27" fill="#000" font-weight="bold" font-style="normal">282</text>
<text transform="translate(529.85,398.56) scale(1.0411,1.0000)" font-size="18.52" fill="#000" font-weight="bold" font-style="normal">1400</text>
<text transform="translate(604.92,398.56) scale(1.0418,1.0000)" font-size="18.52" fill="#000" font-weight="bold" font-style="normal">1600</text>
<text transform="translate(244.5,207.33) scale(1.0307,1.0000)" font-size="24.73" fill="#000" font-weight="bold" font-style="normal">Binding Energy (eV)</text>
<text transform="translate(18.2,292.3) rotate(-90)" font-size="26.00" fill="#000" font-weight="bold" font-style="normal">Intensity (a. u.)</text>
<text transform="translate(43.99,236.28) scale(0.9560,1.0000)" font-size="19.10" fill="#000" font-weight="bold" font-style="normal">Raman</text>
<text transform="translate(139.88,247.49) scale(1.0300,1.0000)" font-size="18.71" fill="#000" font-weight="bold" font-style="normal">E<tspan font-size="15.5" dy="4">2g</tspan><tspan dy="-4">: G</tspan></text>
<text transform="translate(204.13,247.85) scale(1.0939,1.0000)" font-size="24.14" fill="#000" font-weight="bold" font-style="normal">(d)</text>
<text transform="translate(80.98,327.14) scale(1.0847,1.0000)" font-size="17.68" fill="#000" font-weight="bold" font-style="normal">A<tspan font-size="16.5" dy="4">1g</tspan><tspan dy="-4">: D</tspan></text>
<text transform="translate(194.94,344.3) scale(1.0639,1.0000)" font-size="18.61" fill="#000" font-weight="bold" font-style="normal">D'</text>
<text transform="translate(321.94,322.3) scale(0.9780,1.0000)" font-size="18.58" fill="#000" font-weight="bold" font-style="normal">D</text>
<text transform="translate(402.92,261.09) scale(0.9839,1.0000)" font-size="18.50" fill="#000" font-weight="bold" font-style="normal">G</text>
<text transform="translate(428.42,248.34) scale(1.1395,1.0000)" font-size="24.15" fill="#000" font-weight="bold" font-style="normal">(e)</text>
<text transform="translate(539.94,291.64) scale(0.9788,1.0000)" font-size="17.37" fill="#000" font-weight="bold" font-style="normal">D</text>
<text transform="translate(620.4,253.93) scale(0.9962,1.0000)" font-size="18.38" fill="#000" font-weight="bold" font-style="normal">G</text>
<text transform="translate(650.95,249.34) scale(1.0673,1.0000)" font-size="24.28" fill="#000" font-weight="bold" font-style="normal">(f)</text>
<text transform="translate(637.45,336.12) scale(1.1437,1.0000)" font-size="17.37" fill="#000" font-weight="bold" font-style="normal">D'</text>
<text transform="translate(254.99,434.24) scale(1.0373,1.0000)" font-size="24.64" fill="#000" font-weight="bold" font-style="normal">Raman shift</text>
<text transform="translate(394.65,433.82) scale(1.1215,1.0000)" font-size="35.76" fill="#000" font-weight="bold" font-style="normal">(</text>
<text transform="translate(407.09,434.11) scale(0.9336,1.0000)" font-size="27.22" fill="#000" font-weight="bold" font-style="normal">cm</text>
<text transform="translate(440.32,420.2) scale(1.3821,1.0000)" font-size="10.50" fill="#000" font-weight="bold" font-style="normal">-1</text>
<text transform="translate(451.47,434.98) scale(1.2960,1.0000)" font-size="34.86" fill="#000" font-weight="bold" font-style="normal">)</text>
<text transform="translate(52.08,485.13) scale(1.0309,1.0000)" font-size="28.15" fill="#000" font-weight="bold" font-style="normal">(g)</text>
<text transform="translate(268.3,485.09) scale(1.0579,1.0000)" font-size="27.44" fill="#000" font-weight="bold" font-style="normal">(h)</text>
<text transform="translate(486.85,482.18) scale(1.0554,1.0000)" font-size="28.40" fill="#000" font-weight="bold" font-style="normal">(i)</text>
<text transform="translate(200.97,494.19) scale(0.9821,1.0000)" font-size="29.69" fill="#fff" font-weight="bold" font-style="normal">E<tspan font-size="19.3" dy="5.5">F</tspan></text>
<text transform="translate(201.95,685.03) scale(1.0140,1.0000)" font-size="29.40" fill="#fff" font-weight="bold" font-style="normal">E<tspan font-size="19.3" dy="5.5">D</tspan></text>
<text transform="translate(417.47,494.07) scale(0.9663,1.0000)" font-size="29.35" fill="#fff" font-weight="bold" font-style="normal">E<tspan font-size="19.3" dy="5.5">F</tspan></text>
<text transform="translate(414.94,536.86) scale(0.9919,1.0000)" font-size="29.39" fill="#fff" font-weight="bold" font-style="normal">E<tspan font-size="19.3" dy="5.5">B</tspan></text>
<text transform="translate(640,493.96) scale(0.9670,1.0000)" font-size="29.29" fill="#fff" font-weight="bold" font-style="normal">E<tspan font-size="19.3" dy="5.5">F</tspan></text>
<text transform="translate(640,546.21) scale(0.9964,1.0000)" font-size="28.43" fill="#fff" font-weight="bold" font-style="normal">E<tspan font-size="19.3" dy="5.5">B</tspan></text>
<text transform="translate(54.68,601.36) scale(1.0177,1.0000)" font-size="22.13" fill="#fff" font-weight="bold" font-style="normal">0.42 eV</text>
<text transform="translate(272.07,534.59) scale(1.0333,1.0000)" font-size="22.05" fill="#fff" font-weight="bold" font-style="normal">0.09 eV</text>
<text transform="translate(270.66,622.02) scale(1.1584,1.0000)" font-size="19.67" fill="#fff" font-weight="bold" font-style="normal">0.33 eV</text>
<text transform="translate(489.58,545.1) scale(1.0236,1.0000)" font-size="22.00" fill="#fff" font-weight="bold" font-style="normal">0.13 eV</text>
<text transform="translate(486.16,629.39) scale(1.0965,1.0000)" font-size="20.77" fill="#fff" font-weight="bold" font-style="normal">0.27 eV</text>
<text transform="translate(35.9,883.13) scale(0.8960,1.0000)" font-size="28.46" fill="#000" font-weight="bold" font-style="normal">-0.1</text>
<text transform="translate(134.88,883.13) scale(0.9155,1.0000)" font-size="28.46" fill="#000" font-weight="bold" font-style="normal">0.0</text>
<text transform="translate(204.49,883.13) scale(0.9140,1.0000)" font-size="28.46" fill="#000" font-weight="bold" font-style="normal">+0.1</text>
<text transform="translate(265.31,883.13) scale(0.8955,1.0000)" font-size="28.46" fill="#000" font-weight="bold" font-style="normal">-0.1</text>
<text transform="translate(350.36,883.13) scale(0.9387,1.0000)" font-size="28.46" fill="#000" font-weight="bold" font-style="normal">0.0</text>
<text transform="translate(413.76,883.13) scale(0.9308,1.0000)" font-size="28.46" fill="#000" font-weight="bold" font-style="normal">+0.1</text>
<text transform="translate(480.79,883.13) scale(0.8961,1.0000)" font-size="28.46" fill="#000" font-weight="bold" font-style="normal">-0.1</text>
<text transform="translate(573.27,883.13) scale(0.9384,1.0000)" font-size="28.46" fill="#000" font-weight="bold" font-style="normal">0.0</text>
<text transform="translate(637.48,883.13) scale(0.9145,1.0000)" font-size="28.46" fill="#000" font-weight="bold" font-style="normal">+0.1</text>
<text transform="translate(22.3,704) rotate(-90)" font-size="26.00" fill="#000" font-weight="bold" font-style="normal">B. E. (eV)</text>
<text transform="translate(324.93,929.1) scale(1.0496,1.0000)" font-size="24.14" fill="#000" font-weight="bold" font-style="italic">k</text>
<text transform="translate(338.32,938.27) scale(1.0940,1.0000)" font-size="16.28" fill="#000" font-weight="normal" font-style="normal">||</text>
<text transform="translate(350.79,929.19) scale(1.0575,1.0000)" font-size="35.22" fill="#000" font-weight="bold" font-style="normal">(</text>
<text transform="translate(363.41,928.76) scale(1.0935,1.0000)" font-size="23.28" fill="#000" font-weight="bold" font-style="normal">A</text>
<text transform="translate(381.92,916.69) scale(0.9266,1.0000)" font-size="15.27" fill="#000" font-weight="bold" font-style="normal">-1</text>
<text transform="translate(393.91,929.19) scale(1.0933,1.0000)" font-size="35.22" fill="#000" font-weight="bold" font-style="normal">)</text></svg></body></html>
